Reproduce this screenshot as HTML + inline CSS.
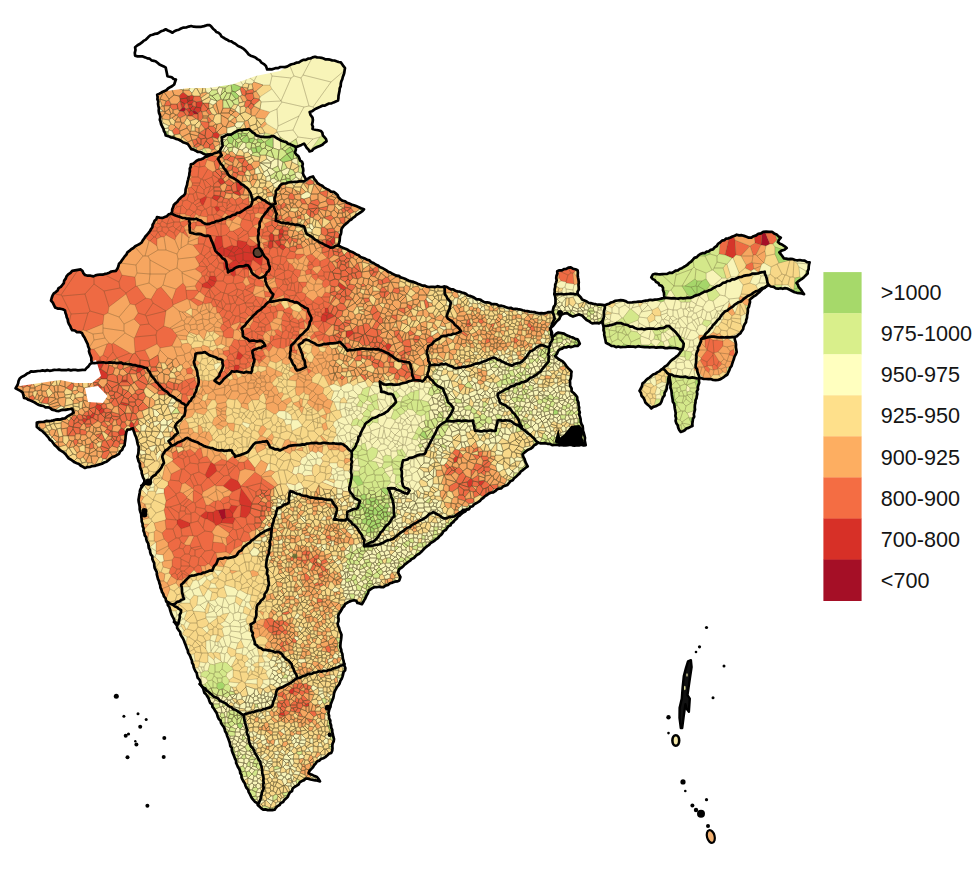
<!DOCTYPE html><html><head><meta charset="utf-8"><style>
html,body{margin:0;padding:0;background:#fff;overflow:hidden}
svg{display:block}
</style></head><body>
<svg width="973" height="883" viewBox="0 0 973 883">
<defs><clipPath id="clipIndia"><polygon points="135.1,47.2 140.2,43.8 150.4,35.3 158.9,32.7 165.7,29.3 172.5,32.7 181.0,28.5 191.2,26.0 201.3,26.8 209.8,25.1 214.9,30.2 225.1,38.7 235.3,43.8 245.5,50.6 250.6,55.7 257.4,59.1 265.9,65.9 267.2,69.5 287.0,66.6 301.0,61.0 315.0,56.7 340.8,62.4 345.0,68.0 340.8,83.6 338.0,100.6 318.0,107.7 309.7,112.0 312.5,117.6 312.5,129.0 321.0,131.0 326.6,141.3 319.8,145.9 309.6,151.5 304.0,143.6 296.0,147.0 294.9,152.6 299.4,158.3 302.8,164.0 302.8,173.0 306.2,179.8 309.6,177.6 313.0,176.4 317.6,183.2 326.6,188.9 335.7,193.4 340.2,199.0 349.3,203.6 358.3,207.0 364.0,209.3 358.3,213.8 349.3,220.6 342.5,227.4 340.0,236.0 338.3,245.4 350.0,251.3 373.6,263.0 388.3,271.9 409.0,280.7 426.6,286.6 444.3,286.6 462.0,292.5 482.6,301.3 506.0,307.2 529.7,311.6 541.3,313.2 552.6,312.1 555.5,302.0 554.3,294.0 556.0,282.6 557.2,271.3 570.8,267.4 577.6,270.2 578.7,287.2 577.6,294.0 582.1,299.6 588.9,303.0 598.0,304.7 604.7,305.3 615.0,300.8 620.6,300.2 630.0,302.5 636.6,301.9 657.2,299.5 664.5,298.0 663.0,287.7 651.3,277.4 652.8,274.5 671.9,273.0 683.7,267.0 698.4,255.3 713.0,249.4 722.0,240.6 736.7,234.7 751.4,237.7 763.2,231.8 772.0,231.8 780.8,237.7 777.9,242.0 786.7,248.0 779.4,252.4 783.8,258.3 802.1,260.5 809.6,262.4 807.7,273.6 796.5,282.9 804.0,294.1 794.6,292.3 787.2,288.5 776.0,288.5 768.5,284.8 761.0,290.4 749.8,299.7 747.9,311.0 746.0,322.2 740.4,333.4 734.8,337.1 736.7,352.0 733.0,361.4 727.4,374.5 718.0,380.0 706.0,379.0 699.3,378.2 698.4,385.0 695.5,402.6 692.5,426.0 680.7,432.0 676.3,423.2 674.8,408.5 670.4,387.8 669.5,374.6 666.0,390.8 660.1,404.0 651.3,408.5 645.4,402.6 639.5,390.8 642.5,383.4 651.3,376.0 663.0,368.7 670.4,361.3 677.8,355.5 682.2,349.6 672.0,348.0 633.6,346.6 620.6,347.2 611.5,346.0 605.9,342.7 604.7,337.0 603.6,328.0 602.5,321.2 599.0,323.4 592.3,323.4 586.6,320.0 582.1,315.5 578.7,314.4 573.0,316.6 567.4,313.2 561.7,314.4 559.4,318.9 555.0,323.4 550.4,328.0 552.6,337.0 558.3,332.5 564.0,333.6 570.8,337.0 577.6,339.3 579.8,343.8 577.6,346.0 564.0,347.2 558.3,350.6 555.0,356.3 563.0,361.7 571.6,371.6 570.1,382.9 571.6,391.4 577.2,397.0 578.6,405.5 580.0,416.9 582.9,428.2 585.7,445.2 554.6,445.0 537.9,442.5 522.6,454.4 527.7,466.3 520.9,471.4 507.3,485.0 487.0,495.0 459.7,515.5 436.0,539.3 415.5,556.3 399.3,569.0 398.1,572.5 400.4,577.0 399.3,580.4 392.5,582.6 383.4,587.2 374.4,587.2 368.7,590.6 365.3,598.5 361.9,604.2 357.4,603.0 356.2,600.8 351.7,600.8 345.0,604.2 341.5,609.8 338.1,616.6 338.1,625.7 341.5,634.7 340.4,645.0 342.6,656.3 345.4,668.0 342.5,676.6 334.0,693.6 328.4,713.4 331.2,727.6 334.0,739.0 331.2,753.0 317.0,761.6 308.5,773.0 317.0,777.0 320.0,781.4 305.7,778.5 294.4,787.0 286.0,798.4 274.6,809.7 263.2,809.7 252.0,798.4 243.4,781.4 235.0,758.7 226.4,733.2 215.0,710.6 203.8,690.8 195.3,671.0 186.8,648.3 184.0,640.7 175.5,623.7 170.0,609.5 161.4,589.7 155.7,570.0 150.0,550.0 144.4,533.0 141.6,519.0 138.7,502.0 140.0,490.6 144.4,482.0 141.6,470.8 137.3,456.6 138.7,446.7 136.0,436.8 133.0,428.3 127.4,429.7 126.0,434.0 124.6,445.3 119.0,453.8 102.0,463.7 85.0,468.0 70.8,459.5 56.6,446.7 45.3,434.0 36.8,427.0 36.8,422.6 51.0,420.8 65.0,418.4 73.6,412.7 72.2,408.5 56.6,411.0 36.8,403.8 24.0,398.0 22.6,392.5 15.6,388.3 19.8,378.4 31.0,371.3 56.6,370.0 85.0,370.0 92.0,362.8 90.6,355.7 87.8,344.4 82.0,333.0 72.2,330.2 68.0,321.7 65.0,310.4 55.2,307.6 51.0,300.5 53.8,293.4 62.3,285.0 66.5,276.4 72.2,270.8 80.7,269.4 85.0,275.0 93.4,276.4 116.0,270.8 119.0,263.7 127.4,252.4 141.6,242.5 150.0,231.0 157.0,217.0 162.5,218.0 171.0,213.8 173.8,205.0 185.0,194.0 188.0,180.0 190.8,164.3 205.0,157.0 212.0,154.4 204.7,154.2 191.2,149.1 187.8,144.0 175.9,138.9 165.7,135.5 160.6,121.9 158.9,108.3 157.2,94.7 164.0,91.3 174.2,84.5 175.9,79.5 167.4,76.1 165.7,67.6 153.8,60.8 145.3,57.4 135.1,55.7"/></clipPath>
<filter id="soft" x="-5%" y="-5%" width="110%" height="110%"><feGaussianBlur stdDeviation="2"/></filter></defs>
<rect width="973" height="883" fill="#fff"/>
<path d="M296.0,147.0L304.0,143.6L309.6,151.5L319.8,145.9L326.6,141.3L321.0,131.0L312.5,129.0L312.5,117.6L309.7,112.0L318.0,107.7L338.0,100.6L340.8,83.6L345.0,68.0L340.8,62.4L315.0,56.7L301.0,61.0L287.0,66.6L267.2,69.5L265.9,65.9L257.4,59.1L250.6,55.7L245.5,50.6L235.3,43.8L225.1,38.7L214.9,30.2L209.8,25.1L201.3,26.8L191.2,26.0L181.0,28.5L172.5,32.7L165.7,29.3L158.9,32.7L150.4,35.3L140.2,43.8L135.1,47.2L135.1,55.7L145.3,57.4L153.8,60.8L165.7,67.6L167.4,76.1L175.9,79.5L174.2,84.5L164.0,91.3L157.2,94.7L158.9,108.3L160.6,121.9L165.7,135.5L175.9,138.9L187.8,144.0L191.2,149.1L204.7,154.2L212.0,154.4L219.9,151.0L222.6,146.0L221.7,137.2L232.5,133.6L239.8,130.0L248.9,129.0L256.1,135.4L265.2,137.2L274.2,136.3L281.5,140.8L290.5,144.4L296.0,147.0Z" fill="#fbf3bd"/><path d="M306.2,179.8L302.8,173.0L302.8,164.0L299.4,158.3L294.9,152.6L296.0,147.0L290.5,144.4L281.5,140.8L274.2,136.3L265.2,137.2L256.1,135.4L248.9,129.0L239.8,130.0L232.5,133.6L221.7,137.2L222.6,146.0L219.9,151.0L221.7,155.3L218.0,158.9L225.3,169.8L230.7,177.0L239.8,182.5L247.0,187.9L250.7,193.3L252.5,200.6L257.9,197.0L267.0,202.4L272.4,205.0L275.7,203.6L274.5,200.2L275.7,191.2L281.3,184.4L292.6,182.0L304.0,181.5L306.2,179.8Z" fill="#d5d98a"/><path d="M338.3,245.4L340.0,236.0L342.5,227.4L349.3,220.6L358.3,213.8L364.0,209.3L358.3,207.0L349.3,203.6L340.2,199.0L335.7,193.4L326.6,188.9L317.6,183.2L313.0,176.4L309.6,177.6L306.2,179.8L304.0,181.5L292.6,182.0L281.3,184.4L275.7,191.2L274.5,200.2L275.7,203.6L272.4,205.0L276.8,213.8L275.7,220.6L281.3,222.9L292.6,224.0L304.0,226.3L306.8,234.0L319.5,242.3L330.4,247.7L338.3,245.4Z" fill="#ee9258"/><path d="M444.3,286.6L426.6,286.6L409.0,280.7L388.3,271.9L373.6,263.0L350.0,251.3L338.3,245.4L330.4,247.7L319.5,242.3L306.8,234.0L304.0,226.3L292.6,224.0L281.3,222.9L275.7,220.6L276.8,213.8L272.4,205.0L265.2,213.3L259.7,222.3L257.9,238.1L258.9,247.2L264.3,256.2L267.9,259.9L269.7,268.9L264.3,276.2L267.9,287.0L273.3,294.3L269.7,301.5L286.0,299.7L298.7,303.3L307.8,308.8L311.4,317.8L307.8,328.7L298.7,337.8L291.5,345.0L289.7,357.7L296.9,370.4L306.0,366.8L302.3,354.1L298.7,345.0L306.0,339.6L316.8,345.0L335.0,343.2L340.0,341.8L347.4,350.6L359.1,349.1L378.3,349.1L388.6,353.6L398.9,360.9L409.2,362.4L412.1,371.2L413.6,380.0L422.4,381.5L427.5,376.0L429.8,365.3L426.9,353.6L428.3,346.2L443.1,335.9L450.8,335.0L461.0,331.0L454.8,324.8L446.7,316.7L448.7,310.6L450.8,302.4L444.7,294.3L444.3,286.6Z" fill="#ea8a55"/><path d="M552.6,312.1L541.3,313.2L529.7,311.6L506.0,307.2L482.6,301.3L462.0,292.5L444.3,286.6L444.7,294.3L450.8,302.4L448.7,310.6L446.7,316.7L454.8,324.8L461.0,331.0L450.8,335.0L443.1,335.9L428.3,346.2L426.9,353.6L429.8,365.3L446.0,363.9L456.3,368.3L471.1,365.6L483.4,361.5L493.6,357.5L501.7,361.5L511.9,365.6L522.1,361.5L530.3,351.3L540.5,345.2L548.6,347.3L552.7,339.1L550.6,328.9L550.6,328.9L550.4,328.0L551.3,327.1L554.7,318.7L552.6,312.1Z" fill="#dba46c"/><path d="M554.3,294.0L555.5,302.0L552.6,312.1L554.7,318.7L551.3,327.1L555.0,323.4L559.4,318.9L561.7,314.4L567.4,313.2L573.0,316.6L578.7,314.4L582.1,315.5L586.6,320.0L592.3,323.4L599.0,323.4L602.5,321.2L603.6,318.0L604.7,305.3L598.0,304.7L588.9,303.0L582.1,299.6L577.6,294.0L554.3,294.0Z" fill="#d8d690"/><path d="M577.6,294.0L578.7,287.2L577.6,270.2L570.8,267.4L557.2,271.3L556.0,282.6L554.3,294.0L577.6,294.0Z" fill="#e8a070"/><path d="M664.5,298.0L657.2,299.5L636.6,301.9L630.0,302.5L620.6,300.2L615.0,300.8L604.7,305.3L603.6,318.0L602.5,321.2L603.3,326.2L604.2,326.0L618.9,323.0L639.5,329.0L657.2,329.0L669.0,326.0L677.8,334.8L683.7,343.7L682.2,349.6L677.8,355.5L670.4,361.3L663.0,368.7L669.5,374.6L683.0,377.0L699.3,378.2L695.6,365.1L697.0,352.0L701.2,339.0L714.3,324.0L723.6,312.8L736.7,303.5L751.7,294.1L768.5,284.8L764.7,271.7L746.0,275.4L727.4,281.0L708.7,290.4L690.0,297.9L676.0,298.5L664.5,298.0Z" fill="#e4e2a0"/><path d="M768.5,284.8L776.0,288.5L787.2,288.5L794.6,292.3L804.0,294.1L796.5,282.9L807.7,273.6L809.6,262.4L802.1,260.5L783.8,258.3L779.4,252.4L786.7,248.0L777.9,242.0L780.8,237.7L772.0,231.8L763.2,231.8L751.4,237.7L736.7,234.7L722.0,240.6L713.0,249.4L698.4,255.3L683.7,267.0L671.9,273.0L652.8,274.5L651.3,277.4L663.0,287.7L664.5,298.0L676.0,298.5L690.0,297.9L708.7,290.4L727.4,281.0L746.0,275.4L764.7,271.7L768.5,284.8Z" fill="#bcd87e"/><path d="M734.8,337.1L740.4,333.4L746.0,322.2L747.9,311.0L749.8,299.7L761.0,290.4L768.5,284.8L751.7,294.1L736.7,303.5L723.6,312.8L714.3,324.0L701.2,339.0L708.7,337.1L721.8,337.1L734.8,337.1Z" fill="#e8b070"/><path d="M699.3,378.2L706.0,379.0L718.0,380.0L727.4,374.5L733.0,361.4L736.7,352.0L734.8,337.1L721.8,337.1L708.7,337.1L701.2,339.0L697.0,352.0L695.6,365.1L699.3,378.2Z" fill="#ee9c60"/><path d="M669.5,374.6L670.4,387.8L674.8,408.5L676.3,423.2L680.7,432.0L692.5,426.0L695.5,402.6L698.4,385.0L699.3,378.2L683.0,377.0L669.5,374.6Z" fill="#d2df90"/><path d="M663.0,368.7L651.3,376.0L642.5,383.4L639.5,390.8L645.4,402.6L651.3,408.5L660.1,404.0L666.0,390.8L669.5,374.6L663.0,368.7Z" fill="#e4d890"/><path d="M603.3,326.2L603.6,328.0L604.7,337.0L605.9,342.7L611.5,346.0L620.6,347.2L633.6,346.6L672.0,348.0L682.2,349.6L683.7,343.7L677.8,334.8L669.0,326.0L657.2,329.0L639.5,329.0L618.9,323.0L604.2,326.0L603.3,326.2Z" fill="#d6e39a"/><path d="M551.3,327.1L550.4,328.0L550.6,328.9L551.3,327.1Z" fill="#d8d690"/><path d="M537.9,442.5L554.6,445.0L585.7,445.2L582.9,428.2L580.0,416.9L578.6,405.5L577.2,397.0L571.6,391.4L570.1,382.9L571.6,371.6L563.0,361.7L555.0,356.3L558.3,350.6L564.0,347.2L577.6,346.0L579.8,343.8L577.6,339.3L570.8,337.0L564.0,333.6L558.3,332.5L552.6,337.0L550.6,328.9L550.6,328.9L552.7,339.1L548.6,347.3L548.6,361.5L540.5,371.7L524.1,381.9L511.9,386.0L497.6,394.1L499.7,402.3L509.9,408.4L518.0,418.6L522.1,428.8L532.3,437.0L537.9,442.5Z" fill="#d8d690"/><path d="M468.5,508.9L487.0,495.0L507.3,485.0L520.9,471.4L527.7,466.3L522.6,454.4L537.9,442.5L532.3,437.0L522.1,428.8L520.1,426.8L509.9,420.6L497.6,420.6L495.6,430.8L475.2,430.8L473.2,420.6L456.9,420.6L446.4,421.1L437.5,428.0L433.2,436.7L428.9,445.3L424.6,453.9L416.0,456.0L403.1,460.3L401.0,469.0L403.1,486.1L409.6,490.4L407.4,493.7L394.5,488.3L388.0,488.3L392.4,499.0L394.5,516.2L383.8,529.1L375.2,539.9L364.4,546.3L379.5,544.2L394.5,537.7L405.3,529.1L420.3,520.5L433.2,512.0L444.0,518.4L454.7,516.2L463.3,509.8L468.0,509.0L468.5,508.9Z" fill="#e6d48c"/><path d="M344.4,664.0L342.6,656.3L340.4,645.0L341.5,634.7L338.1,625.7L338.1,616.6L341.5,609.8L345.0,604.2L351.7,600.8L356.2,600.8L357.4,603.0L361.9,604.2L365.3,598.5L368.7,590.6L374.4,587.2L383.4,587.2L392.5,582.6L399.3,580.4L400.4,577.0L398.1,572.5L399.3,569.0L415.5,556.3L436.0,539.3L459.7,515.5L468.5,508.9L468.0,509.0L463.3,509.8L454.7,516.2L444.0,518.4L433.2,512.0L420.3,520.5L405.3,529.1L394.5,537.7L379.5,544.2L364.4,546.3L364.4,539.9L358.0,529.1L347.2,518.4L345.0,520.5L334.0,519.6L336.9,508.3L331.2,499.8L308.5,497.0L290.1,491.3L288.7,502.7L277.4,508.3L271.7,528.1L268.9,550.8L266.1,565.0L268.9,584.8L263.2,598.9L257.6,604.6L254.8,621.6L250.5,624.4L254.8,644.2L263.2,649.9L280.2,652.7L291.6,664.0L297.2,678.2L314.2,672.5L331.2,669.7L344.4,664.0Z" fill="#e9ad70"/><path d="M258.1,804.6L263.2,809.7L274.6,809.7L286.0,798.4L294.4,787.0L305.7,778.5L320.0,781.4L317.0,777.0L308.5,773.0L317.0,761.6L331.2,753.0L334.0,739.0L331.2,727.6L328.4,713.4L334.0,693.6L342.5,676.6L345.4,668.0L344.4,664.0L331.2,669.7L314.2,672.5L297.2,678.2L288.7,683.9L277.4,689.5L271.7,706.5L263.2,709.3L243.4,715.0L246.3,727.6L249.1,741.7L254.8,753.0L260.4,761.6L263.2,775.7L263.2,789.9L258.1,804.6Z" fill="#ebb678"/><path d="M201.7,685.9L203.8,690.8L215.0,710.6L226.4,733.2L235.0,758.7L243.4,781.4L252.0,798.4L258.1,804.6L263.2,789.9L263.2,775.7L260.4,761.6L254.8,753.0L249.1,741.7L246.3,727.6L243.4,715.0L229.3,706.5L212.3,695.2L201.7,685.9Z" fill="#e0e29c"/><path d="M175.1,622.6L175.5,623.7L184.0,640.7L186.8,648.3L195.3,671.0L201.7,685.9L212.3,695.2L229.3,706.5L243.4,715.0L263.2,709.3L271.7,706.5L277.4,689.5L288.7,683.9L297.2,678.2L291.6,664.0L280.2,652.7L263.2,649.9L254.8,644.2L250.5,624.4L254.8,621.6L257.6,604.6L263.2,598.9L268.9,584.8L266.1,565.0L268.9,550.8L271.7,528.1L260.4,533.8L246.3,545.1L235.0,556.4L218.0,559.3L212.3,570.6L189.6,576.3L181.1,584.8L184.0,598.9L172.7,604.6L181.1,610.2L178.3,624.4L175.1,622.6Z" fill="#f3d38c"/><path d="M166.5,601.5L170.0,609.5L175.1,622.6L178.3,624.4L181.1,610.2L172.7,604.6L166.5,601.5Z" fill="#f0d890"/><path d="M142.9,484.9L140.0,490.6L138.7,502.0L141.6,519.0L144.4,533.0L150.0,550.0L155.7,570.0L161.4,589.7L166.5,601.5L172.7,604.6L184.0,598.9L181.1,584.8L189.6,576.3L212.3,570.6L218.0,559.3L235.0,556.4L246.3,545.1L260.4,533.8L271.7,528.1L277.4,508.3L288.7,502.7L290.1,491.3L308.5,497.0L331.2,499.8L336.9,508.3L334.0,519.6L345.0,520.5L347.2,518.4L347.2,511.9L358.0,507.6L360.1,501.2L353.7,496.9L349.4,490.4L351.5,477.5L351.5,466.8L351.5,451.7L342.9,444.2L333.8,443.2L314.0,443.2L288.5,446.1L280.0,450.5L270.0,447.3L266.8,441.0L255.7,442.6L247.8,452.0L235.1,456.8L231.9,450.5L219.3,450.5L203.4,445.7L187.6,437.8L171.7,445.7L165.4,450.5L162.2,456.8L164.0,463.0L158.3,471.6L147.0,482.9L142.9,484.9Z" fill="#ec7148"/><path d="M92.0,362.8L85.0,370.0L56.6,370.0L31.0,371.3L19.8,378.4L15.6,388.3L22.6,392.5L24.0,398.0L36.8,403.8L56.6,411.0L72.2,408.5L73.6,412.7L65.0,418.4L51.0,420.8L36.8,422.6L36.8,427.0L45.3,434.0L56.6,446.7L70.8,459.5L85.0,468.0L102.0,463.7L119.0,453.8L124.6,445.3L126.0,434.0L127.4,429.7L133.0,428.3L136.0,436.8L138.7,446.7L137.3,456.6L141.6,470.8L144.4,482.0L142.9,484.9L147.0,482.9L158.3,471.6L164.0,463.0L162.2,456.8L165.4,450.5L171.7,445.7L168.5,441.0L178.0,433.0L174.9,426.7L178.0,422.0L184.4,415.6L186.0,406.0L180.0,401.0L169.7,395.0L156.0,382.0L147.0,368.0L135.0,365.0L118.9,362.8L92.0,362.8Z" fill="#ec8450"/><path d="M171.0,213.8L162.5,218.0L157.0,217.0L150.0,231.0L141.6,242.5L127.4,252.4L119.0,263.7L116.0,270.8L93.4,276.4L85.0,275.0L80.7,269.4L72.2,270.8L66.5,276.4L62.3,285.0L53.8,293.4L51.0,300.5L55.2,307.6L65.0,310.4L68.0,321.7L72.2,330.2L82.0,333.0L87.8,344.4L90.6,355.7L92.0,362.8L118.9,362.8L135.0,365.0L147.0,368.0L156.0,382.0L169.7,395.0L180.0,401.0L186.0,406.0L193.9,396.5L198.7,382.3L197.1,371.2L193.9,361.7L195.5,353.8L205.0,352.2L209.8,355.4L222.5,360.1L222.5,368.0L219.3,376.0L214.5,380.7L219.3,383.9L227.2,376.0L232.0,371.2L251.0,372.8L254.2,361.7L252.6,350.6L265.2,345.9L262.0,341.1L249.4,341.1L243.0,336.3L241.6,328.7L248.0,321.5L258.9,310.6L269.7,301.5L273.3,294.3L267.9,287.0L264.3,276.2L258.9,278.0L253.4,274.4L248.0,265.3L237.1,267.1L228.0,272.5L226.2,261.7L215.4,250.8L209.9,236.3L190.0,232.7L189.1,218.7L180.0,216.9L171.0,213.8Z" fill="#ec7048"/><path d="M212.0,154.4L205.0,157.0L190.8,164.3L188.0,180.0L185.0,194.0L173.8,205.0L171.0,213.8L180.0,216.9L189.1,218.7L196.3,218.7L207.2,224.2L225.3,218.7L232.5,215.1L241.6,211.5L250.7,206.0L252.5,200.6L250.7,193.3L247.0,187.9L239.8,182.5L230.7,177.0L225.3,169.8L218.0,158.9L221.7,155.3L219.9,151.0L212.0,154.4Z" fill="#e4653f"/><path d="M252.5,200.6L250.7,206.0L241.6,211.5L232.5,215.1L225.3,218.7L207.2,224.2L196.3,218.7L189.1,218.7L190.0,232.7L209.9,236.3L215.4,250.8L226.2,261.7L228.0,272.5L237.1,267.1L248.0,265.3L253.4,274.4L258.9,278.0L264.3,276.2L269.7,268.9L267.9,259.9L264.3,256.2L258.9,247.2L257.9,238.1L259.7,222.3L265.2,213.3L272.4,205.0L267.0,202.4L257.9,197.0L252.5,200.6Z" fill="#e25f3d"/><path d="M413.6,380.0L412.1,371.2L409.2,362.4L398.9,360.9L388.6,353.6L378.3,349.1L359.1,349.1L347.4,350.6L340.0,341.8L335.0,343.2L316.8,345.0L306.0,339.6L298.7,345.0L302.3,354.1L306.0,366.8L296.9,370.4L289.7,357.7L291.5,345.0L298.7,337.8L307.8,328.7L311.4,317.8L307.8,308.8L298.7,303.3L286.0,299.7L269.7,301.5L258.9,310.6L248.0,321.5L241.6,328.7L243.0,336.3L249.4,341.1L262.0,341.1L265.2,345.9L252.6,350.6L254.2,361.7L251.0,372.8L232.0,371.2L227.2,376.0L219.3,383.9L214.5,380.7L219.3,376.0L222.5,368.0L222.5,360.1L209.8,355.4L205.0,352.2L195.5,353.8L193.9,361.7L197.1,371.2L198.7,382.3L193.9,396.5L186.0,406.0L184.4,415.6L178.0,422.0L174.9,426.7L178.0,433.0L168.5,441.0L171.7,445.7L187.6,437.8L203.4,445.7L219.3,450.5L231.9,450.5L235.1,456.8L247.8,452.0L255.7,442.6L266.8,441.0L270.0,447.3L280.0,450.5L288.5,446.1L314.0,443.2L333.8,443.2L342.9,444.2L351.5,451.7L354.7,447.8L360.6,433.1L365.0,424.2L372.4,418.3L385.6,412.4L396.0,402.1L393.0,394.8L381.2,391.8L379.8,381.5L384.2,384.5L398.9,384.5L413.6,380.0Z" fill="#f5c27d"/><path d="M351.5,451.7L351.5,466.8L351.5,477.5L349.4,490.4L353.7,496.9L360.1,501.2L358.0,507.6L347.2,511.9L347.2,518.4L358.0,529.1L364.4,539.9L364.4,546.3L375.2,539.9L383.8,529.1L394.5,516.2L392.4,499.0L388.0,488.3L394.5,488.3L407.4,493.7L409.6,490.4L403.1,486.1L401.0,469.0L403.1,460.3L416.0,456.0L424.6,453.9L428.9,445.3L433.2,436.7L437.5,428.0L446.4,421.1L449.0,416.9L453.4,408.0L447.5,400.7L443.1,388.9L435.7,384.5L427.5,376.0L422.4,381.5L413.6,380.0L398.9,384.5L384.2,384.5L379.8,381.5L381.2,391.8L393.0,394.8L396.0,402.1L385.6,412.4L372.4,418.3L365.0,424.2L360.6,433.1L354.7,447.8L351.5,451.7Z" fill="#d2e390"/><path d="M429.8,365.3L427.5,376.0L435.7,384.5L443.1,388.9L447.5,400.7L453.4,408.0L449.0,416.9L446.4,421.1L456.9,420.6L473.2,420.6L475.2,430.8L495.6,430.8L497.6,420.6L509.9,420.6L520.1,426.8L522.1,428.8L518.0,418.6L509.9,408.4L499.7,402.3L497.6,394.1L511.9,386.0L524.1,381.9L540.5,371.7L548.6,361.5L548.6,347.3L540.5,345.2L530.3,351.3L522.1,361.5L511.9,365.6L501.7,361.5L493.6,357.5L483.4,361.5L471.1,365.6L456.3,368.3L446.0,363.9L429.8,365.3Z" fill="#dcd68e"/><g stroke="#4e4426" stroke-opacity="0.3" stroke-width="0.55" stroke-linejoin="round"><path fill="#a50f26" d="M761 245l5 1 4-2-5-12-2 0-1 1zM222 520l-4-10 6-1 1 0 1 9z"/><path fill="#d5352a" d="M200 199l6-3 1 1-4 9-1-1-2-3zM219 207l1 3-3 2-3-5 3-1zM755 243l6 2 1-12-8 3zM221 236l1 0 1 10-6 4-4-3 3-11 3 0zM234 246l-3 5-6-3 7-3zM247 244l-5 5-3-1-2-2 0-5 1-1 9 2zM237 246l2 2-5 5-3-2 3-5zM247 244l-5 5 1 3 8 1-1-7zM254 246l-1 8-2-1-1-7zM254 246l-1 8 1 1 5-2-1-7 0-2-1 0zM725 255l7 3 1 0 3-3-1-15-1-4-5 2zM224 248l0 8-7 0 0-6 6-4zM231 251l-6-3-1 0 0 8 1 1 2 0 1-1zM231 251l-3 5 7 0 0-1-1-2zM234 253l1 2 8-2 0-1-1-3-3-1zM233 261l-6-4 1-1 7 0 1 4zM239 263l4-3 0-7-8 2 0 1 1 4zM251 253l-8-1 0 1 0 7 3 1 6 0 1-1 1-5-1-1zM263 254l-4-1-5 2-1 5 8 6 1-1zM223 263l1 7 5-1 1-1-1-4-4-3zM230 268l5 0 4-4 0-1-3-3-3 1-4 3zM239 263l4-3 3 1 0 8-2 1-1-1-4-5zM250 270l2-9-6 0 0 8 3 1zM230 268l5 0 1 7-2 2-3-2-2-6zM209 279l0-2 1-1 5 0 1 1 1 4-1 1zM209 279l7 3-2 4-2 1-5-5zM207 282l-1 0-4 2 0 3 8 2 2-2zM325 308l0 4 4 1-1-5zM325 312l-3 2 5 2 2-3zM322 314l5 2 0 4-1 2-3 0-2-1 0-4zM243 356l0-1-5-4-2 8 4 1zM234 366l0 6 1 0 3-1 2-4-1-2-4 0zM211 462l-6 13 2 3 2 0 8-7-2-6-1-1zM229 490l-6-4 8-8 7 3 3 5 0 2-9 4zM241 488l-2 13 1 4 1 0 10 2 1-3 0-1zM229 509l4 5 5-8-7-1zM226 518l-1-9 4 0 4 5 0 3zM240 517l6 1 4-5 1-5 0-1-10-2zM200 516l6-5 2 1-1 7-2 0zM207 519l7 4-1-11-5 0zM222 520l-4-10-2 0-3 2 1 11 2 3 2-1 2-1 1-1zM222 520l4-2 7-1 2 1 0 1-2 5-12-1zM180 519l10 4 0 3-9 3-4-5 0-4 2-1z"/><path fill="#ee6a43" d="M211 155l-2 0 0 1-2 3 0 1 7 2 3-3 1-2zM194 166l5 1 1 0-1-7-6 3zM204 157l-5 3 1 7 5-1 2-6 0-1zM191 168l-1 2-1 3 3 4 6 0 1-10-5-1zM200 167l-1 0-1 10 3 2 1 0 6-10-3-3zM212 177l1-2 0-3-5-3-6 10 1 1 2 0zM201 179l-3-2-6 0-2 2 2 4 8 0zM212 177l2 7-1 3-2-1-6-6zM212 177l1-2 6 4-1 2-4 3zM200 183l-8 0 0 2 6 1 1-1zM201 179l-1 4-1 2 5 5 2-2-3-8-1-1zM205 180l-2 0 3 8 5-2zM196 192l-3 2-4 0-1-6 3-1zM196 192l2-6-6-1-1 2zM204 194l0-4-5-5-1 1-2 6zM206 196l-2-2 0-4 2-2 5-2-3 7zM211 186l-3 7 6-5 0-1-1 0zM206 196l2-3 6-5 0 3 0 4-2 3-1 0-4-1zM183 201l4-1 2-6-4-1 0 1-5 5zM193 203l-1 0-5-3 2-6 4 0 2 7zM195 201l-2-7 3-2 2 7zM198 199l-2-7 8 2 2 2-6 3zM195 205l5-3 0-3-2 0-3 2-2 2zM222 202l2-4 5 1-2 4zM227 203l2-4 1 4-3 3zM235 200l-3-3-3 2 1 4 3 2 4 0zM242 203l1-3-3-3-5 3 2 5 1 0zM248 205l1-1 0-2 0-5-6 3-1 3zM261 202l3 4 2-4-2-2-1 0zM172 212l5-5-1-4-2 2zM177 207l4-1 1-1 1-4-3-2-4 4zM192 203l-3 6-2 1-5-5 1-4 4-1zM195 205l2 2 5-2-2-3zM207 197l4 1 0 8-5 3-1 0-2-3zM217 201l-5-3-1 0 0 8 1 1 2 0 3-1 1-4zM222 202l-4 0-1 4 2 1 4-1zM222 202l5 1 0 3 0 3-1 0-3-3zM227 206l3-3 3 2-6 4zM248 205l-6-2-4 2 3 5 5 0zM260 208l-1 0-6 0 0-2 5-3zM261 202l-3 0 0 1 2 5 4 0 0-2zM264 206l0 2 1 1 4-1 2-5-1-1-4 0zM180 214l-8-2 5-5 4-1zM180 214l1-8 1-1 5 5-2 4zM195 205l2 2 0 2-2 3-1 0-5-3 3-6 1 0zM197 209l0-2 5-2 1 1 2 3-3 2zM223 206l-4 1 1 3 5 2 1-2 0-1zM227 209l6-4 4 0-3 7-8-2 0-1zM241 210l-2 7-2-1-2-2-1-2 3-7 1 0zM248 205l1-1 4 2 0 2 0 2-7 1 0-1zM254 213l-1-3 0-2 6 0-1 5-3 1zM260 208l-1 0-1 5 6 1 1-5-1-1zM194 212l-4 4-4-1-1-1 2-4 2-1zM197 209l5 2-2 5-1 0-3-2-1-2zM200 216l7 1 1-2-2-6-1 0-3 2zM208 215l-2-6 5-3 1 1 0 8zM217 212l-1 2-3 1-1 0 0-8 2 0zM222 217l-6-3 1-2 3-2 5 2 0 1zM225 213l0-1 1-2 8 2 1 2-6 2zM246 210l0 1 1 2-4 6-1 0-3-2 2-7zM254 213l-4 1-3-1-1-2 7-1zM264 214l4 1 2-6-1-1-4 1zM170 216l4 6 6 0 0-8-8-2-1 2-1 1zM195 212l-1 0-4 4 1 2 2 1 3-5zM215 221l-2-6 3-1 6 3zM237 216l-2-2-6 2 1 4 2 1zM250 214l1 7-8-2 4-6zM254 213l-4 1 1 7 1 1 3-5 0-3zM264 214l-1 4 9 2 0-2 0-1-4-2zM157 223l3 1 2-3 0-3-4-1zM162 221l5 3 3-8 0-1-8 3zM167 224l7-2-4-6zM182 226l2 1 4-3 0-3-2-1-6 2 1 3zM215 222l-8 1 0-6 1-2 4 0 1 0 2 6zM223 218l-2 6-6-1 0-1 0-1 7-4zM223 218l-2 6 5 0 0-4zM263 222l-1-3-7-2-3 5 1 4zM157 223l3 1 1 2-4 2-4-3zM161 226l1 1 5 0 0-3-5-3-2 3zM168 228l-1-1 0-3 7-2-1 4zM181 225l-1-3-6 0-1 4 3 3zM188 224l5 6 1 0 2-4 0-4-2 0zM205 226l-9 0 0-4 3-2 6 5zM215 222l-8 1-2 2 0 1 1 3 9-4 0-2zM215 223l0 2 4 11 2 0 0-12zM221 224l0 12 1 0 4-1 4-4-1-3-3-4zM240 225l1 2 3 3 4 2 5-6-1-4-1-1-8-2-1 0zM264 224l8-4 0 5-5 2-2-1zM153 225l-3 6 7 0 0-3zM157 228l0 3 1 1 4-1 0-4-1-1zM169 230l-3 4-4-3 0-4 5 0 1 1zM176 229l-2 4-5-3-1-2 5-2zM182 226l-2 5-4-2 5-4zM182 226l2 1 1 3-2 3-1 0-2-1 0-1zM219 236l-3 0-9-1-1 0 0-6 9-4zM260 236l-3-7 6 0 0 4-1 3-1 1zM263 233l5-2-1-4-2-1-2 3zM157 231l-7 0-1 1 5 5 1 0 3-5zM161 237l-3-5 4-1 4 3 0 1-2 2zM174 233l-5-3-3 4 0 1 9 5 1-3zM180 231l0 1-4 5-2-4 2-4zM189 238l-4-8-2 3zM241 227l-8 4 5 5 6-6zM260 236l-11 1-1-4 0-1 5-6 4 3zM262 236l7 0 2-3-3-2-5 2zM770 244l3 0 4-4-2-6-2-2-2 0-6 0zM154 237l-5-5-4 5 4 4 1 0zM161 237l-3-5-3 5 2 2zM233 231l-3 0-4 4 3 2 8 4 1-1 0-1 0-3zM244 230l4 2 0 1-10 6 0-3zM247 242l-9-2 0-1 10-6 1 4 0 1zM261 237l0 1 8 3 1 0-1-5-7 0zM157 239l-2-2-1 0-4 4 7 5zM201 234l5 1 1 0-3 9-6 0 0-6zM229 237l3 8 2 1 3 0 0-5zM207 235l9 1-3 11-3 1-6-3 0-1zM229 237l-3-2-4 1 1 10 1 2 1 0 7-3zM247 244l3 2 4 0 3-2-8-6-2 4zM268 247l-4 1-1-4 5 2zM269 241l-1 5-5-2-1-1zM200 254l-7-9 5-1 6 0 0 1-3 9zM204 256l6-5 0-3-6-3-3 9zM258 246l6 3-1 5-4-1zM263 254l1-5 0-1 4-1 2 2-1 5zM279 247l4 3-2 6-3 0-1-8zM719 254l6 1 4-17-7 3-2 2zM741 256l9-10-15-6 1 15zM753 255l-3-9 5-3 6 2-5 10zM205 257l2 2 5-4-2-4-6 5zM217 256l0-6-4-3-3 1 0 3 2 4zM269 254l1-5 3-2 4 1 1 8-6 2zM290 251l-1-3-3-1-3 3-2 6 5 1zM328 258l-1 0-5-5 7-2zM210 264l1 0 6-6 0-2-5-1-5 4zM295 258l1-4-1-2-5-1-4 6 1 2 7 0zM305 255l-1-1-8 0-1 4 3 2zM205 257l-3 4-3 3-4-7 5-3 1 0 3 2zM205 257l2 2 3 5-3 3-5-6zM216 268l-5-4 6-6 2 5-2 5zM223 263l-4 0-2-5 0-2 7 0 1 1 0 4zM225 261l0-4 2 0 6 4-4 3zM263 254l-1 11 10-3 0-4-3-4zM278 265l2-1 1-8-3 0-6 2 0 4 0 1zM283 265l4-5 0-1-1-2-5-1-1 8zM306 256l5-2 1 0 4 4-4 5-3-2-3-4zM312 263l0 1 2 3 6-1 0-5-3-3-1 0zM321 268l-1-2 0-5 7-3 1 0 1 1 1 2-2 4zM207 267l-5-6-3 3 0 2zM223 263l-4 0-2 5 6 3 1-1zM281 269l4 2-2-6-3-1-2 1zM285 271l3-1 1-7-2-3-4 5zM292 264l-3-1-1 7 5 2 2-3zM309 261l3 2 0 1-5 2zM308 269l3 1 1-1 2-2-2-3-5 2zM571 273l2 0 1 0 2-3-5-3-3 1zM752 262l-6 3-1 3 6 3 3-2-1-6zM207 268l-6 5-6-4 4-3 8 1zM210 272l-2-1-1-3 0-1 3-3 1 0 5 4-2 4zM235 268l1 7 2 0 5-6-4-5zM255 271l-5-1 2-9 1-1 8 6 0 1zM262 265l-1 1 0 1 0 1 7 2 4-4 0-3 0-1zM272 266l3 5-1 6-3-2-3-5zM277 269l-2 2-3-5 0-3 6 2zM281 269l-3-4-1 4zM321 269l3 3 6 0 1 0-3-7-7 3zM568 275l3-2-3-5-9 3zM207 268l1 3-2 4-2 1-2 0-1-3zM210 272l-2-1-2 4 3 2 1-1zM210 272l0 4 5 0-1-4zM214 272l2-4 1 0 6 3-7 6-1-1zM229 269l2 6-6 0-2-4 1-1zM238 275l5-6 1 1 1 8zM249 270l-3-1-2 1 1 8 2-1 2 0 0-1zM262 272l-1-4 0-1-6 4 0 2 2 5zM262 272l-1-4 7 2 3 5-5 1zM281 269l4 2-1 1-9 5-1 0 1-6 2-2zM295 269l-2 3 0 1 5 5 2-2 1-6-5-1zM306 275l5-1 0-4-3-1-3 2zM312 275l-1-1 0-4 1-1 5 5zM321 269l-4 5 1 2 6 0 0-4zM61 295l17-25-6 1-6 5-4 9-8 8-1 1zM119 282l3-7-4-9-2 5-13 3zM209 279l0-2-3-2-2 1 2 6 1 0zM223 281l2-6-2-4-7 6 1 4zM227 284l6-1 1-6-3-2-6 0-2 6zM257 278l-2-5-6 3 0 1 6 3zM274 278l-10 3 2-5 5-1 3 2 1 0zM275 277l9-5 1 7-1 0-1 1-8-2zM287 279l-2 0-1-7 1-1 3-1 5 2 0 1-2 4zM292 283l2 0 4-2 0-3-5-5-2 4zM312 275l5-1 1 2 0 2-2 3-5-5zM323 281l-5-3 0-2 6 0 2 3zM330 272l-2 8-2-1-2-3 0-4zM561 281l5 1 2-7-9-4-1 0 1 7zM61 295l1 1 23-2 9-10 0-8-1 0-8-1-4-6-3 1zM94 284l10 7 16-3-1-6-16-8-9 2zM119 282l1 6 6 5 10-7-1-9-13-2zM204 276l-2 0-4 5 4 3 4-2zM233 283l1-6 2-2 2 0 7 3-2 4-8 2zM254 284l-4 0-3-7 2 0 6 3zM264 285l0 2-9-1 0-1-1-1 1-4 2-2 6 3zM275 278l8 2 0 4-4 4-1 0-1-1-2-6zM287 285l-3-6-1 1 0 4zM290 283l-2 2-1 0-3-6 1 0 2 0zM292 283l-2 0-3-4 4-2zM568 275l3-2 2 0 1 11-8-1 0-1zM198 281l4 3 0 3-2 5-1 0-2-2-2-4zM216 282l1-1 6 0 4 3-3 9-3-1-7-6zM243 291l2-2 1-3-3-4-8 2 2 5 1 0zM246 290l9-5-1-1-4 0-4 2-1 3zM284 292l-5-4 4-4 4 1 1 0-1 5zM292 283l-2 7-3 0 1-5 2-2zM295 291l1 2 2 0 1-11-1-1-4 2zM307 282l-8 0 4 6 3-2zM330 281l-2-1-2-1-3 2-1 3 1 3 2 1 5-3zM205 296l-5-4 2-5 8 2-1 1zM227 284l6-1 2 1 2 5-9 5-4-1zM246 290l9-5 0 1-2 7zM272 288l5-1 1 1-5 8-4-4zM292 283l-2 7 5 1-1-8zM302 292l-4 1 1-11 4 6zM173 305l14-6-1-9 0-3-3-4-7 6-4 11zM190 300l4-2 5-6-2-2-11 0 1 9 2 1zM205 296l4-6 2 8zM215 296l-2 3-2-1-2-8 1-1zM214 286l7 6-6 4-5-7 2-2zM228 295l0-1 9-5 1 0-2 6-4 1zM237 297l-1-2 2-6 5 2 0 2zM243 293l0-2 2-2 1 1 7 3-9 4zM264 291l1 6 8 0 0-1-4-4zM274 298l1 1 9-4 0-2 0-1-5-4-1 0-5 8 0 1zM296 295l-7 1-5-3 0-1 3-2 3 0 5 1 1 2zM330 293l-5-1-3 5 8 0 1-2zM120 288l6 5 0 1-17 13-5-16zM126 293l10-7 1 0 9 12-11 7-5-1-4-10zM166 311l-13-8-2-4 6-10 4-2 11 13 1 5 0 1zM220 301l-6-2-1 0 2-3 6-4 3 1-2 6-1 2zM235 303l3-6-1 0-1-2-4 1zM237 297l6-4 1 4 0 4-6-4zM244 301l1 2 9-8-1-2-9 4zM284 298l0-3 0-2 5 3 1 3-3 1zM293 300l-3-1-1-3 7-1zM301 301l3-1 2-4 0-2-4-2-4 1-2 0 0 2zM322 297l-1 0 3 4 5 2 1-6zM104 291l5 16-1 6-4 2-14-4-5-17 9-10zM203 304l-5 2-8-6 4-2 9 4 0 1zM205 296l-2 6 0 1 2 1 4-1 2 0 2-4-2-1zM220 301l-6-2 3 7zM230 304l-4 0-4-5 2-6 4 1 0 1zM230 304l-2-9 4 1 3 7-4 1zM238 297l-3 6 2 2 2 0 6-2-1-2zM254 295l-9 8 8 0 3-4-1-3zM255 296l9 2-3 8-5-7zM268 302l-3-4-1 0-3 8 0 1 5-1 2-3zM294 304l-1-4 3-5 5 6-2 3zM312 304l-5 1-3-5 2-4 7 5 0 1zM319 305l-6-3 0-1 5-5 3 1 3 4-1 2zM217 306l-1 1-3 0-2-4 2-4 1 0zM220 301l-3 5 6 3-2-8zM221 301l1-2 4 5-3 5zM230 304l-4 0-3 5 4 2 3 0 1-7zM254 306l-1-3-8 0 2 4 1 0zM255 306l6 1 0-1-5-7-3 4 1 3zM268 303l-2 3 4 2 2-2-1-2zM281 303l-1 0-5 3 2 5 1 0 5 0 2-2zM302 310l5-5-3-5-3 1-2 3zM314 310l-1-1-1-5 1-2 6 3 0 3zM321 310l3-3-1-4-4 2 0 3zM325 308l-1-1-1-4 1-2 5 2 1 0 1 1-3 4zM88 313l-17 1-9-18 23-2 5 17zM153 303l-8 12-7-2-3-8 11-7 5 1zM217 306l-1 1 1 6 2 0 4-4zM231 304l-1 7 2 2 5-8-2-2zM237 305l-5 8 1 2 3 1 3 0 1-2-1-9zM239 305l1 9 5-2 2-5-2-4zM255 306l-3 5-4-4 6-1zM255 306l6 1 0 4-8 1-1-1zM261 307l5-1 4 2 1 4-6 2-3-2-1-1zM277 311l-4 2-2-1-1-4 2-2 2 0 1 0zM302 310l5-5 5-1 1 5-3 2-4 1zM321 310l-2-2-5 2 1 2 3 0 3 0zM321 310l3-3 1 1 0 4-3 2-1-2zM71 314l-9-18-1-1-8-1-2 6 4 8 10 2 3 12 1 1zM166 311l-13-8-8 12 1 1zM223 309l-4 4 3 5 2-1 3-6zM252 311l1 1-2 4-2 0-4-4 2-5 1 0zM251 316l2 2 5-1 4-5-1-1-8 1zM291 314l-8-2 1 0 5 6zM292 314l-1 0-8-2 0-1 2-2 4-2 1 0 3 3zM315 312l0 2-4 1-1-4 3-2 1 1zM315 312l0 2 1 1 2 1 0-4zM321 312l1 2-1 3-3-1 0-4zM166 311l-20 5 3 8 8 7 7-5zM232 313l1 2-4 5-5-3 3-6 3 0zM245 312l-5 2-1 2 1 1 6 2 3-3zM266 317l-1-3-3-2-4 5 2 5zM270 323l2-1 2-3-1-6-2-1-6 2 1 3zM278 311l-1 7-3 1-1-6 4-2zM289 318l-5-6-3 7 1 1 8 2 0-1zM292 314l-1 0-2 4 1 3 4-3zM306 319l0-7 4-1 1 4 0 4zM315 314l-4 1 0 4 1 1 4-5zM318 316l3 1 0 4-8 1-1-2 4-5zM83 330l5-17-17 1-2 9 3 7 8 2zM140 325l9-1-3-8-1-1-7-2-4 6zM224 317l5 3-6 3-1-5zM232 325l-1 1-2-6 4-5 3 1zM240 322l0-5-1-1-3 0-4 9zM240 323l0-1 0-5 6 2 1 4zM253 321l6 2 1-1-2-5-5 1zM266 325l-6-3 6-5 4 6zM294 318l-4 3 9 3 0-1-1-3-2-2zM304 321l0-1-2-3-4 3 1 3zM309 327l-5-6 0-1 2-1 5 0 1 1 1 2 0 2-2 2zM103 324l1-9-14-4-2 2-5 17 3 1zM223 332l5-4-5-4-1 0-2 4zM231 327l0-1-2-6-6 3 0 1 5 4zM238 330l4-3-2-4-4 7zM250 326l0 2 2 3 2 0 4-4 1-4-6-2zM265 327l1-2-6-3-1 1-1 4 3 0zM290 322l-8-2-1 4 5 3 4-3zM293 327l6 0 0-3-9-3 0 1 0 2 2 3zM305 329l-5 0-1-2 0-3 0-1 5-2zM323 322l-2-1-8 1 0 2 5 5zM325 333l-2-11 3 0 6 3zM135 337l21-2 1-4-8-7-9 1zM254 331l4-4 3 0 1 4-7 1zM265 327l0 5-3-1-1-4zM265 327l1-2 4-2 2 7-6 2-1 1 0-1zM283 332l3-2 0-3-5-3 1 8zM290 332l-1 0-3-2 0-3 4-3 2 3zM292 333l2-2-1-4-1 0-2 5zM293 327l6 0 1 2-1 3-5-1zM324 334l1 0 0-1-2-11-5 7 1 2zM226 338l7 0 1-8-3-3-3 1-5 4 0 4zM246 328l4 0 2 3-7 4-3 1-1-3zM263 336l2-3 0-1-3-1-7 1 3 2zM274 330l2 4 5 3 2-5-1 0-4-3zM288 338l1-6-3-2-3 2-2 5 1 1 4 1zM292 333l1 2-2 4-1 0-2-1 1-6 1 0zM292 333l1 2 4 0 2-1 0-2-5-1zM314 332l5-1 5 3-8 2-2-3zM252 331l-7 4 1 4 3 1 3-3zM257 339l-1 2-4-4 0-6 2 0 1 1 3 2zM264 339l-7 0 1-5 5 2zM271 335l3 1-1 4-3 3 0-1 0-6zM276 334l-2 2-1 4 8-2 1 0-1-1zM297 335l-4 0-2 4 5 1zM297 335l2-1 3 2 0 3-6 1zM314 333l2 3 0 1-5 3-1-3zM316 336l0 1 3 5 3-2 3-6-1 0zM175 333l2 2 0 1-5 10-12 2-3-4-1-9 1-4 7-5 6 2 2 1zM239 340l-1 0 2 6 5 0 2-1-2-5zM249 340l-3-1-1 1 2 5 2-2zM256 341l0 2 0 1-7-1 0-3 3-3zM264 339l0 1-3 3-5 0 0-2 1-2zM270 343l3-3 8-2-1 10-2 1-5-3zM286 339l-4-1-1 0-1 10 4 1 2-2zM290 339l-2-1-2 1 0 8 3-1zM329 336l-4-2-3 6 6 6 1 0 1-3zM705 335l0 12 2 3 3-12-2-2zM145 350l-10 2-1-14 1-1 21-2 1 9zM231 345l7 5 2-4-2-6-4-1zM256 344l-7-1-2 2 3 3 5-3zM295 344l-1 1-4 1-1 0 1-7zM713 353l-6-3 3-12 3 2 1 13zM723 341l0 5-5 6-4 1-1-13 4 0zM229 347l0 3 1 4 2 0 6-3 0-1-7-5zM243 355l-5-4 0-1 2-4 5 0 1 6-1 2zM250 348l-3-3-2 1 1 6 5-1zM257 351l-2 2-1 0-3-2-1-3 5-3zM266 349l4-6 0-1-8 5-1 3 2 0zM269 352l4-6-3-3-4 6zM295 350l-1-5-4 1 2 5zM113 352l-1-8-3-1-2 1-4 11 5 3zM117 358l13-5-17-10-1 1 1 8zM229 350l1 4-3 3-4-3 0-3zM254 353l-3-2-5 1-1 2 5 2zM261 357l-6-3 0-1 2-2 4-1 2 0 2 5zM297 354l-6-2 1-1 3-1 2 0zM729 355l4 1 2-1-1-6-4 2-1 3zM94 349l-5 0 2 7 0 3 3 3 2 0 4-2 0-3zM108 358l-5-3-3 2 0 3 4 3 2-1zM145 350l-10 2 0 1 5 7 9 1 1-1zM230 354l2 0 3 5-1 2-6-1-1-1 0-2zM232 354l3 5 1 0 2-8zM249 358l-2 1-4-3 0-1 2-1 5 2zM255 360l0-6 0-1-1 0-4 3-1 2zM261 360l-4 0-2 0 0-6 6 3zM261 360l0-3 4-2 2 1-5 5zM713 353l-6-3-6 8 0 1 6 3 6-7zM107 363l-1-1 2-4 5-6 4 6-1 1zM124 363l-5-2-2-3 13-5 3 1-4 7zM229 362l-1-2 6 1 1 4-1 1zM239 365l1-1 0-4-4-1-1 0-1 2 1 4zM246 364l-6 0 0-4 3-4 4 3 1 3zM255 360l-5 3-2-1-1-3 2-1zM261 360l-4 0 2 4 3-3zM704 367l-4-7 1-1 6 3 0 4zM714 364l-1-9 0-2 1 0 5 8-2 5zM229 367l-1 1-3 0-2-5 1-2 3-2 1 1 1 2zM229 367l5-1-5-4zM246 369l0-5-6 0-1 1 1 2 4 2zM246 369l0-5 2-2 2 1 1 3zM714 364l-1-9-6 7 0 4 5 0zM714 364l3 2 1 2 0 1-4 1-1 0-1-4zM717 366l2-5 2 1 1 2-4 4zM230 370l-3 4-3-3 1-3 3 0zM229 367l-1 1 2 2 4 2 0-6zM241 374l-3-3 2-4 4 2zM312 371l-5-3 0 1 1 5zM704 367l3-1 3 3-1 4-4-3zM191 367l-5 2 1 5 5 0 1-4zM227 374l-3-3-6 2-1 5 1 0 0 1 2 1 6-3 1-2zM195 377l0 1 0 2-6 4-4-4zM180 392l2-3 0-7-3 2-2 6zM185 380l-2 1-1 1 0 7 7-4 0-1zM194 389l4-3-3-6-6 4 0 1 1 4 3 0zM181 393l-1-1 2-3 7-4 1 4-4 5-4 0zM194 395l-7 1-1-2 4-5 3 0zM181 403l1-9 4 0 1 2 2 5-4 3zM178 457l-5 3 0-1-1-6 5-3 1 3zM182 454l2-4-6 3 0 4zM182 454l2-4 2 1 2 5-2 1zM186 451l4-2 5 4 0 1-6 3-1-1zM203 457l-4 3-4-6 0-1 3-4 2-1 1 0zM182 454l4 3-3 2-5-2zM189 457l6-3 4 6 0 3-1 1-8-1zM178 457l-5 3-1 1 9 8 1 0 2 0 1-2-2-8zM186 457l2-1 1 1 1 6-5 4-2-8zM203 457l-4 3 0 3 12-1-4-6zM215 465l10 0 1-1 1-3-5-2-8 5zM235 465l1 1 1 0 2-4-1-1-4-4-1-1-6 5zM185 467l-1 2 7 6 2-1 6-2-1-8-8-1zM198 464l1-1 12-1-6 13-6-3zM215 465l10 0-6 7-2-1zM226 464l1-3 8 4-7 5zM239 462l5 0 1 7-5 2-3-5zM244 462l4-3 7 9 0 3-10-2zM226 464l-1 1-6 7 5 4 5-1 0-1-1-4zM228 470l1 4 7-8-1-1zM237 466l-1 0-7 8 0 1 2 3 7 3 2-10zM181 469l1 0-3 12-9-1 1-6zM191 475l-7-6-2 0-3 12 3 3 3-1 5-5zM209 478l6 7 9-9-5-4-2-1zM194 486l-4-8 1-3 2-1 5 11zM198 485l-5-11 6-2 6 3 2 3-6 7zM216 486l7 0 8-8-2-3-5 1-9 9zM262 478l-1 5-15 4-5-1 14-14 6 4 1 1zM168 485l0-3 2-2 9 1 3 3-2 8-4 2zM193 489l-1-1-7-5 5-5 4 8zM201 485l6-7 2 0 6 7-12 7zM275 487l-13-9-1 5 8 6 2 1 3-2zM194 490l8 5 1-3-2-7-3 0-4 1-1 3zM247 487l-1 0 15-4-1 6-4 3zM261 490l-1-1 1-6 8 6-2 2zM164 489l0 4 2 8 10-6 0-1-8-9zM247 487l7 12 2-3 0-4zM187 497l-4-4-3-1-4 2 0 1 4 9 7-6zM193 491l1-1 8 5 1 2-8 6-2-1zM229 496l1 3 9 2 2-13-9 4zM247 487l-1 0-5-1 0 2 11 15 2-4zM176 495l4 9-10 3-3 0-2 0 0-2 1-4zM187 498l-7 6 1 1 2 1 6-7zM224 497l-4 4 3 3 6-2 1-3-1-3zM229 502l2 3 7 1 2-1-1-4-9-2zM189 499l-6 7 3 1 7-5zM195 503l1 4 9 2 1-4-3-8zM209 505l5-4 2 0-1 7zM215 508l1 2 2 0 6-1-1-5-3-3-2-1-2 1zM229 502l2 3-2 4-4 0-1 0-1-5zM180 511l1-6-1-1-10 3 9 6zM185 511l1-4-3-1-2-1-1 6zM191 513l-5-6 7-5 2 1 1 4-1 5zM195 512l1-5 9 2 1 2-6 5zM206 511l2 1 5 0 3-2-1-2-6-3-3 0-1 4zM179 519l-2 1-1 0-9-13 3 0 9 6zM186 514l-6 5-1 0 0-6 1-2 5 0zM191 514l-5 0-1-3 1-4 5 6zM233 517l0-3 5-8 2-1 1 0-1 12-5 1zM166 519l-2-9 1-3 2 0 9 13zM191 514l-5 0-6 5 10 4 1 0zM191 514l0 9 7-2 2-5-5-4-4 1zM200 516l5 3-2 9-5-7zM203 528l2-9 2 0 7 4 2 3-4 6-7-1zM235 519l7 9 1 0 4-4-1-6-6-1-5 1zM254 524l-7 0-1-6 4-5 5 4 0 6zM177 524l0-4-1 0-10-1-1 1 1 9 7 0zM191 523l-1 0 0 3 3 10 1 0 3 0 8-5-2-3-5-7zM221 523l-1 1 13 4 0-4zM233 524l0 4 0 1 3 1 6-2-7-9zM176 538l-3-9 4-5 4 5 1 7-3 2zM193 536l-4 0-7 0-1-7 9-3zM233 529l-4 4-11-8 2-1 13 4zM249 533l3-2-5-7-4 4 1 3zM256 529l0 1-4 1-5-7 7 0zM168 543l-4-4-2-6 4-4 7 0 3 9zM234 540l-5-5 0-2 4-4 3 1 2 9-3 1zM240 540l-2-1-2-9 6-2 1 0 1 3zM245 542l6-2-2-7-5-2-4 9 3 2zM179 538l3-2 7 0-5 8-3-2zM197 536l4 10 1 2 3 3 7-1 1-8 1-7-2-3-7-1zM227 545l-1-7 3-3 5 5zM172 552l7-4 2-6-2-4-3 0-8 5 0 3 1 2zM179 548l4 1 3-4-2-1-3-2zM194 536l-4 9 1 3 10-2-4-10zM226 546l-3-3-10-1-1 8 3 2 1 1 10-1zM230 554l-4-2 0-6 1-1 7-5 1 0-1 9zM234 549l8-4 1-3-3-2-2-1-3 1zM189 554l2-6-1-3-4 0-3 4 2 5zM191 548l4 2 7-2-1-2zM172 552l2 5 6 1 5-4-2-5-4-1zM189 554l2-6 4 2 0 6-4 0zM199 558l-4-2 0-6 7-2 3 3-4 5zM180 558l5-4 4 0 2 2-2 7-8-4zM194 568l-4-2-1-3 2-7 4 0 4 2-1 7zM201 566l4 0 3-2-7-8-2 2-1 7zM208 564l-7-8 4-5 7-1 3 2-6 12zM181 566l0-7-1-1-6-1-2 3 0 6 5 3 3 0zM190 566l-1-3-8-4 0 7zM216 566l-3 2-4-4 6-12 1 1 1 4zM184 571l-3 0-1-2 1-3 9 0zM184 571l5 4 5-5 0-2-4-2zM194 570l3 3 6 2-2-9-3-1-4 3zM177 569l-2 4-4 2-2-2 1-4 2-3zM180 569l-3 0-2 4 2 2 4-4zM182 573l-1-2-4 4 1 4 4-5zM184 571l5 4 0 1-1 0-6-3-1-2zM177 575l-2-2-4 2 0 1 6 4 1-1zM182 574l1 5-1 1-5 0 1-1zM182 573l6 3-5 3-1-5zM266 629l-3-3 2-7 1 0 4 7-3 3z"/><path fill="#f6a660" d="M256 118l9 1 5-7-10-3-5 7zM267 124l-2-3-4 4-1 2 2 1zM191 168l3-2-1-3-2 1-1 3zM215 171l-2 1-5-3-3-3 2-6 7 2 2 8zM190 179l2-2-3-4-1 7zM188 188l3-1 1-2 0-2-2-4-2 1-2 7zM189 194l-1-6-2-1-1 6zM258 202l-2-2-7 2 0 2 4 2 5-3zM180 214l0 8 6-2 0-5-1-1zM188 221l-2-1 0-5 4 1 1 2zM196 214l-3 5 1 3 2 0 3-2 0-4zM223 218l3 2 4 0-1-4-4-3-3 4zM255 214l0 3 7 2 1-1 1-4-6-1zM158 217l-1 0-4 8 4-2zM188 224l6-2-1-3-2-1-3 3zM199 216l0 4 6 5 2-2 0-6-7-1zM232 221l-2-1-4 0 0 4 3 4 3-6zM237 216l-5 5 0 1 8 3 2-6-3-2zM263 222l-1-3 1-1 9 2-8 4zM240 225l1 2-8 4-3 0-1-3 3-6zM257 229l-4-3 10-4 1 2 1 2-2 3zM185 230l-1-3 4-3 5 6zM206 229l0 6-5-1-7-3 0-1 2-4 9 0zM180 232l2 1-1 15-2 2-4-10 1-3zM189 238l-4-8 8 0 1 0 0 1zM188 242l0 2-7 4 1-15 1 0 6 5zM201 234l-7-3-5 7-1 4 10-4zM143 256l2 0 4-15-4-4-3 5-7 5zM161 237l-4 2 0 7 1 4 8 0-2-13zM164 237l2-2 9 5 4 10-2 4-11-4zM198 238l0 6-5 1-5-1 0-2zM260 236l-11 1 0 1 8 6 1 0 3-2 0-4 0-1zM269 241l-8-3 0 4 1 1zM755 243l-1-7-3 2-14-3-3 1 1 4 15 6zM157 246l-7-5-1 0-4 15 3 0 10-6zM261 242l-3 2 0 2 6 3 0-1-1-4-1-1zM296 254l8 0-1-6-6 1-2 3zM305 255l-1-1-1-6 5-3 1 0 2 9-5 2zM322 253l0-5-1-1-5 2 0 1 5 3zM200 254l-7-9-5-1-7 4-2 2-2 4 1 5 17-2zM312 254l4-4 5 3-4 5-1 0zM753 256l-12 0 9-10 3 9zM756 255l5-10 5 1-1 5-8 5zM764 263l2-7-1-5-8 5zM136 265l7-9-8-9-8 5-7 11zM158 250l-10 6 2 4 20 11 7-3 1-9-1-5-11-4zM327 258l-7 3-3-3 4-5 1 0zM753 256l-12 0 5 9 6-3zM195 269l-13 3-5-4 1-9 17-2 4 7 0 2zM294 262l0-3-7 0 0 1 2 3 3 1zM294 262l0-3 1-1 3 2 1 3-1 2zM305 255l-7 5 1 3 4 1 3-7 0-1zM306 257l3 4-2 5-3-1-1-1zM753 256l-1 6 1 1 9 1 2-1-7-7-1-1-3 0zM294 262l4 3-2 4-1 0-3-5zM296 269l5 1 1 0 2-5-1-1-4-1-1 2zM753 263l1 6 7-3 1-2zM122 275l13 2 2-4-1-8-16-2-1 1-1 2zM150 274l-13-1-1-8 7-9 2 0 3 0 2 4zM150 274l16 0 4-3-20-11zM304 265l-2 5 3 1 3-2-1-3zM321 269l-4 5-5-5 2-2 6-1 1 2zM761 266l-7 3 5 4zM195 269l-13 3 0 1 16 8 4-5-1-3zM255 273l-6 3 0-6 1 0 5 1zM300 276l5-1 1 0-1-4-3-1-1 0zM150 274l-1 9-12 3-1 0-1-9 2-4zM263 281l1 0 2-5-4-4-5 6zM307 282l-8 0-1-1 0-3 2-2 5-1 3 7zM308 282l-3-7 1 0 5-1 1 1-1 1zM314 285l1-1 1-3-5-5-3 6zM559 278l-1-7-1 0-1 9zM157 289l-8-6 1-9 16 0-3 11-2 2zM246 286l-3-4 2-4 2-1 3 7zM274 278l-10 3-1 0 1 4zM274 278l-10 7 3 0 8-4 0-3 0-1zM322 284l-7 0 1-3 2-3 5 3zM577 284l1-1 0-5-4-5-1 0 1 11 0 1zM182 272l0 1 1 10-7 6-13-4 3-11 4-3 7-3zM198 281l-16-8 1 10 3 4 9-1zM275 281l2 6-5 1-5-3zM314 290l0-5-6-3-1 0-1 4 3 5zM157 289l-8-6-12 3 9 12 5 1zM172 300l4-11-13-4-2 2zM195 286l-9 1 0 3 11 0zM254 295l10-5 0-3-9-1-2 7zM264 285l0 2 0 3 0 1 5 1 3-4-5-3zM309 291l-3-5-3 2-1 4 4 2zM314 290l0-5 1-1 7 0 1 3-7 5zM316 292l7-5 2 1 0 4-3 5-1 0-3-1zM330 293l-5-1 0-4 5-3 1 1zM254 295l10-5 0 1 1 6 0 1-1 0-9-2zM205 296l-5-4-1 0-5 6 9 4zM284 298l0-3-9 4 5 4 1 0zM306 296l0-2 3-3 5-1 2 2 2 4-5 5zM268 302l-3-4 0-1 8 0 1 1-1 1zM268 302l5-3-2 5-3-1zM287 300l3-1 3 1 1 4-4 3-1 0zM109 307l-1 6 11 4 11-13-4-10zM192 309l5 1 1-4-8-6-1 0 2 8zM273 299l1-1 0 8-2 0-1-2zM280 303l-5-4-1-1 0 8 1 0zM740 296l-1 2 0 1 6 6 4 1 1-6zM182 312l3 0 6-4-2-8-2-1-14 6 0 1 6 5zM200 313l0-1 3-8-5 2-1 4 2 3zM205 304l-2-1 0 1-3 8 7-3zM209 303l0 9-2-3-2-5zM213 307l-3 5-1 0 0-9 2 0zM213 307l-3 5 5 2 2-1-1-6zM735 314l-3 2-5-5 2-9 6 11zM124 324l-5-7 11-13 5 1 3 8-4 6zM192 316l0-7 5 1 2 3-6 4-1 0zM209 312l1 0-8 3-2-2 0-1 7-3zM292 314l2 4 2 0 3-5 0-1-6-2zM182 312l5 5-3 4-2-1-3-9zM182 312l3 0 7 4 0 1-5 0zM193 317l6-4 1 0 2 2 1 4-1 0-6 2zM209 320l-6-1-1-4 8-3-1 7zM215 314l0 3-6 2 1-7zM217 313l2 0 3 5-4 2-3-3 0-3zM283 311l0 1 1 0-3 7-4-1 1-7zM296 318l2 2 4-3-3-4zM299 312l3-2 4 2 0 7-2 1-2-3-3-4zM179 311l-6-5-7 5-2 15 6 2 12-8zM184 321l1 3 3 0 5-7-1 0-5 0zM188 324l5-7 3 4 0 3-6 1zM203 323l-1-4-6 2 0 3 1 1zM204 327l-1-4-1-4 1 0 6 1 1 3zM214 325l-4-2-1-3 0-1 6-2 3 3-1 1zM222 324l1 0 0-1-1-5-4 2-1 1zM249 316l-3 3 1 4 3 3 3-5 0-3-2-2zM281 324l-1 1-8-3 2-3 3-1 4 1 1 1zM124 331l-21-3 0-4 1-9 4-2 11 4 5 7zM134 338l-9-5-1-2 0-7 10-5 6 6-5 12zM182 320l-12 8 2 1 12-4 1-1-1-3zM197 329l-6 1-1-5 6-1 1 1zM204 329l-5 2-2-2 0-4 6-2 1 4zM220 328l2-4-5-3-3 4 0 1 1 1zM236 330l-2 0-3-3 0-1 1-1 8-3 0 1zM240 323l7 0 3 3 0 2-4 0-4-1zM274 330l-2 0-2-7 2-1 8 3-2 4zM308 328l-2 1-1 0-1-8 5 6zM103 333l0-5 0-4-17 7 7 3zM184 325l-12 4 3 4 10-4zM189 333l0-1 2-2-1-5-2-1-3 0-1 1 1 4zM207 331l-3-2 0-2 6-4 4 2 0 1zM215 327l-1-1-7 5 2 1 5-1zM223 332l-9-1 1-4 5 1zM238 330l3 3 5-5-4-1zM278 329l2-4 1-1 1 8zM308 328l2 4 3 0-2-6-2 1zM311 326l2-2 5 5 1 2-5 1-1 0zM109 343l-4-5-2-5 0-5 21 3 1 2-12 10-1 1zM189 333l-4-4-10 4 2 2 10 1zM189 332l2-2 6-1 2 2 0 3-2 1zM204 340l-5-6 0-3 5-2 3 2zM223 332l0 4-3 0-6-4 0-1zM233 338l1-8 2 0 2 0 3 3 1 3-3 4-1 0-4-1zM271 335l1-5-6 2 4 4zM274 330l-2 0-1 5 3 1 2-2zM299 332l1-3 5 0 1 0 1 4 0 2-5 1-3-2zM308 328l-2 1 1 4 3-1zM310 332l-3 1 0 2 1 1 2 1 4-4 0-1-1 0zM86 331l-3-1-3 2 2 1 6 11 1 4 5-8-1-6zM103 333l-10 1 1 6 11-2zM187 336l0 4-7 0-3-4 0-1zM239 340l6 0 1-1-1-4-3 1zM264 339l0 1 6 2 0-6-4-4-1 1-2 3zM307 335l-5 1 0 3 2 3 1 1 3-7zM708 336l5-4 4 2 0 6-4 0-3-2zM717 334l0 6 6 1-3-8zM94 349l13-5 2-1-4-5-11 2-5 8 0 1zM180 340l-3-4-5 10 2 1 7 0 1-3zM223 336l-3 0-6 5 2 4 1 1 4-2zM226 338l0 8-5-2 2-8zM226 338l7 0 1 1-3 6-2 2-3-1zM296 340l0 4-1 0-5-5 1 0zM296 340l0 4 2 0 6-2-2-3zM311 340l-1 5 2 1 5-1 2-3-3-5zM705 335l-6 0-1 2 2 5 5 5zM133 354l2-1 0-1-1-14-9-5-12 10 17 10zM262 347l-1-4-5 0 0 1-1 1 2 6 4-1zM262 347l-1-4 3-3 6 2zM297 350l2-1-1-5-2 0-1 0-1 1 1 5zM322 340l-3 2-2 3 1 1 8 2 2-2zM699 350l8 0-2-3-5-5-2 4zM723 341l0 5 4 1 8-2 1-1-9-6zM174 347l3 9 7-1 1-1-4-7zM188 343l-6 1-1 3 4 7 5-2 2-4-1-3zM203 352l-2-5 2-2 6 2 1 3-4 3zM226 346l3 1 0 3-6 1-1-2zM291 352l-1 1-3 1-3-5 2-2 3-1 1 0 2 5zM729 354l-9-1-2-1 5-6 4 1 3 4zM730 351l-3-4 8-2-1 4zM107 344l-13 5 6 8 3-2zM145 350l5 10 8-5 2-5 0-2-3-4zM160 348l12-2 2 1 3 9-1 2-3 2-5-2-8-8zM193 358l-3-6 2-4 1 0 5 7-3 3zM203 352l-1 2-4 1-5-7 8-1zM206 353l3 4 4 0 0-6-3-1zM217 348l-4 3 0 6 2 0 3 0 1-3zM222 349l-5-1 2 6 4 0 0-3zM267 356l2 1 0-5-3-3-3 1 2 5zM270 357l-1 0 0-5 4-6 5 3-2 5zM282 360l-6-6 2-5 2-1 4 1 3 5-1 3zM297 354l-2 2-5-3 1-1zM297 354l4 2 2-5-1-2-3 0-2 1zM301 356l6-3-4-2zM317 355l-3 2-3-5 1-6 5-1 1 1 2 5zM323 355l-6 0 3-4 3 1zM323 355l1 3 1 1 3-4-3-4-2 1zM332 354l-4 1-3-4 1-3 2-2 1 0 3 3zM698 351l-1 4 4 3 6-8-8 0zM193 358l-5 4-2-1-2-6 1-1 5-2zM223 354l4 3 0 2-3 2-6-4 1-3zM286 357l1-3 3-1 5 3 0 2-2 2-2 1zM295 356l2-2 4 2 1 4 0 1-1 0-6-3zM323 355l1 3-7 1-3-2 3-2zM333 355l0 5-4 2-2-1-1 0-1-2 3-4 4-1zM729 355l-2 6-3-2-4-6 9 1zM727 361l6 1 0-1 1-1-1-4-4-1zM161 363l-2-1-1-7 2-5 8 8-3 5zM176 358l1-2 7-1 2 6-4 4-2 0zM191 366l-3-4 5-4 2 0 0 1zM200 363l-2 2-7 1 4-7zM262 361l6 4 2-4 0-4-1 0-2-1zM282 360l-6 3-6-2 0-4 6-3zM282 360l0 3 4 2 3-1 2-2 0-1-5-4zM295 358l6 3-1 2-2 1-5-4zM302 361l5 1 2 0-3-5-4 3zM314 357l-2 5 3 4 1 0 4-2-3-5zM317 359l3 5 1 0 5-3-1-2-1-1zM714 353l4-1 2 1 4 6-3 3-2-1zM722 364l-1-2 3-3 3 2-2 4zM191 366l0 1-5 2-3-1-1-3 4-4 2 1zM252 368l3-2 0-6-5 3 1 3zM258 367l-3-1 0-6 2 0 2 4 0 2zM268 366l0-1-6-4-3 3 0 2 7 1zM291 361l2-1 5 4-1 3-3-1-3-4zM301 361l-1 2 3 3 3 1 1-5-5-1zM307 368l-1-1 1-5 2 0 2 0-2 5zM309 367l2-5 1 0 3 4-2 2zM325 368l2-7-1 0-5 3 2 5zM325 368l2-7 2 1 1 3-2 4zM704 367l-4-7-2 2-3 5 7 0zM718 368l3 1 5-2-1-2-3-1zM727 368l4-2 2-4-6-1-2 4 1 2zM246 369l5-3 1 2 0 5-1 1-3 0zM290 368l4-2 3 1 1 7-3 0-5-3-1 0zM298 364l2-1 3 3-3 7-1 0-1 1-1-7zM307 368l-1-1-3-1-3 7 7-4zM307 368l5 3 1-3-4-1zM312 371l1-3 2-2 1 0 3 7-3 1zM321 374l-2-1-3-7 4-2 1 0 2 5zM321 374l2-5 2-1 3 1 2 5-2 1-4 1-2 0zM702 367l-7 0-1 1 0 2 6 4zM712 366l-5 0 3 3 3 1zM721 369l2 3 3 1 1-2 0-3-1-1zM180 372l3-4 3 1 1 5-3 3-3-3zM197 369l1 1-1 6-2 1-3-3 1-4zM234 372l-2 3-5 0 0-1 3-4zM242 376l3 1 3-3-2-5-2 0-3 5zM255 373l4 5 1-2 1-4-3-1zM266 370l-5 2-1 4 5 0 2-2zM268 366l8 4-1 4-5 3-3-3-1-4 0-3zM277 377l-2-3 1-4 5 2 2 1-1 3zM305 376l3-2-1-5-7 4-1 0zM312 371l-4 3 4 4 4-4zM704 367l1 3-2 7-3-3 2-7zM709 373l-4-3-2 7 0 1 1 1 2 0 4 0 1-2zM714 370l-1 5-2 2-2-4 1-4 3 1zM714 370l-1 5 6 0-1-6zM718 368l3 1 2 3-4 3-1-6zM181 374l3 3 1 3-2 1-7-2 0-1 0-1zM195 377l-10 3-1-3 3-3 5 0zM234 372l-2 3 1 4 4 1 1-2-3-6zM245 377l1 5 2 1 3-3 0-6-3 0zM251 380l0-6 6 5-1 1zM251 374l6 5 2-1-4-5-3 0zM259 378l1 0 4 0 1-2-5 0zM267 374l-2 2-1 2 2 4 0 1 4-1 0-5zM272 383l-2-1 0-5 5-3 2 3zM298 378l-2 3-8-1 2-3 5-3 3 0 0 2zM306 380l-1-4-6-3-1 1 0 2zM306 380l6 0 0-2-4-4-3 2zM203 381l-1-1-7-2 0 2 3 6 3 1 1 0 0-1zM209 381l-5-1-1 1-1 5 6 0zM225 386l-5-6 6-3 4 3-2 5zM237 384l0-4-4-1-3 1-2 5 2 1zM242 376l-4 2-1 2 0 4 1 0 1 0 7-2-1-5zM256 381l0-1-5 0-3 3 6 0zM256 381l0-1 1-1 2-1 1 0 2 4-2 2-3-1zM260 378l2 4 4 0-2-4zM304 383l0 4-8 0 0-6 2-3zM304 383l-6-5 0-2 8 4zM304 383l0 4 2 0 6-5 0-2-6 0zM324 376l5 10 2-1 0-5-3-5zM333 380l-2 0 0 5 3-1 1-3zM342 380l0 6-1 1-4-7 0-2 3 0zM342 380l0 6 6-3-1-6-1-1-1 1zM393 379l3 4 2 1 0-4-4-2zM209 381l9-3 0 1-4 11-1 0-5-4zM225 387l-11 3 4-11 2 1 5 6zM246 382l-7 2 8 7 1-2 0-6zM254 388l-6 1 0-6 6 0zM256 381l-2 2 0 5 1-1 2-4zM257 383l3 1 1 3-1 1-5-1zM262 382l4 0 0 1-1 3-4 1-1-3zM272 383l-2-1-4 1-1 3 1 4 3 1 2-1 3-4zM313 391l5-7-6-2-6 5 6 4zM208 386l5 4 0 1-5 3-2 0-3-5-1-2 0-1zM213 390l1 0 11-3-1 8-8 0-3-4zM225 395l-1 0 1-8 0-1 3-1 2 1 1 3zM231 389l-1-3 7-2 1 0 0 7-6 0zM238 384l1 0 8 7 0 2-7 1-2-3zM255 387l5 1 0 1-3 4-3-5zM261 387l-1 1 0 1 4 3 2-2-1-4zM274 386l-3 4 4 5 2 0 2-2-3-7zM313 391l5-7 6 4-1 5-5 2-2-1zM198 392l-4-3-1 0 1 6 2 1 2-2zM198 392l3-5 1 0 1 2-2 5-3 0zM203 389l-2 5 2 2 3-2zM228 399l4-8-1-2-6 6zM228 399l7 1 2-1 3-5-2-3-6 0zM248 394l-1-1 0-2 1-2 6-1 3 5-8 3zM263 393l-3 3-3-3 3-4 4 3zM264 394l-1-1 1-1 2-2 3 1-1 4zM274 396l-6 1 0-2 1-4 2-1 4 5zM282 392l2 2-3 5-4-4 2-2zM304 387l0 5-5 4-3-1-1-7 1-1zM304 387l0 5 1 2 4 1 3-4-6-4zM196 396l-3 6-4-1-2-5 7-1zM198 394l3 0 2 2-1 4-6-4zM208 394l-1 5 5 1 3 0 1-5-3-4zM249 396l8-3 3 3-1 4-7 0zM266 400l2-3 0-2-4-1zM265 404l1-4 2-3 6-1-1 6-7 2zM310 400l6-6-3-3-1 0-3 4 0 5zM315 403l3-5 0-3-2-1-6 6zM318 395l5-2 3 3 2 3-4 3-6-4zM196 396l6 4-3 3-5 1-1-2zM207 407l5-7-5-1-2 2zM228 399l-2 3-9 2-2-4 1-5 8 0 1 0zM243 403l5-9-1-1-7 1-3 5 4 5zM248 404l4-4-3-4-1-2-5 9zM281 399l-4-4-2 0-1 1-1 6 5 3 4-4zM292 401l-1-3-1-1-8 4 5 4zM303 399l-1 7-1 1-2-6 1-3zM318 404l-3 0 0-1 3-5 6 4-1 3zM178 407l8 1-1-4-4-1-2 0zM186 408l1 2 7-1 0-5-1-2-4-1-4 3zM199 403l4 5-8 2-1-1 0-5zM199 403l3-3 3 1 2 6 0 2-4-1zM227 406l-6 3-5-2 1-3 9-2zM249 410l-1-6-5-1-2 1 0 3 7 3zM285 411l-6 0-1-6 4-4 5 4 0 2zM301 407l-2 1-6-4 0-1 6-2zM313 408l-2-1-4-4 1-3 1 0 1 0 5 3 0 1zM333 401l-3 8-7-3 0-1 1-3 4-3 3 1 1 1zM178 407l-1 1 3 5 4 2 3-5-1-2zM216 407l5 2 1 2-1 1-5-3-1-1zM227 407l-1 4-4 0-1-2 6-3zM266 408l0-4 7-2 5 3 1 6-3 3-2 0-8-5zM302 414l-3-5 0-1 2-1 1-1 2 1zM318 404l-3 0-2 4 5 4zM318 404l0 8 5-4 0-2 0-1zM323 406l7 3 1 3-1 1-3 1-1 0-3-6zM192 417l-7 2-1-4 3-5 7-1 1 1 0 2zM204 415l1-1 3-4-1-1-4-1-8 2 0 2 2 1zM221 414l0-2-5-3 1 7 3-1zM226 415l0-4-4 0-1 1 0 2zM226 420l0 1-4 0-5-5 3-1zM226 415l-5-1-1 1 6 5 1-4zM320 416l6-2 1 0-1 6zM215 426l3-2 4-3-5-5-3 2-2 5 1 2zM189 428l-1-5-3-4-3 2-3 5 1 4zM217 429l4 1 3-3-6-3-3 2zM226 426l-2 1-6-3 4-3 4 0 2 2-1 2zM324 431l-2-4 0-3 4-2 2 7zM189 428l-9 2 0 3 8 0zM200 425l-2 0 0 1 0 7 1 2 4-3-1-5zM227 425l1-2 6 0 1 1-1 7 0 1-4-2zM267 429l-4-4-2 1-3 6 2 4 2 0zM189 428l3 0 2 4-4 3-2-2zM190 435l0 5 6 0 3-4 0-1-1-2-4-1zM205 438l-6-2 0-1 4-3 2-1 2 1zM212 436l1 4-3 2-5-4 2-6 2-1zM182 439l6 1 2 0 0-5-2-2-8 0-1 2zM267 438l5 3 2-4-2-4zM208 447l2-5-5-4-6-2-3 4 4 8 1 0zM267 438l-2 7-8-2 0-3 3-4 2 0zM267 438l-2 7 0 1 8-2-1-3zM326 445l-6-9 1-1 6 6 1 3-1 1zM183 448l5-8-6-1 0 1 0 7zM183 448l5-8 2 0 0 5zM198 449l2-1-4-8-6 0 0 5 0 1zM290 441l-1-2-4 1-4 9 5 3 4 2 2-3zM296 442l-6-1 2 10 3 0 0-1 3-6zM323 446l-5 2-4-3-1-3 3-2 8 6zM327 445l1-1 4-1 2 4-4 3-1 0zM332 443l2 4 5 2 0-4 0-1zM340 451l3 1 4-3-2-6-1 0-5 2 0 4 0 1zM184 450l2 1 4-2 0-3 0-1-7 3zM195 453l-5-4 0-3 8 3zM265 445l-8-2-2 5 2 5 9-5-1-2zM303 448l0 3-7-1 6-3zM312 451l2-6-1-3-1 0-4 2 2 8zM316 453l2-2 0-3-4-3-2 6zM323 446l-5 2 0 3 4 2zM339 450l0-1-5-2-4 3 1 0zM172 453l1 6-8-5 0-3 6 0zM203 457l-2-9 7-1 0 1-1 8zM207 456l4 6 4-6-3-6-4-2zM219 450l2 1 0 1-2 3-4 1-3-6 4-1zM219 455l3 4 5 2-1-5-5-4zM242 454l1 1-5 6-4-4 5-3zM243 455l-5 6 1 1 5 0 4-3 0-1zM215 456l-4 6 3 2 8-5-3-4zM345 458l5 1 2 1-7 4-1-3zM261 460l7 4-3 8-4 4-6-4 0-1 0-3zM166 465l5 9 10-5-9-8zM166 465l5 9-1 6-2 2-6-3 3-14zM240 471l-2 10 3 5 14-14 0-1-10-2zM262 477l-1-1 4-4 5-2 5 2-4 4zM275 487l3-2-7-9-9 1 0 1zM183 493l9-5-7-5-3 1-2 8zM216 489l6 4 7-3-6-4-7 0zM187 497l-4-4 9-5 1 1 1 1-1 1zM202 495l1 2 4 0 9-6 0-2 0-3-1-1-12 7zM224 497l5-1 3-4-3-2-7 3zM141 502l3-5-4-2-1 0 0 7 0 1zM187 497l6-6 0 11-4-3-2-1zM207 497l7 4 2 0 2-1-2-9zM216 489l6 4 2 4-4 4-2-1-2-9zM203 497l3 8 3 0 5-4-7-4zM143 509l2-5-4-2-2 1 0 3zM143 509l2-5 2 6-3 0zM149 517l-8-4 1 6 0 1 7-2zM144 530l5-6-6 0zM162 533l4-4-1-9-11 3 2 7zM214 535l-2-3 4-6 2-1 11 8 0 2-3 3-5-1zM252 540l-1 0-2-7 3-2 4-1-1 7zM148 538l1-5-5-3 0 3 2 5zM156 542l8-3-2-6-6-3-2 2 0 9zM194 536l-4 9-4 0-2-1 5-8 4 0zM213 542l10 1-2-6-7-2zM227 545l-1-7-5-1 2 6 3 3zM168 546l-12 6 0-1 0-9 8-3 4 4zM233 556l10-2-1-9-8 4-4 5zM169 548l-6 7-7-1 0-2 12-6zM172 552l2 5-2 3-8 1-1-6 6-7zM217 557l-1-4 10-1 4 2-6 12zM172 560l-8 1-2 1 1 5 7 2 2-3zM216 566l8 1 0-1-7-9zM201 566l4 0 1 5-1 4-2 0zM213 569l-7 2-1-5 3-2 1 0 4 4zM230 570l8 1-6 3-2-2zM250 571l3-1 5 2 1 3-2 1-5 1zM164 581l1-7-4-2-1 0-3 3 2 6zM177 580l-6-4-4 7 2 3 7-3zM188 576l-1 8-4-1-1-3 1-1zM169 586l-2-3-3-2-5 0 2 8zM177 580l5 0 1 3-3 4-1 0-3-4zM170 589l-1-3-8 3 0 1 5 10zM266 601l5-2-1-5-2 0-2 2zM259 611l4 5 1-4-4-1zM263 626l2-7-1 0-3 0-5 3 1 2zM257 624l-1-2-1 0-2 5 1 1 4 1zM263 626l-4 3-1 0-1-5zM254 639l1 0 5-3-1-7-1 0-4-1-2 5zM263 626l3 3-6 7-1-7zM269 632l-2-3-1 0-6 7 5 1zM272 634l-4 6-3-3 4-5 3 1zM265 645l3-4 2 1 1 1 1 4-3 2zM265 650l3 0 1-1-4-4z"/><path fill="#f8d888" d="M184 46l0 1-5 3-3 0-3-4 0-4 3-3 8 5zM184 46l8-4 2-4-9-1-1 7zM231 52l-1-1-6 2-2 3 2 7 1 1 8-6zM256 91l7-6 7 0 2 4-12 8zM277 132l-4 3-8-2-3-5 5-4 10 6zM208 154l2 0 2-4-3-2-5 0zM191 168l-1-1 0 3zM765 251l1 5 9-2 0-7-2-3-3 0-4 2zM764 263l2-7 9-2 4 9-2 1-6 3zM741 256l-5-1-3 3 6 15 6-5 1-3zM726 278l-3-10 3-4 1 0 4 13-4 2zM574 273l4 5 0-8-2 0zM751 271l2 5-3 7-7 2-6-8 2-4 6-5zM770 274l5 4 2 0 5-4-5-10-6 3zM779 263l11-3-4 15-1 0-3-1-5-10zM786 275l4 2 3 0 1-16-2-2-2 1zM794 261l3 2 2 4 1 10-5 1-2-1zM785 275l-3 7-5-4 5-4zM556 280l0 3 0 1 5-3-2-3zM767 283l1 2 4 2 3-2 0-7-5-4-1 1zM782 285l0-3-5-4-2 0 0 7zM788 285l2-8-4-2-1 0-3 7 0 3zM793 290l1-1 1-11-2-1-3 0-2 8zM562 291l1-3-4 0-1 4zM743 285l-2 9 15 1 3-3-3-7-6-2zM741 294l-1 2 10 4 6-5zM284 298l-3 5 4 6 4-2-2-7zM612 308l3-3 0-1 0-2-1-1-8 4zM638 302l1 4 1 1 3-4-4-1zM293 310l-3-3 4-3 5 0 3 6-3 2zM735 314l5 1 0-11-1-2-4 11zM740 304l5 10 1 0 1-2-2-7-6-6 0 3zM185 312l6-4 1 1 0 7zM611 314l1-1-5-2-2 4zM655 316l-3-3 0-3 6-3 3 5 0 3 0 1zM740 304l5 10-4 2-1-1zM727 311l5 5-1 2 0 1-3 1-5-1 0-2 1-3zM735 314l-3 2-1 2 10 1 0-3-1-1zM655 320l-6 3-2-5 5-5 3 3zM723 319l5 1-1 5-6-3 1-2zM731 318l0 1 1 2 9 3 0-5zM721 322l-3 4 3 4 6 1 2-3-2-3zM728 320l3-1 1 2-2 7-1 0-2-3zM741 324l-9-3-2 7 10 4 1 0 2-4zM195 337l1-1 1-1-8-3 0 1zM207 331l-3 9 6-5-1-3zM209 332l1 3 2 1 2-4 0-1zM717 334l-4-2 3-6 2 0 3 4-1 3zM720 333l1-3 6 1 1 7-1 0-4 3zM730 328l10 4-12 6-1-7 2-3zM194 338l-7-2 2-3 6 4zM194 338l0 3 4 0-2-5-1 1zM197 335l2-1 5 6-1 2-5-1-2-5zM204 340l7 1 3-1-2-4-2-1zM220 336l-6-4-2 4 2 4 0 1zM308 336l-3 7 1 1 4 1 1-5-1-3zM188 343l-6 1-2-4 7 0zM194 338l0 3-3 4-3-2-1-3 0-4zM191 345l1 3 1 0 8-1 2-2 0-3-5-1-4 0zM204 340l7 1-1 6-1 0-6-2 0-3zM216 345l-6 2 1-6 3-1 0 1zM221 344l-4 2 0 2 5 1 4-3zM302 349l4-5-1-1-1-1-6 2 1 5zM217 346l-1-1-6 2-1 0 1 3 3 1 4-3zM308 354l3-2 1-6-2-1-4-1-4 5 1 2 4 2zM323 352l2-1 1-3-8-2 2 5zM736 344l-1 1-1 4 1 6 1-1 1-2zM200 363l2-4 0-5-4 1-3 3 0 1zM203 352l-1 2 0 5 5-1 2-1-3-4zM301 356l6-3 1 1-2 3-4 3zM308 354l3-2 3 5-2 5-1 0-2 0-3-5zM695 356l-1 3 4 3 2-2 1-1 0-1-4-3zM207 358l-5 1-2 4 6 3 2-2zM213 359l-5 5-1-6 2-1 4 0zM213 359l2 5-1 1-6-1zM213 359l2 5 3-1-3-6-2 0zM224 361l-6-4-3 0 3 6 4 0 1 0zM206 368l0-2 2-2 6 1 1 4-6 2zM268 366l0-1 2-4 6 2 0 6 0 1zM282 360l-6 3 0 6 6-4 0-2zM282 363l0 2 1 2 2 2 1 0 1-3-1-1zM286 365l1 1 3 2-1-4zM289 364l1 4 4-2-3-4zM198 365l-1 4-4 1-2-3 0-1zM200 363l1 7-3 0-1-1 1-4zM200 363l1 7 2 1 3-3 0-2zM223 363l-1 0-6 7 2 3 6-2 1-3zM252 373l3 0 3-2 0-4-3-1-3 2zM266 367l-7-1-1 1 0 4 3 1 5-2zM282 365l-6 4 0 1 5 2 2-5zM283 367l-2 5 2 1 2-4zM286 369l3 2 1-3-3-2zM203 371l-2-1-3 0-1 6 5-1zM208 375l-4 1-2-1 1-4 3-3 3 3 0 3zM209 374l8 4 1-5-2-3-1-1-6 2zM242 376l-4 2-3-6 3-1 3 3zM286 369l3 2 1 0-2 2-2 1-3-1 2-4zM290 377l5-3-5-3-2 2zM656 374l6 2 2 0 1-8-1 0-1 1-7 4zM671 376l0-7-3-1-3 0-1 8 2 1 3-1 1-1 0 1zM726 373l-3-1-4 3 2 3 5-2zM202 375l-5 1-2 1 0 1 7 2zM204 376l0 4-1 1-1-1 0-5zM208 375l1 6-5-1 0-4zM208 375l1 6 9-3-1 0-8-4zM232 375l-5 0-1 2 4 3 3-1zM277 377l5-1 2 3-1 1-5-2zM288 380l-1 0-3-1-2-3 1-3 3 1zM288 380l-2-6 2-1 2 4zM321 374l-2-1-3 1-4 4 0 2 0 2 6 2 4-8zM662 376l-6-2-1 1 0 2 1 4 5-2zM713 375l-2 2-1 2 7 1 4-2-2-3zM272 383l5-6 1 1 1 4-3 4-2 0zM279 382l2 0 2-2-5-2zM284 379l-1 1-2 2 4 5 1 0 1-1 0-6zM296 387l-9-1 0-6 1 0 8 1zM322 376l-4 8 6 4 5-2-5-10zM335 381l2-1 4 7-7-3zM357 384l-4 2-3-3 0-1 7-4 1 5zM373 383l-1 2-2 2-2 0-3-6 2-2 1-1zM380 379l-1 3 2 4 2-1 1-2-1-2zM385 379l3 1-4 3-1-2zM393 379l-3 2 0 3 2 1 4-2zM398 380l1-1 6 4-5 3-2-2zM662 382l-6 3 0-4 5-2zM662 376l-1 3 1 3 4 1 0-6-2-1zM276 386l7 2 2-1-4-5-2 0zM644 385l0-1 7-1 3 3-3 2zM198 392l3-5-3-1-4 3zM283 388l-1 4-3 1-3-7zM286 387l2 6 7-5 1-1-9-1zM644 385l7 3-1 5-3 1-5-4 1-3zM655 394l2-7-1-2-2 1-3 2-1 5 2 1zM283 388l2-1 1 0 2 6 0 1-4 0-2-2zM291 398l-1-1-2-3 0-1 7-5 1 7zM329 386l3 4-6 6-3-3 1-5zM326 396l6-6 2 1-3 9-3-1zM640 391l4 8 3-4 0-1-5-4zM206 394l-3 2-1 4 3 1 2-2 1-5zM265 404l1-4-2-6-1-1-3 3-1 4 1 1zM281 399l3-5 4 0 2 3-8 4zM303 399l-3-1-1-2 5-4 1 2zM303 399l5 1 1 0 0-5-4-1zM652 394l-2-1-3 1 0 1 3 4 3-1zM655 394l1 1 0 4-3-1-1-4zM300 398l-1 3-6 2-1-2-1-3 5-3 3 1zM303 399l-1 7 2 1 3-4 1-3zM341 399l3-2 3 4 0 2-1 0-6 0 0-1zM644 399l1 4 1 0 5 1-1-5-3-4zM656 399l-2 7-2 0-1-2-1-5 3-1zM207 409l1 1 7-2 1-1 1-3-2-4-3 0-5 7zM228 399l7 1-1 8-2 1-5-2 0-1-1-4zM241 407l-1 2-6-1 1-8 2-1 4 5zM249 410l1 1 3 1 2-2 0-1-3-9-4 4zM260 401l-1-1-7 0 3 9zM266 408l0-4-1 0-5-3-5 8 0 1 1 1zM287 407l0-2 5-4 1 2 0 1-1 3zM306 409l5-2-4-4-3 4zM240 412l0-3-6-1-2 1 1 3 6 2zM248 410l-4 3-4-1 0-3 1-2zM287 412l6-3-1-2-5 0-2 4 1 1zM293 409l2 2 4-2 0-1-6-4-1 3zM307 411l-1-2 5-2 2 1-1 1zM333 401l-3 8 1 3 6-2-3-8zM215 408l-7 2 6 8 3-2-1-7zM232 409l1 3-1 2-5 2-1-1 0-4 1-4zM244 413l-3 5-2-1 0-3 1-2zM249 410l1 1-4 6-2-4 4-3zM264 411l-5 4-3-4 10-3 0 1zM264 411l-5 4 1 4 2 1zM287 412l4 3 4-3 0-1-2-2zM295 411l4-2 3 5-4 4-3-6zM306 415l-4-1 2-7 2 2 1 2zM306 415l1-4 5 2 0 2zM307 411l5-2 0 4zM312 415l6-2 0-1-5-4-1 1 0 4zM318 412l0 1 2 3 6-2-3-6zM340 410l-3 0-6 2 6 8 5-3zM176 418l3-5 1 0 4 2 1 4-3 2zM197 413l-2-1-3 5 2 2 4-1zM203 416l1-1-7-2 1 5 1 1 3-2zM205 414l3-4 6 8-2 5-2-1zM227 416l5-2 3 5-1 4-6 0-2-2 0-1zM239 417l-4 2-3-5 1-2 6 2zM246 417l-2-4-3 5 2 2zM250 411l-4 6 4 2 3-5 0-2zM253 414l4 5-4 4-1 0-2-4zM260 419l-3 0-4-5 0-2 2-2 1 1 3 4zM264 411l-2 9 4-2 0-9zM266 409l8 5-3 4-5 0zM295 412l3 6 0 2-6 0-1-5zM306 415l-4-1-4 4 0 2 4 5 4-5zM306 415l0 5 7 0-1-5zM317 418l3-1 0-1-2-3-6 2 1 5zM326 421l0-1 1-6 3-1-1 8zM337 420l-6-8-1 1-1 8 5 1zM195 422l-1-3-2-2-7 2 3 4zM199 419l-1 5-3-2-1-3 4-1zM204 423l-4 2-2 0 0-1 1-5 3-2zM207 423l-4-7-1 1 2 6 2 0zM207 423l3-1-5-8-1 1-1 1zM240 425l-5-1-1-1 1-4 4-2 2 1 2 2 0 2-1 2zM250 419l2 4-2 1-7-2 0-2 3-3zM266 418l5 0 0 2-8 5-1-5zM273 425l-2-5 0-2 3-4 2 0 2 3 0 4-3 4zM281 424l-3-3 0-4 7 3-1 0zM313 420l-7 0-4 5 0 1 4 2 7-7zM317 418l1 5-5-2 0-1zM317 418l3-1 0 6-2 0zM320 423l2 1 4-2 0-1 0-1-6-4 0 1zM189 428l-1-5 7-1 3 2 0 1 0 1-6 2zM206 423l0 4-1 1-3-1-2-2 4-2zM207 423l3-1 2 1 1 2-4 5-3-3 0-4zM262 420l-2-1-3 0-4 4 2 2 6 1 2-1zM270 429l3-4-2-5-8 5 4 4zM281 424l-3-3-3 4 2 2 4-1zM281 424l3-4 2 5-1 2-4-1zM285 427l2 4 5 2 0-2-1-7-5 1zM313 421l-7 7 2 3 6 0 1-2zM313 421l2 8 2-1 1-5zM318 423l-1 5 5-1 0-3-2-1zM328 429l-2-7 0-1 3 0 5 1-1 3-4 4zM192 428l6-2 0 7-4-1zM202 427l1 5 2-1 0-3zM205 428l0 3 2 1 2-1 0-1-3-3zM226 426l-2 1-3 3 2 4 2 1zM226 426l-1 9 5-5-3-5zM240 425l-5-1-1 7 4 1zM244 431l-2 4-4-3 2-7zM244 431l-4-6 2-1 5 4-2 3zM245 431l6 3 1-3-3-4-2 1zM253 423l2 2-1 5-2 1-3-4 1-3 2-1zM254 430l1-5 6 1-3 6zM270 429l3-4 2 0 2 2-1 5-4 0zM277 427l4-1 0 7-1 1-4-2zM281 426l0 7 6-2-2-4zM323 434l1-3-2-4-5 1-2 1-1 2 5 5 1 0 1-1zM329 429l4-4 3 4 0 4-5-2zM217 430l-5 6-3-5 0-1 4-5 2 1 2 3zM217 430l2 5-5 5-1 0-1-4zM217 430l2 5 4-1-2-4-4-1zM225 435l1 3 6-1 2-5-4-2zM242 435l-4-3-4-1 0 1-2 5 2 2 1 0 7-2 0-1zM244 431l-2 4 0 1 5 2 4-2 0-2-6-3zM251 436l0-2 1-3 2-1 4 2 2 4-3 4-6-3zM267 438l-5-2 5-7 3 0 2 3 0 1zM272 432l4 0 4 2 0 4-1 0-5-1-2-4zM289 439l3-6-5-2-6 2-1 1 0 4 5 2zM300 436l2-10-10 5 0 2 3 2zM302 439l6-3 0-5-2-3-4-2-2 10zM328 436l3-5-2-2-1 0-4 2-1 3zM328 436l3-5 5 2 1 2-2 2-6 0zM218 442l3 0 4-1 1-3-1-3-2-1-4 1-5 5 3 2zM302 439l-2-3-5-1 2 4zM308 431l0 5 4 6 1 0 3-2 3-4-5-5zM328 436l-5-2-2 1 6 6 2-4zM227 444l2 1 5-2 0-4-2-2-6 1-1 3zM242 445l0-8-7 2zM247 447l0-9-5-2 0 1 0 8 1 2zM248 447l3-10 0-1-4 2 0 9zM255 448l-5 0-2-1 3-10 6 3 0 3zM272 441l2-4 5 1-4 7-1 0-1-1zM281 449l-6-4 4-7 1 0 5 2zM296 442l1-3-2-4-3-2-3 6 1 2zM296 442l1-3 5 0 0 3-1 1-3 1zM302 439l6-3 4 6-4 2-2 1-4-3zM324 446l-8-6 3-4 1 0 6 9zM329 437l6 0-3 6-4 1-1-3zM217 442l-3-2-1 0-3 2-2 5 0 1 4 2 4-1zM218 442l3 0 1 8-1 1-2-1zM222 450l1 0 4-6-2-3-4 1zM230 451l4-7 0-1-5 2 1 5zM234 444l4 4 5-1-1-2-7-6-1 0 0 4zM265 446l8-2 1 1-2 4-5 0-1-1zM298 444l3-1 1 4-6 3-1 0zM306 445l-4-3-1 1 1 4 1 1 3-2zM218 442l1 8-3-1 1-7zM223 450l4 1 3-1-1-5-2-1zM230 451l3 1 3-2 2-2-4-4zM273 455l-1-6-5 0 0 5 4 1zM281 449l-6 6-2 0-1-6 2-4 1 0zM306 446l2 8-1 0-4-3 0-3zM306 445l2-1 2 8-1 1-1 1-2-8zM323 446l-1 7 2 2 2-1 3-4-2-5-1 0-2 1zM154 460l1 1 2 0-1-6-2-4-3 0-1 4zM159 462l-2-1 5-9 3-1 0 3zM221 451l0 1 5 4 1-5-4-1-1 0zM230 451l3 1 0 4-6 5-1-5 1-5 3-1zM236 450l-3 2 0 4 1 1 5-3zM238 448l5-1-1 7-3 0-3-4zM243 447l4 0 1 0 2 1-2 10-5-3-1-1zM257 453l1 1-10 5 0-1 2-10 5 0zM266 448l1 1 0 5-7 3-2-3-1-1zM295 451l7 7 4-2 1-2-4-3-7-1-1 0zM326 454l4 5 4-3-3-6-1 0-1 0zM337 456l3-5-1-1-8 0 3 6zM343 452l4-3 3 5-5 2zM166 465l6-4 1-1 0-1-8-5-6 8 1 2 5 1zM270 463l-2 1-7-4-1-3 7-3 4 1zM281 449l-6 6 3 4 1 0 7-7zM290 454l1 5-7 2-5-2 7-7zM295 451l7 7-2 4-9-3-1-5 2-3zM324 455l-3 3 2 3 6 1 1-3-4-5zM337 456l2 4 5 1 1-3 0-2-2-4-3-1zM345 458l5 1 1-4 0-1-1 0-5 2zM258 454l-10 5 7 9 6-8-1-3zM278 459l-2 6-6-2 1-8 2 0 2 0zM278 459l-2 6 3 4 5-8-5-2zM330 463l-1-1 1-3 4-3 3 0 2 4-2 3zM352 460l2 1-1 4 0 1-8-2zM291 459l-7 2-5 8 0 1 5 0 3 0 3-10zM287 470l5 3 2-6-4-7zM301 464l-1-2-9-3-1 1 4 7 5-1zM330 463l-1-1-6-1-3 5 6 1 3-2zM337 463l2-3 5 1 1 3-2 4-5-1zM159 462l-2-1-2 0-8 6 2 4 5 1 3-1 3-7zM279 470l-1 1-3 1-5-2 0-7 6 2 3 4zM312 471l1 4 2 2 5-5 0-6-4-2-3 2zM326 467l-6-1 0 6 5 1zM331 473l-5 1-1-1 1-6 3-2 3 3zM344 471l4 0 4-3 1-2-8-2-2 4 1 2zM153 477l-4-1-1-3 1-2 5 1 0 2zM154 474l0-2 3-1 5 7-2 0zM165 465l-3 14 0-1-5-7 3-7zM284 470l3 12 7-8-2-1-5-3zM153 477l1 2 6-1-6-4zM278 485l-7-9 4-4 3-1 3 13-1 0zM279 470l-1 1 3 13 5 0 1-1 0-1-3-12zM299 482l-3-7 2-2 4 1 2 2 0 4-3 3zM315 482l-11-2 0-4 9-1 2 2zM325 480l-3 2-3 2-4-2 0-5 5-5 5 1 1 1zM331 473l-5 1-1 6 2 0 2-1 3-5zM155 485l-2-3 1-3 6-1 2 0 0 1-6 6zM299 482l-3-7-2-1-7 8 0 1 8 2zM301 483l3-3 11 2-8 6-1 0-2 0zM334 483l-7-3 2-1 5 0 1 2zM156 485l6-6 6 3 0 3-4 4-6-1zM155 485l-1 2 0 4 2 1 2-4-2-3zM315 492l1-1 3-6 0-1-4-2-8 6 4 4zM331 490l3-3-12-5-3 2 0 1 0 1 4 3zM140 495l4 2 3-2-6-6-1 2 0 3zM156 492l0 2-3 6-6-5 1-4 6 0zM283 495l-3-11 1 0 5 0 3 5-1 3-3 4zM164 493l-8 1-3 6 1 0 11 5 1-4zM153 500l1 0-3 4-6 0-4-2 3-5 3-2zM145 504l6 0 0 3-4 3zM139 506l2 7 3-3-1-1zM149 518l0-1-2-7 4-3 5 6-5 6zM151 507l5 6 8-3 1-3 0-2-11-5-3 4zM144 510l-3 3 8 4-2-7zM165 520l-11 3-2-2-1-2 5-6 8-3 2 9zM149 524l3-3-1-2-2-1-7 2 1 4zM156 530l-2-7-2-2-3 3-5 6 5 3 5-1zM154 541l-5 0-1-3 1-5 5-1zM149 541l-1-3-2 0 2 6zM150 547l6-5-2-1-5 0-1 3 1 3zM252 540l-1 0-6 2 5 10 4-5 0-4-1-2zM243 554l-1-9 1-3 2 0 5 10 0 1zM249 562l-4 0-2-8 7-1 2 3-1 5zM235 563l-2-7 10-2 2 8-6 4zM258 556l-1 8-2 0-4-3 1-5 5 0zM261 562l-1 2-3 0 1-8zM267 567l-6-1-1-2 1-2 2-2 2 0 3 6zM270 560l0 2-2 4-3-6 1-1zM160 562l-5-5-3 1 3 9 1 0zM235 563l-2-7-3-2-6 12 6 2zM239 566l6-4 2 9-5 3-2-3zM249 571l0-9-4 0 2 9zM249 571l0-9 2-1 4 3-2 6-3 1zM156 567l-1 0 1 3 1 5 3-3zM162 562l-2 0-4 5 4 5 1 0 2-5zM163 567l-2 5 4 2 4-1 1-4zM214 570l-1-1 0-1 3-2 8 1-2 4zM230 570l0-2 5-5 4 3 1 5-2 0zM259 570l2-4-1-2-3 0-2 0-2 6 5 2zM268 568l0 1-2 2-7-1 2-4 6 1zM214 570l-1-1-7 2-1 4 0 1 1 1 6-3 2-3zM222 571l4 4 0 6-1 1-6-3-1-1 0-2zM230 570l0-2-6-2 0 1-2 4 4 4 4-3zM238 571l2 0 2 3-8 6-1-1-1-5zM263 578l-4-3-1-3 1-2 7 1zM263 578l1 2 10-3-1-3-5-5-2 2zM167 583l-3-2 1-7 4-1 2 2 0 1zM194 570l-5 5 0 1 4 5 3-1 1-7zM197 573l-1 7 2 1 7-5 0-1-2 0zM214 571l-2 3 2 4 4 0 0-2zM230 572l-4 3 0 6 7-2-1-5zM242 574l5-3 2 0 1 0 2 6-1 1-4 2zM251 578l2 3 2 0 2-5-5 1zM193 581l-4-5-1 0-1 8 2 3 1 0zM210 581l4-3 4 0 1 1-4 5-4-1zM235 581l5 1 2-8-8 6zM240 582l2 3 5-3 0-2-5-6zM251 586l2-5-2-3-4 2 0 2zM264 583l0-3-1-2-4-3-2 1-2 5 4 3zM176 583l3 4-5 4-4-2-1-3zM189 587l-9 0 3-4 4 1zM210 581l1 2-2 5-1 1-6-4 5-6zM215 584l4-5 6 3 0 3-1 2-5 2-2-1zM235 581l0 7-10-3 0-3 1-1 7-2 1 1zM235 581l0 7 3 3 2-1 1-1 1-4-2-3zM251 586l-2 1-8 2 1-4 5-3zM251 586l2 2 6-4-4-3-2 0zM177 595l-3-4 5-4 4 6zM202 585l-2 1-1 1 4 9 1 0 4-7zM209 588l8 0 2 1-2 4-5-1-4-3zM249 587l-2 7-7-4 1-1zM251 586l2 2-1 7-1 0-3-1-1 0 2-7zM264 583l-4 9-7-4 6-4zM260 593l0-1 4-9 0 1 3 4-1 3zM270 594l3-1 0-1 0-1-1-1-5-2-1 3 2 3zM272 590l-5-2-3-4 8 2zM175 601l2-6-3-4-4-2-4 11 1 2zM224 598l-6-1-1-4 2-4 5-2 3 9-2 2zM253 588l7 4 0 1-2 3-6-1zM266 596l2-2-2-3-6 2zM177 602l-2-1 2-6 6-2 1 0 1 2zM215 600l-5 1 2-9 5 1 1 4zM250 601l6 1 2-4 0-2-6-1-1 0zM265 602l1-1 0-5-6-3-2 3 0 2 6 3zM190 603l3 6 4-4 1-9-4-1-4 5zM243 600l-7-4-1 6 5 4zM264 601l-6-3-2 4 3 3zM179 604l8 7 6-1 0-1-3-6-9 0zM250 601l6 1-3 7-1 0-3-7zM257 610l-4-1 3-7 3 3 0 2zM266 606l-1-4-1-1-5 4 0 2zM273 606l-1 1-6-1-1-4 1-1 6 1zM179 604l-2-2-2-1-8 1 3 7 2 2 4 0 2-2zM182 613l-4-4 1-5 8 7zM210 605l-2 8-2 1-1-2 0-2 3-8zM244 607l-1 6 5 2 1 0 2-5-6-4zM258 611l-1-1 2-3 7-1 0 1-6 4-1 0zM266 607l0 4-2 1-4-1zM271 611l-2 3-3-3 0-4 0-1 6 1 0 2zM197 621l9-3 0-1 0-3-1-2-12-1 1 2zM258 611l-1 4-4 2-4-2 2-5 1-1 1 0 4 1zM258 611l-1 4 4 4 3 0-1-3-4-5zM264 612l-1 4 1 3 1 0 1 0 3-1 0-4-3-3zM187 611l6-1 0 1 1 2-8 8-2-2zM223 614l6-1-4 7-5-4zM257 615l4 4-5 3-1 0-2-5zM197 623l-7 0-4-2 8-8 3 8zM210 623l4 4 2 0 2-4-1-5zM217 616l0 1 0 1 1 5 2 1 5-3 0-1-5-4zM247 624l8-2-2-5-4-2-1 0-2 4 0 2zM181 626l3 5 2-2-2-4-3-1zM197 623l1 4-2 3-2 1-7-2 3-6zM197 623l1 4 4 1 5-2 2-3-3-5-9 3zM216 627l2 2 4 0 2-2-4-3-2-1zM247 624l2 2 4 1 2-5zM210 623l4 4-1 2-4 1-2-4 2-3zM248 631l4 2 2-5-1-1-4-1zM194 631l-7-2-1 0-2 2-2 3 5 3 2 0zM207 633l-5-5-4-1-2 3 2 5 5 1zM211 636l-4-3 2-3 4-1 0 6zM213 635l4 0 1 0 0-6-2-2-2 0-1 2zM222 637l-4-2 0-6 4 0 2 7-1 1zM195 641l-6-4 5-6 2-1 2 5-1 5zM211 636l-1 4-4 1-3-5 4-3zM195 641l-6-4-2 0-1 8 4 0 2 1zM202 643l4-2-3-5-5-1-1 5zM215 642l2-7 1 0 4 2-3 4-1 1zM268 641l0-1-3-3-5-1-5 3 2 6 2 0 6 0zM200 646l-6 2-2-2 3-5zM200 646l-5-5 2-1 5 3 0 2zM202 645l4 4 0-8-4 2zM236 649l7-1 1-1-3-7-3 3zM194 648l0 1-5 3 1-7 2 1zM200 646l-6 2 0 1 2 3 5 1zM200 646l1 7 1 0 6 0-2-4-4-4zM262 656l-3 0-2-9 0-2 2 0 5 6zM265 650l-1 1-5-6 6 0zM189 652l-1 1 1 2 5-1 2-2-2-3zM236 650l0 3-1 3-4 1-4-5 1-5 1 0zM201 653l1 0-3 8-4 0-1-7 2-2zM202 653l-3 8 1 1 6 1 2-1 0-7 0-2zM211 652l2 1 2 4-1 3-6-5 0-2zM215 652l5 1 1 8-6-4-2-4zM238 660l-2-2-1-2 1-3 6 1 1 1-1 5zM247 661l-2 2-3-3 1-5 3 0 3 4zM273 653l-4 0-3 3 5 4 2-4zM231 667l5-9 2 2 0 3-6 4zM245 666l-3 2-4-5 0-3 4 0 3 3zM262 656l3 6-6 1-1-1 1-6zM199 666l1-4-1-1-4 0-3 1 0 1 2 5 4 0zM239 671l3-3-4-5-6 4 1 2 0 1zM252 665l3 2 4 0 0-1 0-3-1-1-3 1zM240 672l7 0 1-5-3-1-3 2-3 3zM255 667l4 0-1 6-4-2zM263 667l-4-1 0 1-1 6 1 2 2-1 2-6zM263 668l-2 6 5-1 1-2zM242 681l3 2 2-3 2-4-1-2-1-2-7 0zM248 674l3-5 1 2 0 3-3 2zM252 674l7 3 0-2-1-2-4-2-2 0zM242 681l-2-9-1-1-6-1 0 7zM249 676l-2 4 10-1 2-2-7-3zM263 680l-4-3 0-2 2-1 5-1 3 6 1 0zM242 681l-3 2-10-1 0-2 4-3zM263 683l-3 5-2 0-1-4 0-5 2-2 4 3zM245 683l12 1 1 4-1 1-2 0-9-3zM234 691l3-1-1-3-4 0zM237 690l2 3 1 0 6-6 0-1-1-3-3-2-3 2-3 4z"/><path fill="#f8f4b8" d="M160 36l1-4-1 0-1 1-4 1 4 2zM186 34l-1-6-4 0-1 1zM186 34l3-1 1-7-5 2zM189 33l6 0 1-1 0-6-5 0-1 0zM196 32l9 5 3-1-5-9-2 0-5-1zM208 36l3 0 1-4-5-6-4 1zM217 41l0-1 3-6-5-4-1-1-2 3-1 4zM161 32l-1 4 7 1 1 0 2-5 0-1-4-2-2 1zM180 29l-1 1-2 4 8 2 1-2zM217 40l3 0 3-3-3-3zM149 39l3 4 2 0 4-3 1-4-4-2-5 1 0 1zM168 37l5 5 3-3 1-5-7-2zM184 44l-8-5 1-5 8 2 0 1zM185 37l0-1 1-2 3-1 6 0-1 5zM203 39l-4 2-5-3 1-5 1-1 9 5zM146 43l2 3 1 0 3-3-3-4-3 0-2 1zM165 45l2-8-7-1-1 0-1 4zM165 45l2-8 1 0 5 5 0 4zM194 38l5 3-2 6-5-5zM140 46l2 2 6-2-2-3-5 0zM160 50l-5-6-1-1 4-3 7 5-2 5zM184 46l0 1 10 6 3-1 0-5-5-5zM203 39l-4 2-2 6 0 5 4-3zM203 39l-2 10 4-1 0-11zM205 37l3-1 3 0 6 5-1 3-10 4-1 0zM228 43l-8-3-3 0 0 1-1 3 0 1 8 8 6-2-1-2zM228 43l1 6 6-5-5-3zM240 47l-5-3-6 5 1 2 1 1 4-2zM140 46l-3 0-2 1 0 4 3 4 2 0 2-6 0-1zM152 43l2 0 1 1-1 7-4-1-1-4zM156 54l-2-3 1-7 5 6zM163 50l2-5 8 1 3 4-7 5-2-1zM215 48l1-3 0-1-10 4 0 1 4 5zM147 52l-2 4-5-1 2-6zM149 52l-2 0-2 4 3 2 2 1zM156 54l6 6 5-6-4-4-3 0zM191 59l3-6-10-6-5 3 0 1 7 7zM201 49l-4 3 1 1 7 2 1-6 0-1-1 0zM209 56l1-2-4-5-1 6 2 1zM210 56l-1 0 1-2 5-6 1 8-5 1zM216 56l1 0 5 0 2-3-8-8-1 3zM235 50l5 7-5 2-2-1-2-6zM235 50l5 7 5-4-1-3-4-3zM156 54l-5 6 3 1 4 2 4-1 0-2zM178 61l-4 3-5-9 7-5 3 0 0 1zM180 61l-2 0 1-10 7 7zM205 61l2-5-2-1-7-2 2 4zM215 64l2-8-1 0-5 1zM162 60l0 2 2 2 10 0-5-9-2-1zM188 67l4-4-1-4-5-1-6 3 6 7zM197 66l4-2-1-7-2-4-1-1-3 1-3 6 1 4zM205 61l-5-4 1 7 4 0zM210 65l0-9-1 0-2 0-2 5 0 3 1 1zM213 66l-3-1 0-9 1 1 4 7 1 1-1 1zM215 64l2-8 5 0 2 7-8 2zM233 58l-8 6 3 6 7 3 4-2-4-12zM235 59l4 12 1 0 5-4-5-10zM240 57l5 10 10-4-10-10zM186 68l-6-7-2 0-4 3 0 2 8 2zM301 78l2-3 9-17-11 3-11 5 4 10zM174 64l-10 0 0 3 2 1 1 4 3 1 4-4 0-3zM182 68l-8-2 0 3 4 3zM188 67l4-4 5 3 3 9-2 1-5-1zM204 72l-4 3-3-9 4-2 4 0 1 1zM213 66l-3-1-4 0-2 7 5 0zM222 74l6-4-3-6-1-1-8 2-1 1zM272 76l19 2 3-2-4-10-3 1-18 2zM174 79l-4-5 0-1 4-4 4 3 1 3zM186 68l-4 0-4 4 1 3 5 1zM188 67l5 8-8 2-1-1 2-8zM213 66l-4 6 3 4 4-1-1-9zM215 66l7 8-1 1-3 1-2-1zM247 77l-7-6 5-4 10-4 3 0-8 15zM345 70l0-2-4-6-26-5-3 1-9 17 28 7zM179 75l-5 4 2 1-1 2 10-3 0-2-1-1zM212 76l-2 4-5-1-5-4 4-3 5 0zM216 75l2 1-1 6-6 0-1-2 2-4zM221 75l2 7 8 1 4-10-7-3-6 4zM263 64l-1-1-4 0-8 15 4 3zM263 85l7 0 2-9-3-7-2 1-1-4-3-2-9 17 0 1zM185 84l1-2-1-3-10 3 0 1zM196 86l-2-3 4-7 2-1 5 4-2 7 0 1zM221 75l2 7-4 2-2-2 1-6zM243 85l-8-12 4-2 1 0 7 6-2 6zM249 84l3 0 2-2 0-1-4-3-3-1-2 6zM309 106l-8-28 2-3 28 7-18 25zM205 87l5-1 1-4-1-2-5-1-2 7zM242 87l-1 0-10-4 4-10 8 12zM272 89l9 12 10-23-19-2-2 9zM282 102l-1-1 10-23 3-2 7 2 8 28-5 1zM331 82l-18 25 2 2 3-1 20-7 3-17 4-14zM260 97l12-8 9 12-20 1-1-2-1-1zM260 109l1-7 20-1 1 1-5 7-7 3zM277 130l1-4-1-17-7 3-5 7 0 2 2 3zM278 126l-1-17 5-7 22 5-5 9zM277 132l16-2 6-14-21 10-1 4zM313 107l-4-1-5 1-5 9-6 14 5 7 15 2 7-2 4-1-3-5-9-2 0-11-2-6 5-3zM296 139l2-2-5-7-16 2 3 5 9 6 1 0zM313 139l-15-2-2 2 2 7 6-2 2 2zM197 151l5 2 1-4zM320 137l-7 2-7 7 4 6 0-1zM794 261l3 2 12 1 1-2-8-2-10-1zM731 277l6 0 2-4-6-15-1 0-5 6zM797 263l2 4 7 4 2-1 1-2 0-4zM759 273l0 1-6 2-2-5 3-2zM764 263l7 4-1 7-1 1-8 1-2-2 0-1 2-7 1-2zM800 277l2 1 3-2 1-5-7-4zM710 285l3 1 9-8-9-8-1 0-6 3 0 6zM759 274l2 2-2 7-3 2-6-2 3-7zM769 275l-2 8-8 0 2-7zM559 288l-3-2 0-2 5-3 5 1 0 1-1 4-2 1zM726 278l-4 0-9 8 7 9 5 1 2-17zM756 285l3 7 2-2 7-5-1-2-8 0zM565 287l1-4 8 1 0 1-1 5-7-1zM574 296l4-6 1-2-1-2-1-2-3 1-1 5zM727 279l-2 17 4 3 10-1 1-2 1-2 2-9-6-8-6 0zM793 290l-5-5-6 0-1 3 6 0 5 3zM562 296l0-5-4 1 2 3zM562 296l0-5 1-3 2-1 1 2 1 9-1 0zM566 289l1 9 2 0 4-1 1-1-1-6zM646 303l1 1 2-4-4 1zM699 296l-3 8-5-3 0-4 5-3 1 0 2 1zM699 296l7 6 3-2-3-10-1 0-6 5zM562 296l4 2-4 5-2-1-3-3zM574 296l-1 1 3 6 2 1 6-2 1-1-3-1-3-4zM615 302l0 2 9-3-3-1-4 1zM629 308l1-6-6-1 1 4zM634 304l-1-2-3 0-1 6 1 1 1 0 1-1zM643 303l3 0-1-2-6 1zM699 296l7 6-3 5-7-2 0-1zM615 305l4 3 6-3-1-4-9 3zM639 306l-1-4-4 2-2 4zM642 311l6-6-1-1-1-1-3 0-3 4zM658 307l3-5-6-2-6 0-2 4 1 1 4 5zM668 309l-4-8 5-10 2-1 5 8-3 12zM677 310l4-2 0-6-5-4-3 12zM687 302l-2 7-2 0-2-1 0-6 4 0zM690 302l-1 5-3 2-1 0 2-7zM696 304l0 1-2 3-5-1 1-5 1-1zM706 302l-3 5 0 2 4 3 3 0 5-3 0-1-2-7-4-1zM729 301l0-2-4-3-5-1-7 6 2 7 9-3zM603 311l2-2 1-4-1 0-2 0-2 3 0 2zM605 309l2 2 5 2 0-5-6-3zM615 305l-3 3 0 5 7 1 0-6zM619 308l0 6 3 4 1 0 7-9-1-1-4-3zM642 311l-2-4-1-1-7 2-1 1 8 7 2-4zM642 311l6-6 4 5-11 2zM668 309l-7 3-3-5 3-5 3-1zM689 312l2-1-2-4-3 2zM693 311l1-3-5-1 2 4zM696 305l-2 3-1 3 1 2 2 0 7-4 0-2zM721 310l3-5-9 3 0 1 2 2 3 0zM721 310l3-5 5-4 0 1-2 9zM735 313l-6-11 0-1 0-2 10-1 0 1 0 3zM601 310l2 1 0 4-1 0-5-3 1-2zM603 315l1 0 1 0 2-4-2-2-2 2zM652 313l0-3-11 2-2 4 0 1 8 1zM668 309l-7 3 0 3 6-2zM670 317l3-1 0-6-5-1-1 4 1 2zM679 318l-2-8-4 0 0 6 4 3 2 0zM680 318l4-2-1-7-2-1-4 2 2 8zM687 317l2-5-3-3-1 0-2 0 1 7zM687 317l2-5 2-1 2 0 1 2-3 4zM698 318l3-1 2-8-7 4zM717 311l-2-2-5 3 2 7 2-1zM720 311l-3 0 1 2 5 4 1-3zM721 310l6 1-3 3-4-3zM605 320l3-1-4-4-1 0-1 0-1 3zM608 319l-4-4 1 0 6-1-1 6zM610 320l1 1 4 2 7-5-3-4-7-1-1 1zM660 323l2-4-1-3-6 0 0 4 3 3zM664 319l4-4-1-2-6 2 0 1 1 3 1 1zM669 321l-5-2 4-4 2 2 0 1zM673 321l4-2-4-3-3 1 0 1zM694 320l-1 0-2-3 3-4 2 0 2 5zM704 320l-3-3 2-8 4 3-2 8zM705 320l2-8 3 0 2 7-1 2zM718 313l-1-2-3 7 3 0zM723 319l0-2-5-4-1 5 5 2zM604 324l1-4 3-1 2 1 1 1-1 1-5 2zM658 323l-5 5-1 1-1 0-1-1-1-5 6-3zM670 324l0 1-4 0-3-5 1-1 5 2zM670 324l-1-3 1-3 3 3-1 2zM672 323l4 1 2-3 1-2-2 0-4 2zM680 318l4-2 3 1 1 7-1 2zM688 324l-1-7 4 0 2 3-1 2zM700 325l-2-7-4 2 4 6zM700 325l2-1 2-4-3-3-3 1zM722 320l-1 2-3 4-2 0-5-3 0-2 1-2 2-1 3 0zM746 314l-1 0-4 2 0 3 0 5 2 4 3-6 1-7zM615 323l-4-2-1 1-2 7 1 1zM638 320l1 3-2 9-6-1-3-7zM649 323l1 5-2 0-9-5-1-3 1-3 8 1zM660 323l1 2-2 5-6-2 5-5zM666 325l-2 2-3-2-1-2 2-4 1 1zM670 324l0 1 1 4 1 1 3-2 1-4-4-1zM678 321l-2 3-1 4 5 0 1-1zM680 318l7 8 0 1-3 1-3-1-3-6 1-2 0-1zM687 327l0 1 4 2 5 1 1-1-5-8-4 2-1 2zM698 326l-1 4-5-8 1-2 1 0zM640 335l-3-3 2-9 9 5zM680 328l-1 8-5 0-2-6 3-2zM700 325l2-1 5 3-2 8-6 0-3-4 1-1 1-4zM705 335l2-8 4-4 5 3-3 6-5 4zM651 329l-2 10-8-3-1-1 8-7 2 0zM665 332l4-3 2 0 1 1 2 6-2 1zM681 327l-1 1-1 8 2 1 3-9zM684 328l-3 9 3 1 3-10 0-1zM684 338l0 1 2 0 5-9-4-2zM690 340l-4-1 5-9 5 1 3 4-1 2-5 3zM655 335l-3-6-1 0-2 10 2 2 3-2zM661 341l2 1 4-2-4-7 0-1-1 1-1 1zM667 340l1 0 4-3-7-5-2 1zM740 332l-12 6-1 0 9 6-1-7 5-4 1-1zM651 343l0-2-2-2-8-3-1 2 1 7 8 0zM661 341l-5 6-5-4 0-2 3-2 5 1zM665 348l1 0 4-3-2-5-1 0-4 2zM690 340l-4-1-2 0-3 9 4 3 1 0 3-4zM693 347l-4 0 1-7 3 0 1 6zM698 346l2-4-2-5-5 3 1 6zM693 347l-4 0-3 4 5 1 3-2zM698 351l-4-1-1-3 1-1 4 0 1 4zM698 351l-1 4-2 1-3-2-1-2 3-2zM676 362l2-4 0-2 0-1 0 1-6 4zM685 361l1-1-1-3-7-1 0 2zM695 356l-3-2-3 6 1 1 4-2zM734 360l2-6-1 1-2 1zM668 368l2-7-6 7 1 0zM684 362l-8 1 0-1 2-4 7 3zM694 359l-4 2 4 7 1-1 3-5zM215 364l3-1 4 0-6 7-1-1-1-4zM672 360l-2 1-2 7 3 1 5-1 0-5 0-1zM682 370l-4-1-2-1 0-5 8-1 1 6zM690 361l4 7-2 1-7-1-1-6 1-1 1-1 3 0zM655 375l1-1 0-1-2 1zM673 377l2 1 3-9-2-1-5 1 0 7zM683 375l-1-5-4-1-3 9zM683 375l-1-5 3-2 7 1-3 7-5 0zM695 379l-6-1 0-2 3-7 2-1 0 2zM703 378l0-1-3-3-6-4 1 9 1 1 3 0 0-2 3 1zM652 378l-2-1-3 3 3 0zM652 378l3-1 0-2-1-1-3 2-1 1zM386 386l-3-1 1-2 4-3 1 0 1 1 0 3zM647 380l-4 3 1 1 7-1-1-3zM656 381l0 4-2 1-3-3-1-3 2-2 3-1zM368 387l-3-6-7 2-1 1 6 5zM373 383l-1 2 8 2 1-1-2-4-5 0zM396 383l-4 2 2 6 0 1 2-1 4-3 0-2-2-2zM407 383l2 4 2 0 3-1 1-4-2-1zM419 382l-4 0-1 4 5 3 1 0zM419 382l1 7 3 0 1-2 1-4-4-3zM429 382l-2 0-2 1-1 4 6 1 2-1 0-1 0-1zM643 387l1-2 0-1-1-1-1 0-1 4zM666 383l1 1-8 4-2-1-1-2 6-3zM341 389l0-2-7-3-3 1-2 1 3 4 2 1 5 0zM341 389l0-2 1-1 6-3 2 0 3 3 0 4-5 2-4 0zM363 389l-2 5-3 1-5-5 0-4 4-2zM377 394l-2 0-5-7 2-2 8 2 0 5zM386 394l1-1 0-5-1-2-3-1-2 1-1 1 0 5zM387 388l0 5 4 1 2-1 1-1 0-1-4-3zM390 388l4 3-2-6zM407 383l2 4-4 5-5-4 0-2 5-3 1 0zM411 387l-2 0-4 5 1 3 1 0 4-3zM411 387l3 4 0 1-3 0zM411 387l3-1 5 3 0 1-5 1zM423 389l3 5 2 0 2-6-6-1zM641 387l-1 4 2-1 1-3zM661 390l-2-2 8-4-3 7zM687 385l3 3 0 3-3 1-1-2zM332 401l-1-1 3-9 5 0-2 5zM349 396l-1-4 5-2 5 5 0 2-2 1-1 0zM375 394l-5-7-2 9 2 0zM406 395l-1-3-5-4-4 3 4 5 3 1zM420 389l-1 0 0 1 0 10 1 0 1 0 5-6-3-5zM660 394l-4 1-1-1 2-7 2 1 2 2zM341 399l3-2 0-5-3-3-2 2-2 5zM344 397l3 4 1-2 1-3-1-4-4 0zM348 399l7-1-6-2zM378 399l-1-5 3-2 6 2-1 6zM388 406l2 0 1-2 0-10-4-1-1 1-1 6zM393 393l-2 1 0 10 5-3 0-2zM401 402l-5-1 0-2 4-3 3 1zM421 400l7 2 4-5 0-1-4-2-2 0zM660 394l-4 1 0 4 6 0 1-1zM333 401l1 1 6 0 1-3-4-3-5 5zM348 399l-1 2 0 2 4 0 2-1 3-4-1 0zM353 402l3-4 2-1 2 3-3 5zM372 404l-4 1-4-2 3-3 5 3zM384 409l-6-10 7 1 3 6zM340 402l0 1 0 7-3 0-3-8zM345 408l-5 2 0-7 6 0-1 4zM350 409l-5-2 1-4 1 0 4 0 1 4 0 1zM353 402l4 3 0 1-5 1-1-4zM362 407l1-4 1 0 4 2-1 4zM384 409l-2 1-1 1-2-1-2-10 1-1zM652 406l-1-2-5-1 4 5zM349 411l-4-2 0-1 0-1 5 2zM349 411l1-2 2-1 1 2zM353 410l1 2 3-2 0-4-5 1 0 1zM361 407l-4-1 0 4 4 2zM361 413l0-1 0-5 1 0 5 2-5 5zM345 409l2 7-2 1-3 0-2-7 5-2zM349 411l-4-2 2 7 2-1zM349 411l0 4 2 0 3-2 0-1-1-2zM361 413l-4 3-3-3 0-1 3-2 4 2zM379 410l2 1-3 6-8-1 1-4 4-3zM384 409l-2 1 5 8 4 0 3-8-4-4-2 0zM406 411l4 5-2 2-4-5 1-2zM406 411l4 5 5-1 1-1 0-1-3-3-5-1zM693 411l-6 2 2 4 0 1 5-1 0-6zM286 412l0 7-1 1-7-3-2-3 3-3 6 0zM287 412l4 3 1 5-6-1 0-7zM351 415l2 5-2 5-2-1-4-7 2-1 2-1zM351 415l3-2 3 3 0 2-4 2zM361 413l-4 3 0 2 2 2 2 0 3-4-2-2zM378 423l0-6 3-6 1-1 5 8-4 8-2 0zM401 418l4 2 2-2 1 0-4-5-4 2 0 1zM415 415l1-1 5 2 1 6-3 2-4-8zM425 414l1 6-2 1-2 1-1-6zM286 425l5-1 1-4-6-1-1 1-1 0zM349 424l-4 1-7-3-1-2 5-3 3 0zM390 429l1-1 4-6 0-2-4-2-4 0-4 8 1 1zM398 423l-3-1 0-2 5-4 1 2-1 5zM400 423l1-5 4 2-3 4zM407 424l4 1 0-3-4-4-2 2zM408 418l-1 0 4 4 4-6 0-1-5 1zM411 422l0 3 8 0 0-1-4-8zM247 428l2-1 1-3-7-2-1 2zM292 431l-1-7 1-4 6 0 4 5 0 1zM337 420l1 2 1 3-3 4-3-4 1-3zM341 429l-2-4-1-3 7 3-2 3zM371 431l9-3 1-2-3-3-5-1-4 4zM398 423l-3-1-4 6 8 1zM398 423l1 6 1 1 1 0 1-1 1-3-1-2-2-1zM402 424l3-4 2 4-4 2zM403 426l4-2 4 1-4 5-5-1zM337 435l-1-2 0-4 3-4 2 4zM343 428l2-3 4-1 2 1 1 1 0 1-2 5-3 1zM361 435l-9-8 0-1 5-1 5 3 0 6zM371 431l0 1-9 2 0-6 3-4 4 2zM408 433l5-1-2-7-4 5zM419 426l-4 7-2-1-2-7 8 0zM337 435l2 1 6-1 2-2-4-5-2 1zM358 435l2 0 1 0-9-8-2 5 0 1zM376 437l-5-4 0-1 0-1 9-3-2 10zM384 430l-2 8-4 0 2-10 1-2 2 0 1 1zM391 431l-2 5-3 2-2-8 0-3 6 2zM391 431l4 4 5-5-1-1-8-1-1 1zM400 430l-5 5 5 2 2-1-1-6zM401 430l1 6 1 1 4 0 1-4-1-3-5-1zM407 437l5 2 4-6-1 0-2-1-5 1zM339 436l5 7 1 0 2-2-2-6zM351 440l-1 1-3 0-2-6 2-2 3-1 0 1zM351 440l-1-7 8 2zM351 440l6 0 3-5-2 0zM370 442l-3-1-5-7 9-2 0 1-1 7zM370 440l1-7 5 4zM384 430l-2 8 2 1 2-1zM386 438l5 4 1-1 1-1 0-1-4-3zM391 431l4 4-2 4-4-3zM395 435l5 2-2 4-5-1 0-1zM332 443l7 1-2-9-2 2zM337 435l2 9 0 1 5-2-5-7zM351 440l-1 1 4 2 3 1 0-4zM357 440l0 4 0 1 4 1 1-2-2-9zM360 435l1 0 1-1 5 7-2 2-3 1zM378 438l-2-1-6 3 0 2 2 3 6-6zM384 444l0-5-2-1-4 0 0 1 3 5zM386 438l-2 1 0 5 4 2 3-4zM392 441l3 3 2 0 1-3-5-1zM402 436l1 1 0 8-5-4 2-4zM407 437l-2 8-2 0 0-8zM405 445l2-8 5 2 0 4-6 3zM416 446l-4-3 0-4 5 1 3 3 0 1-2 1zM420 443l-3-3 2-4 2 4zM351 448l-4 1-2-6 2-2 3 0zM352 448l2-5-4-2 1 7zM370 442l-3-1-2 2 2 8 5-4 0-2zM381 444l-4 5-5-2 0-2 6-6zM392 441l-1 1-3 4 0 2 2 2 5-4 0-2zM395 444l0 2 2 2 2-2-2-2zM397 444l2 2 4-1-5-4zM416 446l-4-3-6 3 2 4 7 0zM384 444l4 2 0 2-4 2-5 1-1 0-1-2 4-5zM395 446l2 2 0 2 0 1-6 0-1-1zM397 450l3 0 2-1 1-4-4 1-2 2zM403 445l-1 4 4 6 2-5-2-4-1-1zM416 446l-1 4 1 2 5-1-1-3-2-3zM162 452l-5 9-1-6 1-2 3-3zM315 459l-6-6 1-1 2-1 4 2 2 5-2 1zM318 458l3 0 3-3-2-2-4-2-2 2zM352 448l1 1 1 1-2 4-1 0-1 0-3-5 4-1zM386 455l-3 2-4-6 5-1zM390 450l1 1 0 5-5-1-2-5 4-2zM397 451l1 4-6 5-1-4 0-5zM415 450l-7 0-2 5 0 1 5 3 3 0 2-1 0-1 0-5zM315 459l-6 1-1 0-2-4 1-2 1 0 1-1zM352 460l2 1 2-2-5-4-1 4zM376 457l7 3 0-3-4-6-1 0zM304 465l-3-1-1-2 2-4 4-2 2 4-3 5zM305 465l3-5 1 0 4 6zM315 459l-6 1 4 6 3-2 0-5zM316 459l0 5 4 2 3-5-2-3-3 0zM371 461l5 1 7 2 1-2-1-2-7-3zM411 459l-5-3-1 1-3 5 1 4 7-3zM332 468l-3-3 1-2 7 0 1 4-3 2zM353 465l6 1-1-8-2 1-2 2zM383 464l-1 3-3 1-3-6zM403 469l0-3 7-3 1 4-2 3-3 0zM411 467l-1-4 1-4 3 0 0 8zM414 467l5 2 0-1 1-1 1-1-5-8-2 1zM270 463l0 7-5 2 3-8zM299 466l-5 1-2 6 2 1 2 1 2-2zM304 465l-3-1-2 2-1 7 4 1 3-4zM304 465l1 5 7 1 1-5-8-1zM337 472l7-2-1-2-5-1-3 2zM354 471l-2-3 1-2 0-1 6 1 2 1-2 4zM384 469l8-4 1 4 0 1-8 2zM411 467l-2 3 3 4 5-3 2-2-5-2zM312 471l1 4-9 1-2-2 3-4zM331 473l1-5 3 1 2 3 0 1-4 2-1-1zM344 475l0-4 0-1-7 2 0 1 1 2zM346 479l1 0 5-1 1-2 0-1-5-4-4 0 0 4zM354 471l-2-3-4 3 5 4zM390 478l3-5 0-3-8 2zM403 469l3 1 0 6-3 2-2-3zM406 470l3 0 3 4 0 1-6 1zM150 482l3 0 1-3-1-2-4-1-2 5zM332 474l-3 5 5 0-1-4zM337 480l1-5-1-2-4 2 1 4 1 2zM343 481l3-2-2-4-6 0-1 5zM390 478l3-5 3 2-1 8-4-1-1-1zM409 482l-1 0-5-2 0-2 3-2 6-1 0 5zM412 480l0-5 0-1 5-3 4 8-2 3-2 0zM334 487l-12-5 3-2 2 0 7 3zM150 482l3 0 2 3-1 2-4 1zM337 488l4 1 2-8-6-1-2 1-1 2 0 4zM341 489l1 0 7-3-2-7-1 0-3 2zM408 482l-3 6-8-4 6-4zM406 490l2 1 3-3-2-6-1 0-3 6 0 2zM413 489l4-7-5-2-3 2 2 6zM416 491l-1 0-2-2 4-7 2 0 2 4-3 4zM142 487l-1 2 6 6 1-4 0-1-4-5zM150 488l4-1 0 4-6 0 0-1zM156 492l0 2 8-1 0-4-6-1zM295 490l0-5-8-2-1 1 3 5 4 2zM296 491l8-3-3-5-2-1-4 3 0 5zM349 492l3-4-3-2-7 3 1 2zM395 489l-7 1-2-2 5-6 4 1 1 2 0 1zM140 495l0-1-1 1zM156 542l0 9-6-4zM155 557l-4-4 1 5zM155 557l1-3 0-2 0-1-6-4-1 0 1 3 1 3zM162 562l-2 0-5-5 1-3 7 1 1 6zM214 570l8 1-4 5-4-5zM210 581l4-3-2-4-6 3 1 2zM207 579l-1-2-1-1-7 5 2 5 2-1zM199 587l-7 3-2-1 0-2 3-6 3-1 2 1 2 5zM211 583l4 1 2 4-8 0zM184 593l6-4 0-2-1 0-9 0-1 0 4 6zM236 596l-9 0-3-9 1-2 10 3 3 3zM203 596l-5 0-4-1-2-5 7-3zM204 596l3 5 1 0 2 0 2-9-4-3zM177 602l8-7 1 2-5 6-2 1zM185 595l-1-2 6-4 2 1 2 5-4 5-4-3zM243 600l-7-4 2-5 2-1 7 4 1 0-4 6zM244 600l4-6 3 1-1 6-1 1-3 0zM181 603l9 0 0-3-4-3zM204 596l3 5-7 4-3 0 1-9 5 0zM222 607l-4-2-3-5 3-3 6 1zM229 605l5-2 1-1 1-6-9 0-2 2zM208 602l0-1-1 0-7 4 5 5zM210 605l4 6 1-4-7-5zM208 602l0-1 2 0 5-1 3 5-3 2zM222 607l6 1 1-3-4-7-1 0zM240 606l-2 6-3 1-1-10 1-1zM243 600l-3 6 4 1 1-1 1-4-2-2zM246 602l3 0 3 7-1 1-6-4zM193 610l0 1 12 1 0-2-5-5-3 0-4 4zM210 605l4 6-6 2zM222 607l-6 6-2-2 1-4 3-2zM222 607l1 7 6-1 1-1-2-4zM228 608l2 4 3 2 2-1-1-10-5 2zM240 606l-2 6 3 1 2 0 1-6zM172 611l-1 2 3 7 1-1 2-4-1-4zM180 615l-3 0-1-4 2-2 4 4zM208 613l6-2 2 2 1 3 0 1-11 0 0-3zM222 607l-6 6 1 3 3 0 3-2zM180 615l-3 0-2 4 5 2 3-2zM180 615l3 4 1 0 3-8-5 2zM230 624l-5-3 0-1 4-7 1-1 3 2 1 6zM234 620l-1-6 2-1 3-1 3 1-1 7-2 1zM241 613l-1 7 6-1 2-4-5-2zM183 619l-3 2 0 2 1 1 3 1 2-4-2-2zM210 623l7-5 0-1-11 0 0 1 3 5zM238 621l2-1 6-1 0 2-6 2zM180 623l0-2-5-2-1 1 2 4 1 2zM181 626l0-2-1-1-3 3 1 2zM190 623l-3 6-1 0-2-4 2-4zM230 626l-6 1-4-3 5-3 5 3zM230 626l11 1-1-4-2-2-4-1-4 4zM241 627l3-1 3-2-1-3-6 2zM182 634l2-3-3-5-3 2 3 6zM207 633l-5-5 5-2 2 4zM230 626l-6 1-2 2 2 7 5-1 2-4zM230 626l1 5 9 1 1-5zM244 626l3 5-6 3-1-2 1-5zM247 624l2 2-1 5-1 0-3-5zM247 631l-6 3 1 5 10 1 2-1-2-6-4-2zM215 642l-5-2 1-4 2-1 4 0zM231 631l-2 4 1 1 11 3 1 0-1-5-1-2zM186 645l1-8-5-3-1 0 3 7zM222 637l-3 4 3 6 1 0 3-1-3-9zM223 637l1-1 5-1 1 1 1 6-2 5-1 0-2-1zM238 643l3-3 0-1-11-3 1 6zM210 640l-4 1 0 8 2 4 3-1 0-1zM215 642l-5-2 1 11 4-6zM215 642l0 3 3 1 0-4zM218 642l1-1 3 6-3 0-1-1zM236 649l2-6-7-1-2 5 7 3zM252 640l-5 8-3-1-3-7 0-1 1 0zM189 652l1-7-4 0 1 3 1 5zM215 645l-4 6 0 1 2 1 2-1 4-5-1-1zM223 647l-2 6-1 0-5-1 4-5 3 0zM236 649l7-1-1 6-6-1 0-3zM244 647l3 1 2 3-3 4-3 0-1-1 1-6zM254 639l1 0 2 6 0 2-5 3-3 1-2-3 5-8zM226 646l2 1-1 5-2 2-4-1 2-6zM249 659l-3-4 3-4 4 6-2 1 0 1zM253 657l-4-6 3-1 3 6zM255 656l-3-6 5-3 2 9zM265 650l-1 1-2 5 4 0 3-3-1-3zM195 661l-1-7-5 1 3 7zM225 654l-1 8-1 1-1-1-1-1-1-8 1 0zM225 654l-1 8 3 1 4-6-4-5zM215 664l-1-4-6-5 0 7 2 2 5 1zM215 664l-1-4 1-3 6 4 1 1zM227 663l4-6 4-1 1 2-5 9zM252 665l-5-4 2-2 2 0zM252 665l3-2-4-5 0 1zM255 663l-4-5 2-1 2-1 4 0-1 6zM262 656l3 6 4 0 2-2-5-4zM204 667l2-4-6-1-1 4 2 1zM252 665l-2 2-2 0-3-1 0-3 2-2zM263 667l-4-1 0-3 6-1-1 4zM264 666l1-4 4 0 1 4zM201 673l-3-5-4 0 1 3 1 1zM201 667l-2-1-1 2 3 5 2-1zM204 667l0 4-1 1-2-5zM210 664l-2 7-4 0 0-4 2-4 2-1zM252 665l-2 2 1 2 1 2 2 0 1-4zM271 668l-4 3-4-3 0-1 1-1 6 0zM201 673l-5-1 2 6 3-2zM233 677l-4 3-3-4 1-3 6-4 0 1zM248 674l-1-2 1-5 2 0 1 2zM271 668l-4 3-1 2 3 6 3-6 1-3zM201 676l-3 2 4 8 0-1zM205 684l2-2 1-1-2-3-5-2 1 9zM245 683l2-3 10-1 0 5zM270 679l-7 1 0 3 6 3 1-2zM232 687l-1 0-3-3 1-2 10 1-3 4zM269 686l-6 3-3-1 3-5z"/><path fill="#d4e88a" d="M214 29l-4-4-3 1 5 6zM161 32l3-2-4 2zM149 39l1-3-4 3zM220 40l8 3 2-2-5-2-2-2zM140 46l1-3-1 1-3 2zM146 43l-2-3-3 3zM148 46l-6 2 0 1 5 3 2 0 1-2-1-4zM150 59l1 1 5-6-2-3-4-1-1 2zM245 53l10 10 3 0 4 0-5-4-6-3-5-5-2-1zM164 64l-2-2-4 1 6 4zM185 77l0 2 1 3 6 2 2-1 4-7-5-1zM174 79l-4-5-2 2zM219 84l0 3 4 1 2 0 6-4 0-1-8-1zM265 142l8-6 0-1-8-2-4 6 3 3zM204 148l-1 1-1 4 3 1 3 0zM207 159l2-3-4 1-1 0zM320 137l-10 14 10-5 7-5-3-5zM299 166l-1 6 5 2 0-1 0-8zM773 232l-1 0-1 0zM777 240l-4 4 2 3 9 3 3-2-9-6 2-3zM710 254l7 2 2-2 1-11-7 6-3 2zM713 270l-1 0-7-14 5-2 7 2 0 6-3 6zM727 264l5-6-7-3-6-1-2 2 0 6 9 2zM705 256l-8 0-4 4 1 7 2 2 10 4 6-3zM723 268l-9 0 3-6 9 2zM676 275l16-6 2-2-1-7-9 7-8 4zM726 278l-4 0-9-8 1-2 9 0zM674 286l2-11 0-4-4 2-11 1zM682 286l-8 0 2-11 16-6zM657 274l-4 0-2 3 3 3zM682 286l10-17 2-2 2 2-1 10-10 7zM702 281l4-2 0-6-10-4-1 10 2 2zM654 280l9 8 0 2 6 1 2-1 3-4-13-12-4 0zM579 286l-1-3-1 1 1 2zM782 285l-7 0-3 2 4 1 5 0zM574 296l5 0-1-2 0-4zM706 290l4-5 3 1 7 9-7 6-4-1zM687 294l-5-8-8 0-3 4 5 8 5 4 4 0zM634 304l4-2 1 0-2 0-4 0zM691 297l-4-3-2 8 2 0 3 0 1-1zM745 305l2 7 1-1 1-5zM639 316l0 1-1 3-10 4-2-1-3-5 7-9 1 0zM605 320l-4-2 1 4 0-1 1 2 1 1zM605 328l0-4-1 0-1-1 0 4zM605 324l5-2-2 7-2 0-1-1zM615 323l7-5 1 0 3 5-2 3-1 0-7 1zM670 325l1 4-2 0-5-2 2-2zM704 320l-2 4 5 3 4-4 0-2-6-1zM615 323l-6 7 7 1 0-4zM616 327l7-1-5 6-1 0-1-1zM622 333l-4-1 5-6 1 0 0 3zM627 335l-3-6 0-3 2-3 2 1 3 7-3 4zM662 333l-3-3 2-5 3 2-1 5zM663 333l2-1 4-3-5-2-1 5zM607 337l3 0-1-7-1-1-2 0-2 4 0 2zM616 331l1 1-7 5-1-7zM626 335l-4-2 2-4 3 6zM661 334l-4 1-2 0-3-6 1-1 6 2 3 3zM607 337l-3-2 1 2 0 2zM610 337l7-5 1 0 0 7-6 3zM618 339l3 2 5-6-4-2-4-1zM631 342l9-4 1-2-1-1-3-3-6-1-3 4zM657 335l2 5-5-1 1-4zM661 341l-2-1-2-5 4-1zM612 342l-2-5-3 0-2 2 1 4 5 3zM630 346l1-4-3-7-1 0-1 0-5 6 3 3zM672 337l2-1 2 11-6-2-2-5zM684 338l0 1-3 9-4 0-1-1-2-11 5 0 2 1zM624 344l-3-3-3-2-6 3-1 4 1 0 9 1zM641 345l-1-7-9 4-1 4 0 1 4 0 7 0zM656 347l9 1-2-6-2-1zM656 347l-5-4-2 2-1 2zM678 356l7 1 0-6-4-3-4 0 0 1 5 1-4 5zM692 354l-1-2-5-1-1 0 0 6 1 3 3 0zM729 371l2-5-4 2 0 3zM727 371l-1 2 0 3 1-2 2-3zM683 375l-8 3 1 3 7-1 1-4zM666 377l0 6 1 1 2-8zM673 377l-2-1-1 0 0 5zM675 378l-2-1-3 4 0 5 1 0 5-5zM683 380l2 4-5 2-4-5zM684 376l5 0 0 2-3 7-1-1-2-4zM695 379l-6-1-3 7 1 0 8-3 1-2zM386 386l4-2 2 1-2 3-3 0zM672 388l-1-2 5-5 4 5 0 1-3 1zM690 388l-3-3 8-3 2 6zM672 388l5 0 0 3-3 2-3-4zM677 388l3-1 1 4-2 2-2-2zM680 387l0-1 5-2 1 1 1 0-1 5-4 1-1 0zM694 393l-4-2 0-3 7 0 0 1-1 4zM368 387l2 0-2 9 0 1-7-3 2-5zM410 399l-3-4 4-3 3 0-1 8zM414 391l5-1 0 10-1 0-5 0 1-8zM664 391l-3-1-1 4 3 4 2-6zM674 393l1 7 4-4 0-3-2-2zM681 391l1 0 2 5-5 0 0-3zM687 395l0-3-1-2-4 1 2 5 2 0zM687 395l6-1 1-1-4-2-3 1zM364 403l-1 0-3-3-2-3 0-2 3-1 7 3-1 3zM378 399l-1 1-4 2-3-6 5-2 2 0zM393 393l3 6 4-3-4-5-2 1zM682 403l-5-1-2-2 4-4 5 0zM687 395l5 5 0 2-1 1-5-4 0-3zM687 395l6-1-1 6zM696 393l-2 0-1 1-1 6 0 2 3 1 1 0 1-9zM373 402l-1 1-5-3 1-3 0-1 2 0zM402 402l8-3-3-4-1 0-3 2-2 5zM408 404l3-2 2-2-3-1-8 3zM656 399l-2 7 1 1 5-3 2-5zM686 396l-2 0-2 7 1 0 3-4zM686 399l-3 4 3 3 5-3zM357 405l3-5 3 3-1 4-1 0-4-1zM377 400l2 10-4-1-3-5 0-1 1-1zM401 406l0 1-5 3-2 0-4-4 1-2 5-3 5 1zM407 406l-6 0 0-4 1 0 6 2zM413 400l5 0-1 11-1 2-3-3-2-8zM420 400l3 7 0 3-6 1 1-11 1 0zM420 400l3 7 7-2-2-3-7-2zM683 403l3 3-1 5-2 0-2 0-4-6 0-3 5 1zM375 409l-4 3-4-3 1-4 4-1zM407 406l1 3-2 2-1 0-4-4 0-1zM407 406l1 3 5 1-2-8-3 2zM430 405l0 1 1 4-2 1-3 1-3-2 0-3zM675 412l1 1 5-2-4-6-2 2 0 1zM692 402l3 1-2 8-6 2-2-2 1-5 5-3zM362 414l2 2 5 1 1-1 1-4-4-3zM405 411l-1 2-4 2-4-5 5-3zM416 413l0 1 5 2 4-2 1-2-3-2-6 1zM373 422l-4-5 1-1 8 1 0 6zM395 420l-4-2 3-8 2 0 4 5 0 1zM429 411l1 9-2 1-2-1-1-6 1-2zM680 420l3-9-2 0-5 2 0 6zM687 413l-2-2-2 0-3 9 2 2 7-5zM351 425l1 1 5-1 2-5-2-2-4 2zM362 428l3-4-4-4-2 0-2 5zM361 420l4 4 4-7-5-1zM369 426l-4-2 4-7 4 5zM679 425l2 0 1-2 0-1-2-2-4-1 0 4 1 2zM692 425l-10-2 0-1 7-5 0 1zM692 425l-10-2 4 6 6-3 1-1zM681 425l-2 0 0 3 2 4 1-1zM681 425l1 6 4-2-4-6zM423 431l-3 4-1 0-3-2-1 0 4-7 3 3zM416 433l3 2 0 1-2 4-5-1zM357 444l-3-1-2 5 1 1 4-4zM361 446l1 3 5 2-2-8-3 1zM357 445l-4 4 1 1 4 2 4-3-1-3zM354 450l4 2 0 3-6-1zM358 455l0 1 9-2 0-3-5-2-4 3zM367 454l0-3 5-4 5 2 1 2-2 6-5 4-2 0zM397 450l3 0 3 6-5-1-1-4zM402 449l-2 1 3 6 2 1 1-1 0-1zM352 454l6 1 0 1 0 2-2 1-5-4 0-1zM358 456l9-2 2 7-1 1-10-4zM384 462l8 0 0-1 0-1-1-4-5-1-3 2 0 3zM398 455l-6 5 0 1 10 1 3-5-2-1zM365 466l-4 1-2-1-1-8 10 4 0 1zM374 471l5-3-3-6-5-1-2 0-1 1 0 1zM384 462l8 0 0 3-8 4-2-2 1-3zM393 469l9 0-10-7 0 3zM403 469l0-3-1-4-10-1 0 1 10 7zM359 476l1-1-1-4-5 0-1 4 0 1zM359 471l2-4 4-1 0 6-5 3zM363 483l4-7-2-4-5 3-1 1zM365 472l0-6 3-3 6 8 0 3-7 2zM374 474l1 1 7 0 3-3-1-3-2-2-3 1-5 3zM403 469l-1 0-9 0 0 1 0 3 3 2 5 0zM367 476l-4 7 9-1 3-2 0-5-1-1zM375 480l0-5 7 0 2 6-7 1zM384 481l-2-6 3-3 5 6 0 3zM401 475l-5 0-1 8 1 2 1-1 6-4 0-2zM354 488l3-1 1-1-6-8-5 1 2 7 3 2zM363 484l1 2 4 3 5-2-1-5-9 1zM372 482l1 5 1 1 5-1-2-5-2-2zM377 482l7-1-1 7-2 1-2-2zM384 481l-1 7 3 0 5-6-1-1zM373 487l-5 2 1 1 5 1 0-3zM374 488l0 3 2 2 5-4-2-2zM405 490l0-2-8-4-1 1 0 1 6 6zM362 495l2-1 0-8-1-2-5 2-1 1 1 2zM172 611l-2-2 0 1 1 3zM215 672l-1 2-4-1-2-2 2-7 5 1zM223 663l-1-1-7 2 0 1 0 7 4 0 3-3zM223 663l-1 6 5 4 6-4-1-2-1 0-4-4-3-1zM204 671l4 0 2 2-4 5-5-2 0-3 2-1zM222 669l-3 3 4 5 3-1 1-3zM212 680l-4 1-2-3 4-5 4 1 0 2zM217 678l-3-2 0-2 1-2 4 0 4 5-1 1zM217 678l-3-2-2 4 1 1 4 3 1-1zM217 678l1 5 4-1 0-4zM222 678l1-1 3-1 3 4 0 2-1 2-3 1-3-3zM205 684l2-2 4 6-3 2zM213 681l0 7-2 0-4-6 1-1 4-1zM217 684l0 4-4 0 0-7zM207 690l1 0-3-6-3 1 0 1 1 3zM229 693l-1-1-5-3 2-4 3-1 3 3-1 4z"/><path fill="#a6d66a" d="M170 32l7 2 2-4-7 3-2-2zM138 55l-3-4 0 5 3 0zM145 56l-5-1-2 0 0 1 7 1 3 1zM170 74l0-1-3-1 0 4 1 0zM777 240l3-1 1-1-6-4zM705 256l5-2 0-3-12 4-1 1zM775 247l0 7 4 9 11-3 2-1-8-1-5-6 5-2zM808 271l1-3-1 2zM808 270l-2 1-1 5 3-2 0-3zM696 286l-5 1-6-1 10-7 2 2zM698 286l4-5-5 0-1 5 1 1zM795 278l-1 11 6-1-4-5 6-5-2-1zM705 290l-7-4 4-5 4-2 4 6-4 5zM578 286l1 2 0-1 0-1zM697 294l0-7-1-1-5 1 5 7zM699 295l6-5-7-4-1 1 0 7zM696 294l-5-7-6-1-3 0 5 8 4 3zM800 289l0-1-6 1-1 1-1 1 3 1 7 2zM802 294l2 0-4-5zM615 302l2-1-2 0-1 0zM661 302l3-1 5-10-6-1 1 8-7 2-2 0zM747 312l1 0 0-1zM747 312l-1 2 1 1 1-3zM605 328l-2-1 1 1zM604 328l0 5 2-4-1-1zM630 346l-6-2-3 3 9 0zM649 345l-8 0 0 2 7 0zM670 345l-4 3 6 0 5 1 0-1-1-1zM721 378l-4 2 1 0zM703 378l-1 1 2 0zM696 380l-1 2 2 6 0 1 1 0 0-4 1-5zM671 386l-1 0 0 2 1 2 0-1 1-1zM667 384l-3 7 1 1 1-1zM671 390l2 10 2 0-1-7-3-4zM697 389l-1 4 1 1 1-5zM677 405l0-3-2-2-2 0 2 7zM695 403l-2 8 1 0zM650 408l1 0 4-1-1-1-2 0zM676 419l0-6-1-1zM689 418l3 7 1 0 1-8zM679 425l-2 0 2 3zM363 484l-5 2-6-8 1-2 6 0 4 7zM218 683l-1 1 0 4 2 2 3-1 1 0 2-4-3-3z"/></g><g stroke="#4e4426" stroke-opacity="0.55" stroke-width="0.7" stroke-linejoin="round"><path fill="#a50f26" d="M186 109l-2-2-2 1-3 3 1 0 4 1zM194 110l4 3 0 1-4 0-2-3z"/><path fill="#d5352a" d="M187 98l-7 1-1-3 4-4 5 4zM189 101l0-5-1 0-1 2 1 4zM189 101l4-1 1-4-2-1-3 1zM188 102l-1 1-2 1-5-3 0-2 7-1zM189 101l4-1 1 1-2 3-4 1-1-2 1-1zM185 104l-1 3-2 1-2-7zM188 105l1 3 1 1 3-3-1-2zM203 103l-2 5-5-1 0-5 6-1zM189 113l2-3-1-1-1-1-3 1zM190 109l3-3 3 1-2 3-2 1-1-1zM201 108l-5-1-2 3 4 3 3-2zM189 113l2-3 1 1 2 3-2 2-4 0zM212 137l1-4 3-1 1 0 3 3-2 4zM223 179l-2-1-2 1-1 2 3 4 4-2 0-1zM237 191l-1-9 6 1 1 4-4 4zM233 193l7 3 1-1-2-4-2 0-4 1zM214 195l-2 3 5 3 4-5-1 0zM283 234l-4 0 0-4 3-2 2 3zM274 241l0-6-2-2-1 0-2 3 1 5 3 0zM283 235l0 1-3 4-1 0-1-5 1-1 4 0zM279 247l2-3-1-4-1 0-5 1zM327 240l3 1 3 4-2 3-1 0-4-2 0-1 0-5zM330 241l4-4 1 1 0 5-2 2zM273 247l-3 2-2-2 0-1 1-5 1 0 3 0zM279 247l4 3 3-3-2-2-3-1zM338 286l3 3 3 1 1-1 2-1-8-6zM329 313l2 0 4 3-8 4 0-4zM346 331l0 6 2 1 6-5-2-3zM389 350l3-5-4-2-1 1-2 2 3 5zM104 363l-4-3-4 2 3 8 2-1zM137 373l-1-2 2-5 2-2 3 5-3 3zM98 371l1-1 2-1 6 4 1 2-1 4-6 0zM122 380l-1 2 7 0-1-2zM98 384l0-1 4 4-1 1-2 0zM129 405l0-1-8-2-1 2 7 2 1-1zM101 405l1 3-3 3-3-3-1-1 2-3zM102 408l2 1 0 3-3 2-1 0-1-3zM90 416l-1-1-3 1 1 3 0 1 3-1 1-1zM95 413l0 1-2 4-2 0-1-2 3-3zM83 418l-1 2 2 3 0 1 3-4 0-1zM134 427l0-3-3-3-2 5 2 2 1 0zM119 435l1 1 5-1 1-2-2-4-3-1-3 4zM457 462l1-4 0-1-2-1-3 3 1 4zM479 481l-1 1 1 3 2 1 4-5 0-1zM468 487l1 1 3-2 1-5-1-2-1-1-4 4zM289 693l0-2 3-3 1 0 1 0 0 3-1 3-2 0zM304 706l2 1 3-1 0-3-3 1zM285 716l-1-4-4 1-1 1 0 1 5 1z"/><path fill="#ee6a43" d="M242 87l4 4 0 3-1 2-3-1-2-6 1-2zM246 91l0 3 7-1 1-1-1-3-5 1zM246 94l7-1 1 5-3 3-4-1-2-4zM194 96l6 0 1 2 1 3-6 1-2-1-1-1zM259 99l1 1-6 5-3-2 0-2 3-3zM164 106l6 0 1-2-2-4-3 1zM180 101l2 7-3 3-1-2-1-5zM188 105l1 3-3 1-2-2 1-3 2-1zM194 101l2 1 0 5-3-1-1-2zM209 103l-6 0 5 6 1-1zM245 102l2-2 4 1 0 2-3 4-2 1-2-2zM178 109l-5 1-3-3 0-1 1-2 6 0zM203 103l5 6-2 2-4 1-1-1 0-3zM254 105l-3-2-3 4 3 3 3-4zM186 115l-6 3-2-1-1-2 3-4 4 1zM189 113l-3-4-2 3 2 3 1 1 1 0zM212 114l-3-5 0-1-1 1-2 2 3 4zM194 114l-2 2 4 3 2 1 0-6zM200 121l3-3 0-2-1-4-1-1-3 2 0 1 0 6 1 1zM209 123l3-2-4-5-1 2 1 4zM206 129l2-1 1-2 0-3-1-1-8-1 1 3 4 5zM216 129l0 3-3 1-5-5 1-2 4 0zM172 131l2 4 6-1 0-3-1-2-3-2zM206 129l-1 7-6-3 6-4zM206 129l2-1 5 5-1 4-5 2-1-1-1-2zM201 139l5-1-1-2-6-3-1 3 0 1zM196 139l-4 1 2 6 4-3zM201 139l0 6-3-2-2-4 2-2zM201 145l0-6 5-1 1 1-1 2-3 5zM214 141l-1 2-3 2-4-4 1-2 5-2zM196 148l-2-1 0-1 4-3 3 2zM204 148l5 0 1-3-4-4-3 5zM215 147l-2-4-3 2-1 3 3 2 3-1zM223 158l1 2 3 0 4-4-2-2-2 0zM245 158l-1-2-8-1-1 2 0 1 2 1zM233 163l2-5 0-1-4-1-4 4zM245 158l-8 1 2 3 3 2 3-5zM216 170l-2-8 3-3 3 6-1 3 0 1zM247 161l-2-2-3 5 0 2 4 1 3-3zM233 165l0 1-1 4-3 1-3-2 3-4zM237 173l2-2-1-3-2-1-3-1-1 4 1 2zM242 171l0-5 4 1 1 3-2 3zM249 164l-3 3 1 3 2 1 5-2-3-5zM215 171l6 6 1-3-1-3-2-2-3 1zM226 174l-4 0-1-3 4 1zM245 175l0-2-3-2-3 0-2 2 1 2 5 1zM215 171l-2 1 0 3 6 4 2-1 0-1zM227 175l-4 4-2-1 0-1 1-3 4 0zM238 175l-1-2-4-1-1 3 4 4zM229 179l5 4-3 3-4-1-2-2 0-1zM309 185l-4-2 5-4 3 2 1 1 0 2zM214 184l4-3 3 4-1 2-6 0-1 0zM214 191l0-3 0-1 6 0 2 4-1 0zM232 190l-1-4-4-1-2 6zM233 192l-1-2-1-4 3-3 2-1 1 9zM239 191l4-4 2 1-2 7-2 0zM214 195l6 1 1-5-7 0zM224 191l-2 0-1 0-1 5 1 0 3 2 2-5zM233 193l-1 1-6-1-2-2 1 0 7-1 1 2zM327 198l-8-5 1-1 7-2 1 1zM295 199l-1-4-2-2-2 0-1 2-1 3 1 1 4 1zM222 202l2-4-3-2-4 5 1 1zM304 199l-3-1-1 2 2 4 5 0zM318 206l-8-3 1-2 7-2 2 4zM327 198l-1 3 2 4 7 0-1-5zM281 209l0-4-2-1-3 2 2 4 2 0zM286 205l0-1-2-2-3 3 0 4 1 0 3-2zM318 206l1 2-2 0-8 1-1 0 0-4 2-2zM351 208l1-3-3-1-3-2-1 1-1 4zM272 210l2 3 4-3-2-4-1 0zM317 208l-4 4-2-1-2-2zM319 208l9-2-1 4-1 1-7-2zM344 208l2 3-1 1-2 1-2-4 2-1zM344 208l2 3 1 0 4-3-7-1zM270 209l-2 6 4 2 2-4-2-3zM310 217l1-6-2-2-1 0-1 1-1 3zM313 218l2-3-2-3-2-1-1 6zM319 208l0 1 0 1-1 4-3 1-2-3 4-4zM350 214l4-2-3-4-4 3zM282 216l0 3-3 1-1-2 1-3 2 0zM298 216l3-1 0 4-3 0-2-2zM331 215l3 3-4 3-6-3 0-1 1 0zM272 220l0-2 6 0 1 2-1 2zM292 221l0-3-3-2-6 4 5 2zM341 223l-2-5 4-1 2 0 0 6-1 1zM275 228l3-3 0-3-6-2 0 5zM275 228l0 1-3 4-1 0-3-2-1-4 5-2zM275 228l0 1 4 1 3-2 1-2-5-1zM285 226l-2 0-1 2 2 3 4 0 1-1 0-2-2-1zM328 233l-1-4 6-1 1 1 1 2 0 1zM283 235l5 0 0-4-4 0-1 3zM328 233l-1-4-3-2-2 0-1 1 0 6 4 2 2-1zM334 237l1-5-7 1-1 2 5 2zM274 241l0-6 4 0 1 5zM283 236l-3 4 6 0zM287 240l-1 0-3-4 0-1 5 0 2 2zM327 240l5-3-5-2-2 1 1 3 0 1zM327 240l5-3 2 0-4 4zM338 232l-3-1 0 1-1 5 1 1 5 0 0-3zM287 240l-1 0-6 0 1 4 3 1zM291 237l-1 0-3 3 3 5 2-5 0-2zM298 239l-1 4-3-1-2-2 0-2zM326 240l0-1-4 1 0 2 4 3zM279 247l-2 1-4-1 0-6 1 0zM297 244l4 0 2 4-6 1-1-3zM326 246l-4 2-1-1-2-3 3-2 4 3zM293 246l-3 1-1 1 1 3 5 1 2-3-1-3zM326 246l-4 2 0 5 7-2 1-3zM332 248l6 1 0 3-5-1zM342 249l0 2-3 2-1-1 0-3 1-1zM331 248l1 0 1 3 1 4-5 4-1-1 1-7 1-3zM333 251l1 4 4 1 1-3-1-1zM339 257l-1-1 1-3 3-2 2 4zM347 258l3 1 1-1-2-7-1 0-4 4zM351 258l2 0 2-4-5-3-1 0zM344 261l3-3-3-3-5 2 0 1 1 2 1 1zM340 260l-3 3-3-2 5-3zM344 261l2 2-1 2-4-1 0-3zM344 261l3-3 3 1 0 2-1 0-3 2zM336 268l-4 4-1 0-3-7 2-4 2 1zM341 261l-1-1-3 3 0 5 2 0 2-4zM345 270l-4 1-2-3 2-4 4 1 2 3zM347 268l-2-3 1-2 3-2 0 6zM345 270l4 4 2 0 1-1 0-5-3-1-2 1zM352 268l2-1 5 4-4 2-3 0zM361 272l-3-9-1 0-3 4 5 4zM373 270l-4 1 1-4 3 2zM373 269l0 1 1 2 4 0 1-1-1-5 0-1zM341 274l-8-1-1-1 4-4 1 0 2 0 2 3zM345 270l-4 1 0 3 0 3 7-1 1-2zM362 272l-1 0-2-1-4 2 2 6 1 0 4-2zM373 270l-4 1 2 5 3-4zM374 272l-3 4 4 1 3-5zM330 281l-2-1 2-8 1 0 1 0 1 1 2 6zM341 274l-8-1 2 6 4 1 1-1 1-2zM341 277l-1 2 5 3 3-3 0-3zM349 274l-1 2 0 3 2 2 3-3-2-4zM351 274l2 4 4 1-2-6-3 0zM335 287l3-1 1-4 0-2-4-1-5 2 0 4 1 1zM350 284l0-3-2-2-3 3 2 4zM378 284l0-4 0-1 4 1 1 4-1 1zM383 284l7-2 1 0-1-1-2-4-2 0-4 3zM361 285l2-2 3 3-5 1zM335 287l-4-1-1 7 5-2zM355 285l-5-1-3 2 0 2 5 3 4-5zM380 290l0 1 0 1 5 0 2-1-3-4-2 0zM398 294l1-1 1-2-1-3-5 0-2 4zM335 291l2 1 0 2-2 2-1 0-3-1-1-2zM340 294l-3 0 0-2 4-3 3 1zM346 296l-1-7-1 1-4 4 2 2 3 1zM352 292l-3 4-3 0-1-7 2-1 5 3zM380 292l5 0-1 6-1 0-2-1-2-4zM385 298l-1 0 1-6 2-1 1 0 2 2zM336 298l3 2 3-4-2-2-3 0-2 2zM345 297l-3-1-3 4 1 3 4 1 2-4zM353 300l0-1-4-3-3 0-1 1 1 3 5 0zM331 304l-1-1 4-7 1 0 1 2zM365 303l-2-5 6 0 1 3zM412 306l-5-2 0 3 3 3 1 0 1-1zM426 309l3-2-1-5-2-3-2 2zM328 308l3-4 3 2-3 7-2 0zM335 316l3-6-2-4-2 0-3 7zM347 308l0 1-4 2-5-1-2-4 4-3 4 1zM378 311l-6 4-1-1-1-2 3-7 1 0 1 1zM405 308l-5 0-2 1 0 1 7 4 0-1zM335 316l3-6 5 1-1 5-4 2-1 0zM381 313l-1 3-3 5-1 0-3-2-1-4 6-4zM392 315l5 0 0 6-6-4 0-1zM332 325l-6-3 1-2 8-4 2 2-3 7zM337 318l1 0 5 5-4 3-5-1zM345 320l-1 2 6 2 1-1 0-3zM383 323l-3 1-3-3 3-5 3 3zM466 324l1-4 2-1 1 0 0 3-1 2zM482 319l2 3-3 2-3-2 1-3zM339 328l5 2 1-3-2-4-4 3zM350 324l0 1-5 2-2-4 1-1zM363 324l0 1 2 9 6-6-2-4-3-1zM376 321l1 0 3 3-3 5 0 1-5-2zM471 326l-2-2-3 0 0 2 2 1zM472 326l-1 0-2-2 1-2 2 3zM495 323l-4 1 0 2 2 2zM532 326l-2 2-2-1-1-2 2-3zM339 331l0-3 0-2-5-1 0 5zM339 332l3 0 3-1-1-1-5-2 0 3zM352 330l2 3 4 0 0-7-1-1zM358 326l0 7 5 2 2-1-2-9zM534 327l1 4-3 0-2-2 0-1 2-2 1 0zM339 332l3 0-1 4-3-3zM374 337l-8-2-1-1 6-6 1 0 5 2 1 6-2 1zM377 330l1 6 1 0 3-3-1-3-4-1zM394 331l1 6 1 0 3-4 1-2-1-1zM408 332l1 4 6-2-5-4zM461 333l6 4 1-2-5-4-1 1zM334 335l6 3-2 4-1 0-4-7zM334 335l6 3 1-1 0-1-3-3zM354 333l-6 5 2 2 4 1 0-2zM354 333l0 6 8-3 1-1-5-2zM400 342l-4-5 3-4 3 5 1 3-1 2zM419 340l-6-1 2-4 5 1 0 2-1 1zM333 335l4 7-7 1-1-7zM340 338l-2 4 0 1 3 0 3-5-3-1zM359 342l-5-1 0-2 8-3zM359 342l3-6 1-1 2 10-2 1zM369 345l-3 1-1-1-2-10 2-1 1 1 4 8zM370 343l-4-8 8 2-2 5zM372 342l2-5 2 0 1 5-2 1zM377 342l-1-5 2-1 1 0 4 2 0 2-2 3-1 0zM404 346l-1-1-1-2 1-2 2-1 4-1 1 0 1 7 0 1zM415 343l3-1 1-2-6-1zM427 343l-1-3 0-1 4-3 1 0 1 0 2 3-2 4zM489 339l-2-1-1 1-1 5 5-2 0-3zM516 338l3 2-3 3-2 0 0-1 0-4 1-1zM345 347l5 2 2-2-3-4-4 0 0 1zM369 345l2 2 2 1 2-2 0-3-3-1-2 1zM375 343l2-1 3 1-1 5-4-2zM380 343l1 0 3 3-4 4-1-2zM383 340l-2 3 3 3 1 0 2-2zM373 348l0 1 7 3 0-2-1-2-4-2zM380 352l2 2 5 0 1-3-3-5-1 0-4 4zM411 351l1-1-1-3-7-1 0 4 1 2 0 1zM361 355l1 0 0-3-1-2-4 0 0 6zM389 350l6 2-1 2-7 1 0-1 1-3zM401 356l-3-2 0-1 6-3 1 2 0 1zM410 355l1-4-6 2 4 3zM354 360l2 1 5 0 1-3-1-3-4 1-3 3zM362 358l4 2 1-1 0-3-5-1-1 0zM367 356l4-1-1 5-3-1zM371 355l3 2 1 2-3 3-2-2zM394 354l0 4-3 0-3-2-1-1zM401 358l4 0 0-5-4 3zM378 364l2-4-5-1-3 3zM390 362l1-4-3-2-1 5 2 2zM401 359l-6-1 0 3 6 1zM401 358l0 1 0 3 1 3 3-1 2-5-2-1zM123 369l1-6-5-2-2 7 3 2zM130 366l-1-5 4-7 2-1 5 7 0 4-2 2-7 2zM143 369l-3-5 0-4 9 1 1 5-6 3zM156 367l3-5-1-7-8 5-1 1 1 5 1 1zM375 369l2-1 2-1-1-3-6-2 0 3zM379 367l4 1 1-1 0-4-4-3-2 4zM390 362l4 0 0 5-4 0-1-4zM107 363l-1-1-2 1-3 6 6 4 2-8zM109 365l-2 8 1 2 5-1 2-6-3-2zM123 369l7-3 1 2 0 1-2 4-1 1zM131 369l5 2 2-5-7 2zM158 371l-2-4-5 0-1 5zM397 372l-2 2-2 0-5-2 1-5 1 0 4 0 4 3zM406 364l-1 0-3 1-1 3 6 4 3 0-1-2zM51 372l-3-2-2 1-1 1 0 1 1 1 5 2 1-2zM97 371l-6-4-2 1 1 6 4 1zM129 373l1 1 6 0 1-1-1-2-5-2zM137 373l3-1 2 4-4 4-2-6zM140 372l3-3 1 0 2 4-2 2-2 1zM404 377l-4-1-3-4 1-2 3-2 6 4zM89 376l-6-2-3 3 2 2 6 1 1-1zM98 371l3 8-1 1-6-2 0-3 3-4zM107 379l1-4 5-1 4 2 1 7-11-3zM119 374l-2 2 1 7 1 1 2-2 1-2 1-4zM123 376l-1 4 5 0 0-6zM128 374l1-1 1 1 4 9-3 2-3-3-1-2 0-6zM138 380l9 5 1-1 0-2-4-7-2 1zM342 380l3-3-3-2-2 3zM367 379l-2-4-4-1-1 0 0 1 5 6zM394 378l1-4 2-2 3 4-1 3-1 1zM406 380l-2-3 3-5 3 0 3 2zM22 387l2-5-4-3-3 6zM27 377l-3-1-4 3 4 3 4-2zM98 383l-5-1-1 0 0-2 2-2 6 2zM413 381l2 1 4 0 2-2 0-4-7-2-1 0zM27 386l-4 2-1-1 2-5 4-2 0 1zM33 383l-5-2-1 5 3 1zM73 383l1 3-2 5-6-3 6-5zM98 384l0-1-5-1 1 4zM107 380l11 3 1 1-7 4-5-5zM121 386l-2-1 0-1 2-2 7 0 3 3-1 1zM138 380l-4 2 5 7 5 1 2-3 1-2zM161 383l-3 7-8-6 8-3zM168 381l6 2 0 7-1 0-6-3-1-3zM175 383l4 1-2 6-3 0 0-7zM95 393l4-5-1-4-4 2-2 3 2 3zM95 393l6-3 0-2-2 0zM101 388l0 2 2 3 2-1-1-5-2 0zM107 393l-2-1-1-5 2-3 4 7-2 2zM107 383l5 5 0 3-2 0-4-7zM112 388l7-4 0 1-2 7-2 0-3-1zM123 389l-1 6-5-3 2-7 2 1zM164 383l2 1 1 3-2 2-7 2 0-1 3-7zM95 393l6-3 2 3-3 2-4 0zM108 393l2-2 2 0 3 1-1 3-4 1zM123 389l-1 6 1 1 5-5zM132 395l-4-4-5 5 1 1 4 2 3-3zM135 393l3 2 6-3 0-2-5-1-4 2zM159 395l6 0 0-1 0-5-7 2-1 2zM165 394l0-5 2-2 6 3-3 6zM29 397l0 2 0 1 2 1 4-2 0-1-2-3zM104 399l1-1 2-5-2-1-2 1-3 2zM110 396l4-1 1 3-1 1-3-1zM115 398l-1-3 1-3 2 0 5 3-6 4zM132 395l3-2 3 2 0 4-2 1-5-4zM146 396l-2-4-6 3 0 4 5 2zM49 397l-1 7-7-1 4-6 3 0zM104 399l-8 2 1 3 4 1 3-2zM111 398l3 1-3 4-1 0-1-3zM119 405l-3-6-1-1-1 1-3 4 3 4 4-1zM119 405l1-1 1-2 3-5-1-1-1-1-6 4zM129 404l-8-2 3-5 4 2 1 3zM135 402l1-2-5-4-3 3 1 3zM135 402l1-2 2-1 5 2 0 1-5 5-2-2zM96 401l-1-1-2 0-3 2-1 6 0 1 6-2 2-3zM104 403l2 1 1 4-3 1-2-1-1-3zM129 405l0-1 0-2 6 0 1 3-3 2zM149 408l-7 3-3 0-1-4 5-5zM89 409l6-2 1 1-1 5-2 0zM104 409l3-1 5 2 0 2-1 0-5 1-2-1zM118 406l7 7 1 0-1 0-5 3-1-2zM119 405l1-1 7 2-2 7-7-7zM129 405l4 2 0 6-1 0-4-8zM133 407l3-2 2 2 1 4-3 3-3-1zM88 411l1 4-3 1-3-1 2-3zM89 409l4 4-3 3-1-1-1-4zM99 411l1 3-2 1-3-1 0-1 1-5zM101 414l4 4 0-1 1-4-2-1zM111 412l-5 1-1 4 6-4zM120 417l-8-1-1-3 0-1 1 0 7 2 1 2zM74 415l-1 1-2 2 3 3 3-4 0-1zM77 416l0 1 2 3 3 0 1-2-1-3-3-1zM83 415l-1 0 1 3 4 1-1-3zM98 421l0-6-3-1-2 4zM100 414l-2 1 0 6 3 2 3-2 1-3-4-4zM111 417l1-1-1-3-6 4 0 1 6 0zM111 417l1-1 8 1 0 1-4 2-2 0zM125 422l2-2-2-7-5 3 0 1 0 1 2 4zM132 413l-6 0-1 0 2 7 3 1zM132 413l-2 8 1 0 6-2 1 0-2-5-3-1zM73 427l-4-1-1-2 1-3 2-3 3 3 0 3zM74 424l0-3 3-4 2 3-1 2zM82 425l2-2-2-3-3 0-1 2zM91 424l-6 0-1 0 3-4 3-1zM92 425l-1-1-1-5 1-1 2 0 5 3zM111 418l-6 0-1 3 5 1zM111 417l3 3-2 4-1 0-2-2 2-4zM120 426l2-4-2-4-4 2 1 5zM73 427l1-3 4-2 4 3-2 3zM91 424l-6 0 1 4 4-1 2-2zM107 428l1-2-4-5-3 2 0 2zM112 424l1 2-1 5-1 0-4-2 0-1 1-2 3-2zM124 429l-3-1-1-2 2-4 3 0 2 4zM134 427l0-3 3-5 1 0 1 5-4 3zM73 427l-4-1-2 2 0 8 1 0 5-7zM132 428l1 0 1 3 1 1 5 0-5-5-1 0zM75 436l-7 0 5-7 3 5zM73 427l0 2 3 5 4 0 0-5 0-1zM81 435l5 0 1-3-2-2-5-1 0 5zM98 438l4-5-7 2zM108 435l3-4-4-2-3 3zM112 437l-4-1 0-1 3-4 1 0 0 5zM112 436l5 1 2-2-1-3-6-1zM98 438l5 3 2-1-3-7zM112 437l-1 2 3 3 1-1zM112 437l0-1 5 1-1 3-1 1zM78 440l0 3-2 2-1 1-2-5 2-2zM111 439l-5 2 4 7 2-2 2-4zM117 437l-1 3 3 2 2-3-1-3-1-1zM124 444l1-1 0-2-4-2-2 3 1 2zM94 448l-4 1-1-1 1-4 2-2 1 0zM105 440l1 1 4 7-1 1-8-3 1-4 1-1zM115 441l1-1 3 2 1 2-1 2-1 2-6-2 2-4zM175 446l1 1 6 0 0-7-7 5zM101 446l-1 1 3 5 6-2 0-1zM472 453l6-2 0-4-4 2zM460 451l-1-1-4-1-3 4 4 3 2 1 2-5zM460 452l-2 5 0 1 3 0 2-1 0-2zM482 456l1-5-5 1 0 3 2 2 1 0zM103 452l-2 5 2 2 3 0 4-7-1-2zM480 457l-3 3-1-1-4-5 6 1zM482 456l5 0 2 2-1 2-5 1-2-4zM489 461l-1-1-5 1-1 4 1 1zM446 463l4 4-3 2-3-4zM476 470l1 1 6-5-1-1-6-2-1 1-2 5zM491 464l-2 3-5 0-1-1 6-5 2 2zM450 467l2 3-5 5-3 0 3-6zM455 471l-3-1-2-3 2-1 3 4zM457 468l-2 2-3-4zM455 472l0-1 0-1 2-2 2-1 4 4 0 1-4 3zM491 469l-2-2-5 0 0 3 2 2 3 0zM455 472l0-1-3-1-5 5 4 0zM471 477l5-7-3-1-2 1zM477 471l6-5 1 1 0 3-3 3-3 1zM481 473l3-3 2 2-1 4zM459 484l-3-2 0-1 3-6 4-3 3 4-4 7zM472 479l6-4 1 1 0 5-1 1-5-1zM462 483l4-7 5 2-4 4zM459 484l0 2 5 4 5 0 0-2-1-1zM459 484l9 3-1-5-5 1zM472 486l5 1 2-2-1-3-5-1zM486 488l-3 1-2-3 4-5 2 1 3 3-2 2zM490 485l4 4 3 1 1-3 0-3zM452 492l-3-1 0-5 7-4 3 2 0 2-1 2zM469 488l0 2 1 1 3 1 3-1 0-1-4-4zM483 489l-2-3-2-1-2 2-1 3 0 1 4 4zM486 488l0 6 3-2-1-5zM488 487l2-2 4 4-1 1-2 3-2-1zM258 496l-2 0 0-4 4-3 1 1 1 3-2 2zM261 490l6 1-3 3-2-1zM270 495l1-5-2-1-2 2-3 3 1 2zM459 495l4 0 1-5-5-4-1 2zM469 490l-5 0-1 5 2 2 5-6zM480 495l-6 3-1-6 3-1zM486 488l-3 1-3 6 3 2 3-2 0-1zM260 495l2-2 2 1 1 2 0 1-2 1zM271 500l-1 1-2 0-3-4 0-1 5-1 1 2zM457 497l1 2 7 2 1-2-1-2-2-2-4 0zM261 501l1-2-4-3-2 0-2 3-2 4 0 1 6 0zM469 504l4-1 1-1 0-3-3-1-5 1-1 2zM266 506l-4 0-4-2 3-3 5 2zM271 508l0-6-1-1-2 0-2 2 0 3 1 1zM262 506l0 5-1 0-10-3 0-1 1-3 6 0zM266 510l1-3-1-1-4 0 0 5 3 0zM266 510l1-3 4 1 0 3-3 1zM259 517l-4 0-5-4 1-5 10 3 0 5zM265 516l-4 0 0-5 1 0 3 0zM266 516l0 2-4 4-3-5 2-1 4 0zM255 523l0-6 4 0 3 5 0 1zM257 529l3-2 2-4-7 0-1 1 2 5zM326 536l0 2 5 2 0-4-1-1zM302 555l0-3 4-2 1 1-1 4-1 0zM311 552l-2 3-3 0 1-4 3 0zM291 561l-1-2 1-2 3-1 1 0-2 5zM302 561l0-1 0-3-6 0 1 3zM307 560l-2-5 1 0 3 0 0 5-1 0zM317 554l-4 3 2 2 2 0 2 0 0-3 0-1zM302 561l3 4 3-5-1 0-5 0zM313 557l-4 3 1 2 3 2 2-5zM316 562l-2 2-1 0 2-5 2 0 0 3zM321 565l7-3-2-3-1 0-4 2 0 3zM316 566l-2-2 2-2 3 5zM320 567l1-2 0-1-4-2-1 0 3 5zM314 570l2-4-2-2-1 0-3 6 2 1zM320 567l1-2 4 2 1 2-1 2-2 1zM327 573l1-4-2 0-1 2zM318 574l4-2 1 3-5 0zM310 579l0-2-4-4-2 1 1 6 1 1 1 0zM323 575l1 1-5 3 0-1-1-3zM318 582l1 2 0 1-4 1-1-2zM322 583l-3 1 0 1 1 2 4-2zM322 599l1 3-1 0-5 1 0-4 1-1zM282 614l4 1 4-2-2-2-6 2zM269 618l-3 1 4 7 3 0 1-5 1 0-3-3zM283 620l1 1-1 3-1 1-2 1-1-1 0-4zM279 625l1 1-2 2-5-2 1-5zM277 620l-2 1-1 0 5 4 0-4zM284 621l-1 3 4 3 2-2 0-1-4-3zM272 633l1-1 0-6-3 0-3 3 2 3zM279 630l-1-2-5-2 0 6 4-1zM282 632l3-2-3-5-2 1-2 2 1 2zM272 634l1 1 3 0 1-4-4 1-1 1zM280 635l-4 0 1-4 2-1 3 2zM282 632l3-2 1 0 2 1-1 3-2 1zM292 642l0-3 2-1 3 3-1 2-2 0zM282 641l2 1-1 4-2 1-2-2zM289 644l-3-4-1 1 1 4 3 0zM284 652l-3-4 0-1 2-1 4 5zM327 652l3 1 1-3-1-3-1-2-4 2zM294 683l4 1-1 4-3 0-1 0 0-3zM298 684l-1 4 2 1 4-5-1-1-3 0zM303 684l4-1 1 2-1 4-2 0-1-2zM294 691l5 2 1-3-1-1-2-1-3 0zM303 684l1 3-4 3-1-1zM309 690l-2-1 1-4 4 1-1 2zM283 691l1 2-2 4-4-1-1-1 1-1zM293 694l1 2 2 0 3-3-5-2zM299 693l3 3 1-1 2-2-1-2-4-1zM309 692l0 2-4-1-1-2 1-2 2 0 2 1zM287 699l-2 1-3-3 2-4 2 2zM303 695l-1 1-1 2 2 3 5-1zM284 702l1-2-7 1 0 1 4 2zM295 701l2 2 1 0 1-4-3-2zM303 702l0-1-2-3-2 1-1 4 4 0zM303 702l0-1 5-1 1 0 2 2-2 1-3 1zM282 704l-4-2-1 1 0 4 1 1 2 0 2-2zM286 708l-4-2 0-2 2-2 3 5zM289 700l1 5 1 0-1 1-3 1-3-5 1-2 2-1zM297 705l0-2-2-2-1 0-4 4 1 0zM297 707l-4 1-2 0-1-2 1-1 6 0zM302 703l-4 0-1 0 0 2 0 2 1 1 3 1 2-3zM303 702l3 2-2 2-1 0-1-3zM280 713l0-5 4 4zM286 708l-1 2-1 2-4-4 2-2zM295 712l-5-1 1-3 2 0zM297 707l1 1-3 4-2-4zM299 713l1-1 1-3-3-1-3 4zM284 712l1-2 5 2-1 2-4 2zM298 716l5 1-3-5-1 1zM309 712l5 5 3-2-2-4-4 0zM284 716l-5-1-1 0 1 3 2 0zM306 718l7 2-1 2-2 1z"/><path fill="#f6a660" d="M171 87l3 8 5 1 4-4 0-2-11-4zM242 87l4 4 2-1 0-2zM254 92l2-1 7-6-9-3-2 2 1 5zM169 99l5-4-3-8-7 4 0 1zM189 96l3-1 0-2-3-3-6 0 0 2 5 4zM202 93l4-1 2 1-7 5-1-2 0-2zM163 93l-2 0-4 2 1 4 0 1 2 0 0-1zM160 99l3-6 1-1 5 7 0 1-3 1zM253 93l1 5 5 1 1-2-4-6-2 1zM164 106l2-5-6-2 0 1 2 6zM180 101l-3 3-6 0-2-4 0-1 5-4 5 1 1 3zM242 95l-2 1 3 6 2 0 2-2-2-4zM223 100l0 8-2 5-1 1-1 0-3-11 1-2 4-2zM163 111l2 1-1-6-2 0-3 2zM164 106l1 6 4-3 1-2 0-1zM216 103l3 11-2 0-4-7 0-2zM230 110l1-2-1 0-7 0-2 5 8 0zM230 110l1-2 4 2 1 1-2 1zM251 110l0 5-6-3 1-4 2-1zM255 116l-3 0-1-1 0-5 3-4 6 3zM165 112l-2-1-4 1 1 4 2 1 3-4zM170 115l1-1-2-5-4 3 0 1zM170 107l-1 2 2 5 2-1 0-3zM179 111l-1-2-5 1 0 3 3 2 1 0 3-4zM203 116l-1-4 4-1 3 4-1 1zM231 115l3-3-4-2-1 3zM235 117l-4-2 3-3 2-1 4 3-4 4zM169 120l-7-1 0-2 3-4 5 2 0 4zM170 119l0-4 1-1 2-1 3 2-4 3zM175 121l3-4-1-2-1 0-4 3zM187 116l0 2-3 5-2 0-1-1-1-4 6-3zM188 116l4 0 4 3-6 2-3-3 0-2zM208 116l-5 0 0 2 4 0zM212 121l1 0 2-6-3-1-3 1-1 1zM231 115l-2-2-8 0-1 1 1 1 7 4zM181 122l-1-4-2-1-3 4 0 1zM200 121l3-3 4 0 1 4zM228 119l-7-4 0 8 2 3 3 1 3-6zM235 117l-5 4 5 3 2-2-1-4zM174 125l1-3 6 0 1 1-3 6-3-2zM180 131l-1-2 3-6 2 0 3 3 0 2zM187 128l0-2 4-2 1 1-1 6-1 1zM213 126l-4 0 0-3 3-2 1 0 3 3zM216 129l1-5-1 0-3 2zM230 121l-1 0-3 6 1 1 8-2 0-2zM244 123l0-1 1-1 3-1 2 6 0 5-4-2zM168 128l1-2 2-2 3 1 2 2-4 4-3-1zM199 128l-4-1 0 4 4 2zM205 129l-4-5-2 4 0 5zM216 129l0 3 1 0 6-6-2-3-4 1zM182 137l-2-3 0-3 7-3 3 4 0 1zM199 133l-1 3-8-2 0-1 0-1 1-1 4 0zM220 135l-3-3 6-6 3 1 1 1 0 5-6 2zM182 137l6 5 4-2-2-6 0-1zM198 137l0-1-8-2 2 6 4-1zM214 141l5 1-1-3-6-2zM194 147l0-1-2-6-4 2-1 2 1 0 2 4zM220 142l-1 0-5-1-1 2 2 4 5-3zM196 148l5-3 2 1 1 2-1 1-6 2zM215 149l-3 1-2 4 2 0-1 1 7 2 2-1-1-4zM220 152l-1 0 1 4 3 2 4-4-2-2-2-1zM229 152l0 2 2 2 4 1 1-2-4-4zM220 156l-2 1-1 2 3 6 4-4 0-1-1-2zM233 163l-6-3-3 0 0 1 1 2 4 2 4 0zM229 165l-3 4-2-1 1-5zM233 163l2-5 2 1 2 3-3 5-3-1 0-1zM242 166l0-2-3-2-3 5 2 1zM254 161l5 0 1 2 0 2-2 2-3 2-1 0-3-5zM226 169l-2-1-5 0 0 1 2 2 4 1zM239 171l-1-3 4-2 0 5zM226 169l-1 3 1 2 1 1 2-4zM227 175l2 1 3-1 1-3-1-2-3 1zM255 169l-1 0-5 2 2 4 2 0 2-1zM227 175l-4 4 2 3 4-3 0-3zM229 176l3-1 4 4 0 3-2 1-5-4zM243 176l-5-1-2 4 0 3 6 1 0-1zM245 175l-2 1-1 6 6-1zM253 175l0 4-3 3-1 0 1-6 1-1zM255 174l-2 1 0 4 4 1 1 0-1-6zM250 182l2 5 1 0 4-7-4-1zM280 185l1-3 4 2 1 3-1 1-3 1zM303 183l1 0 1 0 4 2-1 5zM320 192l2-5-2-2 0-1-6 0zM225 191l2-6-2-2-4 2-1 2 2 4 2 0zM262 188l3-2 3 2-2 2-3 0zM271 192l-3-4-2 2 1 3zM280 185l2 4-2 3-4-4zM282 189l3-1 1 3-3 3-2 0-1-1 0-1zM285 188l1-1 7 1-1 5-2 0-4-2zM311 194l7 0 1-1 1-1-6-8zM243 195l2-7 4 1 0 6zM267 197l1 0 5-1 0-2-1-2-1 0-4 1-1 1zM283 194l6 1 1-2-4-2zM295 190l-2-2-1 5 2 2 4-1zM300 192l-5-2 3 4 2 0zM300 192l1-5 5 5-5 3-1-1zM327 198l1-7 1-1 4 3 0 1-2 2zM232 197l-3 2-5-1 2-5 6 1zM233 193l-1 1 0 3 3 3 5-3 0-1zM240 196l0 1 3 3 6-3 0-2-6 0-2 0zM261 202l-3 0-2-2 3-4 3 1 1 3zM281 194l-7 6-1-4 0-2 7-1zM274 200l7-6 1 5-4 2-4 0zM281 194l1 5 2 1 4-2 1-3-6-1zM300 194l1 1 0 3-1 2-2 0-3-1-1-4 4-1zM318 199l0-5-7 0-1 3 1 4zM327 198l-1 3-6 2-2-4 0-5 1-1zM327 198l7 2 2-2-5-2zM331 196l2-2 4 2 0 1-1 1zM281 205l3-3 0-2-2-1-4 2 1 3zM289 199l-1-1-4 2 0 2 2 2 4 1 0-2zM293 200l-4-1 1 4 3 0zM298 200l-3 4-1 0-1-1 0-3 2-1zM310 203l-2 2-1-1-3-5 6-2 1 4zM334 200l1 5 2-1 2-4-2-3-1 1zM346 202l-3-1-4-1-2 4 1 1 7-2zM270 209l-1-1 2-5 2-1 2 4-3 4zM273 202l1-1 4 0 1 3-3 2-1 0zM286 205l0-1 4 1 1 3-1 3-2-2zM293 203l-3 0 0 2 1 3 3-4zM295 204l3 4-7 0 3-4zM298 200l2 0 2 4-2 3-2 1-3-4zM307 204l-5 0-2 3 4 2 3 1 1-1 0-4zM318 206l1 2 9-2 0-1-2-4-6 2zM344 208l0-1 1-4-7 2 5 3zM288 209l2 2-2 1-1 0-5-3 3-2zM286 205l-1 2 3 2zM298 210l0-2 2-1 4 2-3 4zM335 205l0 1-1 4-3 2-4-2 1-4 0-1zM338 213l1-3-4-4-1 4 4 4zM351 208l3 4 2 0 4-3-3-3-5-1zM280 210l1 5-2 0-5-2 4-3zM281 209l1 0 5 3-5 4-1-1-1-5zM295 212l-5-1-2 1 1 4 3 2 4-1zM297 211l1 5-2 1-1-5zM297 211l1-1 3 3 1 1-1 1-3 1zM302 214l2 1 2-2 1-3-3-1-3 4zM318 214l1-4 5 7 0 1-1 0-2 0zM319 209l0 1 5 7 1 0 1-6zM326 211l-1 6 6-2 0-3-4-2zM338 214l-1 3-3 1-3-3 0-3 3-2zM338 213l4 0 1 0-2-4-2 1zM345 212l-2 1-1 0 1 4 2 0 1 0zM346 211l1 0 3 3-4 3-1-5zM272 217l2-4 5 2-1 3-6 0zM283 220l6-4-1-4-1 0-5 4 0 3zM301 215l0 4 1 1 3 0-1-5-2-1zM314 219l2 1 2 1 3-3-3-4-3 1-2 3zM338 213l4 0 1 4-4 1-2-1 1-3zM346 217l-1 0 5 2 1 0-1-5zM283 220l-1-1-3 1-1 2 0 3 5 1zM285 226l-2 0 0-6 5 2zM292 222l2 2 1 1 3-2 0-4-2-2-4 1 0 3zM310 224l0-6-5 2 3 4 1 0zM321 218l2 0-1 9-4-6zM337 224l-3-6 3-1 2 1 2 5zM345 217l0 6 2 0 3-4zM285 226l3-4 4-1 0 1-5 5zM287 227l2 1 5-4-2-2zM303 225l2-5 3 4-3 3-2 0zM333 228l-6 1-3-2 6-5zM337 224l-3-6-4 3 0 1 3 6 1 1 3-4zM344 224l-3-1-4 1 0 1 5 3 0-1 2-1zM289 228l5-4 1 1 1 2-1 3-1 1-5-1zM334 229l1 2 3 1 4-2 0-2-5-3zM278 235l1-1 0-4-4-1-3 4 2 2zM291 237l-1 0-2-2 0-4 1-1 5 1-2 6zM292 237l2-6 1-1 3 2 1 2-1 1zM298 232l4-2 2 4 0 1-5-1zM298 239l-6-1-1-1 1 0 6-2zM298 239l2 0 4-3 0-1-5-1-1 1zM302 242l2-1 2-2-2-3-4 3zM319 236l2-2 4 2 1 3-4 1-4 0zM298 239l-1 4 0 1 4 0 1-2-2-3zM304 241l4 4 1 0 1-1-2-5-2 0zM310 244l-2-5 2-2 2 2 0 5zM318 240l-1 2-3 2-2 0 0-5 2 0zM319 244l-2-2 1-2 4 0 0 2zM287 240l-3 5 2 2 3 1 1-1 0-2zM294 242l-2-2-2 5 0 2 3-1zM297 243l-3-1-1 4 3 0 1-2zM301 244l2 4 5-3-4-4-2 1zM321 247l-5 2-2-5 3-2 2 2zM338 243l-3 0-2 2-2 3 1 0 6 1 1-1 0-2-1-1 1-1zM310 244l-1 1 2 9 1 0 4-4 0-1-2-5-2 0zM339 258l-5 3-2 1-2-1-1-2 5-4 4 1 1 1zM353 258l3 2 3-3 0-1-4-2zM350 259l1-1 2 0 3 2 1 3-3 4-4-6zM362 262l1-1-4-4-3 3 1 3 1 0zM370 261l-5-2-2 0 0 2-1 1 7 2zM337 263l0 5-1 0-4-6 2-1zM349 267l0-6 1 0 4 6-2 1zM362 272l-1 0-3-9 4-1 1 7zM369 264l0 1 1 2 3 2 5-4-1 0zM369 271l1-4-1-2-6 4-1 3zM369 279l-5-1-2-1 0-5 7-1 2 5-2 2zM381 273l5 4 2 0 1-1 0-4-1 0-3-2zM378 272l-3 5 3 2 3-6-2-2zM378 279l3-6 5 4-4 3zM388 277l2 4 6-4 0-2-2-1-5 2zM355 285l-5-1 0-3 3-3 4 1 1 0-1 4zM357 283l1-4 4-2 2 1-1 5-2 2zM366 286l-3-3 1-5 5 1-1 5zM378 280l-5 2-4-4 2-2 4 1 3 2zM396 277l4 1 0 3-1 2-8-1-1-1zM339 280l1-1 5 3 2 4 0 2-8-6zM355 285l1 1 1 2 4 1 0-2 0-2-4-2zM368 284l1-5 0-1 4 4 0 4-1 0zM378 284l0-4-5 2 0 4 3 1zM378 284l4 1 0 2-2 3-4-3zM382 285l1-1 7-2-2 4-4 1-2 0zM399 288l-5 0-3-6 8 1 0 4zM335 287l3-1 3 3-4 3-2-1zM356 286l-4 5 0 1 3 2 2 0 0-6zM357 288l0 6 3-2 1-3zM361 289l4 1 1-1 0-3-5 1zM366 286l2-2 4 2-4 4-2-1zM368 290l2 5 1 0 2-4 0-5-1 0zM387 291l-3-4 4-1 0 5zM390 293l-2-2 0-5 2-4 1 0 3 6-2 4-1 1zM404 287l-5 0 0 1 1 3 4 0zM406 285l-2 2 0 4 3 3 3-5 0-2zM418 286l2 3-2 4-2 0-5-4 2-2zM428 287l-1 0-2-1-3 3 5 6 0 1 3-6-1-2zM446 287l-2 1 0 3 0 1 2 1 6 0-1-4zM368 290l2 5-6-1 1-4 1-1zM371 295l2 1 6-3 1-1 0-1-7 0zM404 291l-4 0-1 2 4 2 3 0 1-1zM427 295l-8 0-1-2 2-4 2 0zM457 291l-2 0-3 2 0 2 3 3 3 0 1-1zM330 297l-1 6 1 0 4-7-3-1zM355 294l-2 5-4-3 3-4zM355 303l-2-3 0-1 2-5 2 0 3 4zM363 298l-3 0-3-4 3-2 3 2zM363 298l0-4 1 0 6 1 1 0-2 3zM376 299l-3-3 6-3 2 4-2 2zM385 298l5-5 1 0-1 6-4 1zM391 293l1-1 3 8-2 1-3-2zM398 294l0 6-3 0-3-8zM398 294l1-1 4 2-5 5zM398 300l5-5 3 0 0 1-6 6zM411 297l2 3 5-1 1-4-1-2-2 0zM427 297l0-1 0-1-8 0-1 4 2 2 4 0 2-2zM331 304l5-6 3 2 1 3-4 3-2 0zM347 308l-3-4 2-4 5 0zM355 303l-8 5 4-8 2 0zM363 298l-3 0-5 5 2 2 3-2zM365 303l-1 1-4-1 3-5zM375 306l-1-1 2-6 3 0 0 5zM379 299l2-2 2 1-1 5-3 1zM385 298l-1 0-1 0-1 5 3 1 2-1-1-3zM392 304l1-3-3-2-4 1 1 3 3 2zM401 303l-1-1 6-6 1 6 0 1zM412 306l-5-2 0-1 0-1 6-2 0 4zM413 304l0-4 5-1 2 2-3 4zM432 303l-4-1 1 5 4-1zM364 304l-1 3-5 0-1-1 0-1 3-2zM364 309l-1-2 1-3 1-1 3 3-3 4zM365 303l3 3 5-1-3-4zM389 309l1-4-3-2-2 1-1 3 4 2zM392 304l1-3 2-1 3 0 2 2 1 1-1 5-2 1-1 0zM405 308l-5 0 1-5 6 0 0 1 0 3zM413 309l-1 0 0-3 1-2 4 1 0 1zM417 306l0-1 3-4 1 7zM461 304l0 3-2 2-3-4 1-1zM355 303l-8 5 0 1 2 2 4 1 4-6 0-1zM364 309l-5 1 5 2 1-2zM373 305l-3 7-5-2 3-4zM381 313l2-5-4-4-4 2 3 5zM388 309l-4-2-1 1-2 5 4 1 3-3zM389 309l1-4 2-1 5 5-4 2zM405 308l0 5 5-3-3-3zM456 305l3 4 1 3-3 2-4-7 1-2zM459 309l2-2 3-1 0 5-4 1zM472 306l-3 1 0 3 3 1 2-3zM474 308l-2 3 1 0 3 0 1-3zM477 308l-1 3 1 2 3 0 1-3-1-1-2-2zM493 308l-2-3-2 2 0 3 1 1 2 0 1 0 1-2zM494 309l4-2 1 1-2 3-4 0zM509 311l3 1 3-2-1-1-4-1zM345 317l-3-1 1-5 4-2 2 2-1 5zM365 310l5 2 1 2-6 2-1-2 0-2zM388 311l-3 3 1 2 5 0 1-1 0-1zM389 309l4 2-1 3-4-3 0-2zM393 311l4-2 1 0 0 1-1 4 0 1-5 0 0-1zM403 316l-6-2 1-4 7 4 0 1zM407 316l4-5 0-1-1 0-5 3 0 1 0 1zM408 317l-1-1 4-5 2 5-3 1zM422 316l-6 0 2-5 5-1 0 5zM423 315l0-5 3-1 3 4 0 3-3 2zM464 316l-7 0 0-2 3-2 4-1 2 1 1 2zM475 315l-2-4-1 0-1 3 1 2zM480 314l0-1-3 0-2 2 2 3zM525 311l-1 2 4 2 0-1 0-3-2 0zM546 317l3-4-1 0-1 0-4 2zM345 320l6 0-3-4-3 1zM355 318l-4 2-3-4 1-5 4 1 2 3zM360 320l2-6-3-1-4 2 0 3 3 2zM360 320l2 0 3-2 0-2-1-2-2 0zM365 318l2 1 5 0 1 0-1-4-1-1-6 2zM381 313l4 1 1 2 0 1-3 2-3-3zM386 318l3 3 2-4 0-1-5 0 0 1zM400 321l-3 0 0-6 0-1 6 2zM416 316l-3 0-3 1 2 4 3 0 2-1zM429 316l3 2 3 1 0-1 0-1-2-4-4 0zM436 320l6 1 2-4-3-3-6 4 0 1zM460 321l5-1-1-4-7 0-1 2 1 2zM467 320l2-1-2-5-3 2 1 4zM472 319l-2 0-1 0-2-5 4 0 1 2zM477 318l-5 2 0-1 0-3 3-1zM482 315l0 4-3 0-2-1 3-4zM482 315l3-1 1 1-1 2-3 2zM498 317l3 3 1-1 1-2-1-3-3 0-1 0-1 1zM512 320l0-4 1-1 3 0 0 3 0 1zM518 314l3 1 1 4-6-1 0-3zM529 321l-5-1 0-1 4-4 3 4zM532 319l2-5-6 0 0 1 3 4zM345 320l-1 2-1 1-5-5 4-2 3 1zM358 320l-1 5-6-2 0-3 4-2zM362 320l1 4 3-1 1-4-2-1zM366 323l3 1 3-5-5 0zM383 323l0-4 3-2 0 1-2 5zM384 323l1 0 4 0 0-2-3-3zM391 317l-2 4 0 2 1 0 6-1 0-1 1 0zM408 325l-6-2-1-2 6-2zM436 320l-2 3-1 0-6-1 5-4 3 1zM445 324l6-2 3-4-1-1-7-1-2 1-2 4zM462 323l4 1 1-4-2 0-5 1zM477 323l1-1 1-3-2-1-5 2 1 2zM484 322l3 1 0-3-2-3-3 2zM496 319l3 3-3 1-1 0 0-3zM498 317l3 3-1 1-1 1-3-3zM529 322l-2 3-3-1 0-4 5 1zM534 324l-5-3 2-2 1 0 1 0 2 3zM535 322l-2-3 5-1 0 2 0 3zM540 323l3-3 3 1 0 1-1 2-3 1zM351 323l6 2-5 5-2-5 0-1zM360 320l2 0 1 4 0 1-5 1-1-1 1-5zM372 319l-3 5 2 4 1 0 4-7-3-2zM383 323l-3 1 4 4 1 1 0-6-1 0zM388 331l2-1 0-7-1 0-4 0 0 6zM391 330l-1 0 0-7 6-1-3 5zM401 321l1 2-2 7 0 1-1-1-2-3-1-6 1 0 3 0zM420 323l1 3 6 2 0-6-1-1zM434 323l4 5-1 2-1 0-4-3 1-4zM446 327l-1-3-3-3-2 5zM453 330l-2-1 0-7 3-4 2 0 1 2-1 8zM456 328l1-8 3 1 2 2 0 2-3 4zM464 328l-2-3 0-2 4 1 0 2zM472 326l1 1 4-1 0-3-4-1-1 3zM481 324l3-2 3 1-1 3-1 0-2 1-2-1zM491 324l0 2-2 4-3-4 1-3 2 1zM499 322l-3 1 2 4 2 0 1-2-1-4zM500 327l1-2 4-2 0 4-4 1zM522 325l-1-4-2 1 0 3zM533 326l-1 0-3-4 0-1 5 3zM537 327l1-4-3-1-1 2-1 2 1 1zM537 327l4 1 0-1 1-2-2-2-2 0zM541 327l5 1 1-1-2-3-3 1zM547 327l1 0 3-4-1 0-4-1-1 2zM333 335l-4 1-4-2 0-1 7-8 2 0 0 5zM350 325l-5 2-1 3 1 1 1 0 6-1zM377 329l3-5 4 4-3 2zM381 330l3-2 1 1 3 2-6 2zM391 330l3 1 5-1-2-3-4 0zM410 330l5 4 2-4-1-3-4 0-2 0zM421 326l0 5-4-1-1-3 4-4zM427 329l1 0-1-1-6-2 0 5zM459 336l2-3 1-1-3-3-3-1-3 2 0 3 3 2zM459 329l3-4 2 3 0 3-1 0-1 1zM468 332l-4-1 0-3 2-2 2 1zM472 326l-1 0-3 1 0 5 1 0 4-4 0-1zM482 330l1-3 2-1 1 5zM490 331l-1 0 0-1 2-4 2 2-1 2zM496 332l0-4-3 0-1 2zM496 332l0-4 2-1 2 0 1 1 0 2-1 2-1 0zM505 327l4-1 0 3-1 2-2 0zM518 330l0-1 0-3 1-1 3 0 1 1 0 2-1 2zM526 331l-4-1 1-2 4 0-1 2zM537 327l0 5-2-1-1-4zM537 327l4 1 0 1-1 2-3 1zM541 327l5 1-1 2 0 1-4-2 0-1zM549 330l-1 2-3-2 1-2 1-1 1 0 1 1zM334 335l4-2 1-1 0-1-5-1-1 5zM341 336l0 1 3 1 1 0 1-1 0-6-1 0-3 1zM379 336l4 2 3 0 2-6 0-1-6 2zM393 337l2 0-1-6-3-1-1 0-2 1 0 1zM400 330l2 1 3 1-3 6-3-5 1-2zM426 334l1-5-6 2 1 3 3 0zM431 332l0 4-1 0-4-2 1-5 1 0 1 0zM447 337l-1 1-5-2 3-6 2-1 1 7zM453 333l-6 3-1-7 5 0 2 1zM468 332l-4-1-1 0 5 4 2-2-1-1zM476 332l-5 2 0 1 2 2 5-2zM481 330l0 4-1 1-1 0-1 0-2-3 3-3zM486 333l0 2-5-1 0-4 1 0 4 1 1 1zM492 334l-1 1-5-2 1-1 2-1 1 0zM496 332l-4-2-2 1 2 3 2 1zM504 336l-1 0-3-4 1-2 4 1zM520 335l2 0 0-5-4 0-1 4zM526 331l0 4 2-1 1-4-3 0zM529 330l1-1 2 2-1 3-3 0zM534 336l-2-1-1-1 1-3 3 0 2 1-1 4zM537 332l3-1 2 4 0 1-6 0zM541 329l-1 2 2 4 2-1 1-3zM386 338l2-6 5 5-1 2-4 0zM405 332l-3 6 1 3 2-1 1-7zM406 333l-1 7 4-1 0-3-1-4zM413 339l2-4 0-1-6 2 0 3 1 0zM425 334l-3 0-2 2 0 2 6 2 0-1zM426 334l4 2-4 3-1-5zM441 336l-2 2-5 1-2-3 6-4zM459 337l3 2 4 1 1-3-6-4-2 3zM468 335l-1 2-1 3 2 0 2 0 1-5 0-1-1-1zM479 335l-1 0-5 2 1 3 4 0zM487 338l-1 1-3 0-3-4 1-1 5 1zM489 339l-2-1-1-3 0-2 5 2zM494 335l1 1-2 3-3 0-1 0 2-4 1-1zM495 336l3 1-1 2-4 0zM497 339l1 2 4-2 0-2-3 0-1 0zM516 338l4-3-3-1-2 0 0 3zM520 335l0 5 1 1 3 0 1-1 0-2 0-2-3-1zM531 338l1-3-1-1-3 0-2 1-1 1 0 2zM533 339l1-3-2-1-1 3 0 1zM536 338l0-2 6 0 0 2-2 2-3 0zM341 343l3-5 1 0 0 5 0 1zM345 343l4 0 1-3-2-2-2-1-1 1zM352 347l-3-4 1-3 4 1zM386 338l-3 0 0 2 4 4 1-1 0-4zM388 339l0 4 4 2 2-1-2-5zM393 337l2 0 1 0 4 5-6 2-2-5zM414 345l-3 1-1-7 3 0 2 4 0 1zM421 346l-3-4 1-2 0-1 5 7-1 1zM419 339l1-1 6 2 1 3-1 1-2 2zM453 340l-6-3-1 1 0 2 2 5 5-3zM457 343l2-6 0-1-3-1-3 5 0 2 2 2zM457 343l4 2 0-1 1-5-3-2zM461 344l5-1 0-1 0-2-4-1zM470 345l0-1-2-4-2 0 0 2zM473 342l0-1-3-1-2 0 2 4 3-1zM481 341l1 2-2 1-2 0 0-4zM485 344l-3-1-1-2 2-2 3 0zM490 339l0 3 1 2 3 0 1-1-2-4zM493 339l2 4 2 0 0-1 1-1-1-2zM497 342l1-1 4-2 1 1-3 4zM506 343l-6 1 3-4 1 1zM510 337l4 1 0 4-2 0-1 0zM519 340l-3 3 2 3 3-1 0-4-1-1zM523 345l1-4-3 0 0 4zM535 344l2-4 3 0 2 3-1 1zM343 348l1-1 1 0 0-3-4-1-3 0 0 3zM359 342l-5-1-2 6 2 1 4-3zM359 342l-1 3 3 4 2-3zM417 348l-3-3 1-1 4 2zM419 346l2 0-3-4-3 1 0 1zM432 348l1-5-1 0-5 0-1 1 5 4zM433 349l4 0 0-1 1-3-5-2-1 5zM437 348l6 0 0-2-2-2-2 0-1 1zM446 340l-5 4 2 2 5-1zM457 343l4 2-2 5-2 0-3-1 1-5zM461 344l5-1 1 3-3 2-3-3zM470 345l0-1 3-1 2 4-1 1-4 0 0-1zM485 344l-3-1-2 1 2 4 3-2zM485 344l0 2 1 1 3 0 1-1 1-2-1-2zM494 344l0 3-4-1 1-2zM497 348l0 1-3-1 0-1 0-3 1-1 2 0zM497 348l0-5 0-1 3 2 0 2zM500 346l3 2 3-2 0-3-6 1zM508 342l-2 1 0 3 2 1 2-1 2-4-1 0zM518 346l-1 2-3 1-1-2 1-4 2 0zM523 345l1 2-3 1-3-2 3-1zM525 340l-1 1-1 4 1 2 4-3 0-1zM528 344l-4 3 1 3 4-4zM533 344l-1 3-2 0-1-1-1-2 0-1 1 0zM340 353l-1 1-2 0-2-6 2 0zM344 347l1 3 2 2 3-3-5-2zM361 349l0 1-4 0-1 0-2-2 4-3zM361 349l0 1 1 2 4-1 0-5-1-1-2 1zM369 345l-3 1 0 5 1 0 1 0 3-4zM373 348l0 1-1 3-1 1-3-2 3-4zM389 350l3-5 2-1 2 6 0 1-1 1zM396 350l-2-6 6-2 2 1 1 2zM404 350l-6 3-2-2 0-1 7-5 1 1zM413 350l2 1 2-3-3-3-3 1 0 1 1 3zM417 348l-2 3 2 1 6-5-2-1-2 0zM429 352l-4-1-2-4 1-1 2-2 5 4zM433 349l0 3-4 0 2-4 1 0zM433 349l4 0 1 4-4 0-1-1zM438 353l5-1 0-4-6 0 0 1zM449 352l-3 1-3-1 0-4 0-2 5-1 2 5zM486 347l-1-1-3 2-1 1 2 2 2 2 1-1zM489 347l1-1 4 1 0 1-2 3-2 0zM494 348l-2 3 2 3 3-3 0-1 0-1zM497 348l0 1 0 1 4 1 2-2 0-1-3-2zM506 346l-3 2 0 1 2 3 3-4 0-1zM530 351l-1 0 1-4 2 0 1 3-1 1zM337 354l-2-6-3 1 0 5 1 1zM352 358l0-2-2-7-3 3-1 3 2 1zM352 347l-2 2 2 7 4-6-2-2zM353 358l1 1 3-3 0-6-1 0-4 6 0 2zM367 351l0 5-5-1 0-3 4-1zM367 351l0 5 4-1 0-2-3-2zM376 354l-2 3-3-2 0-2 1-1zM373 349l-1 3 4 2 4-2zM395 352l1-1 2 2 0 1-3 4-1 0 0-4zM410 355l3 1 0-6-1 0-1 1zM413 356l0-6 2 1 2 1 1 2zM420 356l5-3 0-2-2-4-6 5 1 2zM430 353l-1-1 4 0 1 1-2 3zM449 352l4 3 3-1 1-4-3-1-4 1zM518 356l2-1 1-1 0-3-1 0-2 0-2 2 1 2zM337 354l2 0 0 5-3 2-3-1 0-5zM340 353l3 1 2 1-2 6-4-2 0-5zM346 361l-3 0 2-6 1 0 2 1zM380 352l-4 2-2 3 1 2 5 1 2-6zM401 358l0 1-6-1 3-4 3 2zM409 356l-1 3-1 0-2-1 0-5 0-1 0 1zM410 355l3 1 2 4-1 2-6-3 1-3zM413 356l5-2 2 2 0 1-5 3zM438 355l0-2 5-1 3 1-2 7zM449 352l0 7 2 1 3-1-1-4zM518 356l2-1 5 3 0 1-4 1-3-1 0-1zM89 368l2-1 3-5-3-3 1 4-5 5zM346 361l2-5 4 2 1 0-5 4zM364 363l2 4 6-2 0-3-2-2-3-1-1 1zM387 354l-5 0-2 6 4 3 3-2 1-5-1-1zM395 361l-1 1-4 0 1-4 3 0 1 0zM412 364l2-1 0-1-6-3-1 0-2 5 1 0zM424 365l-4 1-6-3 0-1 1-2 5-3 3 4zM427 357l-4 4 1 4 1 1 1 0 5-5 1-2zM436 358l-4 1-1 2 5 4 1-1 1-1zM442 363l-4 0-2-5 8 3zM456 364l-2-4 3-1 3 2 0 1-3 2zM470 358l-5 2-1 2 6 0 1 0zM98 371l1-1-3-8-2 0-3 5 6 4zM107 363l9-4-4 7-3-1zM116 359l1-1 2 3-2 7-2 0-3-2zM123 369l7-3-1-5-5 2zM162 368l-6-1 3-5 2 1zM165 363l3-5 5 2-1 2-5 4zM167 368l2 1 4-3-1-4-5 4zM172 362l1 4 1 1 2 1 4-3-4-7-3 2zM334 366l2-4 0-1-3-1-4 2 1 3 3 2zM334 366l4 1 2-2-4-3zM346 361l-3 0 0 2 5 4 1-1-1-4zM354 360l2 1 1 6-1 1-7-2zM363 363l-5 4 2 1 6-1-2-4zM389 363l-2-2-3 2 0 4 5 0 1 0zM412 364l-3 6-3-6zM457 364l3-2 3 1-2 5-3-2zM56 371l2 1 1-2-2 0-2 0zM58 372l3 5 1 0 3 0 1-1-3-6-4 0zM66 376l2 0 4-4 1-2-10 0zM150 372l1-5-1-1-6 3 2 4 4 0zM162 372l1-2-1-2-6-1 2 4 2 2zM171 372l3-5-1-1-4 3zM330 374l4-1-1-6-3-2-2 4zM334 366l4 1-1 5-2 1-1 0-1-6zM342 372l0-4-1-3-1 0-2 2-1 5 3 1zM347 372l1-1 0-3-6 0 0 4zM348 368l0-1 1-1 7 2-2 2-4 1-2 0zM358 367l-1 0-1 1 4 6 1 0 2-3-3-3zM360 368l3 3 3-1 0-3zM388 372l1-5-5 0-1 1 1 6 1 0zM412 364l3 8-1 2-1 0-3-2-1-2zM425 366l-1 8 0 1-3 1-7-2 1-2 5-6 4-1zM478 373l3-1 1-2-1-1-4-1zM564 366l2 2-1 1-2 2-4-3 1-1 3-1zM84 370l-11 0-1 2 8 5 3-3zM83 374l6 2 1-2-1-6-2 0-2 2-1 0zM120 370l-3-2-2 0-2 6 4 2 2-2zM123 369l5 5-1 0-4 2-4-2 1-4zM160 373l-2-2-8 1 0 1 0 1 5 2 2 0zM162 372l1-2 4-2 2 1 2 3-2 3-5-1zM180 372l-3-1-3 2 2 4 5-3zM353 376l-1 0-2-5 4-1 2 6zM356 368l-2 2 2 6 1 1 3-2 0-1zM366 370l-3 1-2 3 4 1 2-1 1-3zM373 375l0-2-5-2-1 3 1 3zM375 369l2-1 2 6-1 0-5-1zM377 368l2-1 4 1 1 6-1 0-4 0zM388 372l-3 2 3 3 5-3zM477 373l1 2 4 2 1-1-2-4-3 1zM481 372l1-2 5 1 0 4-1 1-3 0zM40 381l-2-9 0-1-4 7 2 2zM40 381l3-7-5-2zM44 380l-3 2-1-1 3-7 2-1 1 1zM51 376l-1 4-6 0 2-6zM56 379l-5-3 1-2 1 0 7 3zM94 375l-4-1-1 2 0 3 3 1 2-2zM136 374l-6 0 4 9 0-1 4-2zM150 374l-2 8-4-7 2-2 4 0zM155 376l-7 8 0-2 2-8zM162 372l-2 1-3 3 1 5 3 2 3 0 0-9zM164 374l5 1 1 3-2 3-2 3-2-1zM328 375l3 5 2 0 2-7-1 0-4 1zM333 380l2-7 2 5 0 2-2 1zM340 378l-3 0-2-5 2-1 3 1 2 2zM368 378l-1 1-2-4 2-1 1 3zM373 383l-5-5 0-1 5-2 1 3 0 4zM374 378l4-1 0-3-5-1 0 2zM383 375l0-1-4 0-1 0 0 3 2 2zM383 375l2 4-2 2-3-2zM482 377l1-1 3 0 0 4 0 1-2 1-4-2zM545 376l0 3 5 0 1-1 0-2-5-1zM36 380l-3 3-5-2 0-1-1-3 2-2 5 3zM50 380l-6 0-3 2 1 2 8 2 1-1zM56 379l-5 6-1-5 1-4zM65 387l0-10-3 0-3 8zM72 383l-4-7-2 0-1 1 0 10 1 1zM92 382l0-2-3-1-1 1 0 7 1 0zM158 381l-8 3-2 0 7-8 2 0zM170 378l6 0 0 1-1 4-1 0-6-2zM176 379l7 2-1 1-3 2-4-1zM353 376l3 0 1 1 0 1-7 4zM374 382l5 0 1-3-2-2-4 1zM406 383l-1 0-6-4 1-3 4 1 2 3zM407 383l6-2 0-7-7 6 0 3zM478 380l-1 3 3 2 4-2 0-1-4-2zM33 383l-3 4 0 1 5 0 0-1zM79 386l-1-6-5 3 1 3 3 1zM79 386l-1-6 2-3 2 2 1 8zM92 389l-3-2 3-5 1 0 1 4zM102 387l2 0 2-3 1-1 0-3 0-1-6 0-1 1-2 3zM16 389l5 2 2 0 0-3-1-1-5-2zM30 387l-3-1-4 2 0 3 1 1 5 0 1-4zM35 388l0 3-2 1-4 0 1-4zM35 387l0 1 0 3 2 0 4-1 1-6zM50 386l-1 2-3 3-4 0-1-1 1-6zM54 393l1-1-1-6-3-1-1 1-1 2 4 5zM57 392l-2 0-1-6 3-1 1 1 0 6zM66 388l-2 4-6 0 0-6 1-1 6 2zM83 393l1-5-1-1-4-1-2 1 0 3 2 2zM123 389l5 2 2-5-9 0zM128 391l4 4 3-2 0-2-4-6-1 1zM131 385l3-2 0-1 5 7-4 2zM157 393l1-2 0-1-8-6-2 0-1 1-1 2 9 7zM459 384l3 0 3 1 0 1-5 6-2-6zM33 395l-4 2 0-5 4 0zM37 393l2 3 3-1 0-4-1-1-4 1zM48 397l-2-6-4 0 0 4 1 1 2 1zM65 395l0 2-6 1-2-6 1 0 6 0zM79 392l-2-2-5 1 0 2 3 2zM94 392l-9 3-1 0-1-2 1-5 4-1 1 0 3 2zM29 397l0 2-6-6 1-1 5 0zM37 393l2 3-1 4-3-1 0-1zM39 401l4-5-1-1-3 1-1 4zM45 397l-2-1-4 5 1 1 1 1zM55 398l-1-5-1 0-4 4zM55 398l1 1 2 0 1-1-2-6-2 0-1 1zM93 400l-3 2-7-2 0-3 1-2 1 0zM95 393l1 2-1 5-2 0-8-5 9-3zM104 399l-4-4-4 0-1 5 1 1zM107 393l-2 5 4 2 2-2-1-2-2-3zM175 399l6-6-1-1-3-2-3 0-1 0-3 6 2 2zM179 403l-3-2-1-2 6-6 1 1-1 9zM55 398l1 1-8 5 1-7zM56 399l-8 5 1 1 9-3 0-3zM65 397l1 1-1 8-1 1-3-1-1-1-2-3 0-3 1-1zM75 398l-2 3 0 3 6-1 1-1zM83 401l-3 1-5-4 8-1 0 3zM104 399l1-1 4 2 1 3-4 1-2-1zM150 398l-1 10-6-6 0-1 3-5zM155 401l0 4-4 3-2 0 1-10 1-1zM60 405l-11 3 0-3 9-3zM83 401l-1 7 4-1zM83 401l0-1 7 2-1 6-3-1zM111 403l-1 0-4 1 1 4 5 2 2-3zM61 406l-1-1-11 3 6 2zM82 408l3 4 3-1 1-2 0-1-3-1zM114 407l-2 3 0 2 7 2-1-8zM128 405l-1 1-2 7 1 0 6 0zM73 416l1-1 1-5-1-1-1 1 1 3-2 1zM74 415l1-5 3 1 1 3-2 2zM85 412l-2 3-1 0-3-1-1-3 2-2 2-1zM71 418l2-2-1-2-4 2zM138 419l-2-5 3-3 3 0 2 6 0 1zM62 421l6 3 1-3-3-3-1 0-1 1zM114 420l2 0 1 5-4 1-1-2zM134 424l-3-3 6-2zM38 423l2 5 2 1 1 0 3-2 0-1-1-3-2-1-3 0zM68 424l-6-3-1 2 0 5 0 1 6-1 2-2zM101 425l0-2-3-2-6 4 2 2 2 1 4-1zM109 422l-5-1 4 5 3-2zM127 426l-2-4 2-2 3 1 1 0-2 5zM82 425l2-2 0 1 1 0 1 4-1 2-5-1 0-1zM90 427l-1 4-2 1-2-2 1-2zM92 425l-2 2-1 4 4 2 1-6zM94 427l-1 6 0 1 1 0 2-3 0-3zM102 432l-2-5-4 1 0 3zM102 432l-2-5 1-2 6 3 0 1-3 3zM112 431l1-5 4-1 3 1 1 2-3 4zM56 430l-4-1-3 2 0 1 1 3 2 2 2-2zM57 429l2 8-5-2 2-5zM63 436l-2-7 6-1 0 8zM89 431l4 2 0 1-3 4-2 0-2-3 1-3zM95 435l-1-1 2-3 6 1 0 1zM174 438l3-2-5-5-2 1 0 5 1 0zM54 435l-2 2 5 5 1 0 1-5zM68 436l7 0 0 3-2 2-1 0-3-1zM75 436l0 3 3 1 2-1 1-4-1-1-4 0zM80 439l2 2 3-1 3-2-2-3-5 0zM98 438l-2 1-4 3-2-4 3-4 1 0 1 1zM112 437l-4-1-3 4 1 1 5-2zM125 441l1-4-1-2-5 1 1 3zM59 437l-1 5 5 0 0-6zM66 445l2 3 1 0 3-7-3-1zM78 440l0 3 4 1 0-3-2-2zM85 446l-2-1-1-1 0-3 3-1 1 5zM92 442l-2 2-4 1-1-5 3-2 2 0zM99 442l-3 2-3-2-1 0 4-3zM98 438l5 3-1 1-3 0-3-3zM175 446l-2 0-2 0-3-3 3-6 3 1 1 7zM175 445l7-5 0-1-3-4-2 1-3 2zM59 447l-1-5-1 0-3 1 3 4zM63 442l-5 0 1 5 7-2zM72 441l-3 7 4-1 2-1-2-5zM82 444l-4-1-2 2 3 2 4-2zM85 446l1-1 4-1-1 4-4-1zM96 450l-2-2-1-6 3 2 2 3zM474 449l-3-3 5-5 0 1 2 5zM73 447l4 6 3-2-1-4-3-2-1 1zM90 449l-1-1-4-1 0 5 1 1 3 1zM96 450l-7 4 1-5 4-1zM103 452l-6-1-1-1 2-3 2 0zM112 446l-2 2-1 1 0 1 1 2 7 0 1-1 0-3zM173 446l-2 5-6 0 0-1 6-4zM175 446l1 1 1 3-5 3-1-2 2-5zM460 451l-1-1 3-3 3 1 1 3zM466 451l-1-3 1-1 3-1 0 7-3-1zM472 453l0 1-1 0-2-1 0-7 1 0 1 0 3 3zM483 451l-3-4-2 0 0 4 0 1zM83 457l-3 2-3-1-1-3 1-2 3-2 5 1 1 1zM96 450l-7 4 0 1 2 1 6 0 0-5zM97 451l0 5 2 2 2-1 2-5zM110 452l3 5 4-2 0-3zM482 456l5 0 1-5-4 0-1 0zM488 451l-1 5 2 2 1 0 1-2 0-5 0-1-1 0zM89 454l0 1-3 6-3-4 3-4zM97 456l2 2-4 7-3-2-1-7zM110 452l-4 7 1 2 6-4zM453 459l3-3-4-3-1 0-1 2-1 2zM463 455l0 2 5 4 1-1 2-6-2-1-3-1zM469 460l7-1-4-5-1 0zM490 458l4 2 1 0 0-4-4 0zM89 455l-3 6 0 1 2 1 4 0-1-7zM453 463l-5-3-1-1 2-2 4 2 1 4zM459 465l3-2-1-5-3 0-1 4zM463 457l5 4-1 2-5 0-1-5zM468 461l7 3 1-1 1-3-1-1-7 1zM481 457l2 4-1 4-6-2 1-3 3-3zM491 463l3-3-4-2-1 0-1 2 1 1zM139 461l2 8 4-2-1-4-4-3zM452 466l-2 1-4-4 2-3 5 3zM457 468l-5-2 1-3 1 0 3-1 2 3 0 2zM459 467l4 4 4-3 0-5-5 0-3 2zM471 470l-4-2 0-5 1-2 7 3-2 5zM497 471l-1-5-5-2-2 3 2 2zM444 465l-3 0 1 5 2 5 3-6zM438 477l-2-1 0-6 6 0 2 5zM455 472l4 3-3 6-5-6zM471 478l0-1 0-7-4-2-4 3 0 1 3 4zM471 478l0-1 5-7 1 1 1 3 0 1-6 4zM491 475l-6 1 1-4 3 0zM492 476l1 0 4-5-6-2-2 3 2 3zM446 479l-2-4 3 0 4 0 5 6 0 1zM479 476l6 2 0 2-6 1zM478 474l3-1 4 3 0 2-6-2-1-1zM485 478l0-2 6-1 1 1-5 6-2-1 0-1zM497 471l2 1 1 2-4 6-2-1-1-3zM496 480l3 2 1 0 1-6-1-2zM446 484l-2 1-3-1 3-9 2 4zM446 484l3 2 7-4-10-3zM492 476l-5 6 3 3 4-6-1-3zM496 480l3 2-1 2-8 1 4-6zM503 477l-2-1-1 6 5 2 2-4-1-1zM499 482l1 0 5 2 0 1-7 2 0-3zM443 490l1-5 2-1 3 2 0 5-2 1-1 0zM472 486l4 4 1-3zM274 496l0-8-3 2-1 5 1 2zM318 496l-4 1 1-5 1-1 2 4zM320 495l-1-9 0-1-3 6 2 4zM440 496l0-5 3-1 3 2-4 7zM454 497l-2-5 6-4 1 7-2 2zM473 492l1 6 0 1-3-1-1-7zM258 496l4 3 1-1-3-3zM305 496l-3 0-1 2 5 2zM308 496l0 3-2 2 0-1-1-4 2 0zM318 500l1-1-1-3-4 1 1 2zM442 499l0 2 1 0 4-5 0-4-1 0zM465 497l5-6 1 7-5 1zM266 503l2-2-3-4-2 1-1 1-1 2zM272 500l-1 0-1 1 1 1 2 2 1-1zM311 504l-4 0-1-2 0-1 2-2 2 1zM315 499l-1-2-1 0-3 3 1 4 1 0 1-1zM318 500l-3-1-2 4 6 0zM318 500l1-1 2-1 1 1 2 3-5 1zM322 499l4-1 2 1-2 4-2-1zM454 497l-2 2-1 4 5 1 2-1 0-4-1-2zM465 501l-7-2 0 4 4 2zM273 504l-2-2 0 6 2-2zM300 502l-3 5 3 2 3-4zM319 503l0 2-2 1-4 1-1-3 1-1zM324 502l2 1 0 1-4 3-3-2 0-2zM330 508l-2-1-2-3 0-1 5 1zM335 507l-1 1-4 0 1-4 1-1 0 1 4 3zM445 506l-1-4 7 1 0 4-3 2zM456 504l0 2-1 4-1 0-3-3 0-4zM462 505l-4-2-2 1 0 2 3 2zM469 505l-2 2-5-1 0-1 3-4 4 3zM289 509l4 3 1-1 0-4-3 0zM318 511l-1-5-4 1-1 1 1 3 4 0zM456 506l3 2-1 2-3 0zM266 516l3 0-1-4-2-2-1 1 0 5zM269 516l1 0 2-2 0-2-1-1-3 1zM298 513l3 3 4-5-1 0-3-1zM317 511l0 3-3 2-2-2 1-3zM455 510l-1 0 0 4 4 1 3-2-3-3zM281 514l1-2 1 0 1 1 1 4 0 1-3 1-1 0zM292 515l-4 5-3-2 0-1 4-3zM298 513l-1 2 0 5 3-2 1-2zM326 520l0-3 2-1 3 0 1 2-3 2zM286 523l-4 0 0-4 3-1 3 2zM418 523l0-4-1 0-4 3 1 1 1 1zM266 525l-1-1-3-2 0 1-2 4 4 1zM269 527l3-3-3-2-2 3zM279 524l0 4 6 0-4-5zM286 523l1 5 1 1 2-8-2-1zM293 526l-1-2-1-2-1-1-2 8 1 0zM295 526l3-3 0-2-6 3 1 2zM311 524l0 3-2 0-3-2 0-2zM320 522l2 6-3 0-1-2zM325 529l2 1 2-5-2-1-2 1-1 3zM331 527l-1-2 0-1 2 0 3 4-1 1zM335 528l-3-4 1-1 5 1-2 4zM415 524l-1-1-1 3 1 2 2 0 1-1zM264 529l-5 2-2-2 3-2 4 1zM269 528l3 1 0 3-3 0-1-2zM272 532l0-3 3-1 2 1 1 1-2 2-3 1zM285 528l-6 3 3 3zM295 530l-1 1-3 0-2-2 4-3 2 0 1 1 0 1zM298 531l-3-1 1-2 4 2zM302 529l3-2 2 3-5 1zM307 530l-2-3 1-2 3 2zM318 526l-3 0-2 2 2 2 3 1 1-3zM327 530l2 1 2-4-1-2-1 0zM329 531l2-4 3 2-1 1 0 1-3 1zM333 530l5 1 1 0 0-1-3-2-1 0-1 1zM336 528l3 2 1-1-1-5-1 0zM340 529l4-1 1 0 1 2 1 0 0 1-2 3zM408 531l1-1-3-4-3 1 2 4zM413 526l-2 2-1 1 2 1 2-2zM416 528l1 3-3 1-2-2 2-2zM272 532l-3 0-1 3 4 0 1-2zM302 531l5-1 1 2-4 2-2 0zM310 533l0 1 0 2-5 0-1-2 4-2zM325 529l-3 4 0 1 3 1 2-5zM329 531l-2-1-2 5 1 1 4-1 0-3zM333 530l5 1 0 2-2 1-3-3zM338 531l1 0 5 3-2 1-3 1-1-3zM345 534l2-3 5 4-1 2-1 1-4-2zM409 534l-3 1-2-1 0-2 1-1 3 0zM260 535l5-1 1 2-4 2-3-2zM274 538l-1 1 5 2 1 0-1-5-1 0zM282 536l0-1-4 1 1 5 3-2zM285 541l1-3 0-2-1 0-3-1 0 1zM291 538l-1 2-4-2 0-2 4-1zM290 535l1 3 4 1 1-3zM316 535l-3-1-3 0 0 2 2 2 4-2zM317 534l-1 1 0 1 1 3 1 0 2 0 0-3zM334 536l-3 0 0 4 0 1 1 0 2 0 2-3zM336 534l-2 2 2 2 2 0 1 0 0-2-1-3zM339 538l1 1 1-1 1-3-3 1zM274 545l-1-5-2 1-2 3 0 2 4 0zM290 543l0-3 1-2 4 1 0 4zM298 535l-1 1-1 0-1 3 0 4 1 0 5-3-1-4zM305 538l-1 2 3 3 2-1 0-4zM310 536l2 2 2 2-1 2-2 1-2-1 0-4zM320 539l-2 0-1 5 4 0 0-4zM326 538l5 2 0 1-3 1-1 1-2-4zM336 538l-2 3 4 2 0-5zM338 538l0 5 1 1 3-1-2-4-1-1zM340 539l1-1 3 1 0 4-1 0-1 0zM344 543l0-4 2-3 4 2-2 5zM350 545l-2-2 2-5 1-1 3 2 0 5-2 1-1 0zM284 542l2 4 0 1-3 0-1-3 1-2zM301 549l4-3-3-1-2 1zM313 550l-2-4 0-2 4 2zM328 542l3 2 0 2-1 0-4-2 1-1zM334 541l0 4 4 0 1-1-1-1zM286 547l-3 0-1 1 1 3 1 0 3-2zM291 548l-3 2 2 3 2-1 2-2zM299 551l-2 0-3-1 2-6 2 1zM301 551l-2 0-1-6 2 1 1 3zM301 551l1 1 4-2 0-4-1-1 0 1-4 3zM310 551l-3 0-1-1 0-4 3 1zM313 550l0 1 2 0 3-2 0-1-2-2-1 0zM346 550l-2 1-2 0-1 0-1-3 4-2 2 3zM267 556l-2-5 2-1 4 2-2 3zM274 556l-3 1-2-2 2-3 2-1 1 1zM282 556l4 0 0-1-2-4-1 0-2 1zM295 556l-1 0-2-4 2-2 3 1-1 5zM296 556l1-5 2 0 2 0 1 1 0 3 0 2-6 0zM317 554l-2-3-2 0-2 1 2 5zM317 554l-2-3 3-2 3 2-2 4zM319 555l2-4 3 0 1 4 0 1-6 0zM277 557l3 3 0-1 2-3-4-1zM286 559l4 0 1-2-3-3-2 1 0 1zM302 560l0-3 0-2 3 0 2 5zM313 557l-4 3 0-5 2-3zM319 556l6 0 0 3-4 2-2-2zM332 555l-4 4-2 0-1 0 0-3 0-1 6-2zM340 560l-1 0-2-2 0-2 1-1 3 2 1 0zM271 560l-1 0 0 2 3 2 1-3zM271 560l3 1 1 0 0-3-4 1zM283 562l-1-1-2-2 0 1-3 2 0 1 4 1zM289 562l-2 0-1-3 4 0 1 2-1 1zM296 563l1-3-1-3 0-1-1 0-2 5 1 1zM297 565l4-2 1-2-5-1-1 3zM308 560l1 0 1 2-2 3-3 0zM333 559l-1 1-3 3 0 1 6-2-1-1zM277 566l0-3 4 1 1 2zM292 565l2-3 2 1 1 2 0 2-3 2-3-2zM297 565l4-2 1 5-5-1zM301 563l1-2 3 4-2 2-1 1zM321 565l7-3 1 1 0 1-4 3zM277 566l5 0 2 2-3 1-2 1zM288 567l1 6-4-2 0-3 1-1zM291 567l3 2-5 4-1-6 1 0zM302 568l1-1 6 3 0 1-3 2-2 1-2-3zM305 565l3 0 1 5-6-3zM314 570l2-4 3 1 1 0-3 4zM318 574l4-2 1 0-3-5-3 4zM279 570l-1 4 1 0 4-1-2-4zM289 573l5-4 1 3-3 4-3-1zM299 571l3 0 2 3-3 1-3 0-1-2zM312 571l-2-1-1 0 0 1 2 5 2 0 1-1zM314 570l3 1 1 3-4 1-2-4zM322 572l1 0 2-1 2 2 1 1-4 2-1-1zM330 574l-1 1-1-1-1-1 1-4 1 0zM334 579l-5-4 1-1 3-2 2 3zM335 575l-2-3 1-2 4 3-1 1zM337 574l1-1 2-1 2 5-1 1-3-2zM392 572l3 4 0 2-1 1-1 0-3-1 0-3zM292 576l1 5 3 1 2-2-1-4zM300 580l1-5 3-1 1 6-4 0zM313 581l-3-2 0-2 1-1 2 0 2 3zM322 581l-3-2 5-3 1 2-2 3zM324 576l4-2 1 1-1 3-3 0zM334 579l-2 3-2 0-2-1 0-3 1-3zM334 579l2 1 1 0 4-2-3-2zM301 580l4 0 1 1-3 4zM313 582l-4 2-2-3 3-2 3 2zM318 579l1-1 0 1 3 2 0 2-3 1-1-2zM322 581l0 2 2 2 1 1 1-4-3-1zM323 581l3 1 2-1 0-3-3 0zM341 583l0 1-4 1-1-5 1 0zM341 578l-4 2 4 3 2-4zM385 584l3-1-1-4-2 0zM389 584l-1-1-1-4 3-1 3 1 0 2zM280 582l-4-1 0 1 1 4 1 1 4 0 1-4zM299 586l-3-4-2 5 2 1zM307 581l-1 0-3 4 0 1-1 1 2 0 5-1 0-2zM313 582l-4 2 0 2 5 2 1-2-1-2zM326 582l2-1 2 1-2 6-1 0-2-2zM334 579l-2 3 3 4 2-1-1-5zM296 592l-2 0 0-5 2 1zM301 588l-4 4-1 0 0-4 3-2 3 1zM309 586l-5 1 3 4 2 0zM314 588l-3 5-2-2 0-5zM314 588l5 2 1-1 0-2-1-2-4 1zM280 591l2-2 2 5 0 1zM302 591l5 0-3 5-2-2zM309 591l-2 0-3 5 1 1 4-1 3-2-1-1zM317 593l-4 2-1-1-1-1 3-5 3 4zM319 595l-2-2 0-1 2-2 1-1 2 2-1 3zM334 592l0 3 1 2 2-3-1-2zM339 591l2 2-1 2-3-1-1-2zM275 598l1 1-3 1-2-1-1-5 3-1zM279 595l-4 3 3-4zM284 597l0-1 5 0 1 0-1 3-3 1zM290 596l-1 3 1 1 4 0 1-2 0-1-2-1zM298 594l4 0 2 2-3 1-2 1zM311 601l1-1 1-3 0-2-1-1-3 2 0 4zM319 595l-2-2-4 2 0 2 4 2 1-1zM326 595l4 1 0 4-3 0-1-2zM284 603l2-3 3-1 1 1 0 3-5 1zM298 599l2 4-1 0-4 0-1-3 1-2zM311 601l1-1 4 3-3 3-2-4zM322 599l1 3 2 0 2-2-1-2-3 1zM325 602l2-2 3 0 1 1 0 1-3 4zM280 605l3-2 1 0 1 1 0 2-2 2zM294 604l0 1-2 4-3-2 1-3zM299 603l-4 0-1 1 0 1 3 2zM313 606l-2-4-3 3 2 1zM317 603l-1 0-3 3 1 2 5 0 1-1zM322 602l0 4-2 1-3-4zM322 602l1 0 2 0 3 4 0 1-5-1-1 0zM328 607l0-1 3-4 3 4-4 2-1 0zM331 602l0-1 8 2-4 4-1-1zM288 607l1 0 3 2 1 2-2 3-1-1-2-2zM320 610l-4 2-2-1 0-3 5 0zM328 607l-5-1 0 5 1 0zM328 607l1 1 0 4-4 1-1-2zM335 608l4 3 2-1 0-5-2-2-4 4zM274 615l-2 3-3 0 0-4 2-3zM276 614l1-2-5-3-1 2 3 4zM306 613l-3-2-1 4 2 3 1 0 1-3zM309 611l2 3 3-3 0-3zM323 611l-3 0 0 4 2 1 3-3-1-2zM330 613l2 0 1-2 0-1-3-2-1 0 0 4zM282 615l1 5-4 1-2-1 1-3zM306 615l-1 3 4-1 3-1-1-2zM325 613l-3 3 1 3 3 1 0-1 0-5zM328 615l2 4 3-3-1-3-2 0zM285 621l4 3 1 0 0-6-2 1zM292 617l-2 1 0 6 2-1 2-5zM305 618l4-1 0 5-1 1-1-1zM313 621l0-4-1-1-3 1 0 5 1 1zM313 621l0-4 1 0 3 1 1 2 0 2-2 1zM325 624l-2 0-2-3 2-2 3 1 0 2zM282 625l1-1 4 3-1 3-1 0zM289 625l2 2 3 1 1-1 0-2-3-2-2 1-1 0zM314 626l4 2 1 0 1-1-2-5-2 1zM321 621l-3 1 2 5 2-1 1-2zM289 625l2 2-2 4-1 0-2-1 1-3zM294 633l1-2-1-3-3-1-2 4 2 1zM314 631l3 0 1 0 0-3-4-2-1 1 0 3zM331 632l0-1-1-3-3-1-2 2 0 2 2 1zM289 635l2-3-2-1-1 0-1 3zM290 637l-1-2 2-3 3 1zM294 633l1 3 3 1 0-5-3-1zM317 636l5-1 0-3-4-1-1 0zM326 635l-3 1-1-1 0-3 2-1 1 0 2 1zM268 641l0-1 4-6 1 1 1 3-4 4zM276 635l-3 0 1 3 3 1zM280 639l0-4-4 0 1 4 1 0zM280 635l0 4 5-2 0-2-3-3zM288 638l2-1-1-2-2-1-2 1 0 2 1 2zM292 639l2-1 1-2-1-3-4 4zM311 637l-1-3-1 0-3 2 1 4 2 0zM327 636l0 5-4-3 0-2 3-1zM332 635l-3 1 1 3 4-2zM270 642l4-4 3 1 1 0-2 4-5 0zM282 641l-3 4-1-1-2-1 2-4 2 0zM282 641l2 1 1-1 1-1 0-1-1-2-5 2zM292 642l-4-4-2 1 0 1 3 4zM292 642l-4-4 2-1 2 2zM308 644l-2-4 1 0 2 0 3 3-2 2zM317 638l-2 5-2-1-1-3zM321 640l0 3 6-2-4-3zM334 637l2 1-3 5-1 1-3 1-1-4 2-2zM336 638l-3 5 5 1 0-1zM271 643l5 0 2 1-4 6-2-3zM284 642l1-1 1 4-3 1zM292 642l-3 2 0 1 4 2 1-4zM304 647l-1 1-1 0-1 0-1-3 3-3 2 3zM304 647l6 1 0-3-2-1-3 1zM316 647l1-3 3 0 2 3-5 2zM320 644l1-1 6-2 1 0 1 4-4 2-2 0-1 0zM330 647l6 0-4-3-3 1zM337 646l-1 1-4-3 1-1 5 1zM274 650l4-6 1 1 2 2 0 1-2 2-3 0zM284 652l-3-4-2 2 1 2zM283 646l3-1 3 0 0 5-1 1-1 0zM289 645l0 5 4 0 0-2 0-1zM303 648l-1 0 0 3 4 1 3-2zM321 651l2-4 2 0 2 5-1 0zM330 647l6 0-2 3-3 0zM337 646l2 5-4 1-1-2 2-3zM276 650l3 0 1 2 0 2-2 2zM293 654l1 0 0-3-1-1-4 0-1 1 2 4zM306 652l-4-1 0 1-1 3 4 3 1-2zM306 652l3-2 2 3 0 2-5 1zM330 654l3 2 2-3 0-1-1-2-3 0-1 3zM301 655l4 3 0 1-6 0zM315 657l1-2 1 0 2 3-1 1-3-1zM330 654l3 2 0 2-4 1 1-4zM325 662l1 2 2-1 0-3-2-2zM336 664l2-1-1-4-3-1-2 3 2 3zM339 663l3-5-4-1-1 2 1 4zM303 668l3-1 1-4-1 0 0-1-5 1 1 4zM313 661l-1 3 3 3 3-2 1-2-1-1zM322 669l-1 1-3-5 1-2 5 3 0 1zM300 670l-2 0 0-2 1-2 3 1 1 1-1 1zM305 674l2-1 0-1 0-4-1-1-3 1-1 1zM313 671l-3 1-3 0 0-4 2 0zM313 670l-2-4-2 2 4 3zM321 670l-3-5-3 2 3 3zM300 674l-5-1-1-2 4-1 2 0zM300 674l0-4 2-1 3 5-1 1-4 0zM310 676l0-4-3 0 0 1zM327 672l-2 3 0 1 5-1 0-4-2-1zM325 675l0 1 0 1-4 1-3-3 3-3zM294 683l4 1 1-1-2-3-3 1zM299 683l3 0 0-1-1-3-2-2-1 1-1 2zM338 682l-3 1-1-4 2-2 1 0zM284 690l1 0 4-4-1-2-5 4zM293 685l0 3-1 0-3-2-1-2 0-2zM277 688l0 1 1 5 5-3 1-1-1-2-3-2zM285 690l4-4 3 2-3 3zM304 687l1 2-1 2-4-1zM313 691l-2-3-2 2 0 2zM289 693l0-2-4-1-1 0-1 1 1 2 2 2zM313 691l-4 1 0 2 5 1 1-1zM278 696l4 1 3 3-7 1-1-2zM289 700l-2-1-1-4 3-2 2 1zM289 700l2-1 3-3-1-2-2 0zM291 699l3-3 2 0 0 1-1 4-1 0zM299 693l3 3-1 2-2 1-3-2 0-1zM309 694l0 6-1 0-5-5 2-2zM311 702l-2-2 0-6 5 1-2 5zM289 700l1 5 4-4-3-2zM311 702l-2 1 0 3 0 6 2-1 2-7zM319 707l-4-2 1 3zM319 707l1 0 0-2-2-1-3 1zM286 708l-1 2 5 2 0-1 1-3-1-2-3 1zM303 706l-2 3 5 2 0-4-2-1zM309 706l-3 1 0 4 2 2 1-1zM316 708l-1 3-4 0 2-7 2 1zM322 713l-2-2 1-3 3-1 3 5-2 2zM269 712l1 3 2 2 1 0 1-1 0-4-2-1 0-1zM279 714l-3-3-2 1 0 4 4-1 1 0zM279 714l-3-3 2-3 2 0 0 5zM295 713l0-1-5-1 0 1-1 2 2 1 2 0zM298 716l1-3-4-1 0 1zM305 717l3-4-2-2-5-2-1 3 3 5zM320 714l-3 1-2-4 5 0 2 2zM284 718l1-1 0-1-1 0-3 2 1 2zM285 716l4-2 2 1 0 4-2 2-4-4zM295 718l-1 2-3-1 0-4 2 0zM298 716l5 1 2 0-3 3-4-1-1-1zM306 718l-1-1 3-4 1-1 5 5-1 2 0 1zM320 714l-3 1 1 3 3 1zM325 719l-4 1 0-1-1-5 2-1 3 1zM256 717l-2 3 1 2 3 0 1-4-1-1-1 0zM278 722l-3 1-4-4 1-2 1 0 5 4zM282 720l-1-2-2 0-1 3 0 1 3-1zM284 718l-2 2-1 1 4 2zM284 718l1-1 4 4 0 1-4 2 0-1zM291 724l3-2 0-2-3-1-2 2 0 1zM297 718l1 1-1 3-3 0 0-2 1-2zM301 722l1-2-4-1-1 3 1 1zM306 718l-1-1-3 3-1 2 1 2 3-2zM306 718l-1 4 1 2 3 1 1-2zM315 726l-3-4 1-2 0-1 3 1 1 3zM264 725l0-2 3-1 2 2 0 2-3 3zM302 727l0-3-1-2-3 1 0 4 2 1zM305 722l-3 2 0 3 1 0 2-1 1-2zM315 726l2-3 1 0 3 4-3 2-1 0zM262 728l-1-1-3 0 1 3 2 0 1 0zM262 728l1-3 1 0 2 4 0 2-4-1zM266 731l4-1-1-4-3 3zM314 727l-5-1-1 3 1 2 3 0zM272 735l1-3-1-1-2-1-4 1 5 4zM278 733l0-1 1-1 1 0 4 3-3 3zM291 731l2 1 2 2-2 2-1 0-1-1-1 0 0-4zM300 735l1-1 0-3-5 0 0 3zM321 735l-2-1-2 1 0 4 1 1 2-1zM266 739l1 0 3 2 0 2-1 1-2-1zM273 745l-3-2 0-2 3-2 2 1-1 5zM288 744l-1-3-4 1-1 4 3 1zM269 746l0 1 0 3-3-1 0-3zM310 755l-2 5 1 2 4-4 0-1-2-2zM315 757l2 1 4-4-1-1-2-1-1 0zM304 759l-3 5-2-1 0-4 5-1zM313 762l-3 1-1-1 4-4 1 4zM304 764l1 1 0 2-3-1-1-2zM311 766l-2 4-3-1-1-2 0-2 5-2zM313 762l-3 1 1 3 2 1 1-2zM301 770l1-4 3 1 1 2-1 1-4 1zM300 772l1-1 4-1 0 5-5-2zM309 770l-3-1-1 1 0 5 1 2 3-4-1 0 2-1zM308 778l3-1-1-3-1-1-3 4z"/><path fill="#f8d888" d="M242 87l6 1 1-4-4-1-2 2zM192 84l-3 6-6 0 2-6 1-2zM202 93l1-6-7-1 0 1 4 7zM202 93l4-1-1-5-2-1 0 1zM248 88l0 2 5-1-1-5-3 0zM200 94l0 2-6 0-2-1 0-2 4-6zM208 93l1 0 1 2-1 2-7 4-1-3zM209 103l-6 0-1-2 7-4 2 2zM243 102l-3-6-1 0-1 2 1 5zM162 106l-2-6-2 0 1 8zM209 103l0 5 0 1 4-2 0-2zM243 102l-4 1-1 2 2 2 4-1 1-4zM260 109l-6-3 0-1 6-5 1 2zM215 115l2-1-4-7-4 2 3 5zM231 108l3-4 4 1-3 5zM244 106l2 2-1 4-5 2 0-7zM235 117l-4-2-3 4 1 2 1 0zM245 121l-5-7 5-2 6 3 1 1-4 4zM169 126l-6-3-1-3 0-1 7 1 2 4zM171 124l-2-4 1-1 2-1 3 3 0 1-1 3zM187 118l-3 5 3 3 4-2-1-3zM190 121l6-2 2 1 1 1-4 4-3 0-1-1zM217 124l4-1 0-8-1-1-1 0-2 0-2 1-2 6 3 3zM236 118l4-4 5 7-1 1-7 0zM256 118l1 2-1 4-6 2-2-6 4-4 3 0zM256 118l1 2 4 5 4-4 0-2zM200 121l-1 0-4 4 0 2 4 1 2-4zM240 128l4-5 2 6-4 0zM258 128l-1 1-5 2-2 0 0-5 6-2zM261 125l-4-5-1 4 2 4 2-1zM195 131l0-4 0-2-3 0-1 6zM265 133l-3-5-2-1-2 1-1 1 3 5zM258 135l-3-1-3-3 5-2 3 5zM182 137l-2-3-6 1 2 4 4 2zM222 139l-1-4-1 0-2 4 1 3 1 0zM180 141l7 3 1-2-6-5zM220 144l-5 3 0 2 4 3 1 0zM228 149l-3 3 2 2 2 0 0-2zM239 149l3 1 2 3 0 3-8-1zM251 155l-3-3-4 1 0 3 1 2 6-2zM252 158l-1-2-6 2 0 1 2 2zM254 161l5 0 1-4-9-2 0 1 1 2zM260 155l6 0 1 4-7 4-1-2 1-4zM254 161l-3 3-2 0-2-3 5-3zM224 161l-4 4-1 3 5 0 1-5zM284 162l8-2 0 2-2 7-3-1zM298 165l-6-3-2 7 3 1 6-4zM258 167l2-2 4 7-1 2-2-1zM295 173l3-1 1-6-6 4zM245 175l0-2 2-3 2 1 2 4-1 1zM245 175l5 1-1 6-1-1zM257 174l1 6 1 0 2-1 2-5-2-1zM263 174l-2 5 5 2 0-4zM313 181l1 1 2-1-2-2zM266 181l-5-2-2 1 1 3 6 0zM301 187l-7 0 0-1 5-7 2 0 3 4-1 0zM314 182l0 2 6 0-2-1-2-2zM242 182l0 1 1 4 2 1 4 1 3-2-2-5-1 0-1-1zM257 188l-4-1 4-7 1 0 1 0 1 3-1 4zM259 187l1-4 6 0-1 3-3 2zM268 188l5-3 0-1-3-3-4 0 0 2-1 3zM293 188l-7-1-1-3 2-1 4-1 3 4 0 1zM258 194l5-2 0-2-1-2-3-1-2 1 0 5zM272 192l2-5-1-2-5 3 3 4zM276 188l-2-1-2 5 1 2 7-1 0-1zM300 192l1-5-7 0-1 1 2 2zM301 187l5 5 2 0 0-2-5-7zM308 190l1-5 5-1-3 10-3-2zM325 188l-2-2-1 1-2 5 7-2zM257 193l0-5-4-1-1 0-3 2 0 6 3 0zM259 196l-1-2 5-2 1 2-2 3zM263 192l1 2 2 0 1-1-1-3-3 0zM256 200l-4-5 5-2 1 1 1 2zM263 200l-1-3 2-3 2 0 1 3-3 3zM337 196l0 1 2 3 4 1-3-2-2-3zM249 197l0 5 7-2-4-5-3 0zM264 200l3-3 1 0 2 5-4 0zM360 209l1-1-3-1-1-1zM297 211l1-1 0-2-7 0-1 3 5 1zM343 208l-2 1-2 1-4-4 0-1 2-1 1 1zM304 215l2-2 4 4 0 1-5 2zM350 214l1 5 5-4 0-3-2 0zM301 219l-3 0 0 4 2 0 2-3zM302 220l-2 3 3 2 2-5zM310 224l2 0 2-5-1-1-3-1 0 1zM314 219l2 1-1 7-1 1-2-4zM330 222l0-1-6-3-1 0-1 9 2 0zM295 225l3-2 2 0 3 2 0 2-7 0zM309 224l1 4-4 0-1-1 3-3zM316 220l-1 7 6 1 1-1-4-6zM295 230l3 2 4-2 1-3-7 0zM306 228l-1-1-2 0-1 3 2 4 1 0 2-2zM307 232l-2 2 5 2 2-3 0-1zM312 230l2-2 1-1 6 1 0 6-2 2-6-2-1-1 0-1zM304 236l0-1 0-1 1 0 5 2 0 1-2 2-2 0zM313 234l-1-1-2 3 0 1 2 2 2 0zM319 236l-1 4-4-1-1-5zM340 238l-5 0 0 5 3 0 1 0zM338 243l1 1 0-1zM339 248l3 1 2-1-5-2zM348 251l1 0-2-1zM342 249l0 2 2 4 4-4-1-1-3-2zM359 257l4 4 0-2 0-1-4-2zM369 265l-6 4-1-7 7 2zM381 273l4-3-7-4 1 5zM394 274l-5-2 0 4zM407 280l-6-3-1 1 0 3 5 2 1-2zM412 283l1 1 3-1-4-1zM405 283l-5-2-1 2 0 4 5 0 2-2zM406 281l5 2-1 4-4-2-1-2zM413 284l-1-1-1 0-1 4 0 2 1 0 2-2zM413 284l0 3 5-1 0-2-2-1zM418 286l2 3 2 0 3-3-7-2zM376 287l-3-1 0 5 7 0 0-1zM429 288l1 2 5 1-1-4zM435 291l0 1 1 0 2-1 0-4-4 0zM438 291l6 0 0-3-1-1-5 0zM455 291l0-1-4-1 1 4zM555 292l3 0 1-4-3-2-1 0zM361 289l4 1-1 4-1 0-3-2zM410 289l-3 5 4 3 5-4-5-4zM430 290l-3 6 6-1 2-3 0-1zM436 292l2 3-4 2-1-2 2-3zM436 292l2-1 6 0 0 1-2 3-4 0zM464 294l1 2 1 1 1-2-2-1zM433 295l-6 1 0 1 5 4 3-3-1-1zM438 295l1 6-4-3-1-1zM438 295l4 0-1 5-2 1zM442 295l2-3 2 1 1 7-6 0zM452 293l0 2-4 5-1 0-1-7zM452 295l3 3-2 3-4-1-1 0zM558 296l-3-3 0 4 0 2zM370 301l-1-3 2-3 2 1 3 3-2 6-1 0zM407 294l-1 1 0 1 1 6 6-2-2-3zM432 303l0-2 3-3 4 3-4 5-2 0zM441 300l6 0-1 5-2 1-5-5zM462 302l-2-3-2-1-1 6 4 0zM462 302l1 0 4-4-1-1-1-1-5 3zM467 298l1 1 0 1-2 5-1 0-2-3zM383 308l1-1 1-3-3-1-3 1zM423 310l-2-2-1-7 4 0 2 8zM439 301l-4 5 1 2 3 2 5-4zM454 305l-1-1-2 0-3 2 2 3 0 1 3-3zM462 302l1 0 2 3-1 1-3 1 0-3zM470 303l-2-3-2 5 2 1zM478 304l-5-1-1 1 0 2 2 2 3 0 1-1zM485 305l-5-2-1 0 3 4 2-1zM486 304l0 1 3 2 2-2-1-2-2 0zM491 305l2 3 1-4zM493 308l1 1 4-2 0-2-4-1zM498 307l1 1 3-2-4-1zM565 307l1-9 1 0 2 0 0 6-1 2zM573 297l3 6-3 4-4-3 0-6zM581 307l3-5-6 2 1 4 1 0zM584 302l-3 5 3 1 2-5 0-2-1 0zM355 315l-2-3 4-6 1 1 1 3 0 3zM364 309l-1-2-5 0 1 3zM413 309l4-3 1 5zM423 310l-5 1-1-5 4 2zM426 309l3-2 4-1 2 0 1 2-3 5-4 0zM440 312l5-2-1-4-5 4 0 1zM444 306l1 4 1 1 4-2-2-3-2-1zM454 318l2 0 1-2 0-2-4-7-3 3 3 7zM469 307l0 3-3 2-2-1 0-5 1-1 1 0 2 1zM485 305l1 0 3 2 0 3-4 0-1-4zM500 311l-1-3-2 3 1 3 1 0zM504 312l1-1-1-3-5 0 1 3zM362 314l2 0 0-2-5-2 0 3zM416 316l2-5-5-2-1 0-1 1 0 1 2 5zM435 317l-2-4 3-5 3 2 0 1zM435 318l0-1 4-6 1 1 1 2zM444 317l2-1 0-5-1-1-5 2 1 2zM446 316l0-5 4-2 0 1 3 7zM472 311l-1 3-4 0-1-2 3-2zM473 311l2 4 2-2-1-2zM482 315l3-1-1-3-3-1-1 3 0 1zM490 311l-2 4-2 0-1-1-1-3 1-1 4 0zM495 315l-3-4-2 0-2 4 1 1 5 0zM497 315l1-1-1-3-4 0-1 0 3 4zM504 312l-4-1-1 3 3 0zM509 315l0-4-4 0-1 1 3 3zM512 312l-3-1 0 4 3 1 1-1zM512 312l1 3 3 0 2-1-1-2-2-2zM522 314l2-1 1-2-1 0-2-1zM408 317l-1-1-2-1-2 1-3 5 1 0 6-2zM419 322l-2-2-1-4 6 0zM419 322l3-6 1-1 3 3 0 3-6 2zM426 321l1 1 5-4-3-2-3 2zM487 320l-2-3 1-2 2 0 1 1 0 2zM494 316l-5 0 0 2 3 2 1-1zM498 317l-2 2-1 1-2-1 1-3 1-1 2 0zM506 316l-3 1-1 2 3 2 2-1zM509 315l0 4-2 1-1-4 1-1zM512 320l0-4-3-1 0 4 1 1zM521 315l1-1 2-1 4 2-4 4-2 0zM533 319l-1 0 2-5 5 2-1 2zM538 320l4 0-1-5-2 1-1 2zM542 320l-1-5 2 0 3 2 1 2-1 2-3-1zM550 318l0-4-1-1-3 4 1 2zM553 318l-3 0 0-4 4-1 1 1zM408 325l-1-6 1-2 2 0 2 4-3 5zM409 326l1 1 2 0 3-6-3 0zM472 325l-2-3 0-3 2 0 0 1 1 2zM492 320l-3-2-2 2 0 3 2 1zM495 320l0 3-4 1-2 0 3-4 1-1zM500 321l1 4 4-2 1-1-1-1-3-2-1 1zM510 320l-1-1-2 1-2 1 1 1 2 1zM512 320l-2 0-2 3 2 2 2-2zM512 320l4-1 1 2-2 3-3-1zM516 318l6 1-1 2-2 1-2-1-1-2zM522 319l2 0 0 1 0 4-1 2-1-1-1-4zM538 323l0-3 4 0 1 0-3 3zM546 322l4 1 0-5-3 1-1 2zM550 318l3 0 1 4-1 2-2-1-1 0zM393 327l3-5 0-1 1 6zM408 325l-6-2-2 7 2 1zM419 322l-2-2-2 1-3 6 4 0 4-4zM433 323l-1 4-3 2-1 0-1-1 0-6zM436 320l6 1-2 5-1 1-1 1-4-5zM446 327l-1-3 6-2 0 7-5 0zM477 326l2 1 2-1 0-2-3-2-1 1zM495 323l-2 5 3 0 2-1-2-4zM508 323l-2-1-1 1 0 4 4-1 1 0 0-1zM512 323l3 1 1 1-2 2-4-1 0-1zM519 325l-1 1-2-1-1-1 2-3 2 1zM527 328l1-1-1-2-3-1-1 2 0 2zM408 325l-6 6 3 1 1 1 2-1 2-2 0-3-1-1zM436 330l-4-3-3 2 2 3zM444 330l-3 6-3-4-1-2 1-2 1-1zM473 327l0 1 3 4 3-3 0-2-2-1zM479 327l0 2 2 1 1 0 1-3-2-1zM487 332l-1-1-1-5 1 0 3 4 0 1zM501 328l0 2 4 1 1 0-1-4zM509 326l0 3 4 1 1-1 0-2-4-1zM514 329l0-2 2-2 2 1 0 3zM526 330l1-2 1-1 2 1 0 1-1 1zM421 331l-4-1-2 4 0 1 5 1 2-2zM469 332l1 1 1 1 5-2-3-4zM496 332l3 0 0 5-1 0-3-1-1-1zM503 336l-1 1-3 0 0-5 1 0zM509 336l0-1-1-4-2 0-1 0-1 5 3 0 1 0zM509 335l-1-4 1-2 4 1 1 3zM517 334l1-4 0-1-4 0-1 1 1 3 1 1zM522 335l3 1 1-1 0-4-4-1zM474 340l-1-3-2-2-1 5 3 1zM483 339l-3-4-1 0-1 5 3 1zM507 336l-3 0-1 0-1 1 0 2 1 1 1 1zM508 336l-1 0-3 5 2 2 2-1zM515 337l-1 1-4-1-1-1 0-1 5-2 1 1zM516 338l3 2 1 0 0-5zM536 338l0-2-2 0-1 3zM545 335l-1-1-2 1 0 1 0 2 4 1zM549 335l1 3-4 1-1-4zM433 343l-1 0 2-4 5-1 0 6-1 1zM446 338l-5-2-2 2 0 6 2 0 5-4zM478 340l0 4-1 0-4-2 0-1 1-1zM509 336l1 1 1 5-3 0 0-6zM531 339l0-1-6 0 0 2 3 3 1 0zM533 339l2 5-2 0-4-1 2-4zM533 339l3-1 1 2-2 4zM550 338l-4 1-1 4 3 0 2-4zM337 342l1 0 0 1 0 3-1 2-2 0-3 1-3-3 1-3zM455 344l-1 5-4 1-2-5 5-3zM470 345l-4-3 0 1 1 3 3 1zM475 347l-2-4 0-1 4 2-1 3zM478 344l-1 0-1 3 1 1 4 1 1-1-2-4zM512 342l2 0 0 1-1 4-3-1zM540 348l1-4 1-1 2 0 1 3-1 2-2 2-1-1zM340 353l-3-5 1-2 5 2zM340 353l3 1 2-4-1-3-1 1zM461 345l-2 5 1 0 4 0 0-2zM470 347l0 1 0 2-1 1-4 1-1-2 0-2 3-2zM470 348l4 0 1 4-2 1-3-3zM474 348l1-1 1 0 1 1 0 4-2 0zM478 353l3-4-4-1 0 4zM489 347l1 4-1 1-3 0 0-5zM508 347l0 1 2 3 3 0 1-2-1-2-3-1zM517 348l-3 1-1 2 3 2 2-2zM518 346l-1 2 1 3 2 0 1-3zM524 347l-3 1-1 3 1 0 4-1zM529 351l1-4-1-1-4 4 1 1zM345 355l-2-1 2-4 2 2-1 3zM430 353l-1-1-4-1 0 2 2 4zM457 350l2 0 1 0 0 5-1 1-1 0-2-2zM465 355l-5 0 0-5 4 0 1 2zM465 355l5 2 0-1-1-5-4 1zM474 354l-1-1-3-3-1 1 1 5 3-1zM478 353l3-4 2 2-3 4-2-1zM485 353l-2-2-3 4 2 2 3-3zM486 352l-1 1 0 1 2 2 2-1 0-3zM490 351l2 0 2 3 0 1 0 1-3 0-2-1 0-3zM494 355l5 0-2-4-3 3zM505 352l-2-3-2 2 1 4 2 0 2-1zM510 351l-4 3 4 1zM512 356l-2 0 0-1 0-4 3 0-1 4zM525 353l-1 2-3-1 0-3 4-1 1 1zM423 361l-3-4 0-1 5-3 2 4zM430 353l-3 4 5 2 0-3zM436 358l-4 1 0-3 2-3 4 0 0 2zM444 361l0-1-6-5-2 3zM444 360l2-7 3-1 0 7-5 2zM453 355l1 4 0 1 3-1 1-3-2-2zM460 361l-3-2 1-3 1 0 2 2zM464 358l1-3-5 0-1 1 2 2zM470 358l-5 2-1-2 1-3 5 2zM470 358l0-1 0-1 3-1 2 3 0 1zM476 358l0-3-2-1-1 1 2 3zM476 358l0-3 2-1 2 1 2 2 0 1-1 0-3 2zM482 358l0-1 3-3 2 2 0 2-2 1zM487 356l0 2 2 1 2-3-2-1zM498 361l2-2 0-3-3 3 0 2zM513 360l-5 0-1-2 3-2 2 0zM521 354l3 1 1 3-5-3zM336 362l4 3 1 0 2-2 0-2-4-2-3 2zM348 362l1 4 5-6 0-1-1-1zM362 358l4 2-2 3-1 0-2-2zM448 365l2-1 1-4-2-1-5 2zM456 364l-2-4 0-1-3 1-1 4 3 2zM464 362l0 1-1 0-3-1 0-1 1-3 3 0 1 2zM470 358l1 4 2 1 2-4zM478 362l0-2-2-2-1 0 0 1-2 4 1 1zM513 360l-5 0 2 4 3-2zM162 368l-1-5 4 0 2 3 0 2-4 2zM348 368l0-1-5-4-2 2 1 3zM361 361l2 2-5 4-1 0-1-6zM401 362l1 3-1 3-3 2-4-3 0-5 1-1zM414 363l6 3-5 6-3-8zM429 367l-3-1 5-5 5 4-1 2zM456 364l-3 2 0 4 2 0 3-4-1-2zM470 362l-6 0 0 1 3 4 1 0zM472 370l-4-3 2-5 1 0 2 1 1 1 0 3zM485 364l1 4-4-1 0-3zM524 368l-3-1-1-1 0-1 1 0 4-3 2 2-2 4zM29 374l2-2 0-1-3 2zM51 372l0-2-3 0zM51 372l1 2 1 0 3-3-1-1-4 0zM177 371l-1-3-2-1-3 5 3 1zM180 372l3-4-1-3-2 0-4 3 1 3zM366 367l0 3 2 1 5 2 2-4-3-4zM436 369l-1-2-6 0 4 5zM458 370l-3 0 3-4 3 2zM472 370l-2 2-6-2 3-3 1 0zM477 373l-2 0-3-3 2-3 3 0 0 1 1 5zM486 368l1 3-5-1-1-1 1-2zM551 367l-3-1-2 0 0 1 1 4 1 0zM562 374l1-3-4-3-1 1 0 1 1 2zM566 368l-1 1 2 4 3-2-1-3-1-1zM24 376l3 1 2-2 0-1-1-1zM31 372l-2 2 0 1 5 3 4-7-1 0-1 0zM43 374l2-1 0-1-1-1-7 0 1 0 0 1zM60 377l1 0-3-5-2-1-3 3zM345 377l1-1 1-4-5 0-2 1 2 2zM347 372l1-1 2 0 2 5-5 1-1-1zM433 373l0 1-1 2-2 0-6-2 1-8 1 0 3 1 4 5zM444 369l2 0 2 2-1 3-6 2 1-5zM450 380l4-6-1-3-5 0-1 3zM475 373l0 1-6 2 1-4 2-2zM541 374l0-2-1-1-4 1 2 2zM554 370l1 1-1 2-2 1-3-3zM556 376l3-4-1-2-3 1-1 2zM565 369l-2 2-1 3 4 1 1-2zM566 375l4 1 1-3 1-1-1-1-1 0-3 2zM169 375l1 3 6 0 0-1-2-4-3-1zM347 377l5-1 1 0-3 6 0 1-2 0zM385 374l-1 0-1 0 0 1 2 4 3 1 1 0-1-3zM393 379l-3 2-1-1-1-3 5-3 2 0-1 4zM459 375l-5 6-3 0-1-1 4-6 4 0zM474 377l1-3-6 2 3 2zM477 373l1 2-1 4-3-2 1-3 0-1zM482 377l-2 3-2 0-1-1 1-4zM486 380l6-2-3-2-2-1-1 1zM494 373l2 3-3 4-1-2-3-2zM543 380l-4-1 0-1 2-3 4 1 0 3zM556 376l-2-3-2 1-1 2 0 2 3 1 1-1 1-1zM556 377l-1 1 3 1 1-1zM556 376l5-1 0 3-2 0-3-1zM561 375l1-1 4 1 0 4-1 1-4 0 0-2zM56 379l-5 6 3 1 3-1zM56 379l1 6 1 1 1-1 3-8-1 0-1 0zM73 383l5-3 2-3-8-5-4 4 4 7zM84 388l4-1 0-7-6-1 1 8zM358 383l-1-5 0-1 3-2 5 6zM421 380l0-4 3-1 3 7-2 1zM430 376l-1 6-2 0-3-7 0-1zM430 376l-1 6 3 3 2-6-2-3zM457 382l3-5 2 4 0 3-3 0zM472 381l-3 1-1 0-1-6 2 0 3 2zM486 380l6-2 1 2 0 2-2 1-5-2zM501 380l-5 3-1 0-2-1 0-2 3-4 1 0 1 0zM538 378l-3 0-2 2 3 4 1 0 2-5 0-1zM544 384l2-3-1-2-2 1-1 4 1 0zM546 381l3 2 1-4-5 0zM549 383l5-1 0-3-3-1-1 1zM559 378l-1 1-1 4 4-2 0-1 0-2zM561 380l4 0 1 4-1 0-2-1-2-2zM566 384l4-2 0-1-4-2-1 1zM40 381l1 1 1 2-7 3-2-4 3-3zM454 381l3 1 2 2-1 2-5 2-2-7zM484 383l1 2-2 4-3 0 0-4zM524 383l2 3-2 3-1 0-1-1 1-4zM543 384l0 4-5-1 0-3 4 0zM544 384l5 2-1 1-5 1 0-4zM544 384l5 2 0-3-3-2zM549 383l5-1 2 1-5 4-2-1zM561 381l-4 2 1 3 1 0 4-3zM77 387l-3-1-2 5 5-1zM463 395l2-1 1-7-1-1-5 6-1 1 1 0zM469 395l-4-1 1-7 4 1-1 5zM476 390l-7 3 1-5 2 0zM487 391l-2 0-1 0-1-2 2-4 4 2 1 0zM544 392l2-1-3-3-1 3zM24 392l-1-1-2 0 2 1 0 2 0-1zM37 393l-2 5-2-3 0-3 2-1 2 0zM49 397l-1 0-2-6 3-3 4 5zM72 391l0 2 0 1-7 1-1-3 2-4zM151 397l-1 1-4-2-2-4 0-2 2-3 9 7zM456 398l-4-7 1-1 0-1 6 4 1 0zM501 395l5 1 1 0-2-3-2 0-1 0zM559 392l1 2 3 1 2-1 1-3-5 0-2 0zM29 399l-6-6 0 1 1 4 5 2zM72 394l-2 4-4 0-1-1 0-2zM75 398l0-3-3-2 0 1-2 4 3 3zM75 398l0-3 4-3 4 1 1 2-1 2zM159 399l-4 2-4-4 4-3 2-1 2 2 0 3zM159 398l0-3 6 0-1 6zM165 395l-1 6 6-5-5-2zM501 396l0 3 3 1 2 0 0-4-5-1zM534 396l4-1 1 4-2 2-2-3zM73 404l-8 2 1-8 4 0 3 3zM159 399l-4 2 0 4 5-1zM159 399l1 5 2 1 3-1-1-3-5-3zM164 401l6-5 2 2-3 5-1 2-3-1zM470 398l-1 6 0 1 3 2 1-1 1-3-4-6zM485 402l3-4-5 0-2 2 2 2zM490 398l-2 0-3 4 3 2zM504 400l0 4 5-2 0-1-3-1zM40 402l-1-1-1-1-3-1-4 2 6 3 1 0zM79 407l-6-1 0-2 6-1zM83 401l-3 1-1 1 0 4 1 2 2-1zM160 404l-5 1-4 3 2 1 3 1 5-2 1-3zM178 407l-1 1-1 0-4-2 3-3 1-2 3 2zM498 405l-4 3-1-5 3 0zM73 406l0-2-8 2-1 1 2 3 6-2 1 2 1-1zM79 407l-6-1 1 3 1 1 3 1 2-2zM156 410l5-2 2 6 0 1-3-1zM165 404l3 1 0 1-5 8-2-6 1-3zM537 406l1 2-1 2-3-1 0-4zM142 411l7-3 0 6-5 3zM154 416l-1-7-2-1-2 0 0 6 2 4 1 0zM171 414l-3-8-5 8 0 1 1 1zM476 413l4 3 2-2-1-2-3-2-1 1zM507 415l0-3-2-1-1 1-2 4 2 0zM507 415l0-3 3-2 2 2-1 2-3 2zM62 421l2-2-4 0zM68 416l-2 2 3 3 2-3zM146 421l2-1 3-2-2-4-5 3 0 1zM157 417l0 4-4 1-1-4 2-2zM157 417l3-3 3 1 1 1 0 2-4 4-3-1zM172 419l1-1-2-4-7 2 0 2 3 3zM173 418l-2-4 8-1-3 5zM524 417l3 1 2-3-3-2zM45 423l1 3 4-1-1-4-3 0zM50 425l4-2 0-3-3 1-2 0zM54 423l0 1 7-1 1-2-2-2-6 1zM144 424l-6-5 1 5 2 2zM145 424l1-3-2-3-6 1 6 5zM152 418l-1 0-3 2 3 3 2-1zM173 421l5 5 1 0 3-5-6-3-3 0-1 1zM501 423l0-1 0-1 4 0 3 3-1 1zM517 425l-2-1-1-6 5 3zM535 422l1-2-3-4-2 4zM57 429l-3-5 0-1-4 2 2 4 4 1zM61 428l0-5-7 1 3 5zM145 424l1-3 4 3-1 3-2-1zM153 422l1 4-2 3-3-2 1-3 1-1zM161 425l-1-2-4 3 4 5zM168 426l5-5 5 5-5 2zM506 427l1-2-6-2 0 5 4 0zM506 427l1-2 1-1 1-1 4 2 0 1-4 3zM545 428l-5 0 3-5zM550 426l4 2 3-1 0-1-6-2zM551 423l3-2 3 2 0 3-6-2zM557 428l1 0 3 0 2-2-2-2-4-1 0 3 0 1zM566 421l1 1-3 4-1 0-2-2 1-1zM569 426l-3 2-2-2 3-4 3 2zM569 426l2 2 2 0 2-2-1-2-4 0zM45 432l4 0 0-1-3-4-3 2zM46 427l0-1 4-1 2 4-3 2zM131 428l-2-2-2 0-3 3 2 4 1-3 4-1zM135 427l4-3 2 2 0 5-1 1zM145 431l7 1 0-1 0-2-3-2-2-1zM152 429l0 2 8 1 0-1-4-5-2 0zM168 426l-5 6 6 0zM177 436l2-1 1-2 0-3-1-4-1 0-5 2-1 3zM554 428l3-1 0 1 0 2-2 2-2-1zM561 433l-3-5 3 0 2 4zM50 435l-1-3-4 0 0 2 1 1zM57 429l4-1 0 1 2 7-4 1zM102 433l3 7 3-4 0-1-4-3-2 0zM135 433l1 4 0 1 1 1 3-7-5 0zM140 432l3 5 4 0-2-6-4 0zM147 437l0 1 4-3 1-3-7-1zM156 438l-5-3 1-3 0-1 8 1zM170 437l-6 0-2-5 1 0 6 0 1 0zM469 432l4 5 0 1-5 1-2-4 0-3zM471 430l-2 2 4 5 3-4 1-3zM524 433l-3 4-1-1-3-4 4-1 3 0zM530 434l4-4 2 1-2 7-4-2zM537 431l2 6 3 1 1-4zM546 431l-8-1-1 1 6 3 1-1zM555 432l0 2 3 0-1-4zM557 428l1 0 3 5-1 1-2 0-1-4zM568 431l4 5 2-3-4-3zM140 432l-3 7 1 1 5-3zM141 444l-2-2-1-2 5-3 4 0 0 1 0 2-1 2zM460 433l0 1-6 6-1 0-1-3zM461 442l0-6-1-2-6 6zM478 435l-2-2-3 4 0 1 3 3 0 1 4-2zM483 435l1 0 2 4-2 3-4-2zM489 439l1-5-3-1-3 2 2 4zM516 439l-2-6-1 0-1 0-2 2-2 6 1 2 1 0 5-3zM517 432l-1 0-2 1 2 6 4-3zM523 439l-2-2-1-1-4 3 5 2zM524 440l3-2 0-1-3-4-3 4 2 2zM530 436l4 2 0 1-1 2-3 1-3-4 0-1zM63 436l0 6 3 3 3-5-1-4-1 0zM138 440l-1-1-1-1 2 5 1-1zM147 438l4-3 5 3-1 5-8-3zM156 438l-1 5 1 2 2 1 2-1 1-6zM165 443l-1-6-3 2-1 6 3 0zM467 441l1-2 5-1 3 3-5 5-1 0zM502 438l-4 5 3 1 8-1-1-2zM519 444l-4-4 1-1 5 2zM524 440l3-2 3 4-1 0-4 1zM102 442l-3 0-3 2 2 3 2 0 1-1zM147 449l-6-4 0-1 5-2 3 5 0 1zM149 447l7-2-1-2-8-3-1 2zM171 446l-6 4-2-5 2-2 3 0zM434 446l0-2-6-1 3 5zM461 442l-7-2-1 0-1 2 2 5 1 2zM510 444l-1 4-6 3-2-7 8-1 1 0zM519 444l-4-4-5 3 0 1 9 2zM519 444l2-3 2-2 1 1 1 3 0 4-2 1-4-2zM525 447l5-1-1-4-4 1zM534 444l-1-3-3 1-1 0 1 4 2 1 2-1zM62 451l-3-4-1 1zM62 451l-3-4 7-2 2 3-2 3zM69 448l4 6 3 1 1-2-4-6zM85 446l-2-1-4 2 1 4 5 1 0-5zM118 451l2 1 2-3-3-3-1 2zM122 449l3-4-1-1-4 0-1 2zM139 451l2-1 0-5 0-1-2-2-1 1 1 4-1 2zM147 449l-2 2-4-1 0-5zM160 450l-2-4-2-1 0 2 1 6zM162 452l3-1 0-1-2-5-3 0-2 1 2 4zM178 453l-1-3-1-3 6 0 1 1 1 2zM434 446l4 3 0 1-2 2-1 0zM452 453l-1 0-1 0-1-6 5 0 1 2zM483 451l1 0 2-7-2-1-4 4zM488 451l2-1-2-5-2-1-2 7zM495 452l-4-1 0-1 5-7 1 0 0 7zM516 449l3-3-9-2-1 4 3 4 2 0zM519 446l-3 3 6 3 2-3-1-1zM73 454l-4-6-1 0-2 3 0 4 2 2zM146 454l4 1 1-4-2-3-2 1-2 2zM157 453l-1-6-2 4 2 4zM431 451l-1 7-6-2 1-5 5-1zM431 451l-1 7 1 1 2-1 1-6zM435 452l1 0 1 3-2 3-2 0 1-6zM446 450l-3 1-1 2 5 1 3 1 1-2-1 0zM460 451l6 0 0 1-3 3-3-3zM478 455l-6-1 0-1 6-2 0 1zM496 455l-1 1-4 0 0-5 4 1zM502 455l2 3 6 0 1-1 1-5-3-4-6 3 0 1zM521 454l-5-1-2-1 2-3 6 3zM77 458l-1-3-3-1-5 3 3 3 3 1zM140 459l1-1 0-3-2-3-1 0-1 5 1 0zM146 454l-1 4-4 0 0-3zM146 454l4 1 4 5-9-1 0-1zM449 457l1-2-3-1-5 3 0 1 5 1zM502 455l2 3-6 4-3-2 0-4 1-1zM514 452l-2 0-1 5 3 2 3-2-1-4zM521 454l1 4-5-1-1-4zM81 465l1-2-2-4-3-1-3 3 6 4zM86 461l0 1-4 1-2-4 3-2zM99 458l-4 7 0 1 6-2 2-5-2-2zM138 457l1 4 1-1 0-1zM145 458l0 1-1 4-4-3 0-1 1-1zM145 459l9 1 1 1-8 6-2 0-1-4zM435 458l-2 0 2 4 4 1-3-5zM491 464l5 2 1-3 1-1-3-2-1 0-3 3zM504 461l0-3-6 4-1 1 6 2zM510 466l0-1 0-7-6 0 0 3zM88 463l-2-1-4 1-1 2 0 1 1 0 3 2 2-2zM95 465l-3-2-4 0-1 3 0 1 8-1zM435 462l-5 3 4 2zM439 463l1 0 1 2-7 2 1-5zM505 470l4-2 1-2-6-5-1 4 1 4zM516 466l-1-4-5 3 0 1zM517 467l1 0 3-6-6 0 0 1 1 4zM429 472l-1-4-8-1-1 1 5 4zM429 473l0-1-1-4 2-3 4 2 0 1zM441 465l-7 2 2 3 6 0zM517 467l-5 4-3-3 1-2 6 0zM148 473l1-2-2-4-2 0-4 2 1 2 1 4zM500 474l1 2 2 1 4-3-2-4-1-1-5 3zM503 477l4-3 1 1-2 4zM509 476l-1-1-2 4 1 1 1 0 4-3zM419 482l2-3 6 3 1 4-6 1-1-1zM433 484l0-6 1-1 2-1 2 1 1 7zM439 484l-1-7 6-2-3 9zM144 485l4 5 2-2 0-6-3-1-3 1 0 2zM443 490l1-5-3-1-2 0-1 5 1 1 1 1zM434 493l-4-2 0-4 1 0 5 5zM436 492l-5-5 1-1 6 3 1 1zM277 498l-3-2 0-8 1-1 4 9zM280 496l-1 0-4-9 3-2 2-1 3 11zM307 496l-1-8-2 0-2 8 3 0zM308 496l3 0 0-4-4-4-1 0 1 8zM314 497l1-5-4 0 0 4 2 1zM321 496l4-2-2-5-4-3 1 9zM331 490l-8-1 2 5 5-1zM331 490l4 5-1 1-3 0-1-3zM331 490l3-3 3 1 0 6-1 1-1 0zM350 495l-7 2-1-3 1-3 6 1zM416 491l2 7 1 0 2-5-3-3zM428 495l-4-1 0-3 5 1zM434 495l-4 2-1-1-1-1 1-3 1-1 4 2zM277 499l-5 1-1 0 0-3 3-1 3 2zM277 498l2-2 1 0 2 4zM285 500l1-1-1-3-2-1-3 1 2 4zM291 496l-3-4-3 4 1 3 2 0zM294 499l1 2 3 0 1 0-3-4-2 0zM296 497l3 4 2-3 1-2-4-2zM313 497l-2-1-3 0 0 3 2 1zM321 498l0-2-1-1-2 0 0 1 1 3zM321 498l0-2 4-2 1 4-4 1zM330 493l-5 1 1 4 2 1 2-1 1-2zM335 495l1 0 1 3-2 1-1 0 0-3zM349 498l1-2 0-1-7 2 2 3zM429 496l-6 3 0-1 1-4 4 1zM435 496l0 3-3 1-1-1-1-1 0-1 4-2zM440 496l-5 0 0 3 4 2 3 0 0-2zM452 499l-5-3-4 5 1 1 7 1zM454 497l-2 2-5-3 0-4 2-1 3 1zM278 503l-1-4-5 1 2 3 3 0zM289 501l1 2 0 1-4 1-1-5 1-1 2 0zM294 499l1 2-1 1-4 1-1-2zM295 501l3 0-3 3-1-2zM300 502l-1-1 2-3 5 2 0 1 0 1zM326 503l2-4 2-1 1 1 1 4-1 1zM335 499l-1 0-3 0 1 4 0 1 3-2zM336 504l-1-2 0-3 2-1 2 1-1 3zM345 500l-2-3-4 2 3 4zM349 502l-2 1-2-3 4-2zM397 503l1-4 1-1 1 0 1 1 1 4zM406 498l-1 4 5 0 3-1-2-2zM433 502l-4 2 0-1 2-4 1 1zM474 498l0 1 0 3 3 1 6-5 0-1-3-2zM277 503l-3 0-1 1 0 2 3 0 1 0zM286 505l4-1 1 3-2 2-2-1-2-2zM294 502l1 2 0 3-1 0-3 0-1-3 0-1zM300 502l-3 5-2 0 0-3 3-3 1 0zM300 502l3 3 2 1 1-1 1-1-1-2zM311 504l-4 0-1 1 2 4 4-1 1-1-1-3zM341 506l-5 0 0-2 2-2 3 3 1 1zM349 502l1 0 0 5-2 0-1-2 0-2zM350 502l3 0 1 1-3 4-1 0zM442 509l-2-2 2-6 1 0 1 1 1 4zM271 508l5 3-4 1-1-1zM277 506l-1 0 1 4 4 0 1-3zM283 506l2 0 2 2-4 4-1 0-1-2 1-3zM289 509l-1 3-4 1-1-1 4-4zM295 507l-1 0 0 4 3 0 0-4zM298 513l-1-2 0-4 3 2 1 1zM303 505l-3 4 1 1 3 1 1-5zM306 505l2 4-2 2-1 0-1 0 1-5zM313 511l-1 3-3 0-1 0-2-3 2-2 4-1zM323 509l-1-2-3-2-2 1 1 5 4 1zM326 504l-4 3 1 2 5-2zM330 508l-2 2-2 2-4 0 1-3 5-2zM334 514l0-6-4 0 3 6zM338 511l-1 1-3 2 0-6 1-1zM341 506l0 4-3 1-3-4 1 0 0-1zM341 506l0 4 1 0 5 0 1-3-1-2-5 1zM443 513l3 1 2-5-3-3-3 3zM446 514l1 1 2 1 3-1 2-1 0-4-3-3-3 2zM276 515l-4-1 0-2 4-1 1 4zM289 514l-4 3-1-4 4-1zM292 515l-3-1-1-2 1-3 4 3 0 3zM293 515l4 0 1-2-1-2-3 0-1 1zM305 516l3-2-2-3-1 0-4 5 1 1zM318 511l4 1-3 3-2-1 0-3zM326 512l-4 0 2 4 2 1 2-1zM331 516l-3-6-2 2 2 4zM333 514l-2 2-3-6 2-2zM334 514l3-2 2 4 0 2-6-4zM347 511l0-1-5 0 1 4 2 1 2-1zM396 513l2 1 3 1-1-5-3-1zM410 513l-5-1-2 4 3 1 4-3zM410 513l0 1 1 2 3 1 1-1 1-2-5-1zM417 512l6 0-2 5-4-4zM269 521l3-3-2-2-1 0-3 0 0 2 2 2zM276 515l-4-1-2 2 2 2 1 1zM276 515l-3 4 1 1 4 0 1-1zM292 515l3 5 2 0 0-5-4 0zM306 521l3-2 0-5-1 0-3 2zM309 514l3 0 2 2 1 3-2 2-4-2zM319 515l-1 5-3-1-1-3 3-2zM320 521l-2-1 1-5 3-3 2 4-3 4zM339 518l0-2 4-2 2 1 0 4-2 0zM411 516l-1 3 2 3 1 0 1-5zM435 517l-6-2-1 7 2 1 1-1zM440 518l3-5-1 0-6 1-1 3 1 1zM268 520l-2-2-4 4 3 2zM266 525l-1-1 3-4 1 1 0 1-2 3zM269 521l3-3 1 1 1 1 0 4-1 0-1 0-3-2zM274 524l0-4 4 0 0 4zM279 524l-1 0 0-4 1-1 2 0 1 0 0 4-1 0zM292 515l-4 5 2 1 1 1 4-2zM297 520l-2 0-4 2 1 2 6-3zM305 523l-5-5-3 2 1 1 0 2 3 1zM306 521l3-2 4 2-2 3-5-1-1 0zM325 525l-5-3 0-1 1-1 5 0 1 4zM329 525l1 0 0-1-1-4-3 0 1 4zM332 524l-2 0-1-4 3-2 1 2 0 3zM333 523l0-3 5-1 1 5-1 0zM339 518l4 1-2 5-2 0-1-5zM343 525l3-4-1-2-2 0-2 5zM405 522l-3 1 0-6 0-1 1 0 3 1 0 1zM407 524l-2-2 1-4 4 1 2 3-3 2zM421 525l1-2-3-4-1 0 0 4zM438 523l-3 0-4-1 4-5 1 1zM446 523l-1-4 2-4 2 1 1 2-2 5zM269 528l3 1 3-1-2-4-1 0-3 3zM279 524l-1 0-4 0-1 0 2 4 2 1 2-1zM281 523l1 0 4 0 1 5-2 0zM301 524l-3-1-3 3 1 1 5 1zM302 529l3-2 1-2 0-2-1 0-4 1 0 4 0 1zM313 521l2 5-2 2-2-1 0-3zM320 522l0-1-2-1-3-1-2 2 2 5 3 0zM324 528l-2 0-2-6 5 3zM340 529l4-1-1-3-2-1-2 0zM348 523l-3 5-1 0-1-3 3-4zM348 523l-3 5 1 2 4-4zM348 523l2 3 2 0 0-3-3 0zM414 523l-1 3-2 2-2-4 3-2 1 0zM421 525l-3-2-3 1 2 3 3-1zM421 525l1-2 4-1 1 0-2 6-3 0-2-2zM425 528l4 3 2-5-1-3-2-1-1 0zM264 529l-5 2 1 1 4 1 1-2zM279 528l-2 1 1 1 1 1 6-3zM300 530l1-1 0-1-5-1 0 1zM310 533l3-5-2-1-2 0-2 3 1 2zM320 531l-2 0 1-3 3 0zM325 529l-3 4-2-2 2-3 2 0zM353 528l4-2 1 4-4 1-1-2zM420 526l2 2-4 3-1 0-1-3 1-1zM422 528l3 0 4 3-2 2-4 0zM257 529l2 2 1 1 0 3-1 1-4 1 1-7 0-1zM260 535l0-3 4 1 1 1zM265 531l-1 2 1 1 1 2 2-1 1-3-1-2zM273 533l3-1 1 4-3 2-1-1-1-2zM279 531l-1-1-2 2 1 4 1 0 4-1 0-1zM285 528l2 0 1 1-3 7-3-1 0-1zM290 535l-4 1-1 0 3-7 1 0 2 2zM290 535l6 1 1 0-3-5-3 0zM298 531l0 4-1 1-3-5 1-1zM298 531l0 4 2 1 2-2 0-3 0-2-1 0-1 1zM310 533l0 1 3 0 2-4-2-2zM318 531l-3-1-2 4 3 1 1-1zM322 533l0 1-2 2-3-2 1-3 2 0zM330 532l0 3 1 1 3 0 2-2-3-3zM339 530l1-1 5 5-1 0-5-3zM360 531l-3 4-3-2 0-2 4-1zM380 535l4 1 1-1-2-4-2 1zM395 535l-4 1-2-2 0-2 4-2zM400 537l-2-1-2-1 2-5 1 0 1 2zM409 534l4 0 1-2-2-2-2-1-1 1-1 1zM417 531l-3 1-1 2 5 1 1-1-1-3zM422 528l1 5-1 1-3 0-1-3zM259 536l-4 1-3 3 1 1 9 0 0-3zM272 535l1 2-6 1-1-2 2-1zM274 538l-1 1 0 1-2 1-4-2 0-1 6-1zM302 534l2 0 1 2 0 2-1 2-3 0-1-4zM317 539l-3 1-2-2 4-2zM325 535l-3-1-2 2 0 3 1 1 4-1 1-1 0-2zM345 534l1 2-2 3-3-1 1-3 2-1zM358 538l-1-3-3-2-2 2-1 2 3 2zM360 538l-2 0-1-3 3-4 2 4zM390 540l1-4 4-1-1 4zM396 535l2 1-2 5-2-2 1-4zM401 537l-4 5-1-1 2-5 2 1zM271 541l-4-2-1 2 3 3zM279 544l-5 1-1-5 0-1 5 2zM285 541l-3-5 0 3 1 3 1 0 1 0zM290 543l-5-1 0-1 1-3 4 2zM301 540l3 0 3 3-2 2 0 1-3-1zM318 539l-1 5-4-2 1-2 3-1zM325 539l2 4-1 1-4 1-1-1 0-4zM358 538l-4 1 0 5 2 1 4-2zM362 539l-1 4-1 0-2-5 2 0zM362 539l-1 4 5-2-1-3zM396 541l-2 2-2 0-3-3 1 0 4-1zM422 539l-1 4-3 0 0-4 4-1zM261 546l-3 3-4-2 0-4 6 1zM263 547l-2-1-1-2 2-3 2 1 1 4zM269 544l-3-3-2 1 1 4 2 2 2-2zM278 548l1-4-5 1-1 1 0 2zM278 548l1-4 3 0 1 3-1 1zM290 543l-5-1-1 0 2 4 3-2zM290 543l-1 1 2 4 3 2 2-6 0-1-1 0zM298 545l-2-1 0-1 5-3 1 5-2 1zM311 546l-2 1-3-1-1-1 2-2 2-1 2 1 0 1zM315 546l1 0 1-2-4-2-2 1 0 1zM339 544l-1 1 0 1 2 2 4-2-1-3-1 0zM346 549l-2-3-1-3 1 0 4 0 2 2zM391 546l1-3 2 0 1 4zM262 552l1-5-2-1-3 3 2 3zM262 552l1-5 2-1 2 2 0 2-2 1zM273 551l-2 1-4-2 0-2 2-2 4 0 0 2zM277 552l1 0 0-4-5 0 0 3 1 1zM281 552l2-1-1-3-4 0 0 4zM289 544l-3 2 0 1 1 2 1 1 3-2zM313 550l0 1-2 1-1-1-1-4 2-1zM321 551l1-4 0-2-4 3 0 1zM330 546l-4-2 0 5 3 1zM333 546l1 5-3 1-2-2 1-4 1 0zM333 546l1 5 2 0 2-5 0-1-4 0zM338 552l-2-1 2-5 2 2 1 3zM412 547l-3-1 1 6 1 0 2-3zM262 552l-2 0-3 4 1 0 4 1 1-1zM267 556l-4 0-1-4 3-1zM277 557l1-2-1-3-3 0 0 4 2 1zM278 555l4 1-1-4-3 0-1 0zM286 555l-2-4 3-2 1 1 2 3-2 1zM288 554l2-1 2-1 2 4-3 1zM325 550l1-1 3 1 2 2 0 1-6 2-1-4zM337 556l1-1 0-3-2-1-2 0-3 1 0 1 1 2 0 1zM341 557l1-6-1 0-3 1 0 3zM345 557l0-1-1-5-2 0-1 6 1 0zM395 551l-4-1-2 1 1 3 1 1zM258 556l3 6 2-2-1-3zM266 559l-1 1-2 0-1-3 1-1 4 0zM276 557l-1 1-4 1 0-2 3-1zM277 557l3 3-3 2-2-1 0-3 1-1zM282 561l-2-2 2-3 4 0 0 3zM332 556l0-1-4 4 4 1 1-1zM345 557l-4 5-1-2 2-3zM286 564l-3-2-1-1 4-2 1 3zM290 562l1-1 2 0 1 1-2 3zM321 564l0-3-2-2-2 0 0 3zM329 563l3-3-4-1-2 0 2 3zM335 562l4-2-2-2-3 3zM345 557l3 2-2 3-4 2-1-1 0-1zM385 564l-2-1-1-3 4-2 1 0-1 5zM273 564l1 2-6 2-1-1 1-1 2-4zM274 561l-1 3 1 2 1 1 2-1 0-3 0-1-2-1zM286 567l0-3-3-2-2 2 1 2 2 2 1 0zM289 562l-2 0-1 2 0 3 2 0 1 0zM289 562l0 5 2 0 1-2-2-3zM309 570l1 0 3-6-3-2-2 3zM331 567l-2 2-1 0-2 0-1-2 4-3zM335 562l-6 2 2 3zM338 565l-3-3-4 5 3 2 4-3zM268 568l0 1 5 5 2-7-1-1zM277 566l-2 1-2 7 1 3 4-3 1-4zM285 568l-1 0-3 1 2 4 2-2zM297 567l2 4-2 2-2-1-1-3zM297 567l2 4 3 0 0-3zM331 567l-2 2 1 5 3-2 1-2 0-1zM340 572l-2 1-4-3 0-1 4-3 3 5zM343 571l0-5-1-2-1-1-3 2 0 1 3 5zM285 571l-2 2 3 3 3-1 0-2zM297 573l1 2-1 1-5 0 3-4zM311 576l-2-5-3 2 4 4zM395 576l-3-4 5 0zM279 574l-1 0-4 3 2 3 7-2zM283 573l3 3 0 1-1 1-1 0-1 0-4-4zM289 575l1 6-4-4 0-1zM289 575l1 6 1 1 2-1-1-5zM298 575l3 0-1 5-1 0-1 0-1-4zM314 575l-1 1 2 3 3 0 1-1-1-3 0-1zM334 579l4-3-1-2-2 1zM382 574l2 2 1 3-4 1-2-2 1-3zM397 572l-2 4 0 2 5-1 0-1-2-4zM284 578l-1 0-7 2 0 1 4 1zM285 578l0 5-2 0-3-1 4-4zM285 578l1-1 4 4-4 2-1 0zM300 580l-1 0 4 6 0-1-2-5zM318 579l-3 0-2 2 0 1 1 2 4-2zM381 580l4-1 0 5-1 0-3-3zM276 582l-4 4-8-2 0-1 0-3 10-3 2 3 0 1zM276 582l-4 4 0 4 1 1 4-5zM283 583l-1 4 1 1 3 1 1-2-1-4-1 0zM286 583l1 4 4 0 0-5-1-1zM293 581l3 1-2 5-3 0 0-5zM302 587l1-1-4-6-1 0-2 2 3 4zM325 586l2 2-2 2-3 1-2-2 0-2 4-2zM332 590l-1 0-3-2 2-6 2 0 3 4 0 1zM341 585l0-1-4 1-2 1 0 1 4 2 2-2zM380 583l1-2 3 3 0 3-4-1 0-1zM277 586l-4 5 0 1 5 0 0-1 0-4zM282 587l1 1-1 1-2 2-2 0 0-4zM284 594l-2-5 1-1 3 1 1 2zM291 591l0-4-4 0-1 2 1 2 2 1zM291 591l0-4 3 0 0 5-1 0zM301 588l1 3 5 0-3-4-2 0zM314 588l3 4 2-2zM343 593l-2 0-2-2 0-2 2-2 2 2 1 2zM278 594l0-2-5 0 0 1 2 5zM279 595l2 2 2-2 1 0-4-4-2 0 0 1 0 2zM283 595l1 0 0-1 3-3 2 1 0 4-5 0zM291 591l2 1 0 4-3 0-1 0 0-4zM297 592l1 2-3 3-2-1 0-4 1 0 2 0zM301 588l1 3 0 3-4 0-1-2zM321 594l1-3 3-1 1 5-3 1zM326 595l4 1 1-6-3-2-1 0-2 2zM330 596l4-1 0-3-2-2-1 0zM279 595l2 2-2 2-1 1-2-1-1-1zM282 601l2-4 0-1-1-1-2 2-2 2zM305 597l-1-1-3 1 1 5 3-3zM309 600l0-4-4 1 0 2 2 2zM319 595l-1 3 4 1 1 0 0-3-2-2zM323 599l3-1 0-3-3 1zM330 596l4-1 1 2 1 1-5 3-1-1zM340 595l-3-1-2 3 1 1 3 1zM343 593l-2 0-1 2-1 4 5-3zM344 596l-5 3 0 1 6 0 1-1 0-1zM266 601l5-2 2 1-1 2zM277 604l-4 2-1-4 1-2 3-1 2 1zM280 605l3-2-1-2-3-2-1 1-1 4 2 1zM283 603l1 0 2-3-2-3-2 4zM290 600l4 0 1 3-1 1-4 0 0-1zM299 598l2-1 1 5-2 1-2-4zM307 603l-5-1 3-3 2 2zM311 601l-2-1-2 1 0 2 0 1 1 1 3-3zM317 603l-1 0-4-3 1-3 4 2zM339 599l-3-1-5 3 8 2 0-3zM345 600l0 4-3 1-1 0-2-2 0-3zM359 597l3 1-1 4-2 0-2-2zM279 606l0-1-2-1-4 2 4 3zM281 611l1 1 0-1 1-3-3-3-1 0 0 1zM285 604l5-1 0 1-1 3-1 0-3-1zM299 603l-2 4 0 3 4-6-1-1zM307 604l-3 4-1 0-2-4-1-1 2-1 5 1zM307 609l-3-1 3-4 1 1 2 1zM279 611l-2 1-5-3 0-2 1-1 4 3zM281 611l-2-5-2 3 2 2zM283 608l2-2 3 1-6 4zM282 612l0 1 6-2 0-4-6 4zM297 607l-3-2-2 4 1 2 4 0 0-1zM301 604l2 4-1 2-5 0zM308 611l-2 2-3-2-1-1 1-2 1 0 3 1zM308 611l-1-2 3-3 3 0 1 2-5 3zM322 606l1 0 0 5-3 0 0-1-1-2 1-1zM330 608l3 2 2-2 0-1-1-1zM333 610l2-2 4 3-1 1-5-1zM281 611l1 1 0 1 0 1 0 1-4 2-2-3 1-2 2-1zM297 611l-4 0-2 3 1 3 2 1 3-5zM302 610l1 1-1 4-2 0-3-2 0-2 0-1zM308 611l-2 2 0 2 5-1-2-3zM316 612l1 2-3 3-1 0-1-1-1-2 3-3zM320 610l-4 2 1 2 2 1 1 0 0-4zM325 613l4-1 1 1-2 2-2-1zM332 613l1 3 1 0 3-2 1-1 0-1-5-1zM276 614l2 3-1 3-2 1-3-3 2-3zM282 615l1 5 1 1 1 0 3-2-2-4-4-1zM288 619l2-1 2-1-1-3-1-1-4 2zM304 618l-2-3-2 0-2 3 4 2zM317 618l-3-1 3-3 2 1zM318 620l4-4-2-1-1 0-2 3zM326 614l0 5 3 0 1 0-2-4zM295 625l2-4-1-2-2-1-2 5zM301 622l-1 1-3-2-1-2 2-1 4 2zM305 618l-1 0-2 2-1 2 2 2 4-2zM318 620l0 2 3-1 2-2-1-3zM326 622l0-2 0-1 3 0 2 3-2 2zM330 619l-1 0 2 3 2 1 1 0 1-6-1-1-1 0zM295 627l3 0 1-1 1-3-3-2-2 4zM303 628l-4-2 1-3 1-1 2 2 1 3zM306 628l-2-1-1-3 4-2 1 1-1 5zM310 623l-1-1-1 1-1 5 1 0 4-2zM313 627l-1-1-2-3 3-2 3 2-2 3zM327 627l-2 2-3-3 1-2 2 0zM327 627l2-3-3-2-1 2zM327 627l3 1 3-4 0-1-2-1-2 2zM334 623l-1 0 0 1 2 4 3-2 0-2 0-1zM294 628l1 3 3 1 2-1-2-4-3 0zM302 633l-2-1 3-4 1-1 2 1-1 3zM311 631l-3-3-1 0-1 0 4 5zM313 630l0-3-1-1-4 2 3 3zM318 628l0 3 4 1 2-1-5-3zM319 628l1-1 2-1 3 3 0 2-1 0zM334 630l-3 1-1-3 3-4 2 4zM338 632l-4-2 1-2 3-2 2 5zM302 633l-2-1 0-1-2 1 0 5zM302 633l3-2 4 3-3 2-2 0zM305 631l1-3 4 5 0 1-1 0zM314 631l0 3-4 0 0-1 1-2 2-1zM314 631l3 0 0 5-3-2zM332 635l-1-3-4 0-1 3 1 1 2 0zM332 635l-1-3 0-1 3-1 4 2-1 6-1 0-2-1zM340 631l-2 1-1 6 3 0 1-1 0-3zM302 633l-4 4 1 2 2 0 3-3zM304 636l-3 3 2 2 3-1 1 0-1-4zM317 636l-3-2-4 0 1 3 1 1zM317 636l1 1-1 1-5 1 0-1zM317 636l5-1 1 1 0 2-2 2-3-3zM329 636l-2 0 0 5 1 0 2-2zM296 643l1-2 2-2 2 0 2 2 0 1-3 3zM305 645l-2-3 0-1 3-1 2 4zM312 639l1 3-1 1-3-3 2-3 1 1zM318 637l3 3 0 3-1 1-3 0-2-1 2-5zM294 643l2 0 0 3-3 2 0-1zM296 643l4 2 1 3-4 0-1-2zM310 648l3 0 3-1 1-3-2-1-2-1-1 1-2 2zM274 650l-2-3-3 2-1 1 1 3 4 0zM296 646l-3 2 0 2 1 1 2 0 1-3zM297 648l-1 3 2 1 4 0 0-1 0-3-1 0zM304 647l-1 1 6 2 1-2zM309 650l2 3 3 0 0-1-1-4-3 0zM316 647l-3 1 1 4 3-2 0-1zM317 649l0 1 2 1 2 0 2-4-1 0zM274 650l-1 3 0 3 4 1 1 0 0-1-2-6zM284 652l-4 0 0 2 3 1 1 0zM284 652l3-1 1 0 2 4-4 2-2-2zM298 652l-1 3-3-1 0-3 2 0zM302 652l-1 3-4 0 1-3zM315 657l-4-1 0-1 0-2 3 0 2 2zM314 652l0 1 2 2 1 0 2-4-2-1zM321 651l-2 0-2 4 5 1 0-1zM321 651l5 1-1 2-3 1zM326 652l1 0 3 1 0 1 0 1-3 1-2-2zM340 651l-2 4-3-2 0-1 4-1zM278 657l2 2 3-4-3-1-2 2zM289 660l2-2-1-3-4 2zM293 654l2 5-4-1-1-3zM293 654l1 0 3 1 0 5-2-1zM297 655l4 0-2 4-1 1-1 0zM306 656l-1 2 6 0 0-2 0-1zM315 657l-4-1 0 2 0 1 2 1 2-2zM317 655l5 1 0 1-3 1zM322 655l0 1 0 1 0 1 4 0 1-2-2-2zM326 658l2 2 1-1 1-4-3 1zM278 657l2 2-4 2 1-4zM289 663l-3 0-2-1 2-5 3 3zM289 663l1 0 1 0 4-4-4-1-2 2zM291 663l4-4 2 1 1 0 0 2-1 1-3 3zM306 663l5-4 0-1-6 0 0 1 1 3zM313 660l-2-1-5 4 1 0 5 1 1-3zM315 658l-2 2 0 1 5 1 0-3zM318 659l0 3 1 1 3-2 0-3 0-1-3 1zM325 662l1-4-4 0 0 3zM277 666l1-3-2 0-3 4zM289 663l1 0-1 2-3 3 0-5zM289 665l1 3 3 0 1-2-3-3-1 0zM299 666l-2-3-3 3 4 2zM299 666l-2-3 1-1 3 1 1 4zM311 666l1-2-5-1-1 4 1 1 2 0zM313 670l2-3-3-3-1 2zM325 662l1 2-2 2-5-3 3-2zM327 669l2-5-1-1-2 1-2 2 0 1zM332 666l-1 0-2-2-1-1 4-2 2 3zM336 670l0-6-2 0-2 2 2 4zM279 669l3-3 0 1 0 5zM290 668l-2 2 2 2 4-1-1-3zM298 670l0-2-4-2-1 2 1 3zM313 670l2-3 3 3-3 3-1 0-1-2zM328 670l3-4-2-2-2 5zM334 670l-1 1-3 0-2-1 3-4 1 0zM341 665l2 4-1 3-3-1-1-1zM279 669l3 3-1 1-3 1-2-3zM281 673l2 4 2-3 0-2-3 0zM300 674l-5-1 1 4 2 1 1-1 1-2zM321 672l-3 3-1 0-2-2 3-3 3 0zM327 672l-2 3-4-3 0-2 1-1zM330 671l0 4 4 0-1-4zM337 677l0-1 2-5-1-1-2 0-2 0-1 1 1 4 2 2zM294 681l3-1 1-2-2-1-4 1 0 1zM300 675l-1 2 2 2 3-4zM305 678l-3 4-1-3 3-4zM305 674l2-1 3 3-3 2-2 0-1-3zM314 680l3-5-2-2-1 0-4 3 2 4 1 0zM314 680l3-5 1 5zM318 680l-1-5 1 0 3 3-2 3zM325 677l1 1 5 1-1-4-5 1zM294 683l0-2-2-2-4 3 5 3zM307 678l1 4-1 1-4 1-1-1 0-1 3-4zM307 678l1 4 4-2-2-4zM313 680l-1 0-4 2-1 1 1 2 4 1 1-1 0-3zM314 680l4 0 1 1 1 1-2 2-5-2 0-2zM320 682l-1-1 2-3 2 3zM323 681l-2-3 4-1 1 1 0 3zM326 681l4 1 2-2-1-1-5-1zM335 683l-4 1-1-2 2-2 2-1zM313 682l0 3 5 3 0-4zM318 688l5 0 1-1-4-5-2 2zM320 682l4 5 1 0 1-6-3 0zM330 686l-1 1-2 0-2 0 1-6 4 1 1 2zM336 687l-2 0-4-1 1-2 4-1zM338 682l-3 1 1 4 1 0 1-2 1-2zM271 690l-2-4-6 3 2 3 3 1 3-2zM273 685l-3-1-1 2 2 4 6-1 0-1zM323 691l0-3 1-1 1 0 2 0 0 5-3 0zM327 693l0-1 0-5 2 0 2 4zM330 686l-1 1 2 4 3 2 0-1 0-5zM234 691l0 1 1 2 1 0 1 0 2-1-2-3zM246 687l2 8-1 1-5 1-2-4zM257 689l1-1 2 0 3 1-2 6-2-1zM277 689l-6 1 0 1 2 3 4 1 1-1zM318 695l-3-1-2-3 5-3 1 3zM324 692l3 0 0 1 0 3-2 1-2-4zM331 695l2-1 1-1-3-2-4 2zM319 695l-3 4-4 1 2-5 1-1 3 1zM319 695l3 4 0 1-4 1-2-2zM329 701l1-2-1-2-2-1-2 1-1 1 2 1zM236 699l1 1 0 1-1 2-1 0-3-4 0-1zM242 699l3 3-5 3-3-4 0-1zM275 699l-3 2 1 2 4 0 1-1 0-1-1-2zM315 705l3-1 0-3-2-2-4 1-1 2 2 2zM228 705l2 2 4-1 0-2-3-2zM240 705l-3-4-1 2 4 3zM270 705l3-2 4 0 0 4-2 0-5-1zM320 707l1 1 3-1 1-1-1-2-1-2-3 3zM329 701l1 2 0 1-1 2-4 0-1-2 2-1zM246 711l-6 0-1-1 0-2 6 1zM255 704l-2-1-2 5 0 2 3 0 1-3zM259 709l2 4 1 0 4-3-1-1-3-2zM266 711l3 1 3-2-2-4 0-1-5 4 1 1zM270 706l5 1-3 4 0-1zM275 707l-3 4 2 1 2-1 2-3-1-1zM319 707l1 0 1 1-1 3-5 0 1-3zM246 711l-1 4 5 2 1-2-2-4zM249 711l2-1 3 0 1 1 0 1-3 3-1 0zM256 717l-4-2 3-3 1 0 1 5zM257 717l1 0 2-4-4-1zM266 711l0 5-1 1-2-2-1-2 4-3zM245 715l2 6 3-3 0-1zM250 717l0 1 4 2 2-3-4-2-1 0zM266 716l4-1 2 2-1 2-4 3-2-4 0-1zM278 721l-5-4 1-1 4-1 1 3zM298 716l-3-3-2 2 2 3 2 0zM313 719l1-2 3-2 1 3-2 2zM247 721l-1 1 2 2 3-1-1-5zM250 718l4 2 1 2-2 2-2-1zM260 723l2 0-1-4-2-1-1 4zM262 723l-1-4 4-1 2 4-3 1zM274 724l-5 0-2-2 4-3 4 4zM317 723l-1-3 2-2 3 1 0 1 0 1-3 2zM324 725l-3-4 0-1 4-1 0 1zM325 726l0 1 2-1 1-6-3 0-1 5zM248 724l0 3 1 1 4-1 1 0-1-3-2-1zM253 724l2-2 3 0 2 1-2 4-4 0zM263 725l-2 2-3 0 2-4 2 0 2 0 0 2zM262 728l-1-1 2-2zM274 724l-5 0 0 2 4 3 1-1zM274 724l0 4 4 0 1-2-1-4-3 1zM285 723l0 1-1 2-5 0-1-4 3-1zM285 726l-1 0 1-2 4-2 2 2 0 2-2 3zM291 726l4 1-1-5-3 2zM298 727l-2 1-1-1-1-5 3 0 1 1zM308 729l-3-3 1-2 3 1 0 1zM315 726l-3-4-2 1-1 2 0 1 5 1zM325 726l-4 1-3-4 3-2 3 4zM248 731l1-3 4-1 0 4-1 1-2 0zM257 733l-4-2 0-4 1 0 4 0 1 3zM272 731l1-2-4-3 1 4zM273 732l5 0 1-1-1-3-4 0-1 1-1 2zM284 728l-4 3-1 0-1-3 1-2 5 0 1 0zM284 728l1 4 4-3-4-3zM291 731l5-3-1-1-4-1-2 3 1 2zM291 731l5-3 0 2-3 2zM296 730l0 1 5 0-1-3-2-1-2 1zM306 730l-3-3-1 0-2 1 1 3zM308 732l-2-2-3-3 2-1 3 3 1 2zM315 726l2 3-4 3-1-1 2-4zM318 729l0 2 4 0-1-4zM325 726l-4 1 1 4 1 1 2-1 0-4zM325 727l0 4 1 1 4 0 0-1-2-5-1 0zM261 735l0-5-2 0-2 3 0 1zM262 730l-1 0 0 5 3 0 1-1 1-3zM271 735l-3 2-3-3 1-3zM277 735l-5 0 1-3 5 0 0 1zM290 731l-1-2-4 3 0 2 1 1 4 0zM293 732l3-2 0 1 0 3-1 0zM302 735l6-3-2-2-5 1 0 3zM308 738l1-3-1-3-6 3 4 4zM308 732l1-1 3 0 1 1 1 2-1 2-4-1zM317 729l1 0 0 2 1 3-2 1-3-1-1-2zM322 731l-4 0 1 3 2 1 2-3zM323 732l-2 3 4 2 0-1 1-4-1-1zM326 732l4 0 0 1-5 3zM249 738l1-1 3 0 1 4 0 1-4-2zM254 741l-1-4 1-1 2 0 1 2zM266 739l-2-4 1-1 3 3-1 2zM270 741l-3-2 1-2 3-2 1 0 1 4zM277 735l-5 0 1 4 2 1 3-1zM277 735l1 4 3 0 0-2-3-4zM281 739l1 0 4-1 0-3-1-1-1 0-3 3zM291 735l-3 5-1 0-1-2 0-3 4 0zM291 735l-3 5 3 0 1-4zM301 740l-1 1-2-3 2-3 1-1zM308 738l1-3 4 1-1 2-2 1zM312 738l1 1 4 0 0-4-3-1-1 2zM322 741l-2-2 1-4 4 2 1 1-3 3zM262 741l-2-2-5 4 2 1 4-2zM281 739l1 0 1 3-1 4-3-2-1-5zM282 739l1 3 4-1 0-1-1-2zM289 744l3-1 0-2-1-1-3 0-1 0 0 1 1 3zM308 738l-2 1-1 1 1 1 4 2 0-4zM313 743l0-4 4 0 1 1-1 1zM319 743l-2-2 1-1 2-1 2 2-1 2zM333 741l-1 3-3 1-1-2 0-4 2 0zM261 742l-4 2 1 4 3 0 1-1 1-2zM263 745l-1 2 4 2 0-3-1-2zM269 746l0 1 4-2-3-2-1 1zM282 746l-4 2-3-2 4-2zM290 747l-1-3-1 0-3 3 2 2zM290 747l-1-3 3-1 2 1 0 3zM295 748l2 1 4-2-2-3zM306 741l-1 3 0 1 1 2 5-4-1 0zM313 744l-2-1-5 4 1 1 1 0 5-2 1 0zM318 746l0 1-4-1-1-2 0-1 4-2 2 2zM323 747l2-3-2-3-1 0-1 2zM323 747l2-3 3-1 1 2 0 2 0 1-3 1-1 0-1 0zM256 750l1 3 4-1 0-1 0-3-3 0-1 1zM266 749l-4-2-1 1 0 3 3 1zM269 747l4-2 1 0 1 1-3 5-2 0-1-1zM272 751l3-5 3 2 0 3-4 1zM282 749l0-3-4 2 0 3 1 1 1 0zM285 752l2-3-2-2-3-1 0 3zM290 747l-3 2 3 2zM294 747l1 1 2 1 0 3-1 1-2 1-3-3zM297 752l5-1-1-4-4 2zM305 745l-4 2 1 4 3 0 2-3-1-1zM314 746l-1 0 0 6 4 0 1 0 0-5zM323 747l1 2-4 4-2-1 0-5 0-1zM329 748l-3 1 3 4 2 0 1-3zM257 753l4 4 0-1 0-4zM261 756l4-3-1-1-3-1 0 1zM269 750l1 1-2 4-3-2-1-1 2-3zM270 758l-2-3 2-4 2 0 2 1 0 1zM285 755l-1 1-5-2 0-2 1 0zM285 755l2-1 3-3-3-2-2 3zM306 754l-2 2-2-2 0-3 3 0 0 1zM310 755l-4-1-1-2 5-1 2 2-1 2zM311 755l2 2 2 0 2-5-4 0-1 1zM324 749l-4 4 1 1 0 1 4 0 0-6zM325 749l1 0 3 4-3 3-1-1zM270 758l-3 3-4-2-1 0 6-4zM270 758l4-5 1 1-1 4-2 1zM284 756l-5-2-1 1 0 2 4 2 1 0zM296 753l3 2 0 4-6 0 1-5zM310 755l-2 5-3 0-1-1 0-1 0-2 2-2zM272 759l0 2 1 1 4 0 0-3-3-1zM277 762l2 0 3-3-4-2-1 2zM283 759l-1 0-3 3 3 5 1-7zM293 759l6 0 0 4-1 1-4-1zM304 759l-3 5 3 0 1-4zM305 760l-1 4 1 1 5-2-1-1-1-2zM315 757l2 1 1 2-2 2-2 0-1-4 0-1zM277 762l0 4-3 1-2-1 0-2 1-2zM277 762l2 0 3 5-1 1-4-2zM289 762l0 4-4-1 1-2zM292 766l2-3 4 1 0 2-2 2zM299 763l2 1 1 2-1 4-3-4 0-2zM265 766l-4 0-2 4 3 1 2-1zM269 771l1 1 4-1 0-1 0-3-2-1-3 3zM281 768l1-1 1 0 3 3 0 2-5 1-1-1zM293 774l-3-6 5 3zM296 771l0-3 2-2 3 4 0 1-1 1zM269 771l1 1 0 1-1 1-6 1-1-4 2-1zM274 777l1-4 0-1-1-1-4 1 0 1zM275 773l0-1 1 0 3 4-2 2zM287 774l2 0 1-6-4 2 0 2zM270 777l-3 2-3 0-1-3 0-1 6-1zM274 777l1-4 2 5-3 0zM293 774l-1 1 2 2 3 2 2-4zM299 775l-2 4 4 2 3-3zM306 777l-1 1-1 0-5-3 1-2 5 2zM311 777l-3 1 1 1 2 1 1-1 0-1zM243 782l1 0 2 2 2 0 0-6-5 3zM259 778l4-2 1 3-1 4zM263 783l3 1 3-1-2-4-3 0zM272 779l0 2-2 2-1 0-2-4 3-2zM274 778l3 0 1 1-1 3-3 0-2-1 0-2zM277 782l1-3 4 1 2 5-1 1zM291 783l1-1 0-1-4-2-1 1 0 3zM296 781l-4 1 2-5 3 2zM263 783l3 1-1 4 0 1-4-2-1-3zM271 785l-1-2-1 0-3 1-1 4 5 0zM273 786l1-4-2-1-2 2 1 2zM273 786l1-4 3 0-2 4-1 1zM275 786l3 2 1 0 4-2-6-4zM265 789l-4-2-1 1 2 4 4-1zM271 791l-2 2-3 0 0-2-1-2 0-1 5 0zM273 786l-2-1-1 3 1 3 2 0 1-4zM274 787l1-1 3 2-2 5-3-2zM284 785l-1 8-1 0-1 0-2-5 4-2zM284 785l-1 8 5-1zM288 786l2 5-1 1-1 0-4-7 1 0zM262 796l-1 0 0-3 1-1 4-1 0 2-1 2zM271 791l-2 2 2 3 2 0 3-2 0-1-3-2zM277 795l3-1 1-1-2-5-1 0-2 5 0 1zM266 800l1-1-2-4-3 1 1 4 2 1zM267 799l1 0 3-3-2-3-3 0-1 2zM277 795l3-1 2 4-1 1-3-3zM284 798l-2 0-2-4 1-1 1 0 2 3zM273 801l3 2 2-1-1-3zM278 802l2 0 1-3-3-3-1 3zM258 804l4 4 1-2-2-2-3-1zM265 801l0 5-2 0-2-2zM266 800l5 5-1 3-5-2 0-5zM273 801l-2 4-1 3 2 0 4-2 0-3z"/><path fill="#f8f4b8" d="M175 83l-1 1-2 2 11 4 2-6zM217 82l-6 0-1 4 2 4 5 0 2-3 0-3zM164 91l-3 2 2 0 1-1zM196 86l-2-3-2 1-3 6 3 3 4-6zM206 92l2 1 1 0 3-3-2-4-5 1zM220 96l-2-3-1-3 2-3 4 1-2 7zM240 89l-5 3 4 4 1 0 2-1zM217 101l-6-2-2 4 4 2 3-2zM163 111l-4-3 0 4zM238 105l-3 5 1 1 4 3 0-7zM162 117l-2-1 0 5 2-1 0-1zM163 123l-1-3-2 1 1 1 1 3zM168 128l1-2-6-3-1 2 1 4zM240 128l-3 0-2-2 0-2 2-2 7 0 0 1zM163 129l1 2 4 1 1-2-1-2zM231 136l-2-1-2-2 0-5 8-2 2 2 0 4zM169 130l-1 2 0 4 5 0 1-1-2-4zM222 139l-1-4 6-2 2 2-2 4-1 1zM258 139l-1 1-2-1-1-1 1-4 3 1zM261 139l4-6-5 1-2 1 0 4zM222 139l-2 3 0 2 2 0 4-4zM220 144l0 8 3-7-1-1zM238 149l5-7 3 1 0 4-4 3-3-1zM273 136l0-1 4-3 3 5 1 12-2 1-6-2zM194 147l-4 1 1 1 3 1zM220 152l3-1 3-5-3-1zM228 148l-2-2-3 5 2 1 3-3zM233 147l1 0 1 0 2 1 1 1 1 0-3 6-4-4zM249 149l-3-2-4 3 2 3 4-1zM251 155l-3-3 1-3 2 0 2 4zM266 155l1 4 4 3 4-3-1-1zM267 159l-7 4 1 0 10 0 0-1zM298 159l-2-1-3 1-1 1 0 2 6 3zM261 163l8 5 1 0 1-5zM275 159l3 0 0 7-6 3-2-1 1-5 0-1zM283 162l-3-2-2-1 0 7 2 5 1 0zM260 165l4 7 3-2 2-2-8-5-1 0zM258 167l3 6-4 1-2 0 0-5zM264 172l3-2 3 5-4 2-3-3zM269 168l-2 2 3 5 0 1 6-4-4-3-2-1zM287 168l3 1-2 5-3 1-2 0-2-4zM301 179l2-5-5-2-3 1 0 1 1 3 3 2zM270 176l0-1-4 2 0 4 4 0 1-2zM301 179l3 4 1 0 5-4-1-1-3 2-3-6zM310 179l3 2 1-2-1-3-3 2-1 0zM271 179l-1 2 3 3 5-3-4-3zM299 179l-5 7-3-4 0-1 5-4zM280 185l1-3-1-1-1 0-1 0-5 3 0 1 1 2 2 1zM327 190l1 1 1-1-2-1-2-1zM333 193l0 1 4 2 1 0-2-3-3-1zM271 203l-1-1-2-5 5-1 1 4 0 1-1 1zM308 192l3 2-1 3-6 2-3-1 0-3 5-3zM356 215l2-1 4-3-2-2-4 3zM310 224l2 0 2 4-2 2-2-2-1-4zM306 228l4 0 2 2 0 2-5 0zM338 232l2 3 2-5zM363 259l2 0-2-1zM369 264l8 1-3-2-4-2zM396 277l4 1 1-1-5-2zM429 288l5-1-6 0zM455 291l2 0 1 0-3-1zM457 291l2 6 2-3 0-2-3-1zM558 296l2-1-2-3-3 0 0 1zM460 299l5-3-1-2-3 0-2 3-1 1zM466 297l1 1 1 1 2-1 0-2-3-1zM477 299l-3-2-1 1 4 3 1-2zM557 299l5-3-2-1-2 1-3 3zM432 303l0-2-5-4-1 2 2 3zM446 305l2 1 3-2-2-4-1 0-1 0zM453 304l0-3-4-1 2 4zM458 298l-3 0-2 3 0 3 1 1 2 0 1-1zM473 303l0-5-2 0-1 0-2 1 0 1 2 3 2 1zM477 301l-4-3 0 5 5 1zM481 301l-3-2-1 2 1 3 1-1 1 0zM486 305l0-1-1-2-2-1-2 0-1 2 5 2zM555 303l0 1 1 0 4-2-3-3-2 0 1 3zM472 304l-2-1-2 3 1 1 3-1zM482 307l-2 2-2-2 0-3 1-1zM504 308l1-1-1 0-2-1-3 2zM554 307l5 0-3-3-1 0 0 1zM559 307l-3-3 4-2 2 1 0 2zM562 305l3 3 0-1 1-9-4 5zM578 309l1-1-1-4-2-1-3 4zM586 303l3 6 1-1 1-5-2 0-3-2zM590 308l3 0 2-2-2-2-2-1zM484 306l1 4-1 1-3-1-1-1 2-2zM505 311l4 0 1-3-4-1-1 0-1 1zM515 310l2 2 1-1 0-2-4 0zM520 310l-2-1 0 2zM526 311l-2 0 1 0zM559 307l-5 0 1 3 2 0zM557 310l2 1 3 1-3-5zM559 307l3 5 3-2 0-2-3-3zM565 308l0 2 2 1 4 0-3-5-3 1zM568 306l1-2 4 3-1 3-1 1zM578 312l-6-2 1-3 5 2 0 2zM578 311l0-2 1-1 1 0 3 3zM581 307l3 1 1 2-2 1-3-3zM588 310l-3 0-1-2 2-5 3 6zM593 308l2-2 2 0 1 1 0 3-1 2-2 0-1-1zM601 310l-3 0 0-3 3 1zM506 316l-3 1-1-3 2-2 3 3zM521 315l1-1 0-4-2 0-2 1-1 1 1 2zM528 311l0 3 6 0 0-2-4 0zM538 313l-4-1 0 2 5 2 2-1zM541 313l-3 0 3 2zM541 315l2 0 4-2-6 0zM549 313l1 1 4-1 0-2-1-1 0 2-5 1zM567 311l-2-1-3 2 0 2 1 0 3-1zM572 310l-1 1 5 4 2 0 0-3zM583 311l-5 0 0 1 0 3 1-1 0 1 4 0 0-1zM588 311l-1 3-4 0 0-3 2-1 3 0zM597 316l0-4-2 0-2 2 1 2zM558 319l1-1 0-2-3-2-1 0-2 4zM583 314l0 1 1 2 1 2 3-3-1-2zM594 316l-1-2-2 0-1 2 1 3 2 0zM598 319l-4 1-1-1 1-3 3 0zM598 319l3-1 1-3-5-3 0 4zM595 323l-1-3-1-1-2 0-1 3 2 1 2 0zM598 319l0 4-3 0-1-3zM553 324l-2-1-3 4 1 1 1 0 4-3zM446 327l-6-1-1 1 5 3 2-1zM436 330l1 0 1 2-6 4-1 0 0-4zM545 330l3 2 1 3-4 0-1-1 1-3zM453 340l-6-3 0-1 6-3 3 2zM549 335l1 3 3-1-1-4zM569 339l2 3 2-4-2-1zM545 343l1-4-4-1-2 2 2 3 2 0zM550 339l-2 4 1 1 3 0 1-1-1-3zM564 345l-2-2 0-1 1-2 2-1 2 3zM570 344l1-2-2-3-2 0-2 0 2 3zM537 347l-2-3-2 0-1 3 1 3 1-1zM539 348l1 0 1-4-6 0 2 3zM545 343l3 0 1 1-1 3-3-1-1-3zM548 347l1 2 4-1-1-4-3 0zM557 346l-4 2-1-4 1-1 4 0zM559 346l3-3 0-1-5 1 0 3zM564 345l-2-2-3 3 0 1 2 0 3-1zM510 351l-2-3-3 4 1 2zM539 348l-2 3-3-2 3-2zM539 348l1 0 1 1-3 4-1-2zM559 346l0 1 0 3-3 2-2-1-1-3 4-2zM474 354l-1-1 2-1 2 0 1 1 0 1-2 1zM501 351l1 4-2 1-1-1-2-4 0-1zM517 355l-1-2-3-2-1 4zM530 351l-1 0-3 0-1 2 4 4 0-1zM530 351l-1 5 3 0 2-1-2-4zM537 351l1 2 0 2-4 0-2-4 1-1 1-1zM551 355l-2-2 5-2 2 1-4 3 0 1zM489 359l2-3 3 0 0 1-1 4-3-1zM497 359l-3-2 0-1 0-1 5 0 1 1zM500 359l3 2 2-4-1-2-2 0-2 1zM506 354l-2 1 1 2 2 1 3-2 0-1zM518 356l0 2-5 2-1-4 0-1 5 0zM529 357l-1 1-3 1 0-1-1-3 1-2zM529 356l0 1-1 1 1 1 4 0-1-3zM532 356l1 3 2 1 3-3 0-1 0-1-4 0zM538 356l0 1 1 2 2 2 4-1 0-1-5-3zM551 355l-1 3-4-1 1-3 2-1zM554 360l-4-1 0-1 1-3 1 1 2 3zM552 355l0 1 2 3 2-1 0-1-1-1zM480 364l2 0-1-6-3 2 0 2zM485 364l0-5-3-1-1 0 1 6zM485 364l4-1 1-3-1-1-2-1-2 1zM498 361l2-2 3 2 0 1-2 1zM505 363l-2-1 0-1 2-4 2 1 1 2zM505 364l0-1 3-3 2 4-1 0zM513 360l0 2 1 1 3 0 1-1 0-3 0-1zM518 362l0-3 3 1 0 5-1 0zM521 360l0 5 4-3 0-3zM528 364l2-1-1-4-1-1-3 1 0 3 2 2zM538 364l-1-1 2-4 2 2-1 1zM540 362l1-1 4-1 1 2-1 0-3 1zM554 363l-2 0-3-1 1-3 4 1zM556 358l-2 1 0 1 0 3 1 0 4-3zM559 365l-4-2 4-3 2 0zM565 364l-2-2-1-1 1 5 1 0zM437 370l2-3-2-3-1 1-1 2 1 2zM442 363l0 4-3 0-2-3 1-1zM442 363l0 4 2 2 2 0 2-4-4-4zM463 371l-2-3 2-5 1 0 3 4-3 3zM477 367l3-3-2-2-4 2 0 3zM477 367l3-3 2 0 0 3-1 2-4-1zM485 364l4-1 1 1 1 4 0 1-4 2-1-3zM490 364l4-2 2 1 0 1-4 3-1 1zM499 367l2-4-3-2-1 0-1 2 0 1zM505 367l-6 0 2-4 2-1 2 1 0 1zM506 368l4-2-1-2-4 0 0 3zM509 364l1 0 3-2 1 1 0 4-4-1zM514 363l3 0 1 3-4 1zM530 368l-2-4 2-1 2 0 2 4-2 1zM538 364l-1-1-2-3-3 3 2 4 3-1zM538 364l2-2 2 1-1 3-2 1-2-1zM542 363l3-1 1 4 0 1-1 0-4-1zM554 363l-1 4-2 0-3-1 4-3zM559 365l-4-2-1 0 4 6 1-1 1-1zM561 360l-2 5 1 2 3-1-1-5zM45 372l1-1-2 0zM437 370l1 0 4 1 2-2-2-2-3 0zM446 369l2 2 5 0 0-1 0-4-3-2-2 1zM491 369l3 3 4-3 0-1-6-1-1 1zM503 370l-4-3-1 1 0 1 1 3 3 0zM505 370l1 0 0-2-1-1-6 0 4 3zM508 371l2-5 4 1 0 2-1 1-4 1zM520 372l1-5-5 3 2 3zM522 373l3-4-1-1-3-1-1 5zM529 369l-4-1-1 0 1 1 1 2 2 1zM529 369l1-1 2 0-2 6-2-2zM534 367l3-1 2 1 1 4-4 1zM539 367l1 4 5-4-4-1zM541 372l-1-1 5-4 1 0 1 4-1 0zM551 367l-3 4 1 0 5-1-1-3zM553 367l1-4 4 6 0 1-3 1-1-1zM437 370l1 0-2 4-3 0 0-1zM438 370l4 1-1 5-1 0-4-2zM458 370l-3 0-2 0 0 1 1 3 4 0zM463 371l-2-3-3 2 0 4 1 1zM467 376l-4-5-4 4 1 1 5 1zM467 376l2 0 1-4-6-2-1 1zM491 369l3 3 0 1-5 3-2-1 0-4zM494 372l4-3 1 3-2 4-1 0-2-3zM502 374l-4 2-1 0 2-4 3 0zM505 370l0 4-2 1-1-1 0-2 1-2zM509 373l0-2-1 0-2-1-1 0 0 4 1 1zM518 373l-2-3-2-1-1 1 2 6zM528 372l2 2-5 1 1-4zM530 374l4 0 2-2-2-5-2 1zM541 375l4 1 1-1 0-4-5 1 0 2zM549 371l3 3-1 2-5-1 0-4 1 0 1 0zM556 376l3-4 3 2-1 1zM20 379l4-3-4 2zM433 374l-1 2 2 3 4 1 2-1 0-3-4-2zM444 381l6-1-3-6-6 2-1 0 0 3 3 2zM459 375l-5 6 3 1 3-5 0-1zM465 377l-3 4-2-4 0-1zM503 380l0-5-1-1-4 2 3 4 1 0zM511 376l4 0 0 2-4 2-2-2zM515 380l2 0 2-2-4-2 0 2zM525 381l1-2-1-4-2 0-2 1 0 2zM530 377l0-3 4 0 0 1 1 3-2 2-1 0zM537 376l-3-1 1 3 3 0zM541 375l-2 3-1 0-1-2 1-2 3 0zM570 381l1-4-1-1-4-1 0 4zM467 376l1 6-3 3-3-1 0-3 3-4zM478 380l-1 3-2 0-3-2 0-3 2-1 3 2zM515 380l2 0 2 3-1 1-4-1zM525 381l4 1 1 0 2-2-2-3-4 2zM532 380l1 0 3 4-1 0-5-2zM542 384l-4 0-1 0 2-5 4 1zM555 378l-1 1 0 3 2 1 1 0 1-4zM443 381l-3-2-2 1-2 5 0 1 4 0zM445 388l-1-7-1 0-3 5 1 1zM445 388l-1-7 6-1-2 7-2 2-1 0zM450 380l-2 7 5 3 0-1 0-1-2-7zM475 383l-3 3-3-4 3-1zM475 383l2 8 3-2 0-4-3-2zM486 381l5 2-2 4-4-2-1-2 0-1zM490 387l-1 0 2-4 2-1 2 1-3 6zM498 387l-5 2-1 0 3-6 1 0zM507 385l-1 2 0 1-3 0-2-1 1-3zM507 385l-1 2 4 1 0-1 0-3-2 0zM512 383l-2 1 0 3 4 1-1-5zM513 383l1 5 3 0 1-4-4-1zM525 381l4 1 1 3-2 2-2-1-2-3zM530 382l5 2-2 2-3-1-1-3zM533 389l5-2 0-3-1 0-1 0-1 0-2 2zM557 383l1 3-4 3-3-2 5-4zM565 384l0 1 0 2-3 0-3-1 4-3zM565 385l6 2-1-4 0-1-4 2-1 0zM17 385l-1 3 0 1zM446 389l4 3 2-1 1-1-5-3zM453 388l0 1 6 4 1-1-2-6zM475 383l-3 3 0 2 4 2 1 1zM493 391l0-2-1 0-2-2-3 4 3 3zM498 389l0-2-5 2 0 2 1 0 3 1zM503 388l0 5-1 0-4-4 0-2 3 0zM509 391l4 0 1-3-4-1 0 1zM519 392l-1-3-1-1 5 0 1 1-1 2zM524 389l4 1 1-1-1-2-2-1zM533 391l-1 0 1-2 5-2 0 3zM539 392l3-1 1-3-5-1 0 3zM543 388l3 3 2 0 0-4zM548 387l1-1 2 1 3 2 0 1-4 3-2-2zM558 386l1 5 0 1-2 1-1-1-2-2 0-1zM559 386l-1 0 1 5 2 0 1-4zM565 387l1 4-5 0 1-4zM565 385l0 2 1 4 3 0 2 0 0-4zM444 390l2 4-3 2-1-1-1-1-1-1zM445 389l1 0 4 3-1 1-1 1-2 0-2-4zM455 398l0 1-6-6 1-1 2-1 4 7zM477 391l0 3-3 2-4 1-1-2 0-2 7-3zM480 395l-2-1-1 0 0-3 3-2 3 0 1 2zM485 394l0-3-1 0-4 4 3 1zM490 398l-5-4 0-3 2 0 3 3zM490 398l0-4 3-3 1 0 1 5-1 1-3 1zM499 395l-4 1-1-5 3 1zM501 396l-2-1-2-3 1-3 4 4-1 2zM509 391l0 4-2 1-2-3zM509 391l0 4 1 1 3-4 0-1zM518 395l-2-1 2-5 1 3zM523 395l-1-4-3 1-1 3zM528 390l-2 4 1 0 5-3-3-2zM534 395l-1-4-1 0-5 3 3 2zM534 395l-1-4 5-1 1 2-1 3-4 1zM539 392l4 3 0 1-5-1zM539 392l3-1 2 1 0 3-1 0zM548 396l-4-1 0-3 2-1 2 0 2 2 0 1zM550 394l0-1 4-3 2 2-4 3zM552 395l4-3 1 1-1 3-2 2zM559 392l-2 1-1 3 3 2 1-4zM567 398l3-2-1-5-3 0-1 3zM574 395l-1-2-1-2-1 0-2 0 1 5zM440 393l1 1-4 5-5-2 0-1 2-2zM438 401l1 0 1-1 2-5-1-1-4 5zM443 396l-1-1-2 5 4 0 0-2zM448 394l0 4-4 0-1-2 3-2zM455 399l-6 1-1-2 0-4 1-1zM455 398l6 2 2-3 0-2-3-2-4 5zM463 397l1 4 6-3 0-1-1-2-4-1-2 1zM477 394l1 0 2 5-4 1-2-4zM483 398l0-2-3-1-2-1 2 5 1 1zM488 398l2 0-5-4-2 2 0 2zM500 400l1-1 0-3-2-1-4 1-1 1 3 4zM506 400l3 1 2-2-1-3-1-1-2 1-1 0zM510 396l1 3 1-1 2-5-1-1zM518 395l-1 2-5 1 2-5 2 1zM523 398l0-3 3-1 1 4-2 1zM534 396l0-1-4 1-1 3 1 3zM539 399l-1-4 5 1 0 3-1 1zM548 396l-4 2-1 1 0-3 0-1 1 0zM560 394l-1 4 0 1 3-1 1-3zM565 400l-3-2 1-3 2-1 2 4zM569 400l2-1-1-3-3 2zM570 396l4-1 1 1-1 4-3-1zM169 403l3-5 3 1 1 2-1 2zM430 405l0 1 4-2-2-7-4 5zM434 404l-2-7 5 2 1 2 0 3zM444 404l-5-3-1 0 0 3 1 2 1 0zM445 404l-1 0-5-3 1-1 4 0 1 3zM455 399l-6 1-1 2 2 2 5-2zM461 400l1 3 1 0 1-1 0-1-1-4zM464 401l0 1 5 2 1-6zM470 397l4 6 1-1 1-2-2-4zM479 403l-4-1 1-2 4-1 1 1zM490 398l-2 6 1 1 4-2-2-5zM496 403l-3 0-2-5 3-1 3 4zM498 405l-2-2 1-2 3-1 0 4-1 1zM500 404l1 0 3 0 0-4-3-1-1 1zM510 404l-1-2 0-1 2-2 4 4zM525 402l1 1 4-1-1-3-2-1-2 1zM534 396l-4 6 1 1 4-5zM535 398l2 3-5 2-1 0zM550 405l-4-1 0-1 2-3 3 2zM559 399l-6 0 0 1 0 1 2 2 2 0 2-1 0-1zM565 400l-6 1 0-2 3-1zM565 401l-3 4-3-3 0-1 6-1zM565 401l3 2 1-3-2-2-2 2zM569 400l2-1 3 1 0 1-4 3-2-1zM41 403l0 2 8 3 0-3-1-1zM169 403l6 0-3 3-4 0 0-1zM434 404l-4 2 1 4 1 0 5 0 2-4-1-2zM445 404l-1 0-4 2 2 2 4-2zM456 403l-1-1-5 2 0 3 3 1 3-3zM462 403l-6 0 0 2 3 2 4 0 0-4zM463 403l0 4 1 0 5-2 0-1-5-2zM479 406l-6 0 1-3 1-1 4 1zM483 402l0 5-3 0-1-1 0-3 2-3zM488 404l-4 3 2 2 3-2 0-2zM493 403l1 5-1 1-2-1-2-1 0-2zM499 405l0 3 3-1-1-3-1 0zM509 406l-4 0-1-2 5-2 1 2zM509 406l1-2 5-1 0 1-1 3-4 0zM515 404l3 2 2 1 0-1 0-4-3-1-2 2zM524 407l0-1 2-3-1-1-4-1-1 1 0 4 3 1zM531 403l-1 4-1 1-5-2 2-3 4-1zM531 403l1 0 2 2 0 4-1 1-3-3zM537 401l-5 2 2 2 3 1 1-2zM538 404l3 0 0 2-1 2-2 0-1-2zM544 407l-3-1 0-2 2-2 3 1 0 1-1 3zM557 406l0-3-2 0-2 4 1 2zM560 408l2 0 1-3-1 0-3-3-2 1 0 3zM565 401l-3 4 1 0 3 1 2-3zM575 403l-1-2-4 3 1 1 1 1zM576 403l1 1 0 4-4 0-1-2 3-3zM64 407l-3-1-6 4 2 1 5-1zM176 408l-4-2-4 0 3 8zM439 412l-2-2 2-4 1 0 2 2 1 3 0 1zM446 406l0 5-3 0-1-3zM450 407l-4-1 0 5 1 1zM456 405l-3 3 0 1 1 3 4-1 1-4zM463 407l1 0 0 2-4 3-2-1 1-4zM477 411l1-1 2-3-1-1-6 0-1 1zM483 407l1 0-2 4-1 1-3-2 2-3zM491 408l-2 3-3-1 0-1 3-2zM493 409l-1 3-3 0 0-1 2-3zM498 405l-4 3 4 3 1-1 0-2 0-3zM504 408l-2-1-3 1 0 2zM504 408l1 3-1 1-5-2zM504 408l1-2 4 0 1 1 0 3-3 2-2-1zM510 407l0 3 2 2 3 0 1-1-2-3 0-1zM523 412l-2-1 2-4 1 0 1 4zM525 411l1 1 2-2 1-2-5-2 0 1zM528 410l1 1 3 0 1-1-3-3-1 1zM540 408l2 3-1 1-4 0 0-2 1-2zM543 411l-1 0-2-3 1-2 3 1zM549 410l0-1 1-3 3 1 1 2 0 1zM560 408l-2 3-4-2 3-3zM560 408l2 0 0 1-1 2-3 0zM566 412l-1-2 2-2 2 0 1 2zM571 411l1-1 1-2-1-2-1-1-2 3 1 2zM574 413l-2-3 1-2 4 0 1 2zM64 407l-2 3 4 0zM157 417l3-3-4-4-3-1 1 7zM439 412l-1 3-4-1-2-4 5 0zM443 417l0 1 5 0 1-2-2-4-1-1-3 0 0 1zM454 413l-2 2-3 1-2-4 6-3 1 3zM461 415l-1-3-2-1-4 1 0 1 4 3zM462 416l-1-1-1-3 4-3 2 1-1 5-2 1zM471 410l-5 0-1 5 4 1 2-4zM471 412l3 2 0 4-1 2-3 0-1-4zM484 414l-2 0-1-2 1-1 3 1zM487 417l-3-3 1-2 1-2 3 1 0 1 0 5zM494 415l-3 2-2 0 0-5 3 0zM494 408l4 3 0 3-3 1-1 0-2-3 1-3zM498 411l1-1 5 2-2 4-4-2zM523 412l-2 3-2 0-1-3 3-1zM523 412l-2 3 3 2 2-4 0-1-1-1zM526 412l0 1 3 2 1-1-1-3-1-1zM533 410l-1 1 0 4 1 0 3 0 1-3 0-2-3-1zM537 416l-1-1 1-3 4 0 0 2zM542 417l-1-3 0-2 1-1 1 0 1 1 1 4zM545 416l5-2-1-3-5 1zM549 411l1 3 1 0 2 1 1-5-5 0zM558 414l0-3 3 0 1 4-2 0zM562 415l4 0 0-3-1-2-3-1-1 2zM435 418l-4 2-1 0-1-9 2-1 1 0 2 4zM436 419l-1-1-1-4 4 1 0 2zM458 416l-4-3-2 2 2 4 3 0zM460 420l-2 0-1-1 1-3 3-1 1 1zM469 416l1 4-3 2-4-6 2-1zM495 415l2 4-1 1-4 0-1-3 3-2zM504 416l-2 0-1 3 0 2 4 0 1-1zM507 415l-3 1 2 4 3-2-1-2zM508 416l3-2 2 4-3 1-1-1zM522 420l2-3-3-2-2 0-1 2 2 3zM529 420l2 0 2-4 0-1-1 0-2-1-1 1-2 3 1 2zM539 418l-3 2-3-4 0-1 3 0 1 1zM540 419l-1-1-2-2 4-2 1 3zM542 422l4-4-1-2-3 1-2 2 2 2zM545 416l5-2 1 0-2 5-1 0 0 1-2-2zM553 415l-2-1-2 5 4 0 1-2zM553 415l5-1 2 1-3 3-3-1zM557 418l1 3 3-2-1-4zM566 415l-1 4 1 2 4-2-2-4zM570 419l1 0 3 0-2-4-4 0zM574 413l-2 2 2 4 3-1-1-3zM577 418l1 1 2-1 0-1 0-2-2-1-2 1zM151 423l-1 1-4-3 2-1zM167 425l-6 0-1-2 0-1 4-4 3 3zM173 421l-5 5-1-1 0-4 5-2zM453 421l-5-2 0 6 1 1 2-1 3-2zM457 423l-3 0-1-2 1-2 3 0 1 1zM462 422l-2-2 2-4 1 0 0 6zM496 420l-4 0 0 3 3 2 1-1zM501 422l-5 2 0-4 1-1 4 0 0 2zM509 423l1-4-1-1-3 2-1 1 3 3zM513 425l2-1-1-6-1 0-3 1-1 4zM525 424l2-1 1-1-5-1zM523 421l0-1 5 0 1 0-1 2zM527 423l4 4 0-7-2 0-1 2zM536 423l2 1 4-3-2-2-1-1-3 2-1 2zM547 422l1-2-2-2-4 4 1 1zM549 426l1 0 1-2 0-1-3-4 0 1-1 2zM551 423l3-2-1-2-4 0-1 0zM554 417l-1 2 1 2 3 2 1-2-1-3zM561 419l1 0 0 4-1 1-4-1 1-2zM565 419l-3 0 0 4 4-2zM566 421l1 1 3 2 1-5-1 0zM570 424l1-5 3 0 0 4 0 1zM578 419l-1-1-3 1 0 4 3 0 1-1zM153 422l1 4 2 0 4-3 0-1-3-1zM168 426l-1-1-6 0-1 6 2 1 1 0zM426 427l-4 2-3-3 0-1 0-1 3-2 2-1zM438 422l-2 5 2 1 3-1 3-2-2-4zM458 425l2 4 0 1-1 0-8-5 3-2 3 0zM462 422l-4 3 2 4 5-6-2-1zM460 429l0 1 5 0 3-4-1-3-2 0zM467 422l3-2 3 0 3 4 0 2-7 0-1 0-1-3zM485 427l1-5-3 3 0 1zM485 427l1 2 1 0 1-1 1-4-3-2zM494 430l-6-2 1-4 3-1 3 2 1 3zM501 428l-1 1-4-1-1-3 1-1 5-2 0 1zM531 427l0-7 4 2 1 1-4 4zM536 423l2 1 1 4-1 2-1 1-1 0-2-1-2-3zM542 422l1 1-3 5-1 0-1-4 4-3zM545 428l4-2-2-4-4 1zM40 428l-2-5-1 2 0 2 1 1zM42 429l-2-1-2 0 3 3zM145 431l2-5-2-2-1 0-3 2 0 5zM172 431l1-3-5-2 1 6 1 0zM449 426l2-1 8 5-7 2zM469 426l-1 0-3 4 1 2 3 0 2-2zM469 426l7 0 1 3 0 1-6 0zM478 429l5-3 2 1 1 2-4 2zM494 430l-6-2-1 1 0 2 5 1zM512 433l1 0 0-7-4 3zM517 425l-1 7-2 1-1 0 0-7 0-1 2-1zM526 429l-2 2-3 0-2-5 2-1 3 1zM531 427l1 0 2 3-4 4-4-5zM545 428l1 3-8-1 1-2 1 0zM545 428l1 3 4 2 1-2-2-5zM549 426l2 5 2 0 1-3-4-2zM566 431l-3 1-2-4 2-2 1 0 2 2zM569 426l-3 2 0 3 2 0 2-1 1-2zM571 428l-1 2 4 3 1-1-2-4zM575 426l3 2 0 2-3 2-2-4zM580 426l-1 0-1 2 0 2 2 1 3-2 0-1-1-2zM43 429l-1 0-1 2 4 3 0-2zM436 427l-1 1-3 1 0 1 2 5 6 0-2-7zM445 433l4-7 3 6-1 4-6-1zM451 436l1 1 8-4-1-3-7 2zM459 430l1 3 0 1 1 2 5-1 0-3-1-2-5 0zM477 430l-1 3 2 2 5 0 1 0-2-4-4-2-1 0zM482 431l4-2 1 0 0 2 0 2-3 2zM492 432l-5-1 0 2 3 1 1 0zM494 430l-2 2-1 2 3 3 1 0 1-1zM503 434l-1 3-4-2 2-5zM505 428l-4 0-1 1 0 1 3 4 2 0zM512 433l-3-4-3-2-1 1 0 6 5 1zM524 433l3 4 3-1 0-2-4-5-2 2zM546 431l4 2-3 3-3-3zM554 436l1-2 0-2-2-1-2 0-1 2 2 3zM566 435l-6 0 0-1 1-1 2-1 3-1zM568 431l4 5-3 0-3-1 0-4zM580 431l-2-1-3 2-1 1 3 2 4-2zM581 433l1 2-1 1-3 1-1-2zM52 437l-2-2-4 0 4 5zM160 431l0 1-4 6 5 1 3-2-2-5zM434 435l-6 4 6 2 1-2zM445 435l-3 2 0 1 6 3 4 1 1-2-1-3-1-1zM464 442l-3 0 0-6 5-1 2 4-1 2zM483 435l-3 5-2-5zM489 439l5-2-3-3-1 0zM498 435l-2 1-1 1 1 6 1 0 1 0 4-5 0-1zM510 435l-2 6-6-3 0-1 1-3 2 0zM536 431l1 0 2 6-5 2 0-1zM550 438l-2 1-1-3 3-3 2 3zM555 437l1 1 3-1 1-2 0-1-2 0-3 0-1 2zM562 442l2-4-4-3-1 2zM566 435l-2 3-4-3zM565 439l-1-1 2-3 3 1-1 3zM574 439l-5 3-1-3 1-3 3 0 2 2zM574 438l-2-2 2-3 3 2 1 2-1 1zM577 438l1-1 3-1 1 3-4 1zM50 440l4 3 3-1-5-5zM168 443l-3 0-1-6 6 0 1 0zM427 439l-1 0-5 1-1 3 0 1 2 0 5-2zM434 441l0 3-6-1-1-1 0-3 1 0zM435 439l4 0-1 3-4 2 0-3zM439 439l3-1 1 6-2 1-3-3zM448 441l-6-3 1 6zM488 445l3-2-2-4-3 0-2 3 0 1 2 1zM489 439l5-2 1 0 1 6-5 0zM542 438l-3-1-5 2 6 4zM561 443l1-1-3-5-3 1 0 4 4 1zM568 443l-3-4-1-1-2 4 5 1zM574 439l-5 3-1 1 3 2 2-2 1-2zM574 439l0 2 3 3 1-2 0-2-1-2-3 0zM578 440l4-1 1 2-1 2-4-1zM422 444l5-2 1 1-3 6-2-3zM438 449l3-3-7-2 0 2zM438 442l3 3 0 1-7-2zM446 446l-3-2 5-3 4 1-4 4zM449 447l5 0-2-5-4 4zM459 450l-4-1 6-7 1 5zM462 447l-1-5 3 0 2 5-1 1zM466 447l-2-5 3-1 3 5-1 0zM480 447l4-4 0-1-4-2-4 2 2 5zM490 450l1 0 5-7-5 0-3 2zM59 447l-2 0 1 1zM139 452l0-1-1-2 0 3zM149 448l2 3 3 0 2-4 0-2-7 2zM420 448l3-2 2 3 0 2-4 0zM431 448l-3-5-3 6 0 2 5-1zM434 446l1 6-1 0-3-1-1-1 1-2zM438 450l4 3 1-2-2-5-3 3zM446 449l-5-3 2 5 3-1zM446 449l0-3 2 0 1 1 1 6-4-3zM503 452l0-1-2-7-3-1-1 0 0 7zM530 446l-5 1-2 1 1 1 1 1 2 1 5-4zM66 451l-4 0 4 4zM117 455l2-1 1-2-2-1-1 1zM146 454l-1-3-4-1-2 1 0 1 2 3zM421 451l4 0-1 5-8 1 0-5zM438 450l4 3-1 2-4 0-1-3zM441 455l1-2 5 1-5 3zM502 455l-6 0-1-3 2-2 6 2zM435 458l2-3 4 0 1 2 0 1-6 0zM106 459l-3 0-2 5 1 0 5-3zM416 457l8-1 0 7-3 3-5-8zM430 458l1 1-2 4-5 0 0-7zM433 458l-2 1-2 4 1 2 5-3zM436 458l6 0-2 5-1 0zM446 463l2-3-1-1-5-1-2 5 1 2 3 0zM515 461l-1-2-3-2-1 1 0 7 5-3zM522 458l1 2-2 1-6 0-1-2 3-2zM430 465l-1-2-5 0-3 3-1 1 8 1zM497 471l2 1 5-3-1-4-6-2-1 3zM519 468l-1-1 3-6 2-1 2 4 0 1-3 3zM514 473l4 0 1-1 0-4-1-1-1 0-5 4 1 0zM417 471l4 8 3-2 0-5-5-4 0 1zM429 473l0-1-5 0 0 5 1 0 5-3zM429 473l1 1 3 3 1-9zM434 477l-1 0 1-9 0-1 2 3 0 6zM513 471l-1 0-3-3-4 2 2 4 1 1 1 1zM514 473l-1 5-1-1-3-1 4-5zM149 476l-1-3-5 2 1 7 3-1zM433 478l-4 2-4-3 5-3 3 3 1 0zM429 480l-2 2-6-3 3-2 1 0zM431 487l1-1 1-2 0-6-4 2-2 2 1 4 2 1zM507 480l-2 4 0 1 0 1 2-1 4-3-3-2zM432 486l6 3 1-5-6 0zM430 491l-1 1-5-1-2-4 6-1 2 1zM292 496l1-5-4-2-1 3 3 4zM294 497l2 0 2-3-2-3-1-1-2 1-1 5zM298 494l-2-3 8-3-2 8zM343 491l-1-2-1 0-4-1 0 6 5 0zM350 495l0 1 1 0 3-1 0-7-2 0-3 4zM395 491l-2 4-4 1-1-1 0-5 7-1zM395 491l-2 4 1 2 4-1 1-2zM402 492l-6-6-1 3 0 2 4 3 2-1zM406 490l-2 6-1 0-2-3 1-1 3-2zM409 493l-1-2-2-1-2 6 2 1zM411 494l3-1 1-2-2-2-2-1-3 3 1 2zM416 491l-1 0-1 2 4 5zM418 490l3-4 1 1 2 4 0 3-3-1zM440 496l-5 0-1-1 0-2 2-1 3-2 1 1zM497 490l-3-1-1 1 0 2zM294 499l-5 2-1-2 3-3 1 0 2 1zM331 496l-1 2 1 1 3 0 0-3zM342 494l-5 0-1 1 1 3 2 1 4-2zM398 499l1-1-1-2-4 1 1 1zM401 493l-2 1-1 2 1 2 1 0 3-2zM406 497l-2-1-1 0-3 2 1 1 5-1zM411 494l0 5-5-1 0-1 3-4zM411 494l3-1 0 8-1 0-2-2zM414 493l4 5-3 4-1-1zM421 493l3 1-1 4-4 0zM430 498l0-1-1-1-6 3 2 3zM282 500l-5-2 0 1 1 4 2 0zM285 500l-3 5-2-2 2-3zM341 505l1-2-3-4-1 3zM349 502l1 0 3 0 1-2-3-4-1 0-1 2zM354 500l3-2 2 3-1 2-2 1-2-1-1-1zM397 503l1-4-3-1-1 3 0 1 1 0zM403 504l-1-1-1-4 5-1-1 4-1 1zM418 498l-3 4 1 1 8 0 1-1-2-3 0-1-4 0zM439 501l-2 2-3 0-1-1-1-2 3-1zM282 505l1 1-1 1-5-1 0-3 1 0 2 0zM285 500l1 5-1 1-2 0-1-1zM336 506l0 1-4-3 3-2 1 2zM347 503l0 2-5 1-1-1 1-2 3-3zM353 510l3-4 0-2-2-1-3 4zM393 507l2-5-1 0-5 1-1 0 2 4 1 1zM394 508l2 0 1-1 0-4-2-1-2 5zM397 507l5-1 1-2-1-1-5 0zM402 508l5-1-3-4-1 1-1 2zM407 507l1 1 2-6-5 0-1 1zM413 501l-3 1-2 6 2 0 6-5-1-1-1-1zM418 508l-2-5 8 0 0 4 0 1zM429 503l0 1 1 3-6 0 0-4 1-1zM433 506l1-3-1-1-4 2 1 3 1 0zM436 507l1-4-3 0-1 3zM436 507l1-4 2-2 3 0-2 6-3 1zM470 508l3-3 0-2-4 1 0 1zM474 502l-1 1 0 2 4-2zM276 506l-3 0-2 2 5 3 1-1zM348 507l-1 3 0 1 4 0 2-1-2-3-1 0zM391 508l-1-1-2 1-1 4 4 0zM394 508l2 0 1 1-1 4-2 0zM396 508l1-1 5-1 0 2 0 1-2 1-3-1zM402 509l0-1 5-1 1 1-3 3zM410 513l-5-1 0-1 3-3 2 0 1 2 0 3zM416 503l-6 5 1 2 1 0zM418 508l-2-5-4 7 5 0zM417 512l0-2 1-2 6 0 1 3-2 1zM429 513l2-3 0-3-1 0-6 0 0 1 1 3zM435 510l-4 0 0-3 2-1 3 1 1 1 0 1zM442 513l1 0-1-4-2-2-3 1 0 1 1 1zM462 506l1 6-2 1-3-3 1-2 3-3zM467 507l-5-1 1 6 1 1 3-3zM277 515l-1-4 1-1 4 0 1 2-1 2zM338 511l-1 1 2 4 4-2-1-4-1 0zM351 511l-4 0 0 3 2 1zM403 516l2-4 0-1-3-2-2 1 1 5 1 1zM417 512l0-2-5 0-1 0 0 3 5 1 1-1zM423 512l2-1 4 2 0 1-6 4-2-1zM436 514l-1 3-6-2 0-1 0-1 2-3 4 0zM436 514l-1-4 2-1 1 1zM436 514l6-1-4-3zM276 515l3 4 2 0 0-5-4 1zM306 521l-1-5-3 1zM326 520l-5 0 3-4 2 1zM333 520l5-1 1-1-6-4-2 2 1 2zM349 519l-4 0 0-4 2-1 2 1 1 0zM354 517l-2-1-2-1-1 4 1 0 3 0 1-1zM393 521l-3-4 4-2 1 3 0 2 0 1zM395 520l0-2 3-4 3 1 1 1 0 1zM410 514l-4 3 0 1 4 1 1-3zM417 519l-2-3-1 1-1 5zM418 519l-1 0-2-3 1-2 1-1 4 4-2 2zM423 518l3 4 1 0 1 0 1-7 0-1zM441 521l4-2 2-4-1-1-3-1-3 5zM454 521l2-1-4-5-3 1 1 2 3 3zM306 521l-1 2-5-5 1-2 1 1zM350 519l-1 4-1 0-2-2-1-2 4 0zM397 523l5 0 0-6-7 3 0 1zM422 523l4-1-3-4-2-1-2 2zM440 522l-2 1-2-5 4 0 1 3zM440 522l2 2 3 0 1-1-1-4-4 2zM352 523l1 0 4 1 0 2-4 2-1-2zM393 528l-4-1-1-1 3-4 1 0zM393 528l-1-6 1-1 2 0 2 2 0 2-4 4zM397 525l2 3 3-1 0-4-5 0zM403 527l-1 0 0-4 3-1 2 2-1 2zM409 530l1-1 1-1-2-4-2 0-1 2zM434 527l1-4-4-1-1 1 1 3zM438 523l0 4-4 0 1-4zM440 522l2 2 0 3-4 0 0-4zM442 527l3 1 1-3-1-1-3 0zM269 528l-1 2-3 1-1-2 0-1 2-3 1 0 2 2zM350 526l-4 4 1 0 6-1 0-1-1-2zM361 528l1 2-2 1-2-1-1-4zM393 528l-4-1 0 4 0 1 4-2 0-1zM393 529l5 1 1 0 0-2-2-3zM405 531l-2-4-1 0-3 1 0 2 1 2 4 0zM434 530l0-3-3-1-2 5 5 0zM442 527l-1 3-3-1 0-2zM347 530l0 1 5 4 2-2 0-2-1-2zM384 530l5 1 0 1 0 2-4 1-2-4zM396 535l2-5-5-1 0 1 2 5zM404 534l-3 3-1 0 0-5 4 0zM422 535l0-1 1-1 4 0 0 2-2 1zM427 535l1 2 4-2-3-4-2 2zM433 535l-1 1 0-1-3-4 5 0zM441 530l1 1-1 2-3 1-1-3 1-2zM310 536l-5 0 0 2 4 0zM362 539l3-1 0-2-3-1-2 3zM365 536l1-1 4 2 2 1-1 1-4 2-1 0-1-3zM379 536l0 1 1 2 3-1 1-2-4-1zM385 535l3 5-4 1-1-3 1-2zM389 534l2 2-1 4-1 0-1 0-3-5zM406 535l0 2-2 1-2 0-1-1 3-3zM409 534l-1 4-2-1 0-2zM409 534l-1 4 1 1 4-1 1 0-1-4zM413 534l1 4 3 0 1-3zM422 538l-4 1-1-1 1-3 1-1 3 0 0 1zM425 536l2-1 1 2 0 2-3 1 0-1zM432 536l0-1-4 2 0 2 2 2 3-2 0-1zM262 541l-2 3-6-1-1-2zM262 538l0 3 2 1 2-1 1-2 0-1-1-2zM283 542l-1 2-3 0-1-3 1 0 3-2zM331 541l1 0-1 3-3-2zM371 539l1-1 1 0 2 2 0 4-1 0-2-1zM379 545l-4-1 0-4 2 0 3 2 1 2 0 1zM380 539l0 3-3-2 2-3zM383 538l-3 1 0 3 1 2 1 0 2-3zM388 540l1 0-2 6-5-2 2-3zM401 537l-4 5 1 1 4 1 1-1-1-5zM404 543l-1 0-1-5 2 0 3 3zM408 538l-2-1-2 1 3 3 2 0 0-2zM414 538l3 0 1 1 0 4-4-1-1-4zM422 539l-1 4 1 0 3-1 0-2 0-1zM425 542l1 0 3 0 1-1-2-2-3 1zM318 548l4-3-1-1-4 0-1 2zM322 547l0-2 4-1 0 5-1 1zM334 541l0 4-1 1-2 0 0-2 1-3zM357 548l-1-3 4-2 1 0 2 3-3 2zM364 546l-1 0-2-3 5-2 1 0 0 3-2 2zM373 548l1-4-2-1-3 2 0 2zM373 548l1-4 1 0 4 1-3 3-2 1zM389 540l-2 6 4 0 1-3zM396 541l-2 2 1 4 1-1 2-3-1-1zM401 547l1-3-4-1-2 3 3 1zM412 547l-3-1 1-4 3 1zM412 547l1-4 1-1 4 1-1 2zM429 542l-3 0 0 5 3-2zM321 551l3 0 1-1-3-3zM346 550l3 1 2-6-1 0-4 4zM352 553l5-4 0-1-1-3-2-1-2 1zM377 554l2-2 1 0-4-4-2 1zM379 545l-3 3 4 4 2-1-1-6zM381 545l0-1 1 0 5 2 0 4-3 2-2-1zM391 546l-4 0 0 4 2 1 2-1zM391 546l4 1 0 4-4-1zM395 551l4-4 2 0 1 3-1 2-4 1zM401 547l1-3 4 4 0 2-4 0zM406 548l2-2 1 0 1 6-2 0-2-2zM418 547l5 0 1 0-1 2-2 2-4-1zM257 556l-5 0-2-3 0-1 4-5 4 2 2 3zM351 552l-2-1-3-1-2 1 1 5zM366 551l3 4 3-1 0-3-4-1zM377 554l-3-5-1-1-1 3 0 3 4 1zM385 555l-1-3-2-1-2 1-1 0 2 4zM385 556l5-2-1-3-2-1-3 2 1 3zM395 551l-4 4 4 2 1 0 1-3 0-1zM397 553l0 1 4 3 1-4-1-1zM402 550l4 0 2 2-2 4-4-3-1-1zM410 552l-2 0-2 4 0 1 1 0 5-3-1-2zM413 549l-2 3 1 2 3 2 2-6zM271 560l-1 0-4-1 1-3 2-1 2 2 0 2zM337 556l-5 0 1 3 1 2 3-3zM357 558l-2-3-3 4 2 2 3-1zM357 558l-2-3 0-1 4-1 0 4zM363 555l3-4 3 4-6 3zM363 558l1 2 5-1 1-1-1-3zM376 555l1 3-7 0-1-3 3-1zM385 556l1 2-4 2-2-1 1-3 4-1zM385 556l5-2 1 1-1 3-3 0-1 0zM390 558l1-3 4 2-3 3zM394 561l-2-1 3-3 1 0 2 2zM401 557l-3 3 0-1-2-2 1-3zM402 553l4 3 0 1-1 2-4-2zM338 565l3-2 0-1-1-2-1 0-4 2zM359 562l1 2 1 1 1 0 3-2-1-3-1-2zM373 563l-1 0-2-1-1-3 1-1 7 0-2 4zM377 564l-2-2 2-4 1 1 1 3zM395 563l-1-2-2-1-2 3 1 1 3-1zM399 563l-4 0-1-2 4-2 0 1 1 2zM346 566l2-2-2-2-4 2 1 2zM353 564l-2 0-2 1 0 3 3 0 1-1zM353 564l0 3 4 2 0-4-3-1zM357 569l2 1 2-5-1-1-3 1zM375 566l-2-3-1 0-2 5 4 0zM377 565l-2 1-2-3 2-1 2 2zM379 566l0 1 2 2 5-3-1-2-2-1-2 1zM386 566l1 1 2 1 2-2 0-2-1-1-4 0-1 1zM396 568l-1 0-4-2 0-2 3-1zM399 563l-4 0-1 0 2 5 1 0 1-2zM404 563l-1-2-4 1 0 1 4 3 1-1zM343 571l0-5 3 0 0 2zM347 572l-2 0-2-1 3-3 3 1-1 2 0 1zM353 567l-1 1 2 4 3-3zM359 570l5-2 2 3 0 1-6 0zM366 571l4-3-3-2-3 2zM375 569l-3 3-2-4 4 0zM377 565l-2 1-1 2 1 1 1 1 3-3 0-1zM386 566l-5 3 2 3 3-1 1-4zM387 567l-1 4 0 1 4-2-1-2zM389 568l1 2 2 1 3-3-4-2zM397 568l1 3 0 1-1 0-5 0 0-1 3-3 1 0zM343 571l-2 0-1 1 2 5 3-4 0-1zM348 577l-1-5 1 0 2 3zM350 575l3 0 1-1 0-2-6-1 0 1zM354 572l0 2 3 2 3-2 0-2-1-2-2-1zM365 575l1-3-6 0 0 2 3 2zM375 569l-3 3 1 3 4-3-1-2zM383 572l3-1 0 1 2 2-4 2-2-2zM392 571l0 1-2 3-2-1-2-2 4-2zM346 579l-1-6-3 4-1 1 2 1 2 0zM348 577l-1 1-1 1-1-6 0-1 2 0zM348 577l-1 1 4 1 2-4-3 0zM361 579l-4-3 3-2 3 2zM370 579l2-3-5 1zM370 579l0 1 2 1 2-3-2-3 0 1zM385 579l2 0 3-1 0-3-2-1-4 2zM394 579l3 2 2-1 1-3-5 1zM346 582l-1-3-2 0-2 4 0 1 0 1 4 0zM352 586l-2-5 2-1 1 1 2 4zM361 581l-3 2-2-4 1-3 4 3zM364 584l-2-3 4-2 2 3-1 1 0 1zM376 582l0-4-2 0-2 3 1 3 0 1 2-2zM380 583l1-2 0-1-2-2-3 0 0 4zM346 587l-3 2-2-2 0-2 4 0zM350 587l-2-5-2 0-1 3 1 2 2 0zM352 586l-2-5-2 1 2 5zM362 587l-5-3 1-1 3-2 1 0 2 3zM380 587l0-1 0-1-5-2-2 2 1 1 3 1 2 0zM380 583l-4-1-1 1 5 2zM339 591l-3 1-2 0-2-2 3-3 4 2zM348 590l0-3-2 0-3 2 1 2zM349 591l4-1-1-4-2 1-2 0 0 3zM352 586l3-1 1 0 1 5-2 1-2-1zM362 587l-1 3 4 2 2-2-1-1zM343 593l1 3 2 2 2-4zM349 591l0 3-1 0-5-1 1-2 4-1zM349 591l4-1 2 1-1 3-5 0zM355 591l2-1 3 1 0 1-2 3-3 0-1-1zM359 597l2-3-1-2-2 3zM361 590l4 2 0 1-3 2-1-1-1-2 0-1zM298 594l1 4-1 1-3-1 0-1zM349 594l2 5-1 0-4 0 0-1 2-4zM359 597l-2 3-2 0-1-1 1-4 3 0zM359 597l3 1 1-1-1-2-1-1zM345 604l1 0 4-2 0-3-4 0-1 1zM297 613l3 2-2 3-2 1-2-1zM337 614l-3 2 1 1 3 2 0-2 0-1zM334 623l4 0 0-1 0-3-3-2zM303 628l-4-2-1 1 2 4 0 1zM297 641l-3-3 1-2 3 1 1 2zM340 651l-2 4 1 1 3-1 0-4zM273 656l-2 4 4 1 1 0 1-4zM280 659l3-4 1 0 2 2-2 5-2 0zM337 659l-3-1-1 0 0-2 2-3 3 2 1 1-1 1zM343 658l0-1 0-1-1-1-3 1-1 1 4 1zM273 667l-2 1-1-2-1-4 2-2 4 1 1 2zM280 659l2 3 0 1-4 0-2 0-1-2 1 0zM298 662l0-2 1-1 6 0 1 3-5 1zM328 663l4-2 2-3-1 0-4 1-1 1zM343 663l1-1-1-3 0-1-1 0-3 5 2 1zM277 666l2 3 3-3 0-3-4 0zM282 666l0 1 3 1 1 0 0-5-2-1-2 0 0 1zM336 670l2 0 3-5 0-1-2-1-1 0-2 1zM343 663l-2 1 0 1 2 4 2-1 0-3zM277 666l2 3-3 2-3-1-2-2 2-1zM282 672l0-5 3 1 1 2-1 2zM289 665l1 3-2 2-2 0-1-2 1 0zM327 672l-5-3 2-2 3 2 1 1zM276 671l-3-1-1 3 3 3 2-1 1-1zM289 675l-1 1-3-2 0-2 1-2 2 0 2 2zM295 673l-1-2-4 1-1 3 2 1zM313 671l1 2-4 3 0-4zM337 676l2-5 3 1 1 0-2 3zM273 679l2-3-3-3-3 6 1 0zM273 679l2-3 2-1 2 2-3 4zM278 674l-1 1 2 2 2 2 1-1 1-1-2-4zM288 682l-1-4 1-2 1-1 2 1 1 2 0 1zM295 673l-4 3 1 2 4-1zM336 677l-2-2-4 0 1 4 1 1 2-1zM273 685l-3-1 0-5 3 0 3 2 1 1zM277 682l-1-1 3-4 2 2 1 3-2 2zM288 682l-1-4-5 0-1 1 1 3zM337 677l1 5 1 1 2-4zM273 685l4 3 3-2 0-2-3-2zM280 686l3 2 5-4 0-2-6 0-2 2zM234 691l0 1-4-1 1-4 1 0zM318 688l-5-3-1 1-1 2 2 3zM319 691l-1-3 5 0 0 3zM209 696l0-1-1-5-1 0-2 3 2 3zM246 687l2 8 2 1 4-3 1-4-9-3zM254 693l1-4 2 0 2 5-2 2-2 0zM261 695l2-6 2 3-1 3zM264 695l1 2 3-1 0-3-3-1zM273 694l-2-3-3 2 0 3 1 1 2 0 1 0zM319 695l4-2 1-1-1-1-4 0-1 4zM331 695l-4-2 0 3 2 1zM221 701l2-5-6-1zM221 701l1 1 5-3 0-1-4-2zM230 695l-3 3 0 1 1 1 2 0 2-1 0-1zM230 695l2 3 4-4-1 0zM237 694l-1 5-4-1 4-4zM239 693l-2 1-1 5 1 1 5-1 0-2-2-4zM247 696l-5 1 0 2 3 3 0 1zM250 696l-2-1-1 1-2 7 1 0 2-1zM250 696l4-3 1 3-2 2zM255 696l2 0 1 2 0 2-4 1-1-3zM257 696l1 2 3 0 0-3-2-1zM261 695l3 0 1 2 0 1-3 1-1-1zM267 702l-2-4 0-1 3-1 1 1zM272 697l-1 0 0 3 1 1 3-2zM273 694l4 1 1 1-1 3-2 0-3-2zM319 695l3 4 2-1 1-1-2-4zM333 694l-2 1-2 2 1 2 3 0 1-4zM215 699l-6-2-1 2 3 4 2 0 2-3zM219 704l-6 0 0-1 2-3 5 2zM227 703l-4 0-1-1 5-3 1 1zM228 705l3-3-1-2-2 0-1 3 1 1zM230 700l2-1 3 4-1 1-3-2zM250 696l-2 6 1 1 4 0 1-2-1-3zM255 704l-2-1 1-2 4-1 2 3-3 1zM258 700l0-2 3 0 1 1 0 4-1 0-1 0zM267 702l-2-4-3 1 0 4 4-1zM271 700l-4 2 2-5 2 0zM270 705l3-2-1-2-1-1-4 2zM318 704l0-3 4-1 1 2-3 3zM329 701l-3-2 0 4zM221 701l1 1 1 1 0 3-2 1-1 0-1-3 1-2zM228 705l-2 5-3-3 5-3zM239 708l1-2-4-3-1 0-1 1 0 2 0 1zM245 709l1-2 0-4-1 0 0-1-5 3 0 1-1 2zM246 707l0-4 2-1 1 1 1 4zM253 703l-2 5-1-1-1-4zM257 704l3-1 1 0 1 4-3 2-1-2zM262 703l4-1-1 7-3-2-1-4zM265 709l1-7 1 0 3 3zM215 709l1 2 1 1 4 1 1 0-1-6-1 0zM226 711l0-1-3-3 0-1-2 1 1 6 2 0zM229 712l-2 0-1-1 0-1 2-5 2 2-1 4zM234 710l0-3 0-1-4 1-1 4zM234 710l4 1 1-1 0-2-5-1zM246 711l-1-2 1-2 4 0 1 1 0 2-2 1zM255 707l-1 3 1 1 4-2-1-2zM255 712l0-1 4-2 2 4-1 0-4-1zM325 706l4 0 1 1-1 4-2 1-3-5zM220 716l1-3-4-1 1 5zM227 712l-1-1-2 2 1 4 2 0zM246 711l-6 0 2 5 3-1zM266 711l0 5 4-1-1-3zM245 715l2 6-1 1-4-5 0-1zM262 713l-1 0-1 0-2 4 1 1 4-3zM263 715l-4 3 2 1 4-1 0-1zM330 720l-1-4-4-2 0 5 0 1 3 0zM227 717l-2 0 0 6 3 0 0-5zM244 723l-2 1 1 2 2 3 1-1zM246 722l-2 1 2 5 2-1 0-3zM230 728l-5-2 0 2 4 3zM231 727l4-3 2 0 1 3-2 2zM240 732l0-3-2-2-2 2-1 3zM245 730l-5-1 3-3 2 3zM284 728l-4 3 4 3 1 0 0-2zM235 736l0-4 5 0 1 3-2 2zM243 735l-2 0-1-3 0-3 5 1 1 1zM249 735l1-3-2-1-2 0-3 4zM249 735l1-3 2 0 2 4-1 1-3 0zM257 734l-1 2-2 0-2-4 1-1 4 2zM230 736l-2-2-1 2 2 4 1-1zM235 736l-5 0 0 3 4-1zM235 736l-1 2 0 1 4 3 1-4 0-1zM243 735l-2 0-2 2 0 1 3 2zM249 738l1-1-1-2-6 0 3 3 1 1zM261 735l-1 4-3-1-1-2 1-2zM262 741l-2-2 1-4 3 0 2 4zM295 734l1 0 4 1-2 3-2 1-1-1-2-2zM305 740l-4 0 0-6 1 1 4 4zM331 736l-1-3-5 3 0 1 1 1 2 1 2 0zM230 739l4-1 0 1-2 3-3-1 0-1zM238 742l-4-3-2 3 1 2 3 0zM243 740l-1 0-3-2-1 4 2 1 3-2zM247 739l-1-1-3 2 0 1 3 2zM249 738l-2 1-1 4 1 1 3-4zM250 740l4 2 0 1-6 1-1 0zM255 743l5-4-3-1-3 3 0 1 0 1zM262 741l4-2 1 4-2 1-2 1-2-3zM292 736l-1 4 1 1 3-3-2-2zM294 744l-2-1 0-2 3-3 1 1 0 3zM299 743l1-2-2-3-2 1 0 3zM305 740l-4 0-1 1-1 2 6 1 1-3zM310 739l2-1 1 1 0 4 0 1-2-1-1 0zM323 741l3-3 2 1 0 4-3 1zM231 746l1-1 1-1-1-2-3-1 0 1zM237 746l-3 2-2-3 1-1 3 0zM240 745l0-2-2-1-2 2 1 2 1 1zM247 744l-2 3-5-2 0-2 3-2 3 2zM253 746l1-3-6 1 4 4zM253 746l4 3 1-1-1-4-2-1-1 0zM265 744l1 2 3 0 0-2-2-1zM274 745l1 1 4-2-1-5-3 1zM295 748l4-4 0-1-3-1-2 2 0 3zM299 743l6 1 0 1-4 2-2-3zM323 747l-2-4-2 0-1 3zM239 750l0 1-1 0-3 1-1-2 0-2 3-2 1 1zM240 745l-2 2 1 3 6-3zM247 751l-1 1-7-2 6-3zM256 750l1-1-4-3-1 2 3 2zM290 747l0 4 1 0 3-4zM305 752l0-1 2-3 1 0 2 3zM312 753l1-1 0-6-5 2 2 3zM238 756l-4-2 1-2 3-1zM246 754l-1 0-2 1-2-1-2-3 0-1 7 2zM251 753l1 2 0 1-1 0-5-2 0-2 1-1 2 0 1 0zM256 750l-5 3-1-2 5-1zM256 750l1 3-5 2-1-2zM274 753l0-1 4-1 1 1 0 2-1 1-3-1zM285 755l0-3-3-3-2 3zM290 751l-3 3 1 2 6-2-3-3zM238 759l3-1 2-3-2-1-3 3zM246 754l-1 0 1 4 3 1 2-3zM257 753l-1 6-4-3 0-1zM257 753l4 4 0 1-3 1-2 0zM261 757l0 1 1 1 6-4-3-2-4 3zM274 758l3 1 1-2 0-2-3-1zM289 760l2-1-3-3-1-2-2 1-1 1-1 3zM288 756l6-2-1 5-2 0zM304 758l-5 1 0-4 3-1 2 2zM321 755l0-1-4 4 1 2 1 0 2-1zM326 756l-1-1-4 0 0 4zM238 759l0 3 6 1 0-4-3-1zM249 761l0-1 0-1-3-1-2 1 0 4 3 1zM249 761l0-1 6-1-2 4-3-1zM258 759l0 4 3 2 2-3 0-3-1 0-1-1zM267 763l0-1 0-1-4-2 0 3 3 3zM270 758l-3 3 0 1 5-1 0-2zM273 762l-1-1-5 1 0 1 5 1zM289 760l-6-1 0 1 3 3 3-1zM289 760l2-1 2 0 1 4-2 3zM240 767l3-1 1-3-6-1-1 2 0 1 1 1zM247 766l-2 3-2-3 1-3 3 1zM250 762l3 1 0 3-2 2-1-1zM265 766l-4 0 0-1 2-3 3 3 0 1zM266 766l0-1 1-2 5 1-4 3zM268 767l4-3 0 2-3 3zM283 760l-1 7 1 0 2-2 1-2zM289 760l3 6-2 1-1-1 0-4zM247 766l-2 3 0 2 1 1 3-1 2-3-1-1zM251 768l2-2 3 1 3 3-1 0-3 0zM265 766l-1 4 5 1 0-2-1-2-2-1zM281 768l-1 4-4 0-1 0-1-1 0-1zM290 767l0 1-4 2-3-3 2-2 4 1zM292 766l4 2 0 3-1 0-5-3 0-1zM251 768l4 2-3 4-3-3zM262 771l1 4 0 1-6-2 1-4 1 0zM281 773l-1-1-4 0 3 4 2-1zM285 777l2-3-1-2-5 1 0 2 3 2zM293 774l-1 1-1 0-2-1 1-6zM293 774l6 1 1-2 0-1-4-1-1 0zM311 777l1 1 2-1 0-1-4-2zM248 778l4-4 2 2-1 4zM258 779l-2-3-2 0-1 4 0 1 4 0zM258 779l-2-3 1-2 6 2-4 2zM274 777l-4-4-1 1 1 3 2 2 2-1zM284 777l-3-2-2 1-2 2 1 1 4 1zM287 780l-2-3 2-3 2 0 2 1 0 3-3 1zM292 782l2-5-2-2-1 0 0 3 1 3zM319 780l0-1-2-2-3-1 0 1 3 3zM243 781l5-3-1-2-5 1 1 2zM253 781l-1 2-3 2-1-1 0-6 5 2zM256 785l2-2-1-2-4 0-1 2 2 2zM258 779l-1 2 1 2 2 1 3-1-4-5zM285 785l-1 0-2-5 2-3 1 0 2 3 0 3zM288 779l3-1 1 3zM305 778l0 1 1-1 3 1-1-1-2-1zM314 777l-2 1 0 1 1 1 4 1 0-1zM254 785l-2-2-3 2 0 2 1 3 2 0 1-2zM256 785l-2 0-1 3 3-1zM256 785l2-2 2 1 1 3-1 1-2 1-2-2zM291 786l-3 0-3-1 2-2 4 0zM291 786l2 2 2-2-3-4-1 1zM297 784l-1-3-4 1 3 4 1 0zM262 792l-1 1-5-1 2-3 2-1zM291 786l2 2-1 2-2 1-2-5zM257 797l-1-1 0-4 5 1 0 3zM263 800l-5 1-1-2 0-2 4-1 1 0zM273 801l-5-2 3-3 2 0zM258 803l0-2-1-2-3 1 4 4zM265 801l-4 3-3-1 0-2 5-1zM273 801l-2 4-5-5 1-1 1 0zM284 798l-2 0-1 1-1 3 1 1 4-4zM276 806l1 1 4-4-1-1-2 0-2 1z"/><path fill="#d4e88a" d="M221 95l2-7 2 0 0 3zM227 93l4 0 1-2-1-7-6 4 0 3zM218 93l-6 3-2-1-1-2 3-3 5 0zM223 100l4-7-2-2-4 4-1 1 1 3zM223 100l3 0 3-1 2-6-4 0zM217 101l-5-5-2-1-1 2 2 2zM221 99l-4 2-5-5 6-3 2 3zM229 99l3 2 4-2-5-6zM239 103l-1-5-2 1-4 2 2 3 4 1zM223 100l3 0 4 8-7 0zM231 108l-1 0-4-8 3-1 3 2 2 3zM242 129l0 4 5 1 3-3-4-2zM238 133l-1-1 0-4 3 0 2 1 0 4-1 1zM173 136l-5 0 4 2zM240 138l1 2 6-5-5 1zM249 139l5-1 1-4-3-3-2 0-3 3 0 1zM174 135l-1 1-1 2 2 0zM235 147l1-6-1-1-1-1-2 5 2 3zM240 138l1 2 1 1-4 2-2-2-1-1 4-2zM255 144l-3-1 3-4 2 1 1 2zM226 140l1-1 2 4-3 3-3-1-1-1zM228 148l-2-2 3-3 3 1 2 3-1 0zM238 149l5-7-1-1-4 2-1 5zM246 143l0 4 3 2 2 0 0-1 1-5-3-1zM256 147l0 1-5 0 1-5 3 1zM256 147l4-1 1-3-3-1-3 2zM260 146l2 3 3-1 1-3-1-3-1 0-3 1zM282 149l-1 0-1-12 9 6zM296 139l-6 4 1 3 5 1 2-1zM194 147l0 3 3 1-1-3zM228 148l5-1-1 4-3 1-1-3zM268 151l-3-3 1-3 7 3-2 2zM291 146l-1 1-5 4-3-2 7-6 1 0zM259 153l1 2 0 2-9-2 2-2 4-1zM262 149l3-1 3 3-2 4-6 0-1-2zM266 155l8 3-3-8-3 1zM274 158l1 1 3 0 1-9-6-2-2 2zM282 149l-1 0-2 1-1 9 2 1 7-6-2-3zM294 152l-1 7 3-1 2-2-3-3 0-2zM298 159l0 6 1 1 4-1 0-1-3-4zM284 162l3 6-6 3 2-9zM278 166l2 5-3 1-1 0-4-3zM290 169l3 1 2 3 0 1-5 2-2-2zM270 176l6-4 1 0-1 3-2 3-3 1zM274 178l4 3 1 0-3-6zM283 175l-2 5-1 1-1 0-3-6 1-3 3-1 1 0zM285 175l1 3 0 1-5 1 2-5zM285 175l1 3 4 1 0-3-2-2zM290 176l5-2 1 3-5 4-1-2zM280 181l1 1 4 2 2-1-1-4-5 1zM322 187l1-1-3-1zM329 190l4 3 0-1zM351 219l-1 0-3 4 2-2zM347 223l-2 0-1 1 0 2zM340 235l0 3 0-2zM406 281l5 2 1 0 0-1-3-1-2-1zM444 288l2-1-2 0-1 0zM461 294l3 0 1 0-3-2-1 0zM474 297l-3-1 0 2 2 0zM471 296l-1 0 0 2 1 0zM486 304l2-1-3-1zM491 305l3-1-4-1zM505 307l1 0-2 0zM555 304l0-1 0 2zM597 306l1-1-5-1 2 2zM603 305l-5 0-1 1 1 1 3 1zM554 307l-1 3 1 1 1-1zM588 311l1 0 5 0-1-3-3 0-1 1-1 1zM555 310l-1 1 0 2 1 1 1 0 3-3-2-1zM556 314l3 2 2-1 1 0 0-1 0-2-3-1zM570 314l1-3-4 0-1 2 1 0 3 2zM570 314l3 2 1 0 2-1-5-4zM588 311l-1 3 1 2 2 0 1-2-2-3zM589 311l2 3 2 0 2-2-1-1zM588 316l-3 3 2 1 3 2 1-3-1-3zM558 319l-5-1 1 4 3 0 0-1zM598 323l1 0 3-1-1-4-3 1zM549 328l0 2 2 0-1-2zM549 330l-1 2 1 3 3-2-1-3zM550 338l0 1 2 1 5-1 0-1-1-2-2 0-1 1zM556 336l1 2 5 0 0-3-2-1-3 1zM563 334l-1 1 0 3 1 2 2-1 2 0 0-4-2-1zM571 337l-4-2 0 4 2 0zM557 339l0 4-4 0-1-3zM562 342l1-2-1-2-5 0 0 1 0 4zM575 342l1-2-3-2-2 4 3 0zM570 344l-3-2-3 3 0 1 1 1 1 0 3 0zM574 342l-3 0-1 2-1 3 6-1zM542 350l3 3 1-4-2-1zM545 346l-1 2 2 1 3 0-1-2zM549 349l0 4 5-2-1-3zM538 353l0 2 0 1 2 0 2-6-1-1zM542 350l3 3-5 3zM545 353l2 1 2-1 0-4-3 0zM540 356l5-3 2 1-1 3-1 2zM490 364l4-2-1-1-3-1-1 3zM497 361l0-2-3-2-1 4 1 1 2 1zM533 359l2 1-3 3-2 0-1-4zM537 363l-2-3 3-3 1 2zM550 358l-4-1-1 2 0 1 1 2 3 0 1-3zM499 367l-3-3-4 3 6 1zM517 363l1 3 2 0 0-1-2-3zM529 369l1-1-2-4-1 0-2 4zM546 366l-1-4 1 0 3 0 3 1-4 3zM564 366l2 2 2-1-2-2zM31 372l5-1-5 0zM437 370l-4 3 0-1 3-3zM506 370l0-2 4-2-2 5zM516 370l-2-1 0-2 4-1 2 0 1 1zM509 373l0-2 4-1 2 6-4 0zM521 376l2-1-1-2-2-1-2 1zM522 373l3-4 1 2-1 4-2 0zM536 372l2 2-1 2-3-1 0-1zM506 379l1-1-1-3-1-1-2 1 0 5zM509 373l-3 2 1 3 2 0 2-2zM520 378l-1 0-4-2 3-3 3 3 0 2zM530 377l0-3-5 1 1 4zM438 380l-4-1-2 6 0 1 4-1zM507 385l-5-1 0-4 1 0 3-1 2 5zM508 384l2 0 2-1-1-3-2-2-2 0-1 1zM520 383l-1 0-2-3 2-2 1 0zM525 381l-1 2-1 1-3-1 0-5 1 0zM469 382l-1 0-3 3 0 1 1 1 4 1 2 0 0-2zM502 380l-1 0-5 3 2 4 3 0 1-3zM523 384l-1 4-5 0 1-4 1-1 1 0zM436 386l0-1-4 1 0 1 2 5 4-3zM441 387l-1-1-4 0 2 3 2 2zM445 388l-4-1-1 4 0 2 4-3 1-1zM506 388l3 3-4 2-2 0 0-5zM506 388l3 3 1-3-4-1zM513 392l1 1 2 1 2-5-1-1-3 0-1 3zM524 389l-1 0 3 5 2-4zM528 387l2-2 3 1 0 3-1 2-3-2zM434 394l-2 2-4-2 2-6 2-1 2 5zM440 391l-2-2-4 3 0 2 6-1zM526 394l-3 1-1-4 1-2zM574 395l1 1 1 0-3-3zM523 398l0-3-5 0-1 2 5 2zM530 396l-3-2-1 0 1 4 2 1zM548 396l-4 2 4 2 0-2zM553 399l1-1-2-3-2-1-2 2 0 2 5 2zM559 399l0-1-3-2-2 2-1 1zM445 403l-1-3 0-2 4 0 1 2-1 2zM455 398l0 1 0 3 1 1 6 0-1-3zM517 401l0-4-5 1-1 1 4 4zM522 399l-5-2 0 4 3 1 1-1zM523 398l2 1 0 3-4-1 1-2zM537 401l2-2 3 1 1 2-2 2-3 0zM548 400l-2 3-3-1-1-2 1-1 1-1zM553 400l-5-2 0 2 3 2 2-1zM574 400l0 1 1 2 1 0 2-1 0-2zM576 403l1 1 1 0 0-2zM38 404l3 1 0-2-1-1zM450 407l0-3-2-2-3 1 0 1 1 2zM488 404l-3-2-2 0 0 5 1 0zM504 408l1-2-1-2-3 0 1 3zM514 407l0 1 4-2-3-2zM549 409l1-3 0-1-4-1-1 3zM555 403l-2 4-3-1 0-1 1-3 2-1zM568 403l-2 3 1 2 2 0 2-3-1-1zM577 404l0 4 2-1 0-1-1-2zM450 407l3 1 0 1-6 3zM471 410l1-3-3-2-5 2 0 2 2 1zM485 412l-3-1 2-4 2 2 0 1zM520 407l-3 4-1 0-2-3 4-2zM521 411l-3 1-1-1 3-4 0-1 3 1zM549 411l-5 1-1-1 1-4 1 0 4 2 0 1zM562 409l3 1 2-2-1-2-3-1-1 3zM177 408l3 5-1 0-8 1 5-6zM439 412l4 5 0-5zM471 410l1-3 5 4-1 2-2 1-3-2zM515 417l-1 1-1 0-2-4 1-2 3 0zM519 415l-1-3-1-1-1 0-1 1 0 5 3 0zM532 411l0 4-2-1-1-3zM566 415l2 0 3-4-1-1-4 2zM574 413l-2-3-1 1-3 4 4 0zM574 413l4-3 1 1-1 3-2 1zM38 423l2-1-3 1zM438 417l0-2 1-3 4 5 0 1zM453 421l1-2-2-4-3 1-1 2 0 1zM463 422l2 1 2 0 0-1-4-6zM474 414l0 4 6-1 0-1-4-3zM487 417l-2 3-4 0-1-3 0-1 2-2 2 0zM498 414l4 2-1 3-4 0-2-4zM520 420l-2-3-3 0-1 1 5 3zM523 420l5 0-1-2-3-1-2 3zM560 415l1 4 1 0 3 0 1-4-4 0zM45 423l1-2-3 1zM436 419l-1-1-4 2 4 8 1-1 2-5zM436 419l2 3 4-1 1-3-5-1zM442 421l2 4 4 0 0-6 0-1-5 0zM462 422l-4 3-1-2 1-3 2 0zM474 418l-1 2 3 4 3-2 2-2-1-3zM485 420l1 2-3 3-4-3 2-2zM487 417l-2 3 1 2 3 2 3-1 0-3-1-3-2 0zM522 420l-2 0-1 1-2 4 2 1 2-1zM38 423l-1 0 0 2zM428 421l-2-1-2 1 2 6 2 0zM431 420l-1 0-2 1 0 6 3 2 1 0 3-1zM477 429l1 0 5-3 0-1-4-3-3 2 0 2zM525 424l-1 2-3-1 1-5 1 0 0 1zM525 424l-1 2 2 3 5-2-4-4zM575 426l3 2 1-2-2-3-3 0 0 1zM581 423l-3-1-1 1 2 3 1 0zM580 426l2 0-1-4 0 1zM431 429l-6 3-2-1-1-2 4-2 2 0zM445 433l-4-6 3-2 4 0 1 1zM521 431l-2-5-2-1-1 7 1 0zM131 428l0 1 1-1zM135 432l-1-1 1 2zM432 429l0 1-5 7-2-5 6-3zM434 435l-2-5-5 7 0 2 1 0zM445 433l-4-6-3 1 2 7 2 2 3-2zM500 430l-2 5-2 1-2-6 2-2 4 1zM583 429l-3 2 1 2 1 2 1 0 1-1zM126 433l-1 2 1 2 0-3zM426 439l-5 1-2-4 0-1 1 0zM434 435l6 0 2 2 0 1-3 1-4 0zM544 433l-1 1-1 4 4 2 2-1-1-3zM550 438l2-2 2 0 1 1-2 4zM582 435l-1 1 1 3 1 2 2-1-1-4-1-1zM534 439l-1 2 1 3 2 0 2-2 2 1zM546 441l0-1-4-2-2 5 3 0zM548 439l-2 1 0 1 1 2 1 1 2 0 1 0zM550 438l-2 1 3 5 3 0 0-1-1-2zM553 441l1 2 2-1 0-4-1-1zM568 443l1-1-1-3-3 0zM583 441l-1 2 0 1 3 0 0-1 0-3zM418 445l2-1 2 0 1 2-3 2zM446 449l-5-3 0-1 2-1 3 2zM573 443l3 2 1 0 0-1-3-3zM523 460l2 4 2 0-2-5zM525 464l0 1 2 2 1-1-1-2zM81 465l-1 0 1 1zM87 466l-2 2 2-1zM522 468l-3 0 0 4 1 0 1-1 2-1zM525 465l-3 3 1 2 4-3zM518 473l-4 0-1 5 1 0 4-4zM513 478l-1-1-4 3 3 2 3-4zM144 485l0-1-2 3zM505 485l-7 2-1 3 8-4zM357 496l-3-1 0-7 3-1 1 2zM357 496l1-7 4 6-2 1zM364 486l4 3 1 1 0 3-3 2-2-1zM369 490l0 3 2 2 4-1 1-1-2-2zM375 494l1-1 5-4 1 2-1 5-5 1zM384 496l2-1-4-4-1 5 1 1zM486 495l1 0 4-2-2-1-3 2zM493 490l-2 3 2-1zM351 496l3-1 3 1 0 2-3 2zM357 496l0 2 2 3 3-2-2-3zM366 499l3 0 1-1 1-3-2-2-3 2zM371 495l4-1 1 3 0 1-6 0zM376 498l0 1 2 1 4 0 0-3-1-1-5 1zM389 498l0-2-1-1-2 0-2 1 0 2 1 1 4 0zM395 498l-1-1-1-2-4 1 0 2 5 3zM483 498l4-3-1 0-3 2zM359 501l-1 2 1 1 4-1 1-3-2-1zM365 506l1-2 0-5-2 1-1 3zM382 501l1 1-3 2-1 0-1-4 4 0zM389 503l0-4-4 0-2 3 3 1 2 0zM389 503l0-4 0-1 5 3 0 1zM431 499l-2 4-4-1 5-4zM365 507l0-1 1-2 5 1 0 1-3 2-1 0zM375 508l3-2-3-3-2 3 1 2zM386 503l-3-1-3 2 4 3zM353 510l3-4 2 2 0 2-3 1zM394 508l0 5-3 0 0-1 0-4 2-1zM469 505l-2 2 0 3 3-2zM352 516l1-6-2 1-2 4 1 0zM354 517l2-2-1-4-2-1-1 6zM355 511l3-1 2 0 0 5-4 0zM360 510l0 5 1 0 3-1 1 0-2-6zM391 513l-2 3 1 1 4-2 0-2zM394 513l0 2 1 3 3-4-2-1zM354 517l6 1-3 2-3-2zM360 518l1-3-1 0-4 0-2 2zM360 518l1-3 3-1 2 3 0 1-4 2zM378 519l-2-4-2 0-1 1 2 5zM458 515l-4-1-2 1 4 5 2-3zM463 512l-2 1-3 2 0 2 2-1 4-3zM353 519l0 4-1 0-3 0 1-4zM354 518l3 2 1 4-1 0-4-1 0-4zM360 524l2-1 0-3-2-2-3 2 1 4zM385 525l-5-3 1-2 2-1 2 2zM392 522l-1 0-4-1 1-5 1 0 1 1 3 4zM451 524l2-3-3-3-2 5zM360 524l-2 0-1 0 0 2 4 2zM360 524l2-1 3 1-3 6-1-2zM385 527l-1 0-3-1-1-3 0-1 5 3zM385 527l3-1 3-4-4-1-2 0 0 4zM451 524l-3-1-2 0-1 1 1 1 2 2zM362 530l4 1 3-5-3-2-1 0zM377 532l-3 0 0-3 4-1 0 3zM378 531l0-3 3-2 3 1 0 3-1 1-2 1zM385 527l-1 0 0 3 5 1 0-4-1-1zM438 529l-1 2-3-1 0-3 4 0zM445 528l-3-1-1 3 1 1 3 0 0-1zM362 530l4 1 1 2-1 2-1 1-3-1-2-4zM371 532l-1 5-4-2 1-2zM372 538l1 0 1-1-1-5-2 0-1 5zM377 536l-3 1-1-5 1 0 3 0zM379 536l1-1 1-3-3-1-1 1 0 4zM433 535l1-4 0-1 3 1 1 3zM379 536l0 1-2 3-2 0-2-2 1-1 3-1zM422 539l3 0 0-3-3-1 0 3zM432 536l1 2 4 0 1-1 0-3-5 1zM441 533l-3 1 0 3 3-3zM367 541l4-2 1 4-3 2-2-1zM410 542l-1-1 0-2 4-1 1 4-1 1zM368 548l1-1 0-2-2-1-2 2zM402 544l1-1 1 0 4 3-2 2zM409 546l-1 0-4-3 3-2 2 0 1 1zM418 547l5 0-1-4-1 0-3 0-1 2zM426 542l-1 0-3 1 1 4 1 0 2 1 0-1zM430 541l-1 1 0 3 3-2zM352 553l0-8-1 0-2 6 2 1zM357 549l2 4 2-2-1-3-3 0zM365 551l-4 0-1-3 3-2 1 0zM365 551l-1-5 1 0 3 2 0 2-2 1zM368 550l4 1 1-3-4-1-1 1zM395 551l0-4 1-1 3 1zM412 547l1 2 4 1 1-3-1-2zM352 553l5-4 2 4-4 1zM359 557l0-4 4 2 0 3zM365 551l-4 0-2 2 4 2 3-4zM421 551l-4-1-2 6 1 0 5-4zM345 557l3 2 1 0 1 0 2-6-1-1-6 4zM352 553l3 1 0 1-3 4-2 0zM377 554l2-2 2 4-1 3-2 0-1-1-1-3zM415 556l-3-2-5 3 4 2 1 0 3-2zM349 565l-1-1-2-2 2-3 1 0 2 5zM353 564l-2 0-2-5 1 0 2 0 2 2 0 3zM354 564l0-3 3-1 2 2 1 2-3 1zM357 558l2-1 4 1-4 4-2-2zM365 563l1 0 4-1-1-3-5 1zM381 564l2-1-1-3-2-1-2 0 1 3zM386 563l1-5 3 0 2 2-2 3zM399 562l-1-2 3-3 4 2-2 2zM407 563l-2-4-2 2 1 2zM407 557l-1 0-1 2 2 4 3-3 1-1zM349 568l0-3-1-1-2 2 0 2 3 1zM362 565l2 3 3-2-1-3-1 0zM370 568l2-5-2-1-4 1 1 3zM377 565l2 1 2-2-2-2-2 2zM399 563l-1 3 4 1 1-1zM354 572l-6-1 1-2 0-1 3 0zM359 570l2-5 1 0 2 3zM379 567l2 2-4 3-1-2zM365 575l1-3 6 3 0 1-5 1-1 0zM366 572l6 3 1 0-1-3-2-4-4 3zM381 569l2 3-1 2-2 1-3-3zM351 579l2-4 1-1 3 2-1 3-3 2-1-1zM365 575l-2 1-2 3 0 2 1 0 4-2 0-2zM380 575l-1 3-3 0-2 0-2-3 1 0 4-3zM348 582l-2 0-1-3 1 0 1-1 4 1 1 1-2 1zM356 585l-1 0-2-4 3-2 2 4-1 1zM366 577l1 0 3 2 0 1-2 2-2-3zM367 583l1-1 2-2 2 1 1 3zM394 579l-1 0 0 2 0 1 4-1zM362 587l4 2 1-4 0-1-3 0zM367 585l2 2 4-3-6-1 0 1zM369 587l0 1 4 0 1-2-1-1 0-1zM389 584l-1-1-3 1-1 0 0 3zM393 581l-4 3 3-1 1-1zM362 587l-1 3-1 1-3-1-1-5 1-1zM366 589l1 1 1 0 1-2 0-1-2-2zM349 594l2 5 3 0 1-4-1-1zM365 594l0 4-2-1-1-2 3-2zM351 599l-1 0 0 3 2-1 3 0 0-1-1-1zM362 598l-1 4 1 0 1 0 2-4 1 0-1 0-2-1zM359 602l-2-2-2 0 0 1 1 0 1 2 2 0zM362 602l-1 0-2 0 0 1 3 1zM342 605l-1 0 0 5 1 0 2-4zM341 610l-2 1-1 1 0 1 1 1zM340 631l-2-5 0-2 0 2zM336 638l2 5 3-1 0-3-1-1-3 0zM338 643l0 1-1 2 4 0-1-1 1-3zM337 646l2 5 1 0 2 0-1-5zM343 658l0 1 0-2zM343 669l-1 3 1 0 1 0 1-4zM343 672l-2 3 2 1 1-3zM283 677l2-3 3 2-1 2-5 0zM341 675l-4 1 0 1 4 2 1-2 1-1zM334 687l0 5 1 0 2-5-1 0zM213 693l-2-5-3 2 1 5zM217 695l-4-2-2-5 2 0 4 0 2 2zM223 696l0-1-1-6-3 1-2 5zM228 692l-5-3-1 0 1 6zM229 693l-1-1-5 3 0 1 4 2 3-3zM229 693l1 2 5-1-1-2-4-1zM209 697l0-1-2 0 1 3zM217 695l-4-2-4 2 0 1 0 1 6 2zM221 701l-1 1-5-2 0-1 2-4zM326 699l-2-1-2 1 0 1 1 2 1 2 2-1zM214 708l-1-4 0-1-2 0zM219 704l1 3-5 2-1-1-1-4zM228 704l-5 3 0-1 0-3 4 0zM255 704l0 3 3 0-1-3zM217 712l-1-1-1 1 3 5zM234 715l0-5-5 1 0 1 1 2zM234 715l0 1 3-1 1-4-4-1zM239 710l-1 1-1 4 5 1-2-5zM329 711l-2 1-2 2 4 2-1-3zM222 718l-2-2-2 1 2 3 1 1zM224 713l-2 0-1 0-1 3 2 2 3-1zM230 714l-2 4-1-1 0-5 2 0zM234 715l0 1-2 3-4-1 2-4zM234 716l3 4 1-1-1-4zM238 719l-1-4 5 1zM225 717l0 6-3 0-1-2 1-3zM232 719l-4-1 0 5 4-2zM237 724l-2 0-3-3 0-2 2-3 3 4zM240 723l2-6 0-1-4 3-1 1 0 4zM246 722l-2 1-2 1-2-1 2-6zM222 723l-1 0 3 5 1 0 0-2 0-3zM228 723l-3 0 0 3 5 2 1-1zM232 721l3 3-4 3-3-4zM327 726l4-1-1-5-2 0zM328 726l3 2 0-3-4 1zM228 732l1-1-4-3-1 0 2 4zM230 728l-1 3 6 1 1-3-5-2zM248 731l1-3-1-1-2 1-1 1 0 1 1 1zM235 736l-5 0-2-2 0-2 1-1 6 1zM333 735l-1-5-2 1 0 1 0 1 1 3zM246 738l-3 2-1 0 1-5zM331 736l-1 3 3 2 1 0 0-2-1-2zM329 747l4-1 0-1-1-1-3 1zM234 748l-2-3-1 1 1 4 2 0zM247 744l-2 3 2 4 2 0 3-3-4-4zM255 750l-3-2-3 3 1 0zM329 747l0 1 3 2 1-4zM238 757l0-1 0-5 1 0 2 3zM296 753l3 2 3-1 0-3-5 1zM238 759l0-2 0-1-4-2-1 0 2 4zM241 758l3 1 2-1-1-4-2 1zM252 756l4 3-1 0-6 1 0-1 2-3zM329 753l-3 3 5-3zM238 759l-3-1 0 1 2 5 1-2zM256 759l-1 0-2 4 4 1 1-1 0-4zM318 760l-2 2 0 1 1-1 2-2zM249 761l-2 3 0 2 3 1 0-5zM256 767l1-3-4-1 0 3zM259 770l-3-3 1-3 1-1 3 2 0 1zM316 762l-2 0-1 0 1 3 2-2zM245 771l0-2-2-3-3 1 1 4 1 1zM277 766l4 2-7 2 0-3zM311 766l-2 4 1 2 3-5zM242 772l-1-1-1 0 1 5zM247 776l-1-4-1-1-3 1-1 4 1 1zM246 772l3-1 3 3-4 4-1-2zM258 770l-3 0-3 4 2 2 2 0 1-2zM298 784l3-2 0-1-4-2-1 2 1 3zM249 787l0-2-1-1-2 0-1 1 1 2zM250 790l-1-3-3 0 2 3zM256 787l2 2-2 3-4-2 1-2zM295 786l-2 2-1 2 2-3 2-1zM256 796l0-4-4-2-2 0-1 3 2 4zM289 792l-1 0-5 1-1 0 2 3 5-1 0-1zM257 799l0-2-1-1-5 1 1 1 2 2zM273 801l0-5 3-2 1 1 1 1-1 3zM285 799l1-1 3-3-5 1 0 2zM265 806l-2 0-1 2 1 2 6 0 1-2zM272 808l1 2 2 0 2-3-1-1zM270 808l-1 2 4 0-1-2z"/><path fill="#a6d66a" d="M240 89l-5 3-3-1-1-7 0-1 10 4zM239 96l-1 2-2 1-5-6 1-2 3 1zM168 136l0-4-4-1 2 5zM242 136l5-1 0-1-5-1-1 1zM239 138l-4 2-1-1-3-3 6-4 1 1zM240 138l2-2-1-2-3-1 1 5zM174 138l2 1-2-4zM232 144l2-5-3-3-2-1-2 4 2 4zM247 135l2 4 0 3-3 1-3-1-1-1-1-1zM249 142l3 1 3-4-1-1-5 1zM258 142l-1-2 1-1 3 0 3 3-3 1zM237 148l1-5-2-2-1 6zM265 142l8-6 0 12-7-3zM256 148l-5 0 0 1 2 4 4-1zM256 147l0 1 1 4 2 1 3-4-2-3zM291 146l-1 1 3 4 1 1 1-1 1-4zM285 151l2 3 6-3-3-4zM292 160l1-1 1-7-1-1-6 3zM284 162l8-2-5-6-7 6 3 2zM296 158l2 1 2 1-1-2-1-2zM286 178l0 1 1 4 4-1 0-1-1-2zM360 209l2 2 2-2-3-1zM556 284l-1 2 1 0zM555 293l0-1-1 2 1 3zM559 316l0 2 0 1 2-4zM562 314l0 1 0-1 1 0zM573 316l-3-2 0 1 3 2zM579 315l3 1 2 1-1-2zM559 318l-1 1-1 2 2-2zM554 322l-1 2 1 1 1-2 2-1zM598 323l-3 0-1 0zM554 336l2 0 1-1 0-1zM560 334l0-1-2-1-1 2 0 1zM560 334l2 1 1-1 1 0-4-1zM563 334l2 0-1 0zM573 338l3 2 1-1zM577 339l-1 1-1 2 4 2 1-1-2-4zM578 346l1-2-4-2-1 0 1 4 2 0zM579 344l-1 2 2-2 0-1zM561 347l-2 0 0 3 3-2zM561 347l1 1 2-1 1 0-1-1zM556 352l-4 3 3 1 1-2zM559 350l-3 2 0 2 2-3zM556 358l3 2 2 0-5-3zM566 365l-1-1-1 2zM570 371l1 0-2-3zM570 376l1 1 0-4zM515 380l-1 3-1 0-1 0-1-3 4-2zM570 381l0 1 0 1zM575 396l-1 4 4 0-1-3-1-1zM579 411l0-4-2 1 1 2zM553 415l1-5 0-1 4 2 0 3zM580 415l-1-4-1 3zM578 419l0 3 3 1 0-1-1-4zM427 439l-1 0-6-4 3-4 2 1 2 5zM583 435l1 1 0-2zM124 444l1 1 0-2zM534 444l0 2 2-2zM547 443l-1-2-3 2 3 1zM547 443l-1 1 2 0zM554 444l-3 0-1 0 4 1zM560 443l-4-1-2 1 0 1 0 1 1 0 4 0zM561 443l-1 0-1 2 3 0zM567 443l-5-1-1 1 1 2 4 0zM571 445l-3-2-1 0-1 2zM573 443l-2 2 5 0zM577 445l5 0 0-1 0-1-4-1-1 2zM585 444l-3 0 0 1 3 0zM585 444l0 1 1 0-1-2zM522 458l1 2 2-1-2-5 3-2-1-2-1-1-2 3-1 2zM525 450l1 2 1-1zM519 472l-1 1 0 1 2-2zM388 490l0 5-2 0-4-4-1-2 2-1 3 0zM360 496l2 3 2 1 2-1 0-4-2-1-2 1zM384 498l-2 3 0-1 0-3 2-1zM366 499l3 0 2 3 0 3-5-1zM370 498l-1 1 2 3 4-1 1-2 0-1zM375 501l0 2 3 3 1-2-1-4-2-1zM384 498l1 1-2 3-1-1zM358 508l-2-2 0-2 2-1 1 1 2 2zM363 508l2-1 0-1-2-3-4 1 2 2zM371 505l0-3 4-1 0 2-2 3-2 0zM382 510l2-2 0-1-4-3-1 0-1 2zM388 503l-2 0-2 4 0 1 4 0 2-1zM358 508l3-2 2 2-3 2-2 0zM363 508l2-1 2 1-2 5 0 1zM367 508l1 0 1 2-1 3-3 0zM371 506l2 0 1 2-1 3-4-1-1-2zM382 510l-4-4-3 2 3 4zM388 508l-4 0-2 2 1 2 3 0 1 0zM365 513l3 0 2 1-1 2-3 1-2-3 1 0zM368 513l1-3 4 1 0 3-3 0zM373 514l1 1 2 0 1 0 1-3-3-4-1 0-1 3zM383 512l-1-2-4 2-1 3 3 0zM388 516l-2-4-3 0 1 5zM391 512l-4 0-1 0 2 4 1 0 2-3zM366 517l3-1 2 2-1 1-3 1-1-2zM371 518l2-2 1-1-1-1-3 0-1 2zM381 520l2-1-3-4-3 0-1 0 2 4zM383 519l-3-4 3-3 1 5zM387 521l1-5-4 1-1 2 2 2zM362 520l4-2 1 2-1 4-1 0-3-1zM369 526l3-5-2-2-3 1-1 4zM370 519l1-1 2-2 2 5-3 0zM376 524l-1-3 3-2 3 1-1 2 0 1zM369 526l3-5 3 0 1 3-5 3-1 0zM378 528l-4 1-3-2 5-3zM381 526l-1-3-4 1 2 4zM453 521l-2 3 3-3zM369 526l-3 5 1 2 4-1-1-5zM370 527l1 0 3 2 0 3-1 0-2 0zM446 525l-1 3 0 2 3-3zM442 531l-1 2 0 1 4-3zM433 539l-3 2 2 2 2-2zM433 539l1 2 2-2 1-1-4 0zM424 547l-1 2 0 1 3-2zM423 549l-2 2 0 1 2-2zM415 556l0 1 1-1zM411 559l-1 1 2-1zM404 563l0 2 3-2zM398 566l-1 2 1 3 1-2 3-2zM369 591l4-3-4 0-1 2zM373 588l1-1 3 0-3-1zM380 587l3 0 1 0-4-1zM367 594l2-3-1-1-1 0-2 2 0 1 0 1zM365 594l0 4 1 0 1-4zM342 605l2 1 1-2 1 0-1 0zM362 604l1-2-1 0zM338 613l-1 1 1 2 1-2zM341 637l1-2-1-1zM340 638l1 1 0-2zM344 662l-1 1 2 2-1-2zM343 672l1 1 0-1zM337 687l1 0 0-2zM207 690l-4-1 1 2 1 2zM334 693l-1 1 1 1 0-1 1-2-1 0zM330 699l-1 2 1 2 1 0 2-4zM329 706l1 1 1-3-1 0zM330 703l0 1 1 0 0-1zM216 711l-1-2-1-1 1 3 0 1zM221 721l-1-1 1 3 1 0zM240 723l2 1 1 2-3 3-2-2-1-3zM330 731l2-1-1-2-3-2zM228 734l0-2-2 0 0 1 1 3zM331 736l2 1 0-2zM229 741l0-1 0 2zM333 741l-1 3 1 1 1-4zM234 754l1-2-1-2-2 0 1 4zM241 771l-1-4-2-1 2 5zM243 781l0-2 0 2 0 1zM305 778l-1 0-3 3 0 1 4-3zM311 780l2 0-1-1zM319 780l-2 0 0 1 3 0zM246 784l-2-2 1 3zM296 786l2-2-1 0zM250 790l-2 0 1 3zM289 792l0 2 3-4-2 1z"/></g><polygon points="120.0,20.0 360.0,20.0 280.0,71.0 255.7,76.0 232.0,84.5 208.0,88.0 189.5,88.0 164.0,91.3 150.0,92.0 120.0,70.0" fill="#fff"/><polygon points="10.0,381.0 31.6,368.0 79.7,366.0 96.0,360.0 101.0,376.0 92.0,383.0 75.0,383.0 60.0,380.0 40.0,383.0 20.0,386.0" fill="#fff"/><polygon points="85.0,388.0 98.0,386.0 107.5,396.0 103.0,403.0 88.0,402.0" fill="#fff"/><polygon points="558.5,428.9 560.1,437.6 564.1,434.4 571.2,425.7 579.2,424.9 583.9,429.7 582.3,437.6 585.5,446.3 574.4,445.5 561.7,445.5 554.6,442.3 556.2,436.0" fill="#000"/><circle cx="294.8" cy="556" r="2.6" fill="#5d6a32" fill-opacity="0.8"/><circle cx="258" cy="252.6" r="4.6" fill="#5a4030" stroke="#000" stroke-width="1.6"/><circle cx="148.5" cy="482.2" r="3.6" fill="#000"/><circle cx="144.4" cy="511" r="3" fill="#000"/><circle cx="144.4" cy="514.5" r="3" fill="#000"/><circle cx="327.8" cy="707.8" r="3" fill="#000"/><circle cx="329.8" cy="734.7" r="2.2" fill="#000"/><circle cx="560" cy="313" r="3" fill="#000"/><path d="M219.9,151.0L221.0,148.4L222.6,146.0L222.4,143.8L222.0,141.6L222.0,139.4L221.7,137.2L223.9,136.6L225.9,135.3L228.0,134.5L230.5,134.7L232.5,133.6L234.8,132.2L237.2,130.9L239.8,130.0L242.1,130.3L244.3,129.5L246.7,129.6L248.9,129.0L250.7,130.6L252.4,132.3L254.6,133.5L256.1,135.4L258.3,136.0L260.6,136.7L262.9,136.8L265.2,137.2L267.5,137.2L269.7,136.9L271.9,136.0L274.2,136.3L276.5,138.0L279.0,139.4L281.5,140.8L283.8,141.5L286.2,142.1L288.1,143.9L290.5,144.4L293.3,145.7L296.0,147.0M219.9,151.0L220.6,153.2L221.7,155.3L219.6,156.8L218.0,158.9L219.3,161.2L220.5,163.5L222.5,165.4L223.6,167.8L225.3,169.8L226.7,171.6L227.6,173.7L229.0,175.5L230.7,177.0L233.2,178.0L235.5,179.4L237.7,180.9L239.8,182.5L241.3,184.3L243.4,185.1L245.1,186.7L247.0,187.9L249.0,190.5L250.7,193.3L251.3,195.7L252.0,198.1L252.5,200.6M171.0,213.8L173.3,214.4L175.5,215.4L177.7,216.2L180.0,216.9L182.2,217.8L184.5,218.0L186.7,218.7L189.1,218.7L191.5,219.1L193.9,219.2L196.3,218.7L198.4,220.0L200.8,220.6L202.7,222.4L204.8,223.6L207.2,224.2L209.6,223.9L211.7,222.9L214.1,222.4L216.2,221.1L218.6,221.1L220.8,220.2L223.0,219.2L225.3,218.7L227.5,217.1L230.3,216.6L232.5,215.1L235.0,214.7L236.9,212.9L239.4,212.7L241.6,211.5L243.8,210.0L246.0,208.4L248.3,207.2L250.7,206.0L251.9,203.4L252.5,200.6M252.5,200.6L255.4,199.1L257.9,197.0L260.4,197.9L262.4,199.8L265.0,200.6L267.0,202.4L269.6,203.9L272.4,205.0M272.4,205.0L275.7,203.6L274.5,200.2L274.6,197.9L275.5,195.8L275.9,193.5L275.7,191.2L277.1,189.5L278.9,188.1L279.7,186.0L281.3,184.4L283.5,183.5L285.8,183.5L288.0,182.5L290.3,182.2L292.6,182.0L294.9,181.8L297.2,181.9L299.4,181.3L301.7,181.1L304.0,181.5L306.2,179.8M264.3,276.2L266.0,274.6L266.8,272.4L268.8,271.0L269.7,268.9L269.7,266.6L268.7,264.4L268.3,262.2L267.9,259.9L266.1,258.0L264.3,256.2L263.1,253.9L261.7,251.6L260.3,249.4L258.9,247.2L258.8,244.9L258.9,242.6L258.2,240.4L257.9,238.1L258.1,235.8L258.7,233.6L258.4,231.3L258.7,229.0L259.7,226.9L259.5,224.6L259.7,222.3L261.1,220.1L262.0,217.5L263.7,215.5L265.2,213.3L267.1,211.3L268.4,208.8L270.7,207.2L272.4,205.0M189.1,218.7L189.1,221.0L189.9,223.3L189.4,225.7L189.7,228.0L189.7,230.4L190.0,232.7L192.2,232.9L194.4,233.7L196.6,234.2L198.9,233.8L201.1,234.2L203.2,235.3L205.4,236.0L207.7,235.6L209.9,236.3L210.7,238.4L211.4,240.5L212.4,242.4L213.2,244.5L214.0,246.6L214.7,248.7L215.4,250.8L217.1,252.7L219.2,254.3L220.9,256.2L222.4,258.3L224.8,259.5L226.2,261.7L226.6,264.4L226.8,267.1L227.8,269.8L228.0,272.5L230.1,270.9L232.7,270.1L234.7,268.2L237.1,267.1L239.2,266.4L241.4,266.3L243.7,266.2L245.7,265.2L248.0,265.3L249.5,267.5L250.9,269.8L251.7,272.3L253.4,274.4L256.2,276.1L258.9,278.0L261.7,277.5L264.3,276.2M272.4,205.0L273.8,207.0L274.8,209.3L275.6,211.7L276.8,213.8L276.0,216.0L276.1,218.3L275.7,220.6L278.6,221.5L281.3,222.9L283.6,222.7L285.8,223.4L288.1,223.2L290.3,224.1L292.6,224.0L294.8,224.8L297.2,224.6L299.5,225.1L301.7,226.2L304.0,226.3L304.8,228.9L305.6,231.5L306.8,234.0L309.0,235.2L311.3,236.4L313.3,238.0L315.1,239.8L317.5,240.7L319.5,242.3L321.8,243.2L323.9,244.4L326.1,245.5L328.3,246.5L330.4,247.7L333.2,247.4L335.6,245.8L338.3,245.4M264.3,276.2L265.5,278.2L265.3,280.7L266.1,282.8L266.7,285.0L267.9,287.0L269.3,288.8L270.2,290.9L271.6,292.8L273.3,294.3L272.4,296.8L270.7,299.0L269.7,301.5M269.7,301.5L272.1,301.6L274.4,301.2L276.7,300.7L279.0,300.2L281.3,300.0L283.6,299.7L286.0,299.7L288.2,299.8L290.2,301.0L292.4,301.3L294.4,302.4L296.7,302.2L298.7,303.3L300.7,305.1L303.1,306.2L305.3,307.8L307.8,308.8L308.3,311.2L309.2,313.5L310.4,315.6L311.4,317.8L311.2,320.1L309.7,322.1L309.6,324.5L308.7,326.6L307.8,328.7L305.9,330.4L304.1,332.3L302.4,334.2L300.2,335.6L298.7,337.8L296.8,339.5L295.2,341.5L293.5,343.4L291.5,345.0L290.7,347.5L290.8,350.1L290.1,352.6L290.2,355.2L289.7,357.7L291.2,359.7L292.1,362.0L293.0,364.2L294.8,366.0L295.4,368.4L296.9,370.4L299.3,369.9L301.6,368.9L303.9,368.0L306.0,366.8L304.9,364.8L304.9,362.5L304.5,360.3L303.1,358.5L302.7,356.3L302.3,354.1L301.2,351.9L300.5,349.5L299.5,347.3L298.7,345.0L300.5,343.6L302.5,342.5L303.8,340.5L306.0,339.6L308.4,340.2L310.5,341.4L312.7,342.5L314.9,343.5L316.8,345.0L319.1,345.3L321.4,344.9L323.6,343.9L325.9,344.1L328.2,343.7L330.4,343.4L332.7,343.3L335.0,343.2L337.5,342.7L340.0,341.8L341.4,343.6L343.1,345.2L344.7,346.9L346.1,348.7L347.4,350.6L349.7,349.9L352.1,350.1L354.5,349.9L356.7,349.3L359.1,349.1L361.5,348.6L363.9,348.7L366.3,349.0L368.7,349.2L371.1,349.4L373.5,349.0L375.9,349.4L378.3,349.1L380.3,350.1L382.5,350.8L384.5,351.7L386.5,352.7L388.6,353.6L390.5,355.2L392.8,356.4L394.7,358.2L396.9,359.4L398.9,360.9L401.5,361.0L404.0,361.7L406.6,362.2L409.2,362.4L410.4,364.5L410.7,366.8L411.5,369.0L412.1,371.2L412.1,373.5L412.4,375.7L413.4,377.8L413.6,380.0M269.7,301.5L267.6,302.7L265.9,304.3L264.5,306.3L262.5,307.6L261.0,309.4L258.9,310.6L257.1,311.9L255.7,313.6L253.9,315.0L252.4,316.6L251.0,318.3L249.4,319.8L248.0,321.5L246.3,323.3L245.1,325.4L243.1,326.8L241.6,328.7L242.6,331.1L242.9,333.7L243.0,336.3L245.0,338.1L247.6,339.1L249.4,341.1L251.9,340.7L254.4,340.7L257.0,341.5L259.5,340.7L262.0,341.1L264.0,343.2L265.2,345.9L263.0,346.3L261.1,347.9L258.8,347.9L256.7,348.9L254.6,349.5L252.6,350.6L252.4,352.9L253.2,355.1L253.2,357.3L254.4,359.4L254.2,361.7L253.3,363.8L252.9,366.1L252.1,368.3L252.1,370.7L251.0,372.8L248.6,372.3L246.3,371.9L243.8,372.7L241.5,372.2L239.1,371.7L236.8,371.2L234.4,371.7L232.0,371.2L230.6,373.0L229.0,374.6L227.2,376.0L225.5,377.5L223.8,379.0L222.5,380.8L221.0,382.4L219.3,383.9L216.8,382.4L214.5,380.7L216.0,379.0L217.6,377.5L219.3,376.0L219.9,373.2L221.4,370.7L222.5,368.0L223.0,365.4L222.4,362.7L222.5,360.1L220.5,359.1L218.1,358.9L216.2,357.6L214.1,356.7L212.0,356.0L209.8,355.4L207.4,353.8L205.0,352.2L202.6,352.6L200.2,352.8L197.8,353.0L195.5,353.8L195.3,356.5L194.9,359.2L193.9,361.7L194.4,364.2L195.1,366.6L196.3,368.8L197.1,371.2L197.5,373.4L197.5,375.7L198.4,377.8L198.6,380.0L198.7,382.3L198.2,384.8L197.0,387.0L196.5,389.5L195.8,391.9L194.5,394.1L193.9,396.5L191.9,398.1L190.9,400.4L189.0,402.1L187.7,404.2L186.0,406.0M92.0,362.8L94.2,363.2L96.5,362.9L98.7,362.5L101.0,362.5L103.2,362.3L105.5,362.8L107.7,362.7L109.9,362.4L112.2,362.6L114.4,362.6L116.7,363.1L118.9,362.8L121.3,362.7L123.4,364.0L125.8,363.7L128.1,364.2L130.4,364.3L132.7,365.1L135.0,365.0L137.3,365.9L139.8,366.3L142.2,366.8L144.5,367.6L147.0,368.0L148.0,370.2L149.7,371.9L150.6,374.1L151.7,376.3L153.5,378.0L155.0,379.8L156.0,382.0L157.9,383.4L159.3,385.4L161.0,387.0L162.5,388.9L164.3,390.4L166.5,391.5L168.2,393.1L169.7,395.0L171.9,396.0L174.0,397.1L175.8,398.8L177.7,400.1L180.0,401.0L181.7,403.0L184.2,404.1L186.0,406.0M186.0,406.0L185.2,408.3L185.4,410.8L184.9,413.2L184.4,415.6L182.6,417.0L181.5,419.1L179.9,420.7L178.0,422.0L176.1,424.1L174.9,426.7L176.1,428.7L177.1,430.8L178.0,433.0L176.0,434.5L174.1,436.1L172.6,438.2L170.5,439.5L168.5,441.0L170.2,443.3L171.7,445.7M171.7,445.7L169.6,447.3L167.7,449.2L165.4,450.5L164.2,452.6L162.8,454.5L162.2,456.8L163.2,459.9L164.0,463.0L162.5,465.1L161.5,467.5L159.9,469.6L158.3,471.6L156.6,473.1L155.4,475.1L153.2,476.1L151.5,477.7L150.5,480.0L148.3,480.9L147.0,482.9L144.2,484.4L141.3,485.7M171.7,445.7L173.8,445.0L175.8,444.0L177.6,442.5L179.7,441.9L181.7,440.9L183.8,440.1L185.5,438.6L187.6,437.8L189.4,439.0L191.3,440.2L193.4,440.9L195.5,441.8L197.7,442.4L199.5,443.7L201.5,444.6L203.4,445.7L205.6,446.6L207.9,447.3L210.2,447.8L212.6,448.1L214.7,449.3L217.0,450.0L219.3,450.5L221.8,450.1L224.3,450.9L226.9,450.7L229.4,450.1L231.9,450.5L232.5,452.8L234.4,454.5L235.1,456.8L237.2,455.8L239.4,455.4L241.5,454.5L243.6,453.7L245.7,453.0L247.8,452.0L249.3,450.1L250.8,448.1L252.3,446.1L253.8,444.2L255.7,442.6L258.0,442.5L260.2,442.2L262.4,441.7L264.6,441.6L266.8,441.0L268.0,443.0L269.2,445.1L270.0,447.3L272.5,448.0L274.9,449.3L277.7,449.2L280.0,450.5L282.1,449.4L284.1,448.1L286.5,447.5L288.5,446.1L290.8,445.7L293.1,445.4L295.4,445.2L297.8,445.1L300.1,445.1L302.4,444.4L304.8,444.6L307.0,443.6L309.3,443.5L311.6,443.0L314.0,443.2L316.2,442.8L318.4,443.5L320.6,443.5L322.8,442.9L325.0,442.9L327.2,443.1L329.4,443.5L331.6,443.5L333.8,443.2L336.0,443.7L338.3,443.8L340.7,443.6L342.9,444.2L344.7,445.6L346.6,446.9L348.0,448.7L349.7,450.3L351.5,451.7M351.5,451.7L351.8,454.2L351.8,456.7L351.2,459.2L352.0,461.8L351.2,464.3L351.5,466.8L351.1,469.5L351.0,472.1L351.6,474.8L351.5,477.5L351.0,480.1L350.6,482.6L350.1,485.2L349.3,487.7L349.4,490.4L350.7,492.7L352.5,494.6L353.7,496.9L355.6,498.7L358.0,499.8L360.1,501.2L359.3,503.3L358.5,505.4L358.0,507.6L356.0,509.0L353.6,509.0L351.5,510.0L349.4,511.0L347.2,511.9L347.2,515.1L347.2,518.4M271.7,528.1L272.3,525.9L272.6,523.6L273.6,521.5L273.7,519.2L274.9,517.1L275.7,514.9L276.1,512.7L276.8,510.5L277.4,508.3L279.9,507.6L282.1,506.4L284.0,504.6L286.6,504.1L288.7,502.7L289.1,500.4L288.8,498.1L289.4,495.8L289.5,493.5L290.1,491.3L292.5,491.6L294.7,492.8L296.9,493.9L299.4,494.0L301.5,495.3L303.8,495.8L306.3,495.9L308.5,497.0L310.7,497.7L313.0,497.7L315.3,498.3L317.6,498.4L319.8,498.7L322.1,498.5L324.3,499.3L326.6,499.7L328.9,499.9L331.2,499.8L332.7,501.9L333.8,504.2L335.5,506.2L336.9,508.3L336.7,510.7L336.2,512.9L335.6,515.2L334.9,517.4L334.0,519.6L336.2,519.4L338.4,520.0L340.6,520.4L342.8,520.4L345.0,520.5L347.2,518.4M413.6,380.0L411.2,380.8L408.7,381.3L406.3,382.5L403.8,383.0L401.3,383.5L398.9,384.5L396.4,384.6L394.0,384.9L391.5,384.1L389.1,384.3L386.6,384.6L384.2,384.5L381.9,383.1L379.8,381.5L380.1,384.1L380.4,386.7L381.2,389.2L381.2,391.8L383.7,391.9L386.0,392.7L388.2,393.9L390.7,393.8L393.0,394.8L394.0,397.2L395.3,399.5L396.0,402.1L394.5,404.0L392.8,405.8L390.9,407.3L389.3,409.2L387.7,411.1L385.6,412.4L383.6,413.8L381.3,414.7L379.0,415.4L377.0,416.8L374.8,417.8L372.4,418.3L370.6,419.8L368.8,421.3L366.7,422.6L365.0,424.2L364.3,426.6L362.9,428.7L361.8,430.9L360.6,433.1L360.2,435.4L358.4,437.1L358.4,439.5L357.6,441.7L356.4,443.6L355.9,445.8L354.7,447.8L353.0,449.7L351.5,451.7M413.6,380.0L415.8,380.2L418.1,380.3L420.3,380.6L422.4,381.5L424.3,379.8L425.6,377.7L427.5,376.0M429.8,365.3L428.9,367.9L428.7,370.7L427.6,373.2L427.5,376.0M444.3,286.6L444.7,289.2L444.8,291.7L444.7,294.3L446.4,296.2L447.5,298.6L449.2,300.5L450.8,302.4L450.3,305.2L449.8,308.0L448.7,310.6L447.5,313.6L446.7,316.7L448.0,318.7L449.9,320.0L451.9,321.2L453.5,322.8L454.8,324.8L457.2,326.5L459.2,328.7L461.0,331.0L458.6,332.5L456.1,333.5L453.3,333.8L450.8,335.0L448.2,334.9L445.7,335.9L443.1,335.9L441.0,336.8L439.4,338.5L437.4,339.5L435.4,340.7L433.6,341.9L432.3,344.0L430.3,345.1L428.3,346.2L427.7,348.6L426.9,351.0L426.9,353.6L427.9,355.8L428.3,358.2L428.3,360.7L429.6,362.9L429.8,365.3M429.8,365.3L432.1,365.0L434.4,364.7L436.8,364.9L439.1,365.0L441.3,363.9L443.7,364.4L446.0,363.9L448.0,365.0L450.0,366.0L452.2,366.6L454.1,367.8L456.3,368.3L458.7,367.7L461.2,367.3L463.6,366.7L466.2,366.8L468.6,366.0L471.1,365.6L473.5,364.5L475.9,363.6L478.6,363.4L481.0,362.4L483.4,361.5L486.0,360.7L488.5,359.4L491.0,358.5L493.6,357.5L495.8,358.2L497.5,359.7L499.9,360.0L501.7,361.5L504.3,362.5L506.7,363.8L509.3,364.8L511.9,365.6L514.3,364.2L516.9,363.3L519.7,362.9L522.1,361.5L523.9,359.6L525.7,357.7L527.3,355.6L528.6,353.3L530.3,351.3L532.6,350.5L534.5,349.1L536.3,347.5L538.4,346.3L540.5,345.2L543.3,345.4L545.9,346.5L548.6,347.3M548.6,347.3L550.1,345.5L550.3,343.0L551.7,341.2L552.7,339.1L551.8,336.6L551.2,334.1L551.3,331.4L550.6,328.9L551.4,326.2L552.2,323.6L553.3,321.1L554.7,318.7L554.2,316.5L553.4,314.3L552.6,312.1M548.6,347.3L549.1,349.7L548.9,352.0L548.1,354.4L548.9,356.8L548.5,359.1L548.6,361.5L547.0,363.6L545.1,365.4L543.7,367.5L541.9,369.5L540.5,371.7L538.4,372.9L536.6,374.5L534.5,375.8L532.5,377.2L530.1,377.8L528.4,379.7L526.4,381.1L524.1,381.9L521.5,382.2L519.3,383.9L516.6,383.9L514.5,385.6L511.9,386.0L509.9,387.2L508.0,388.6L505.6,389.2L503.7,390.5L501.6,391.6L499.5,392.7L497.6,394.1L497.9,396.9L499.2,399.5L499.7,402.3L501.7,403.6L503.8,404.7L506.0,405.6L507.7,407.5L509.9,408.4L511.4,410.5L512.9,412.7L515.0,414.3L516.3,416.6L518.0,418.6L519.1,421.1L519.8,423.8L521.5,426.1L522.1,428.8M427.5,376.0L429.3,377.6L430.8,379.4L432.8,380.8L434.0,382.8L435.7,384.5L438.0,386.2L440.7,387.4L443.1,388.9L443.8,391.3L444.8,393.7L446.0,395.9L446.8,398.3L447.5,400.7L448.6,402.9L450.6,404.2L452.0,406.1L453.4,408.0L452.7,410.4L451.5,412.6L450.4,414.8L449.0,416.9L447.3,418.8L446.4,421.1M446.4,421.1L449.0,421.2L451.7,421.3L454.3,421.3L456.9,420.6L459.2,420.7L461.6,421.1L463.9,420.6L466.2,420.5L468.5,421.1L470.9,421.0L473.2,420.6L473.2,423.2L474.2,425.7L474.4,428.3L475.2,430.8L477.5,430.7L479.7,431.3L482.0,431.3L484.3,430.6L486.5,431.3L488.8,430.5L491.1,430.4L493.3,431.0L495.6,430.8L495.9,428.2L496.6,425.7L497.3,423.2L497.6,420.6L500.1,420.1L502.5,420.9L505.0,420.4L507.4,420.5L509.9,420.6L512.0,421.7L513.8,423.3L515.9,424.6L518.2,425.4L520.1,426.8L522.1,428.8M522.1,428.8L524.4,430.1L526.3,431.9L528.3,433.6L530.6,435.0L532.3,437.0L534.4,438.6L535.8,440.9L537.9,442.5M446.4,421.1L444.5,422.3L442.5,423.4L440.7,424.8L439.0,426.3L437.5,428.0L436.6,430.2L435.7,432.5L434.5,434.6L433.2,436.7L432.2,438.9L431.0,441.0L429.9,443.1L428.9,445.3L428.0,447.5L426.4,449.4L425.9,451.9L424.6,453.9L422.5,454.5L420.2,454.5L418.1,455.1L416.0,456.0L413.9,456.9L411.8,457.7L409.4,457.8L407.6,459.4L405.4,460.0L403.1,460.3L402.5,462.5L402.0,464.6L401.9,466.9L401.0,469.0L401.8,471.4L401.9,473.8L401.6,476.4L402.2,478.8L402.0,481.3L402.5,483.7L403.1,486.1L405.0,488.0L407.7,488.5L409.6,490.4L407.4,493.7L405.1,493.1L402.9,492.4L400.9,491.1L398.7,490.3L396.5,489.7L394.5,488.3L391.2,488.2L388.0,488.3L389.3,490.3L390.0,492.5L390.9,494.6L391.2,497.0L392.4,499.0L392.8,501.4L393.3,503.9L393.8,506.3L393.7,508.8L393.8,511.3L394.0,513.8L394.5,516.2L392.6,517.8L391.2,519.7L390.1,521.9L388.7,523.8L386.6,525.2L385.1,527.1L383.8,529.1L382.4,530.9L380.6,532.5L379.5,534.5L378.3,536.5L376.9,538.3L375.2,539.9L373.3,541.6L370.8,542.3L368.5,543.4L366.3,544.6L364.4,546.3M364.4,546.3L366.9,545.9L369.5,545.8L372.0,545.7L374.5,545.2L377.0,544.7L379.5,544.2L381.6,543.2L383.8,542.4L385.8,541.1L387.9,540.2L390.3,539.7L392.6,539.1L394.5,537.7L396.3,536.3L398.0,534.8L399.8,533.3L401.7,531.9L403.7,530.8L405.3,529.1L407.4,527.8L409.8,527.1L411.5,525.1L413.8,524.0L416.0,523.0L418.1,521.6L420.3,520.5L422.4,519.6L424.2,518.4L426.1,517.3L427.7,515.7L429.2,514.0L431.4,513.3L433.2,512.0L435.3,513.3L437.5,514.5L439.8,515.6L441.7,517.3L444.0,518.4L446.8,518.3L449.3,516.9L452.1,516.9L454.7,516.2L456.8,514.5L459.0,513.0L461.4,511.7L463.3,509.8L465.7,509.9L468.0,509.0M347.2,518.4L348.9,520.3L351.0,521.7L352.3,524.1L354.6,525.3L356.3,527.2L358.0,529.1L359.0,531.4L360.7,533.3L362.1,535.5L362.7,538.0L364.4,539.9L363.9,543.1L364.4,546.3M271.7,528.1L271.6,530.4L271.3,532.7L271.1,534.9L271.0,537.2L270.6,539.5L269.5,541.7L270.2,544.0L269.8,546.3L269.5,548.6L268.9,550.8L268.9,553.3L267.9,555.5L267.2,557.8L266.7,560.2L266.4,562.6L266.1,565.0L266.1,567.2L267.3,569.3L267.3,571.6L266.8,573.9L268.1,575.9L268.2,578.2L268.3,580.4L268.8,582.6L268.9,584.8L267.9,587.1L267.5,589.7L266.3,592.0L264.6,594.0L264.5,596.7L263.2,598.9L261.0,600.5L259.7,602.9L257.6,604.6L256.7,606.9L256.6,609.4L256.2,611.9L256.4,614.4L256.1,616.8L254.9,619.1L254.8,621.6L252.8,623.3L250.5,624.4L251.3,626.5L251.1,628.9L251.5,631.1L252.9,633.1L252.4,635.5L253.3,637.6L254.0,639.8L254.7,641.9L254.8,644.2L257.0,645.5L258.7,647.5L261.2,648.3L263.2,649.9L265.7,649.9L268.1,650.3L270.6,650.7L272.9,651.3L275.3,652.4L277.8,651.8L280.2,652.7L282.1,654.1L283.1,656.3L284.7,657.9L286.3,659.5L288.5,660.6L290.1,662.3L291.6,664.0L292.1,666.5L293.5,668.7L294.2,671.2L295.5,673.4L296.8,675.6L297.2,678.2M271.7,528.1L269.5,529.4L267.1,530.1L264.8,531.2L262.6,532.6L260.4,533.8L258.7,535.2L256.8,536.6L255.2,538.1L253.3,539.4L251.4,540.6L250.0,542.5L248.0,543.6L246.3,545.1L244.3,546.4L242.8,548.1L241.7,550.2L239.5,551.2L238.0,552.9L236.9,555.0L235.0,556.4L232.6,557.1L230.2,557.6L227.8,558.1L225.2,557.5L222.9,558.6L220.4,558.5L218.0,559.3L217.2,561.8L216.2,564.1L214.2,565.9L213.2,568.2L212.3,570.6L209.9,570.6L207.7,571.5L205.5,572.3L203.1,572.6L201.1,573.9L198.7,574.0L196.4,574.7L194.2,575.5L191.8,575.6L189.6,576.3L188.0,578.1L186.2,579.7L184.6,581.5L182.9,583.2L181.1,584.8L181.7,587.1L182.0,589.5L182.0,592.0L182.6,594.3L183.1,596.6L184.0,598.9L181.6,599.7L179.6,601.4L177.0,601.9L175.1,603.7L172.7,604.6L170.4,603.9L168.6,602.5L166.5,601.5M172.7,604.6L174.7,606.2L177.0,607.3L178.9,608.9L181.1,610.2L180.9,612.6L179.7,614.8L179.8,617.3L179.3,619.7L178.7,622.0L178.3,624.4L176.4,622.8L174.0,622.0M297.2,678.2L299.5,678.0L301.5,676.8L303.6,676.0L305.7,675.5L307.7,674.2L309.9,673.8L312.2,673.6L314.2,672.5L316.7,672.4L319.0,671.2L321.5,671.7L323.9,670.8L326.4,671.0L328.7,670.0L331.2,669.7L333.3,668.5L335.7,667.8L338.0,667.2L340.0,665.8L342.4,665.3L344.5,664.0M297.2,678.2L294.9,679.4L293.0,681.2L290.9,682.7L288.7,683.9L286.4,685.0L284.2,686.2L282.0,687.4L279.6,688.2L277.4,689.5L276.3,691.5L275.9,693.7L275.6,696.0L274.8,698.1L274.0,700.2L273.0,702.2L272.8,704.5L271.7,706.5L269.7,707.6L267.5,708.1L265.4,708.8L263.2,709.3L261.1,710.4L258.8,710.5L256.5,710.8L254.4,711.8L252.1,712.2L249.9,712.8L247.7,713.4L245.5,713.9L243.4,715.0M199.5,684.0L201.4,685.6L203.0,687.4L205.3,688.5L206.5,690.7L208.7,691.9L210.5,693.6L212.3,695.2L214.0,696.8L216.2,697.5L218.2,698.7L219.7,700.5L221.7,701.6L223.9,702.4L225.8,703.6L227.5,705.1L229.3,706.5L231.6,707.3L233.1,709.2L235.5,709.8L237.5,711.1L239.4,712.5L241.4,713.8L243.4,715.0M243.4,715.0L244.1,717.5L244.4,720.1L245.0,722.6L245.8,725.1L246.3,727.6L247.2,729.9L246.7,732.4L247.5,734.7L248.6,736.9L248.7,739.3L249.1,741.7L250.0,744.1L250.9,746.5L252.9,748.3L254.1,750.5L254.8,753.0L256.2,755.1L257.7,757.3L258.6,759.7L260.4,761.6L260.5,764.0L261.5,766.3L261.9,768.6L262.2,771.0L262.3,773.4L263.2,775.7L263.5,778.1L263.3,780.4L263.7,782.8L263.0,785.2L263.7,787.5L263.2,789.9L262.0,791.9L261.7,794.2L260.9,796.3L260.7,798.7L259.8,800.8L258.8,802.9L258.0,805.0M554.3,294.0L556.6,294.4L559.0,294.0L561.3,293.8L563.6,294.5L566.0,294.2L568.3,294.0L570.6,293.7L572.9,293.8L575.3,294.4L577.6,294.0M604.7,305.3L604.9,307.9L604.2,310.4L603.9,312.9L604.0,315.5L603.6,318.0L602.5,321.2M604.2,326.0L606.7,325.8L609.2,325.4L611.6,324.9L614.1,324.3L616.4,323.2L618.9,323.0L621.3,323.2L623.5,324.3L625.8,324.8L628.1,325.3L630.2,326.7L632.7,326.7L634.8,328.0L637.1,328.8L639.5,329.0L641.7,328.6L643.9,329.5L646.1,328.9L648.4,328.7L650.6,328.7L652.8,328.5L655.0,329.0L657.2,329.0L659.5,328.3L662.0,328.2L664.4,327.6L666.5,326.1L669.0,326.0L670.8,327.7L672.6,329.4L674.5,331.0L676.2,332.8L677.8,334.8L679.5,336.9L680.6,339.4L682.4,341.4L683.7,343.7L683.4,346.8L682.2,349.6M664.5,298.0L666.8,297.8L669.1,298.1L671.4,298.4L673.7,298.1L676.0,298.5L678.3,298.6L680.7,298.0L683.0,298.4L685.3,298.2L687.7,297.6L690.0,297.9L692.2,297.3L694.1,296.1L696.2,295.4L698.4,294.7L700.4,293.9L702.4,292.8L704.4,291.6L706.7,291.5L708.7,290.4L711.0,289.7L712.9,288.3L715.0,287.3L716.9,286.0L719.3,285.6L721.3,284.3L723.1,282.8L725.5,282.4L727.4,281.0L729.9,280.8L732.0,279.4L734.5,279.4L736.7,278.2L738.9,277.2L741.4,277.0L743.6,275.9L746.0,275.4L748.4,275.2L750.7,274.6L752.9,273.6L755.4,273.6L757.8,273.5L760.0,272.6L762.4,272.2L764.7,271.7L764.9,274.0L766.0,276.1L766.6,278.2L767.1,280.5L767.5,282.7L768.5,284.8M768.5,284.8L766.6,286.2L764.5,287.5L762.1,288.0L760.1,289.4L758.1,290.8L755.7,291.4L753.6,292.6L751.7,294.1L749.8,295.2L747.7,296.0L745.9,297.3L744.1,298.6L742.4,300.2L740.7,301.6L738.5,302.2L736.7,303.5L734.7,304.6L733.1,306.3L731.1,307.5L729.2,308.8L727.5,310.4L725.3,311.3L723.6,312.8L722.0,314.6L720.6,316.6L719.3,318.7L717.4,320.2L716.0,322.3L714.3,324.0L712.7,325.5L711.7,327.6L710.0,329.1L708.7,330.9L707.1,332.4L705.5,333.9L704.4,336.0L703.0,337.7L701.2,339.0M734.8,337.1L732.2,337.1L729.6,337.4L727.0,337.1L724.4,337.5L721.8,337.1L719.2,337.5L716.6,337.1L713.9,336.6L711.3,336.7L708.7,337.1L706.2,337.7L703.7,338.5L701.2,339.0M701.2,339.0L701.0,341.3L700.0,343.4L699.3,345.6L697.9,347.5L698.1,350.0L697.0,352.0L696.2,354.6L696.5,357.2L696.2,359.9L696.1,362.5L695.6,365.1L695.7,367.4L697.2,369.4L697.4,371.7L698.1,373.8L699.0,375.9L699.3,378.2M669.5,374.6L671.8,374.7L673.9,375.9L676.2,376.1L678.5,376.5L680.7,377.0L683.0,377.0L685.4,376.7L687.6,377.6L690.0,377.8L692.3,377.4L694.6,377.8L696.9,378.5L699.3,378.2M663.0,368.7L665.3,370.5L667.1,372.8L669.5,374.6M219.9,151.0L217.4,152.5L214.6,153.1L212.0,154.4" fill="none" stroke="#000" stroke-width="2.7" stroke-linejoin="round" stroke-linecap="round"/><polygon points="135.1,47.2 137.5,45.3 140.2,43.8 141.9,42.4 143.5,40.9 145.6,39.9 147.2,38.3 148.7,36.7 150.4,35.3 152.6,34.8 154.6,33.9 156.9,33.7 158.9,32.7 161.0,31.3 163.5,30.5 165.7,29.3 167.9,30.5 170.3,31.5 172.5,32.7 174.4,31.2 176.6,30.3 178.9,29.7 181.0,28.5 183.5,27.6 186.2,27.5 188.7,26.6 191.2,26.0 193.7,26.7 196.2,26.8 198.8,26.8 201.3,26.8 204.1,26.1 206.9,25.2 209.8,25.1 211.5,26.8 213.0,28.7 214.9,30.2 216.3,32.0 218.5,32.8 220.2,34.2 221.4,36.3 223.2,37.5 225.1,38.7 227.1,39.7 229.1,41.0 231.4,41.4 233.2,42.8 235.3,43.8 237.2,45.3 239.3,46.6 241.6,47.6 243.7,48.9 245.5,50.6 247.1,52.4 248.6,54.3 250.6,55.7 253.0,56.5 255.4,57.5 257.4,59.1 259.8,60.4 261.5,62.7 263.9,64.1 265.9,65.9 267.2,69.5 269.4,69.1 271.7,69.4 273.8,68.7 276.0,68.0 278.2,68.1 280.3,67.0 282.6,67.0 284.8,67.1 287.0,66.6 289.2,65.3 291.5,64.3 294.0,63.8 296.3,62.7 298.9,62.4 301.0,61.0 303.2,59.9 305.8,59.9 308.0,58.7 310.4,58.5 312.6,57.4 315.0,56.7 317.1,57.4 319.3,57.5 321.5,57.8 323.6,58.5 325.7,59.4 327.9,59.4 330.1,59.7 332.2,60.4 334.4,60.5 336.5,61.3 338.6,62.0 340.8,62.4 342.2,64.3 343.5,66.2 345.0,68.0 344.6,70.3 344.3,72.6 343.7,74.8 342.8,77.0 342.3,79.2 341.3,81.4 340.8,83.6 340.7,86.1 339.7,88.4 339.5,90.9 339.0,93.3 338.5,95.7 338.4,98.2 338.0,100.6 335.8,101.5 333.6,102.4 331.5,103.4 329.0,103.5 326.9,104.5 324.8,105.7 322.3,105.7 320.2,106.8 318.0,107.7 315.9,108.7 313.9,109.9 312.0,111.3 309.7,112.0 310.6,115.0 312.5,117.6 312.9,119.9 312.6,122.2 312.0,124.4 312.9,126.7 312.5,129.0 315.3,129.7 318.2,130.3 321.0,131.0 322.4,132.9 322.8,135.3 324.4,137.1 326.0,139.0 326.6,141.3 324.3,142.9 322.4,144.8 319.8,145.9 317.6,146.8 315.5,147.8 313.5,148.9 311.9,150.8 309.6,151.5 308.4,149.4 306.6,147.7 305.4,145.6 304.0,143.6 301.4,144.9 298.8,146.1 296.0,147.0 295.8,149.9 294.9,152.6 296.3,154.6 298.3,156.1 299.4,158.3 300.1,160.5 302.1,161.8 302.8,164.0 302.3,166.2 303.1,168.5 303.3,170.8 302.8,173.0 303.7,175.4 305.0,177.5 306.2,179.8 309.6,177.6 313.0,176.4 314.3,178.8 316.1,180.9 317.6,183.2 319.8,184.7 322.3,185.7 324.2,187.6 326.6,188.9 328.9,190.0 330.9,191.6 333.7,191.8 335.7,193.4 337.6,195.0 338.5,197.3 340.2,199.0 342.3,200.6 344.8,201.2 346.9,202.7 349.3,203.6 351.5,204.5 353.8,205.2 356.1,206.1 358.3,207.0 361.1,208.3 364.0,209.3 362.4,211.2 360.3,212.5 358.3,213.8 356.3,215.0 354.9,216.7 352.9,217.9 351.3,219.5 349.3,220.6 347.7,222.4 345.8,223.9 344.0,225.5 342.5,227.4 341.4,229.4 341.3,231.7 340.9,233.9 340.0,236.0 339.8,238.4 339.6,240.8 339.0,243.1 338.3,245.4 340.6,246.7 342.9,247.9 345.4,248.7 347.8,249.8 350.0,251.3 352.3,252.0 354.4,253.1 356.4,254.5 358.7,255.3 360.5,257.0 362.8,257.7 365.1,258.6 367.2,259.7 369.5,260.4 371.3,262.2 373.6,263.0 375.6,264.5 377.9,265.4 379.8,267.0 382.1,267.9 384.3,269.1 386.4,270.4 388.3,271.9 390.5,272.5 392.4,273.8 394.4,274.7 396.5,275.7 398.8,275.9 400.6,277.4 402.8,278.0 404.9,278.8 406.9,279.8 409.0,280.7 411.2,281.4 413.5,281.9 415.6,282.8 417.7,283.8 419.9,284.6 422.1,285.6 424.5,285.5 426.6,286.6 428.8,287.0 431.0,286.9 433.2,286.8 435.5,287.1 437.7,286.2 439.9,286.9 442.1,287.0 444.3,286.6 446.6,286.9 448.7,288.2 450.8,289.3 453.2,289.3 455.2,290.7 457.4,291.4 459.8,291.7 462.0,292.5 464.2,293.0 466.2,294.0 468.0,295.5 470.3,295.9 472.4,296.7 474.4,297.7 476.2,299.1 478.6,299.3 480.7,299.9 482.6,301.3 484.8,302.4 487.3,302.3 489.7,302.9 491.8,304.2 494.4,304.0 496.8,304.4 498.9,305.8 501.4,305.7 503.7,306.3 506.0,307.2 508.3,308.1 510.8,307.8 513.0,309.0 515.5,308.8 517.9,309.2 520.3,309.5 522.6,310.3 524.9,310.8 527.4,311.1 529.7,311.6 532.0,311.9 534.4,312.0 536.6,312.9 538.9,313.4 541.3,313.2 543.6,313.3 545.9,313.1 548.0,312.1 550.3,312.0 552.6,312.1 553.0,309.5 553.7,306.9 555.3,304.7 555.5,302.0 555.5,299.3 555.2,296.6 554.3,294.0 554.7,291.7 554.6,289.4 555.2,287.1 555.2,284.8 556.0,282.6 556.7,280.4 556.2,278.1 556.5,275.8 557.4,273.6 557.2,271.3 559.4,270.3 561.9,270.4 563.9,269.2 566.3,268.9 568.4,267.6 570.8,267.4 572.9,268.7 575.4,269.2 577.6,270.2 577.9,272.6 577.7,275.1 578.0,277.5 578.5,279.9 578.8,282.3 578.5,284.8 578.7,287.2 578.8,289.6 577.6,291.7 577.6,294.0 579.2,295.8 580.9,297.5 582.1,299.6 584.5,300.6 586.8,301.5 588.9,303.0 591.2,303.2 593.4,303.9 595.7,304.2 598.0,304.7 600.2,304.7 602.5,304.9 604.7,305.3 606.8,304.4 608.9,303.8 610.9,302.5 613.1,302.0 615.0,300.8 617.8,300.5 620.6,300.2 623.0,300.4 625.4,301.0 627.6,302.3 630.0,302.5 632.2,302.3 634.4,302.0 636.6,301.9 638.9,301.7 641.2,301.7 643.5,301.0 645.7,300.7 648.0,300.4 650.3,299.8 652.6,300.1 654.9,299.7 657.2,299.5 659.6,299.0 662.1,298.4 664.5,298.0 664.1,295.4 664.0,292.8 663.0,290.3 663.0,287.7 661.7,285.8 659.4,285.1 658.3,283.0 656.1,282.1 654.9,280.1 652.8,279.1 651.3,277.4 652.8,274.5 655.2,273.8 657.6,274.2 660.0,274.3 662.4,274.1 664.8,274.0 667.2,273.9 669.5,272.7 671.9,273.0 673.8,271.9 675.6,270.6 677.9,270.3 679.7,269.0 681.9,268.2 683.7,267.0 685.7,265.8 687.7,264.5 689.3,262.8 691.3,261.5 692.9,259.7 694.4,257.9 696.8,257.1 698.4,255.3 700.3,254.0 702.4,253.2 704.8,253.1 706.7,251.7 708.9,251.3 710.7,249.8 713.0,249.4 714.6,247.4 716.8,246.0 718.0,243.8 720.2,242.4 722.0,240.6 724.3,240.2 726.1,238.6 728.4,238.3 730.5,237.5 732.5,236.5 734.7,235.8 736.7,234.7 739.1,235.4 741.7,235.2 744.1,235.9 746.5,236.7 748.8,237.7 751.4,237.7 753.6,236.2 756.2,235.4 758.3,233.8 761.0,233.3 763.2,231.8 766.1,231.7 769.1,231.8 772.0,231.8 774.1,233.4 776.6,234.4 778.5,236.4 780.8,237.7 779.1,239.7 777.9,242.0 779.9,243.8 782.4,244.8 784.7,246.3 786.7,248.0 784.5,249.8 781.6,250.6 779.4,252.4 780.9,254.3 782.4,256.3 783.8,258.3 786.1,258.6 788.3,259.1 790.7,258.9 793.0,259.2 795.2,260.0 797.5,260.3 799.8,260.0 802.1,260.5 804.7,260.7 807.0,262.2 809.6,262.4 809.0,264.6 808.7,266.9 808.6,269.1 807.6,271.3 807.7,273.6 805.9,275.2 804.2,276.9 802.4,278.6 800.3,279.9 798.3,281.3 796.5,282.9 797.9,284.7 798.6,286.9 800.1,288.6 801.5,290.3 802.6,292.3 804.0,294.1 801.7,293.5 799.3,293.1 796.9,292.8 794.6,292.3 792.1,291.0 789.7,289.8 787.2,288.5 785.0,288.1 782.7,288.8 780.5,288.2 778.2,288.7 776.0,288.5 773.7,286.9 770.8,286.5 768.5,284.8 766.6,286.2 764.8,287.7 762.7,288.8 761.0,290.4 759.3,292.2 757.4,293.7 755.7,295.4 753.5,296.5 751.6,298.1 749.8,299.7 750.0,302.1 749.4,304.3 749.0,306.5 747.8,308.7 747.9,311.0 747.6,313.2 747.1,315.5 747.0,317.8 746.2,319.9 746.0,322.2 744.6,324.3 743.6,326.6 743.1,329.2 741.6,331.2 740.4,333.4 738.5,334.6 736.9,336.3 734.8,337.1 734.8,339.6 735.6,342.0 736.0,344.5 735.9,347.1 736.3,349.5 736.7,352.0 735.8,354.4 734.5,356.6 733.9,359.0 733.0,361.4 732.2,363.7 731.6,366.0 730.1,367.9 729.4,370.2 728.3,372.3 727.4,374.5 725.1,376.0 723.0,377.7 720.6,379.1 718.0,380.0 715.6,380.2 713.2,380.0 710.8,379.0 708.4,379.1 706.0,379.0 703.7,379.0 701.6,378.2 699.3,378.2 698.9,380.4 699.2,382.8 698.4,385.0 697.8,387.2 698.0,389.4 696.8,391.5 697.3,393.9 696.8,396.0 696.5,398.2 695.5,400.3 695.5,402.6 694.9,404.9 694.8,407.3 695.0,409.7 694.4,412.0 693.8,414.3 694.2,416.7 692.9,418.9 692.7,421.3 692.3,423.6 692.5,426.0 690.4,426.8 688.5,427.9 686.4,428.5 684.7,430.2 682.8,431.2 680.7,432.0 679.2,430.0 678.2,427.8 677.7,425.3 676.3,423.2 675.6,420.8 676.1,418.3 675.4,415.9 675.7,413.4 675.3,410.9 674.8,408.5 674.5,406.2 674.2,403.8 672.8,401.7 672.6,399.4 672.2,397.0 671.8,394.7 671.6,392.4 671.3,390.0 670.4,387.8 670.5,385.6 670.6,383.4 670.2,381.2 669.6,379.0 669.7,376.8 669.5,374.6 668.7,376.9 668.2,379.2 668.1,381.6 667.7,383.9 666.9,386.1 666.8,388.5 666.0,390.8 664.6,392.8 664.5,395.4 662.9,397.3 662.1,399.6 661.4,401.9 660.1,404.0 657.9,405.1 655.7,406.3 653.3,406.9 651.3,408.5 649.6,406.2 647.4,404.5 645.4,402.6 644.6,400.1 643.4,397.7 641.5,395.7 641.0,393.0 639.5,390.8 640.8,388.5 642.0,386.1 642.5,383.4 644.4,382.1 645.9,380.3 647.6,378.7 649.6,377.6 651.3,376.0 653.1,374.5 655.3,373.8 657.2,372.4 659.3,371.4 661.0,369.8 663.0,368.7 664.7,366.7 667.0,365.3 668.7,363.3 670.4,361.3 672.2,359.7 674.1,358.5 675.9,356.9 677.8,355.5 679.4,353.6 680.7,351.6 682.2,349.6 679.6,349.4 677.2,348.3 674.6,348.0 672.0,348.0 669.8,347.6 667.5,348.1 665.2,348.1 663.0,347.4 660.7,347.2 658.5,347.3 656.2,347.7 653.9,347.1 651.7,347.2 649.4,347.3 647.2,347.0 644.9,347.1 642.6,346.8 640.4,346.6 638.1,346.2 635.8,347.1 633.6,346.6 631.0,346.6 628.4,346.4 625.8,346.8 623.2,347.0 620.6,347.2 618.4,346.5 616.0,347.1 613.8,346.0 611.5,346.0 608.8,344.2 605.9,342.7 605.4,339.8 604.7,337.0 604.2,334.8 604.3,332.5 603.5,330.3 603.6,328.0 603.3,325.7 602.6,323.5 602.5,321.2 599.0,323.4 596.8,322.9 594.5,323.1 592.3,323.4 590.4,322.3 588.6,320.9 586.6,320.0 584.3,317.8 582.1,315.5 578.7,314.4 575.8,315.5 573.0,316.6 570.0,315.2 567.4,313.2 564.5,313.4 561.7,314.4 560.3,316.5 559.4,318.9 557.0,321.0 555.0,323.4 553.0,326.0 550.4,328.0 550.6,330.3 552.0,332.4 552.0,334.8 552.6,337.0 554.5,335.5 556.1,333.6 558.3,332.5 561.2,333.0 564.0,333.6 566.1,335.1 568.5,336.0 570.8,337.0 573.1,337.6 575.2,338.9 577.6,339.3 578.8,341.5 579.8,343.8 577.6,346.0 575.3,345.8 573.1,346.5 570.8,347.1 568.5,346.3 566.3,347.5 564.0,347.2 562.2,348.6 560.0,349.2 558.3,350.6 557.0,353.7 555.0,356.3 557.0,357.7 558.8,359.3 560.9,360.4 563.0,361.7 564.8,363.6 566.2,365.8 567.9,367.9 569.8,369.7 571.6,371.6 571.2,373.8 571.2,376.1 570.8,378.4 569.9,380.6 570.1,382.9 570.1,385.8 571.6,388.5 571.6,391.4 573.7,393.0 575.5,394.9 577.2,397.0 577.3,399.9 578.5,402.6 578.6,405.5 579.2,407.7 578.9,410.1 579.8,412.3 579.2,414.7 580.0,416.9 580.6,419.1 580.7,421.5 581.4,423.8 582.6,425.9 582.9,428.2 583.0,430.7 583.8,433.0 584.4,435.4 585.0,437.8 584.7,440.4 585.2,442.8 585.7,445.2 583.5,445.4 581.3,444.8 579.0,445.5 576.8,445.2 574.6,445.6 572.4,445.3 570.2,444.7 567.9,445.1 565.7,445.5 563.5,445.3 561.3,444.9 559.0,445.3 556.8,444.6 554.6,445.0 552.1,445.1 549.9,443.9 547.5,443.8 545.1,443.2 542.6,443.4 540.2,443.3 537.9,442.5 536.2,444.3 534.0,445.4 532.5,447.4 530.5,448.8 528.1,449.7 526.2,451.1 524.3,452.6 522.6,454.4 523.3,456.9 524.6,459.2 525.3,461.7 526.5,464.0 527.7,466.3 525.4,467.9 523.2,469.8 520.9,471.4 519.6,473.5 517.8,475.1 516.0,476.7 514.1,478.2 512.7,480.2 510.3,481.2 508.9,483.2 507.3,485.0 505.2,485.8 503.0,486.6 501.3,488.3 499.0,488.6 496.9,489.5 495.2,491.2 493.3,492.4 490.9,492.7 488.8,493.6 487.0,495.0 485.0,496.1 483.4,497.8 481.5,499.0 480.0,500.8 478.1,502.1 476.1,503.3 474.1,504.4 472.7,506.3 470.3,506.9 469.1,509.1 466.7,509.6 465.3,511.6 463.1,512.5 461.3,513.9 459.7,515.5 457.8,516.7 456.6,518.7 454.8,520.1 453.5,522.0 451.5,523.2 450.5,525.3 448.3,526.3 447.0,528.1 445.8,530.1 443.6,531.0 442.5,533.1 441.1,534.9 439.3,536.3 437.9,538.1 436.0,539.3 434.4,540.9 432.4,542.0 430.5,543.1 429.1,544.9 427.2,546.1 425.5,547.5 423.9,549.0 422.4,550.7 420.8,552.3 419.2,553.8 417.2,554.8 415.5,556.3 413.9,558.0 411.7,558.9 410.2,560.7 408.2,561.9 406.5,563.3 404.6,564.7 403.1,566.5 401.3,567.8 399.3,569.0 398.1,572.5 399.1,574.8 400.4,577.0 399.3,580.4 397.1,581.4 394.7,581.7 392.5,582.6 390.0,583.3 388.0,585.0 385.4,585.6 383.4,587.2 381.1,587.1 378.9,586.7 376.6,587.2 374.4,587.2 372.4,588.1 370.5,589.3 368.7,590.6 367.9,593.4 366.4,595.9 365.3,598.5 364.1,600.4 363.1,602.3 361.9,604.2 359.7,603.4 357.4,603.0 356.2,600.8 353.9,600.3 351.7,600.8 349.3,601.6 347.1,602.8 345.0,604.2 344.2,606.3 342.5,607.8 341.5,609.8 340.2,612.0 338.8,614.1 338.1,616.6 338.6,618.9 338.5,621.2 337.6,623.4 338.1,625.7 339.1,627.9 339.6,630.3 340.6,632.5 341.5,634.7 341.3,637.3 341.0,639.9 340.6,642.4 340.4,645.0 340.3,647.4 341.2,649.5 341.4,651.8 342.4,654.0 342.6,656.3 342.9,658.7 343.6,661.0 344.0,663.4 344.4,665.8 345.4,668.0 345.1,670.3 343.5,672.1 343.1,674.4 342.5,676.6 341.7,678.8 340.4,680.9 339.7,683.2 338.5,685.2 336.9,687.1 335.9,689.2 334.7,691.3 334.0,693.6 333.7,695.9 333.2,698.1 332.3,700.2 331.5,702.4 330.7,704.5 330.5,706.9 329.4,708.9 328.9,711.2 328.4,713.4 329.1,715.7 329.0,718.2 330.3,720.4 330.2,722.9 331.1,725.2 331.2,727.6 332.2,729.8 332.3,732.2 332.9,734.4 333.3,736.7 334.0,739.0 333.7,741.4 332.6,743.6 332.3,745.9 332.5,748.4 332.2,750.8 331.2,753.0 328.9,753.8 327.2,755.5 325.3,757.1 323.3,758.2 320.9,759.0 319.2,760.7 317.0,761.6 315.7,763.6 314.0,765.3 312.9,767.4 311.2,769.1 309.5,770.8 308.5,773.0 310.5,774.3 312.7,775.1 314.8,776.1 317.0,777.0 318.7,779.1 320.0,781.4 317.6,780.8 315.3,780.3 312.9,779.9 310.5,779.5 308.1,778.7 305.7,778.5 304.0,780.2 301.8,781.1 299.7,782.3 298.5,784.6 296.4,785.8 294.4,787.0 292.6,788.6 292.0,791.1 289.9,792.5 288.7,794.5 287.8,796.8 286.0,798.4 284.3,799.9 283.1,802.0 280.8,803.0 279.6,805.0 277.5,806.1 275.9,807.8 274.6,809.7 272.3,810.1 270.0,809.8 267.8,810.1 265.5,809.4 263.2,809.7 261.3,808.4 259.7,806.8 258.1,805.2 257.1,803.0 255.0,801.8 253.5,800.2 252.0,798.4 250.9,796.3 249.9,794.1 248.7,792.1 248.1,789.7 246.5,787.9 245.5,785.7 244.8,783.3 243.4,781.4 242.4,779.4 241.5,777.4 241.5,775.1 240.2,773.2 240.0,770.9 239.2,768.9 237.9,767.0 237.1,765.0 236.1,763.0 236.1,760.6 235.0,758.7 234.2,756.6 233.4,754.5 232.5,752.4 231.8,750.3 231.8,747.9 230.3,746.1 230.0,743.8 229.4,741.7 228.6,739.6 227.8,737.4 227.0,735.4 226.4,733.2 225.1,731.3 224.6,728.9 223.7,726.8 222.3,725.0 221.0,723.1 220.6,720.7 218.9,719.0 217.8,716.9 217.2,714.6 216.4,712.5 215.0,710.6 213.9,708.6 212.4,706.9 212.1,704.4 210.2,702.9 209.3,700.8 208.7,698.5 207.4,696.6 206.3,694.6 204.5,693.0 203.8,690.8 203.2,688.4 201.8,686.4 200.5,684.4 200.3,681.9 199.5,679.6 197.7,677.8 197.1,675.4 196.7,673.0 195.3,671.0 194.4,669.0 193.6,666.9 193.3,664.7 192.1,662.8 191.9,660.5 191.0,658.5 190.3,656.4 189.3,654.4 188.0,652.5 187.8,650.3 186.8,648.3 185.9,645.7 184.9,643.2 184.0,640.7 183.0,638.5 181.7,636.5 180.5,634.5 180.2,632.0 178.6,630.1 177.2,628.1 177.0,625.6 175.5,623.7 174.6,621.3 173.8,618.9 172.6,616.7 171.5,614.4 170.7,611.9 170.0,609.5 169.4,607.2 167.9,605.2 167.5,602.7 166.0,600.8 165.6,598.3 163.9,596.4 163.3,594.1 162.0,592.1 161.4,589.7 160.4,587.6 160.2,585.3 159.4,583.2 158.9,580.9 157.9,578.8 157.4,576.6 156.8,574.4 156.8,572.1 155.7,570.0 154.6,567.9 154.3,565.6 154.2,563.2 153.2,561.1 152.3,559.0 152.4,556.5 150.9,554.6 150.2,552.3 150.0,550.0 148.8,548.0 148.5,545.8 148.3,543.5 147.0,541.6 146.3,539.4 146.1,537.1 144.7,535.3 144.4,533.0 143.4,530.8 143.6,528.3 142.6,526.1 142.6,523.7 141.7,521.4 141.6,519.0 141.3,516.6 141.2,514.1 140.3,511.7 139.7,509.3 139.7,506.8 139.3,504.4 138.7,502.0 138.5,499.7 138.9,497.4 139.3,495.1 139.7,492.9 140.0,490.6 140.9,488.3 142.4,486.4 143.1,484.0 144.4,482.0 144.3,479.7 143.1,477.6 142.4,475.4 141.7,473.2 141.6,470.8 140.5,468.6 139.9,466.2 139.9,463.6 138.6,461.4 138.0,459.0 137.3,456.6 138.2,454.2 138.5,451.7 138.6,449.2 138.7,446.7 137.7,444.3 137.2,441.8 136.7,439.3 136.0,436.8 135.0,434.8 134.3,432.6 133.5,430.5 133.0,428.3 130.3,429.3 127.4,429.7 126.4,431.8 126.0,434.0 125.6,436.2 125.5,438.5 125.2,440.8 124.8,443.0 124.6,445.3 123.0,447.3 122.2,449.8 120.1,451.5 119.0,453.8 116.9,455.1 114.8,456.4 112.4,457.1 110.4,458.5 108.5,460.1 106.5,461.7 104.2,462.5 102.0,463.7 99.6,464.4 97.2,465.1 94.8,466.0 92.3,466.1 89.9,467.0 87.4,467.1 85.0,468.0 83.0,466.8 80.8,465.8 79.1,464.0 76.9,463.2 74.6,462.3 72.7,460.9 70.8,459.5 68.7,458.3 67.2,456.4 65.8,454.4 64.0,452.7 62.0,451.4 59.9,450.2 58.2,448.5 56.6,446.7 54.7,445.1 53.3,443.2 51.9,441.2 49.8,439.8 48.5,437.6 46.9,435.9 45.3,434.0 43.7,432.5 42.1,430.9 40.1,429.9 38.6,428.3 36.8,427.0 36.8,422.6 39.1,422.1 41.5,422.0 43.9,421.8 46.2,420.9 48.6,421.1 51.0,420.8 53.3,420.4 55.6,419.7 58.0,419.3 60.4,419.6 62.6,418.6 65.0,418.4 67.0,416.7 69.2,415.4 71.5,414.1 73.6,412.7 72.8,410.6 72.2,408.5 70.0,409.0 67.8,409.4 65.6,409.9 63.3,409.9 61.0,410.2 58.9,411.1 56.6,411.0 54.4,410.1 52.1,409.6 50.2,408.1 48.0,407.3 45.5,407.4 43.5,406.0 41.1,405.6 38.9,405.0 36.8,403.8 34.8,402.5 32.7,401.5 30.5,400.6 28.3,399.8 26.4,398.5 24.0,398.0 23.4,395.2 22.6,392.5 20.4,390.9 18.0,389.6 15.6,388.3 17.0,386.0 18.1,383.5 18.6,380.8 19.8,378.4 21.5,376.9 23.6,376.1 25.5,374.9 27.2,373.5 29.3,372.8 31.0,371.3 33.3,371.6 35.7,371.3 38.0,371.0 40.3,371.0 42.6,370.4 45.0,370.9 47.3,370.1 49.6,370.8 52.0,370.4 54.3,369.9 56.6,370.0 59.0,369.7 61.3,370.1 63.7,370.0 66.1,370.2 68.4,369.6 70.8,370.4 73.2,369.9 75.5,369.9 77.9,370.3 80.3,370.1 82.6,369.9 85.0,370.0 86.6,368.0 88.5,366.4 89.9,364.2 92.0,362.8 91.3,360.5 91.4,358.0 90.6,355.7 89.6,353.5 89.0,351.3 89.3,348.8 88.2,346.7 87.8,344.4 86.7,342.1 85.6,339.8 84.5,337.5 83.0,335.4 82.0,333.0 79.6,332.0 76.9,332.1 74.8,330.5 72.2,330.2 71.0,328.2 70.2,325.9 68.9,323.9 68.0,321.7 67.7,319.4 66.7,317.2 66.3,314.9 65.4,312.7 65.0,310.4 62.7,309.3 60.2,308.7 57.6,308.6 55.2,307.6 54.0,305.1 52.8,302.6 51.0,300.5 51.7,298.0 52.5,295.6 53.8,293.4 55.8,292.1 57.6,290.4 58.6,288.1 60.8,286.9 62.3,285.0 63.8,283.1 64.2,280.6 65.7,278.7 66.5,276.4 68.2,274.4 70.5,272.9 72.2,270.8 75.0,270.3 77.9,269.8 80.7,269.4 82.5,271.0 83.4,273.2 85.0,275.0 87.8,275.7 90.6,275.7 93.4,276.4 95.5,275.4 97.8,274.8 100.1,274.5 102.6,274.7 104.8,273.9 107.1,273.5 109.3,272.7 111.4,271.5 113.7,271.2 116.0,270.8 117.5,268.6 118.4,266.2 119.0,263.7 120.8,262.1 122.1,260.1 123.4,258.2 124.8,256.3 126.4,254.6 127.4,252.4 129.4,250.9 131.2,249.2 133.4,248.0 135.2,246.3 137.4,245.1 139.6,244.0 141.6,242.5 142.8,240.4 144.2,238.5 145.4,236.5 147.1,234.7 148.6,232.9 150.0,231.0 151.1,229.0 152.4,227.2 152.6,224.8 153.8,222.9 154.6,220.8 156.4,219.2 157.0,217.0 159.7,217.6 162.5,218.0 164.7,217.1 166.9,216.2 168.6,214.4 171.0,213.8 172.1,211.7 172.2,209.3 173.2,207.2 173.8,205.0 175.3,203.4 177.2,202.0 178.4,200.1 180.0,198.5 181.6,196.9 183.6,195.7 185.0,194.0 185.5,191.7 185.6,189.3 186.3,187.0 187.1,184.7 187.4,182.3 188.0,180.0 188.5,177.8 189.2,175.6 189.4,173.3 189.9,171.1 189.8,168.7 190.8,166.6 190.8,164.3 193.1,163.7 194.9,162.2 196.6,160.7 198.7,159.7 201.1,159.3 203.2,158.4 205.0,157.0 207.4,156.4 209.7,155.3 212.0,154.4 209.6,154.3 207.1,154.7 204.7,154.2 202.5,153.2 200.4,152.0 197.8,152.0 195.7,150.7 193.6,149.6 191.2,149.1 189.6,146.5 187.8,144.0 185.4,143.1 182.9,142.2 180.8,140.7 178.5,139.5 175.9,138.9 173.5,137.7 170.8,137.3 168.3,136.1 165.7,135.5 165.2,133.1 163.9,131.0 163.4,128.6 162.2,126.5 161.1,124.3 160.6,121.9 159.8,119.7 160.3,117.3 160.0,115.1 159.0,112.9 158.7,110.6 158.9,108.3 158.4,106.1 158.0,103.8 158.3,101.5 157.4,99.3 157.6,97.0 157.2,94.7 159.5,93.6 161.7,92.3 164.0,91.3 166.3,90.3 168.0,88.5 170.1,87.2 172.3,86.0 174.2,84.5 175.0,82.0 175.9,79.5 173.6,79.0 171.8,77.3 169.6,76.7 167.4,76.1 166.9,73.3 166.3,70.4 165.7,67.6 163.8,66.4 161.6,65.5 159.5,64.6 157.8,63.0 156.0,61.6 153.8,60.8 151.5,60.4 149.7,58.6 147.4,58.4 145.3,57.4 142.8,56.4 140.2,56.3 137.6,56.4 135.1,55.7 134.8,52.9 135.5,50.0 135.1,47.2" fill="none" stroke="#000" stroke-width="2.7" stroke-linejoin="round"/><polygon points="688.0,661.3 685.9,668.1 683.8,676.0 682.6,687.3 681.8,698.6 679.6,707.7 679.5,717.9 680.8,728.1 682.2,728.1 683.8,715.6 685.4,704.3 686.6,708.8 688.9,711.7 689.8,698.6 687.5,695.2 688.6,687.3 690.1,677.1 691.6,667.0 690.9,660.2" fill="#111" stroke="#000" stroke-width="2.4" stroke-linejoin="round"/><ellipse cx="687" cy="675" rx="0.7" ry="1.8" fill="#f3ecb0"/><ellipse cx="684.8" cy="688" rx="0.8" ry="2.2" fill="#e9e6a0"/><ellipse cx="675.8" cy="740.5" rx="3.4" ry="5.2" fill="#f4e8a8" stroke="#000" stroke-width="2.6"/><ellipse cx="710.8" cy="836.5" rx="3.8" ry="6.5" fill="#f2b070" stroke="#000" stroke-width="2.2" transform="rotate(-15 710.8 836.5)"/><circle cx="706.5" cy="627.5" r="1.6" fill="#000"/><circle cx="699.5" cy="646.8" r="1.6" fill="#000"/><circle cx="696" cy="652" r="1.3" fill="#000"/><circle cx="724" cy="666" r="1.5" fill="#000"/><circle cx="713" cy="697.8" r="1.5" fill="#000"/><circle cx="668.5" cy="717.3" r="2.2" fill="#000"/><circle cx="668.5" cy="733.1" r="1.3" fill="#000"/><circle cx="683" cy="781.9" r="2.6" fill="#000"/><circle cx="685.3" cy="791" r="1.3" fill="#000"/><circle cx="706.5" cy="799.7" r="1.6" fill="#000"/><circle cx="692.4" cy="805.4" r="2" fill="#000"/><circle cx="701" cy="813.8" r="4" fill="#000"/><circle cx="696" cy="810" r="2.2" fill="#000"/><circle cx="708" cy="826" r="2" fill="#000"/><circle cx="116.3" cy="696.2" r="2.5" fill="#000"/><circle cx="123.9" cy="716.2" r="1.5" fill="#000"/><circle cx="138" cy="713.8" r="1.5" fill="#000"/><circle cx="146.2" cy="719.4" r="1.5" fill="#000"/><circle cx="140.2" cy="726.7" r="2" fill="#000"/><circle cx="125.7" cy="735.7" r="2" fill="#000"/><circle cx="128.5" cy="734" r="1.6" fill="#000"/><circle cx="135.3" cy="741.2" r="1.2" fill="#000"/><circle cx="136.4" cy="744.6" r="2" fill="#000"/><circle cx="164.3" cy="737.9" r="2" fill="#000"/><circle cx="127.5" cy="757.3" r="2" fill="#000"/><circle cx="163.7" cy="757" r="2" fill="#000"/><circle cx="147.4" cy="805.8" r="2" fill="#000"/><rect x="823.4" y="272.10" width="38.2" height="41.38" fill="#a6d96a"/><text x="880.8" y="300.24" font-family="Liberation Sans, sans-serif" font-size="21.6" fill="#141414">&gt;1000</text><rect x="823.4" y="313.18" width="38.2" height="41.38" fill="#d9ef8b"/><text x="880.8" y="341.31" font-family="Liberation Sans, sans-serif" font-size="21.6" fill="#141414">975-1000</text><rect x="823.4" y="354.25" width="38.2" height="41.38" fill="#ffffbf"/><text x="880.8" y="382.39" font-family="Liberation Sans, sans-serif" font-size="21.6" fill="#141414">950-975</text><rect x="823.4" y="395.33" width="38.2" height="41.38" fill="#fee08b"/><text x="880.8" y="423.46" font-family="Liberation Sans, sans-serif" font-size="21.6" fill="#141414">925-950</text><rect x="823.4" y="436.40" width="38.2" height="41.38" fill="#fdae61"/><text x="880.8" y="464.54" font-family="Liberation Sans, sans-serif" font-size="21.6" fill="#141414">900-925</text><rect x="823.4" y="477.48" width="38.2" height="41.38" fill="#f46d43"/><text x="880.8" y="505.61" font-family="Liberation Sans, sans-serif" font-size="21.6" fill="#141414">800-900</text><rect x="823.4" y="518.55" width="38.2" height="41.38" fill="#d73027"/><text x="880.8" y="546.69" font-family="Liberation Sans, sans-serif" font-size="21.6" fill="#141414">700-800</text><rect x="823.4" y="559.62" width="38.2" height="41.38" fill="#a50f26"/><text x="880.8" y="587.76" font-family="Liberation Sans, sans-serif" font-size="21.6" fill="#141414">&lt;700</text>
</svg></body></html>
